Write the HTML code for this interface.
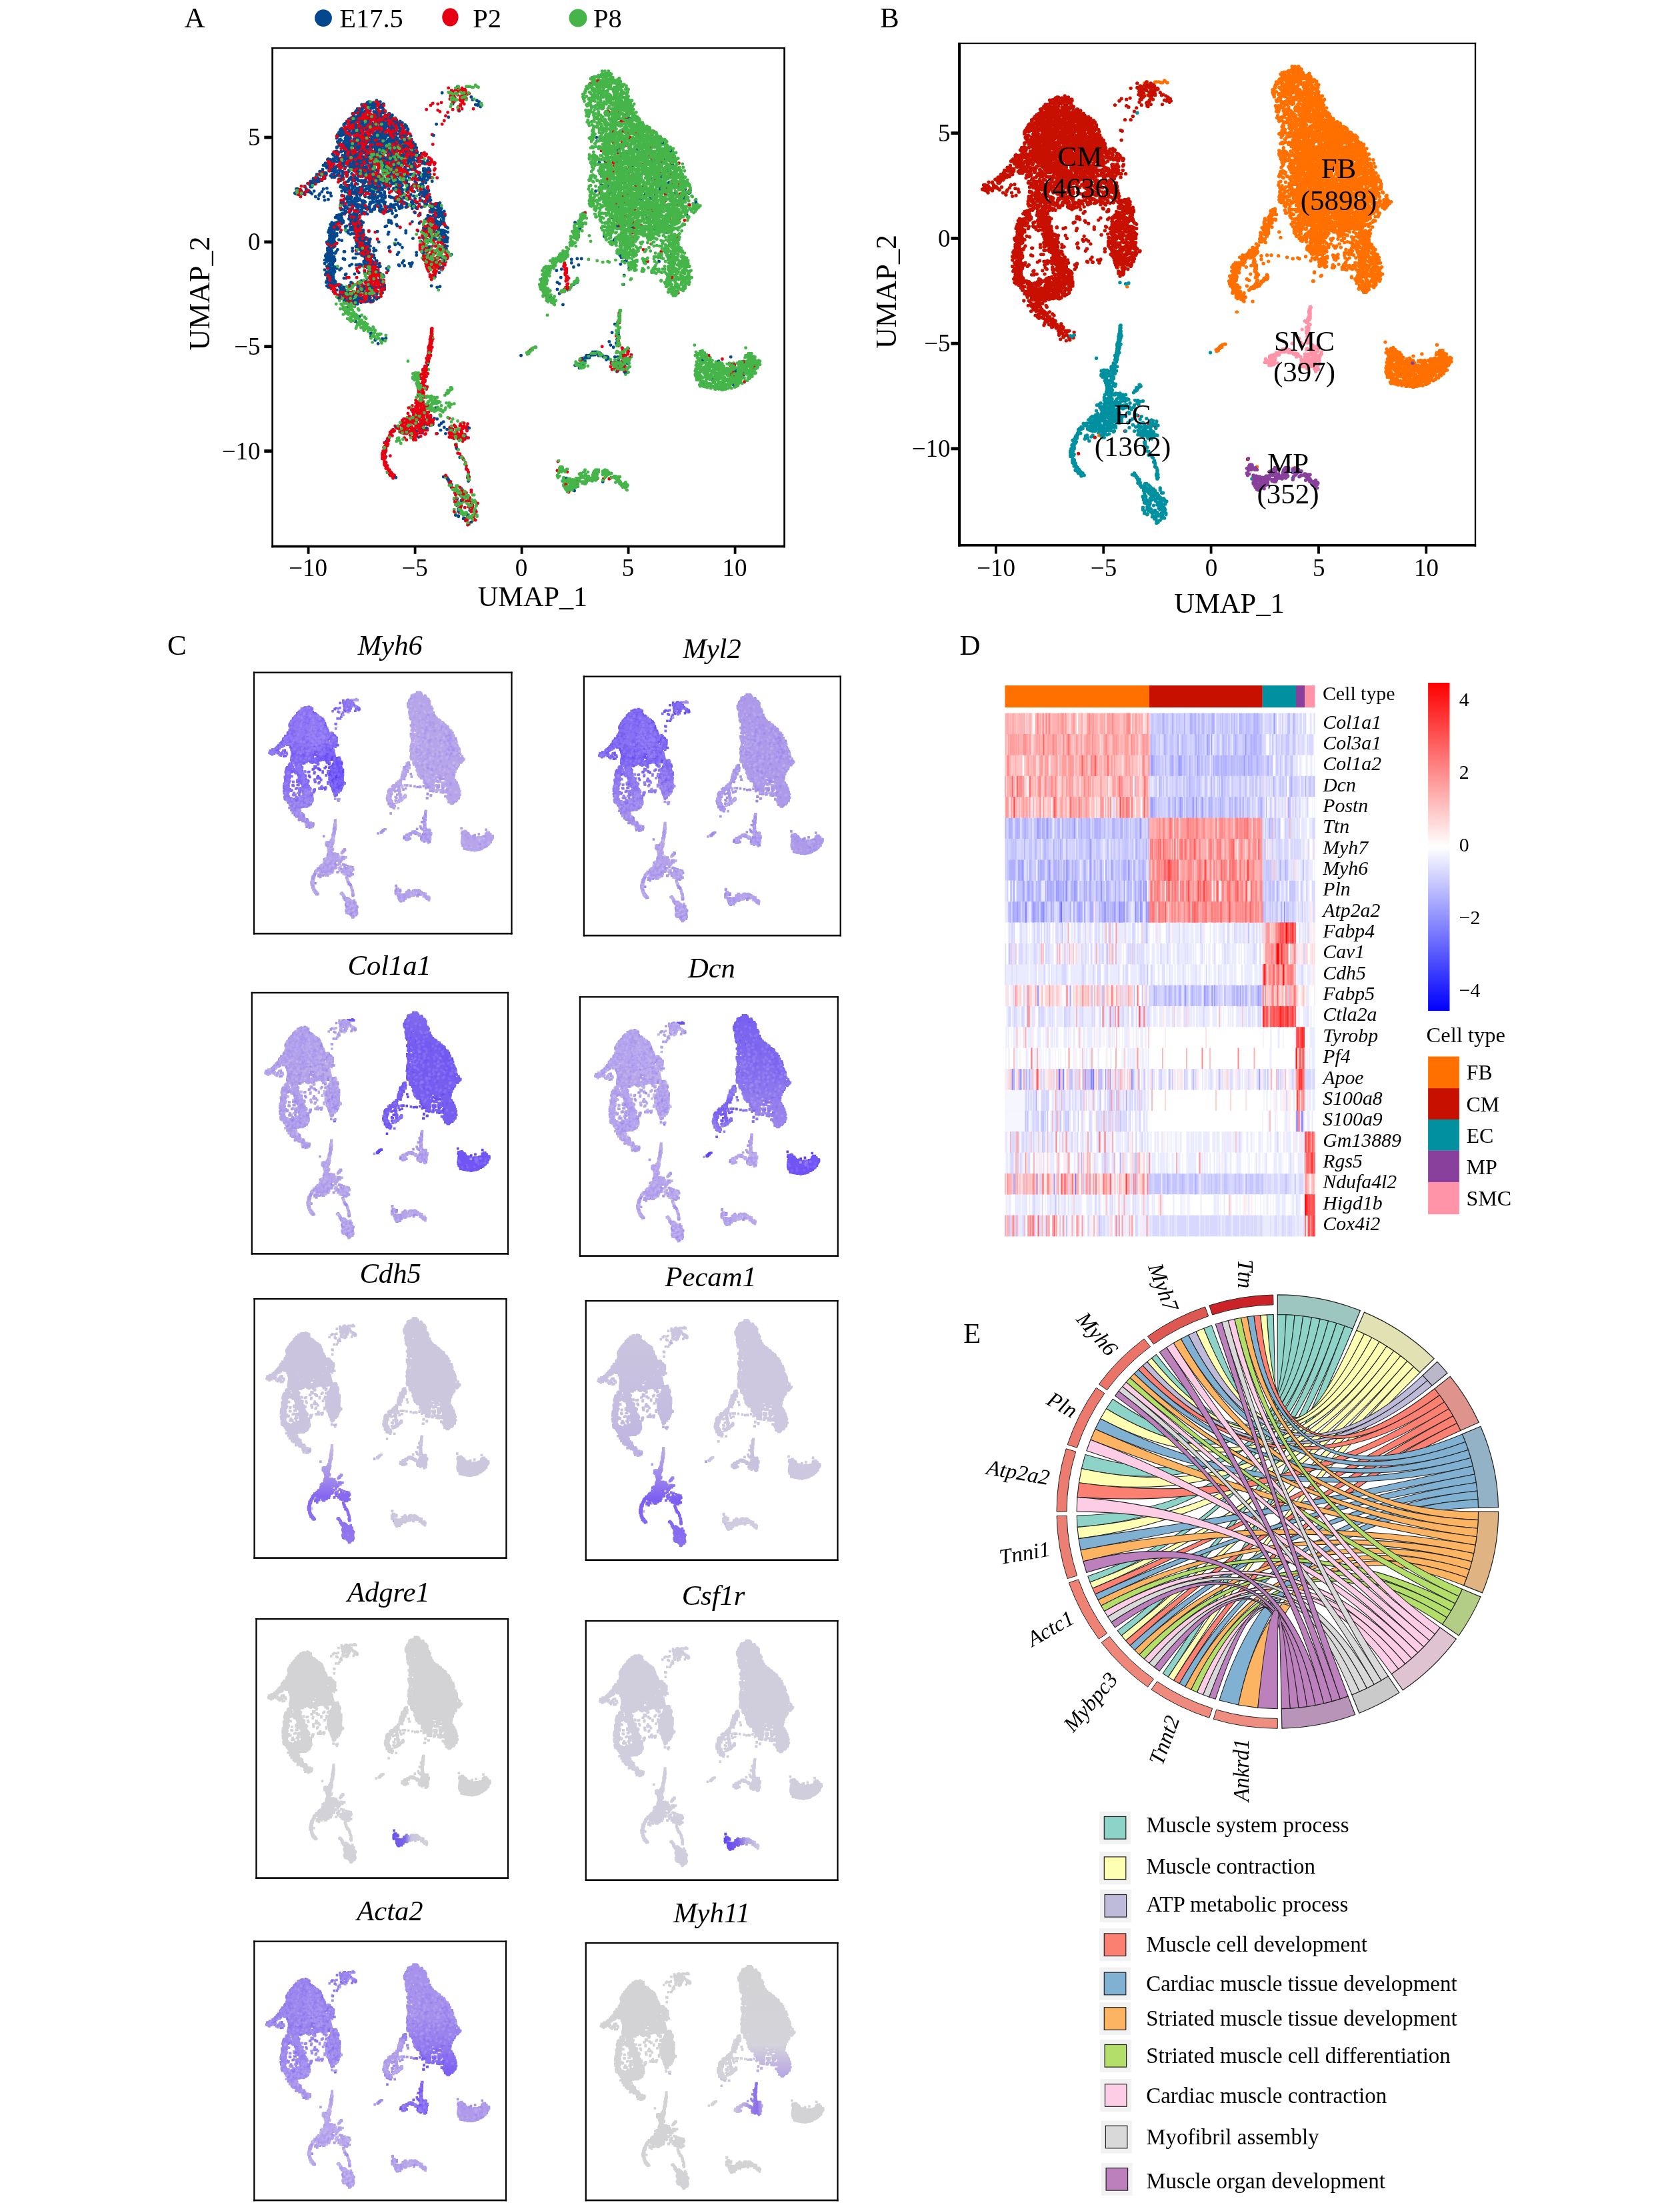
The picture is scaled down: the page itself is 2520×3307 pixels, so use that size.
<!DOCTYPE html><html><head><meta charset="utf-8"><title>fig</title><style>html,body{margin:0;padding:0;background:#fff}svg{display:block;will-change:transform}text{font-family:"Liberation Serif",serif;fill:#000}</style></head><body>
<svg width="2520" height="3307" viewBox="0 0 2520 3307">
<rect width="2520" height="3307" fill="#fff"/>
<defs>
<path id="pCME0" d="M-316 -69h0m-1 0h0m1-3h0m0-4h0m15-8h0m-4 4h0m3 8h0m-7 1h0m-2 0h0m1 1h0m0 1h0m20 4h0m-7-6h0m5-2h0m-6-9h0m9-12h0m12-16h0m-6 14h0m4 2h0m1 0h0m-9 2h0m10 1h0m-6 1h0m-4 1h0m6 1h0m-5 1h0m1 0h0m-3 1h0m9 10h0m-2 4h0m-4 5h0m7 2h0m-8 3h0m18 128h0m-4-1h0m7-4h0m-6 0h0m4-1h0m2-1h0m-10-1h0m10 0h0m-5-1h0m-4-1h0m6 0h0m-5 0h0m3 0h0m0-1h0m1 0h0m2 0h0m-2-1h0m3-1h0m-4 0h0m5-1h0m-8 0h0m5-1h0m0-1h0m3-4h0m-8 0h0m2-1h0m3-1h0m-3-1h0m4 0h0m-4-1h0m6-1h0m0-1h0m-3-1h0m1 0h0m1-1h0m-4 0h0m-3-2h0m2-2h0m5-1h0m0-2h0m-8-3h0m8-1h0m-4 0h0m0-1h0m-5-1h0m10 0h0m-7-2h0m2 0h0m2-1h0m-2-1h0m1 0h0m1-1h0m-5 0h0m6-2h0m-8 0h0m8-2h0m-3 0h0m-2-2h0m2-1h0m-3-1h0m3-1h0m2-2h0m3-2h0m-5-1h0m-1-1h0m2 0h0m2-1h0m-1 0h0m-3-1h0m4 0h0m-7-2h0m6 0h0m-6-1h0m6 0h0m3 0h0m0-1h0m-4 0h0m-2-1h0m3 0h0m2-1h0m-1-1h0m0-1h0m-1-1h0m-2-3h0m5 0h0m-4-1h0m1 0h0m3-1h0m-1-1h0m-2 0h0m2-1h0m-2-1h0m3 0h0m-2 0h0m-4-3h0m4-1h0m2-4h0m0-1h0m0-3h0m-3-40h0m-1-4h0m0-25h0m2-2h0m-8-1h0m8-4h0m-6-4h0m-1 0h0m3-2h0m-3-2h0m1-1h0m2-1h0m2 0h0m3-1h0m-6-2h0m4-2h0m-4-2h0m19-44h0m-1 1h0m-2 4h0m-1 1h0m4 1h0m-3 3h0m-1 0h0m-3 4h0m5 2h0m1 1h0m-2 0h0m-3 2h0m3 2h0m0 3h0m0 1h0m-1 0h0m-3 2h0m6 6h0m-7 0h0m1 0h0m-4 1h0m5 5h0m0 3h0m0 1h0m-3 0h0m4 2h0m-2 3h0m4 0h0m3 2h0m0 1h0m-2 1h0m-3 2h0m-2 0h0m6 3h0m-1 0h0m0 4h0m-2 4h0m-7 0h0m5 2h0m1 0h0m5 4h0m0 25h0m0 1h0m-1 9h0m-1 8h0m2 2h0m0 8h0m-4 0h0m1 1h0m-4 0h0m-2 3h0m6 1h0m3 0h0m-3 4h0m3 1h0m-6 1h0m0 1h0m-2 2h0m-1 0h0m-2 1h0m3 1h0m-3 0h0m3 1h0m-2 0h0m1 0h0m3 2h0m1 0h0m1 0h0m-6 0h0m4 1h0m-2 0h0m2 1h0m-4 5h0m2 1h0m1 0h0m-4 1h0m2 2h0m-1 2h0m-1 1h0m7 3h0m4 1h0m-10 2h0m0 6h0m-1 1h0m5 4h0m-2 3h0m-2 22h0m3 2h0m-4 3h0m1 1h0m0 1h0m1 14h0m-2 1h0m5 3h0m1 1h0m5 1h0m0 4h0m-11 2h0m1 0h0m8 1h0m1 1h0m-2 5h0m1 4h0m11 5h0m-6 0h0m2-1h0m3-5h0m3-2h0m-5 0h0m-3-4h0m-2-1h0m4-3h0m-3-1h0m0-2h0m1-1h0m8-3h0m-8-10h0m3-6h0m-2-32h0m8-25h0m-3-2h0m-3-3h0m1 0h0m5-3h0m0-2h0m-5-2h0m-5-7h0m-1-1h0m9-2h0m1-5h0m-10-3h0m1 0h0m9-1h0m-5-1h0m0-1h0m6-2h0m-5-3h0m-4-3h0m7-1h0m-7-3h0m5-5h0m4-5h0m-2-7h0m-5-1h0m3-2h0m-2 0h0m3-1h0m-1-1h0m-7 0h0m9-1h0m-6 0h0m5-1h0m-2-1h0m3 0h0m-1-6h0m1-2h0m-9-5h0m7-2h0m-6-2h0m-1-1h0m5-1h0m1 0h0m-2 0h0m5-3h0m-5-4h0m5-2h0m-8 0h0m7-1h0m-1-1h0m-3-4h0m7-1h0m-11-2h0m7-1h0m-3 0h0m0-1h0m4 0h0m-2 0h0m-3 0h0m1-3h0m7-1h0m-7-1h0m2-3h0m1-1h0m-2 0h0m-1-1h0m7 0h0m-4-2h0m4-1h0m-8 0h0m8-2h0m-7 0h0m-1-1h0m2 0h0m-4 0h0m3 0h0m6-3h0m-1-1h0m-9 0h0m8-4h0m-6 0h0m4-2h0m-2-2h0m7-1h0m-5-2h0m-1-1h0m4 0h0m-4-2h0m3-1h0m-5 0h0m0-1h0m-1 0h0m7-2h0m-5 0h0m0-3h0m3-2h0m2-2h0m-7-2h0m6-3h0m1-3h0m0-3h0m12-15h0m2 1h0m-2 1h0m-1 2h0m-2 1h0m-4 2h0m2 1h0m5 3h0m-6 1h0m7 1h0m-4 0h0m-6 0h0m1 1h0m4 0h0m-1 1h0m-1 0h0m8 1h0m-9 2h0m4 2h0m-5 0h0m-1 1h0m4 0h0m3 1h0m-2 0h0m1 0h0m3 2h0m0 1h0m-9 0h0m1 1h0m2 2h0m-2 0h0m4 2h0m-1 1h0m1 2h0m1 1h0m-5 1h0m2 1h0m2 2h0m4 5h0m-5 0h0m1 2h0m6 2h0m-6 1h0m1 0h0m-3 1h0m1 0h0m-2 0h0m8 1h0m1 1h0m-10 1h0m8 2h0m-3 2h0m4 1h0m-2 2h0m-2 3h0m5 1h0m-1 2h0m-2 2h0m-4 1h0m2 1h0m-2 1h0m4 0h0m-4 1h0m2 0h0m5 2h0m0 1h0m-6 1h0m3 1h0m-2 0h0m2 2h0m-2 0h0m-6 2h0m2 1h0m-2 0h0m5 2h0m4 1h0m-3 1h0m4 0h0m-3 1h0m3 1h0m-2 0h0m-5 0h0m5 1h0m-5 0h0m4 1h0m-2 0h0m-4 4h0m7 0h0m2 3h0m-1 3h0m-4 1h0m2 7h0m-6 2h0m4 2h0m-3 2h0m0 1h0m6 0h0m2 0h0m-7 0h0m-2 2h0m8 2h0m0 1h0m-8 2h0m10 1h0m-4 9h0m-7 0h0m9 1h0m-8 0h0m3 0h0m0 3h0m2 0h0m-6 3h0m1 0h0m5 1h0m4 0h0m-3 1h0m3 1h0m-8 1h0m8 2h0m-3 1h0m4 3h0m-5 2h0m-2 0h0m1 2h0m-5 3h0m6 1h0m4 1h0m-4 0h0m-5 1h0m4 2h0m4 1h0m-4 1h0m-5 0h0m1 1h0m7 2h0m-7 0h0m4 1h0m-1 0h0m6 1h0m-6 1h0m5 0h0m-2 1h0m-4 0h0m8 1h0m-7 1h0m4 1h0m-8 2h0m3 0h0m8 3h0m-3 2h0m-1 1h0m0 9h0m4 0h0m-3 3h0m1 2h0m0 2h0m-2 2h0m-5 2h0m5 8h0m2 0h0m-2 16h0m2 0h0m-1 5h0m-3 8h0m5 14h0m-5 13h0m6 6h0m-1 1h0m1 1h0m-5 2h0m4 3h0m-1 0h0m-3 2h0m1 1h0m-6 15h0m11 3h0m11-22h0m-9 0h0m5-1h0m-5 0h0m3-2h0m3 0h0m-4-2h0m0-16h0m-4-1h0m2-7h0m1 0h0m8-19h0m-3-2h0m-5-2h0m6-7h0m-1-1h0m2-1h0m-1-1h0m2 0h0m-2-2h0m-2 0h0m3-2h0m-1 0h0m-2-3h0m3 0h0m1 0h0m0-1h0m-3-1h0m3-2h0m-9 0h0m2-1h0m3 0h0m1 0h0m-6-3h0m9-1h0m-8 0h0m3 0h0m1-1h0m2-1h0m-7-1h0m-1-2h0m3-1h0m0-4h0m2-1h0m-3-1h0m5-1h0m-7-1h0m0-1h0m3 0h0m0-1h0m0-6h0m-4-1h0m1-1h0m-1-1h0m1-3h0m0-1h0m4-6h0m-2-12h0m1-3h0m-1-3h0m6-2h0m-4-1h0m6-1h0m-5-1h0m-4 0h0m2-2h0m2-1h0m-2-2h0m6-14h0m1 0h0m-8-1h0m0-1h0m2-3h0m4-1h0m-9-2h0m1 0h0m4-3h0m0-3h0m-3-4h0m7 0h0m-5 0h0m4-1h0m-3-6h0m1 0h0m3-1h0m-9 0h0m2 0h0m6-1h0m-3-2h0m-4 0h0m-1-1h0m8-1h0m3 0h0m-1-1h0m-5 0h0m-1-2h0m5 0h0m1-1h0m-7 0h0m1 0h0m4-1h0m-2-1h0m-6-1h0m2-3h0m3-1h0m3 0h0m-5 0h0m8-2h0m-3 0h0m-2-2h0m-1-2h0m6-1h0m-9 0h0m6 0h0m-3-1h0m6-3h0m-9-1h0m7 0h0m2-1h0m-4-3h0m-1-1h0m1-1h0m-4-1h0m7 0h0m1-1h0m-11-1h0m4 0h0m2-1h0m4-1h0m-9-1h0m0-1h0m10 0h0m-5-4h0m-5 0h0m-1-2h0m7-4h0m-2 0h0m5-1h0m-1-1h0m-7-1h0m1-1h0m2-2h0m-1-3h0m4 0h0m-6-1h0m1-2h0m5-2h0m3-1h0m-3 0h0m-5 0h0m1 0h0m1-1h0m-5 0h0m6-1h0m3 0h0m-8 0h0m9 0h0m-1-1h0m0-2h0m-8-1h0m4 0h0m-2-3h0m1-1h0m6-1h0m1 0h0m-6 0h0m-2 0h0m7-1h0m-2-1h0m-1 0h0m-6-1h0m0-4h0m1 0h0m4 0h0m1-1h0m-5 0h0m1-1h0m7-2h0m-7 0h0m3 0h0m-6 0h0m9-2h0m-7 0h0m2 0h0m-2-2h0m9-1h0m-10-1h0m3-1h0m2-2h0m-2-1h0m2-1h0m2-2h0m-5 0h0m8 0h0m-2-1h0m2-2h0m2-1h0m7 1h0m-4 0h0m7 1h0m-7 2h0m3 1h0m-1 1h0m4 2h0m-3 1h0m-6 9h0m10 1h0m-10 1h0m10 4h0m-9 0h0m5 1h0m-5 0h0m-1 0h0m9 2h0m-4 4h0m-5 0h0m0 2h0m6 1h0m-1 2h0m5 2h0m-2 1h0m-3 0h0m-4 2h0m5 0h0m-5 1h0m-1 1h0m2 1h0m5 1h0m0 2h0m1 2h0m0 1h0m-2 1h0m3 0h0m-1 1h0m-9 1h0m11 0h0m-9 1h0m9 1h0m-6 0h0m-2 1h0m-2 1h0m4 3h0m-1 2h0m3 0h0m0 1h0m1 0h0m-5 2h0m1 3h0m-4 2h0m11 3h0m-5 0h0m-1 3h0m5 0h0m1 1h0m-6 2h0m3 0h0m-7 5h0m8 4h0m-8 2h0m1 1h0m-1 1h0m2 4h0m3 1h0m-6 3h0m2 1h0m4 1h0m3 1h0m-3 2h0m1 1h0m-2 0h0m0 2h0m-5 1h0m9 0h0m1 1h0m-7 1h0m4 8h0m-1 0h0m-1 1h0m-1 2h0m-2 2h0m-1 1h0m8 2h0m-2 0h0m0 6h0m3 0h0m-3 2h0m0 1h0m4 1h0m-3 2h0m3 3h0m-3 2h0m-6 3h0m9 1h0m-2 3h0m-7 0h0m-1 1h0m8 0h0m-2 2h0m-2 3h0m-4 29h0m-1 17h0m0 4h0m8 3h0m0 4h0m-8 3h0m8 3h0m-1 1h0m-7 0h0m2 2h0m0 2h0m1 0h0m-3 2h0m4 0h0m-1 0h0m-1 1h0m2 1h0m-2 0h0m4 1h0m-5 0h0m6 0h0m-4 1h0m-2 0h0m6 3h0m-6 0h0m3 0h0m2 1h0m-5 0h0m8 1h0m-6 1h0m1 2h0m4 0h0m-6 2h0m4 1h0m3 0h0m-6 1h0m1 3h0m3 1h0m1 0h0m-5 1h0m5 1h0m-1 1h0m4 0h0m-2 2h0m-6 0h0m0 1h0m1 1h0m0 5h0m0 7h0m7 1h0m-4 2h0m-1 0h0m-5 1h0m4 2h0m3 7h0m-7 2h0m2 45h0m1 11h0m11-56h0m5-7h0m3-5h0m-1-3h0m-6 0h0m2 0h0m-6 0h0m8-1h0m-6-4h0m7-1h0m-2-11h0m-5-2h0m3-1h0m-5-2h0m2-1h0m3-7h0m-5-8h0m7-70h0m3-2h0m-1-1h0m-3-5h0m5-3h0m-2-3h0m-4-1h0m4-2h0m-2-7h0m-1-2h0m5-1h0m-5 0h0m-5-2h0m10 0h0m-6-3h0m-3-1h0m-2-1h0m3 0h0m-3-2h0m4-1h0m1-2h0m-4 0h0m9 0h0m-10-1h0m10-2h0m-2-2h0m-6 0h0m8-4h0m-5-4h0m4-6h0m-7-2h0m9-2h0m-5-1h0m4-1h0m-6-2h0m-2-1h0m7-2h0m-7 0h0m3 0h0m-3-2h0m-1-1h0m5-5h0m2-1h0m-5 0h0m2-2h0m-3-1h0m4 0h0m3-1h0m-1-1h0m-6-8h0m3-1h0m1 0h0m-4-2h0m-2 0h0m0-1h0m1-1h0m4 0h0m6-2h0m-11-1h0m3-1h0m2-1h0m-3-1h0m1 0h0m3-1h0m-5-2h0m6-1h0m1-4h0m3-1h0m-1-1h0m-4 0h0m-5-1h0m1 0h0m8-1h0m-3-1h0m1 0h0m-8 0h0m9 0h0m-5-2h0m3 0h0m0-1h0m-1-1h0m-2 0h0m-4-1h0m9 0h0m-1-1h0m-2-1h0m3-2h0m-9 0h0m0-2h0m5-2h0m5 0h0m-4-1h0m-1 0h0m-1-1h0m6-1h0m1 0h0m-11-1h0m8-3h0m-6 0h0m1-2h0m2-1h0m-2 0h0m-2-2h0m2-1h0m-3-3h0m9-2h0m0-2h0m-5-2h0m4 0h0m-3-3h0m-4-1h0m-1-1h0m9 0h0m-7 0h0m3-3h0m13 18h0m-6 1h0m7 1h0m2 2h0m-6 1h0m-1 1h0m3 0h0m1 1h0m4 1h0m-4 1h0m3 2h0m-7 2h0m-1 0h0m5 5h0m5 1h0m-2 0h0m-1 0h0m-8 2h0m6 1h0m4 1h0m1 0h0m-9 1h0m3 4h0m-4 1h0m8 0h0m0 1h0m2 1h0m-4 1h0m2 5h0m-6 1h0m2 3h0m-1 0h0m-4 1h0m7 1h0m1 0h0m-8 0h0m7 1h0m3 4h0m-2 6h0m-4 6h0m0 4h0m4 7h0m1 1h0m-5 1h0m7 5h0m-9 3h0m-2 1h0m10 0h0m-1 1h0m-6 1h0m0 1h0m6 0h0m-5 1h0m2 1h0m5 1h0m-8 1h0m2 1h0m5 1h0m-1 0h0m2 1h0m-2 8h0m-9 0h0m7 2h0m-3 1h0m6 28h0m-8 1h0m5 1h0m3 0h0m-5 0h0m-5 0h0m9 5h0m-5 1h0m6 3h0m-5 10h0m0 3h0m4 1h0m-4 13h0m1 21h0m-1 1h0m1 5h0m-4 25h0m18-4h0m-3-16h0m1-16h0m-4-38h0m2-2h0m4-10h0m3-1h0m-3-1h0m-8 0h0m0-3h0m11 0h0m-8-1h0m2 0h0m5-3h0m1-1h0m-1-1h0m0-1h0m-5-3h0m-2-1h0m5-1h0m1-1h0m1-5h0m-4 0h0m-1-1h0m6-3h0m-4-1h0m-7-1h0m10-1h0m-8-8h0m7 0h0m-4-2h0m1 0h0m-2-1h0m0-1h0m-1-2h0m8 0h0m-3-1h0m-4-2h0m6-2h0m-2 0h0m-8 0h0m3-4h0m1-1h0m-3-3h0m5 0h0m-1-5h0m1 0h0m0-1h0m-6-1h0m11-4h0m-5 0h0m-5-3h0m2-3h0m0-1h0m2-3h0m-3-2h0m2-1h0m5-3h0m-2-1h0m4-3h0m-8-5h0m-3-2h0m1-1h0m4-1h0m1-1h0m-6-1h0m3-3h0m6-1h0m-6-1h0m-2 0h0m9-1h0m1 0h0m-9-1h0m1-1h0m-3-3h0m2 0h0m1 0h0m1-2h0m6 0h0m0-4h0m-8 0h0m-2-1h0m3 0h0m5-2h0m3-1h0m-1 0h0m-9-1h0m-1-1h0m3 0h0m1-1h0m2-1h0m3-1h0m-8-2h0m1-3h0m11 12h0m1 1h0m6 3h0m-6 0h0m6 6h0m-2 2h0m-1 6h0m3 0h0m-4 3h0m3 1h0m-2 1h0m-5 0h0m0 1h0m11 2h0m0 1h0m-9 0h0m4 2h0m5 0h0m-4 1h0m4 0h0m-7 1h0m1 0h0m-3 0h0m-2 3h0m11 1h0m-1 0h0m-1 1h0m-5 0h0m-4 2h0m9 0h0m-2 1h0m-5 2h0m2 5h0m3 2h0m-7 2h0m3 1h0m6 0h0m1 0h0m-1 2h0m-8 1h0m3 5h0m0 4h0m-3 1h0m1 3h0m-1 0h0m4 1h0m-2 2h0m4 1h0m-2 2h0m5 1h0m-1 12h0m0 3h0m2 2h0m-11 1h0m6 1h0m5 7h0m-9 2h0m0 1h0m-2 5h0m2 1h0m2 1h0m2 1h0m1 1h0m1 1h0m-3 3h0m-5 0h0m6 0h0m-1 34h0m0 3h0m-5 21h0m2 19h0m-2 3h0m3 4h0m11-4h0m6-11h0m0-4h0m-5-20h0m7-11h0m-1-32h0m-8-4h0m1-4h0m6 0h0m-3-2h0m1-4h0m-6-6h0m5-4h0m5-2h0m-8-3h0m0-3h0m9-11h0m-6 0h0m-1-1h0m-2-5h0m-2 0h0m11 0h0m0-3h0m-5-3h0m-1-5h0m-2-1h0m2-2h0m-5 0h0m0-3h0m10-1h0m-1-1h0m1-7h0m-3-2h0m2-3h0m-9-1h0m9 0h0m-5-1h0m-3-3h0m3-1h0m4-1h0m-6 0h0m4-3h0m0-2h0m-6-3h0m2 0h0m13 16h0m-3 7h0m8 8h0m0 7h0m-2 0h0m0 3h0m3 0h0m2 2h0m-2 0h0m-8 1h0m6 0h0m0 3h0m4 0h0m-8 1h0m-2 2h0m10 4h0m-4 0h0m-2 2h0m0 2h0m-2 2h0m8 5h0m-6 0h0m2 3h0m3 4h0m-10 3h0m8 1h0m-2 0h0m2 2h0m-7 2h0m9 2h0m-6 2h0m-4 5h0m3 4h0m-2 11h0m8 8h0m-1 0h0m-2 11h0m2 3h0m-1 8h0m-5 8h0m3 8h0m-1 6h0m4 4h0m0 2h0m14 26h0m-7-15h0m-3-3h0m3 0h0m6-1h0m-3-8h0m3-4h0m-7-16h0m1 0h0m1-5h0m-4-13h0m7-2h0m2-1h0m-1-7h0m3-1h0m-1-1h0m-10 0h0m6-1h0m3 0h0m-5-3h0m-1-1h0m-2 0h0m7-1h0m-2-5h0m0-2h0m-3 0h0m6-1h0m-2-2h0m0-2h0m-3-1h0m4-1h0m3-1h0m-7 0h0m7-1h0m-8-5h0m1-1h0m-4-1h0m3-3h0m-2-9h0m0-1h0m5-13h0m-5-5h0m2-1h0m0-4h0m0-5h0m-1-2h0m-1-2h0m2-5h0m0-3h0m-3-3h0m17 61h0m-2 1h0m0 2h0m1 1h0m1 1h0m-5 0h0m7 3h0m-1 1h0m-5 1h0m2 1h0m8 1h0m-4 1h0m-3 0h0m3 2h0m-7 1h0m2 1h0m6 0h0m0 5h0m2 1h0m-3 1h0m-7 2h0m1 2h0m9 0h0m1 1h0m-4 1h0m-1 0h0m-4 0h0m7 0h0m-4 2h0m-3 2h0m-2 1h0m2 2h0m5 2h0m-2 0h0m4 2h0m-2 0h0m1 1h0m3 1h0m-4 2h0m1 5h0m-2 0h0m3 0h0m-5 2h0m4 1h0m-5 0h0m6 0h0m1 0h0m1 3h0m-2 4h0m0 5h0m-2 30h0m1 1h0m-4 4h0m16-25h0m1-1h0m-7-8h0m-1-3h0m0-7h0m2-3h0m-2 0h0m3-3h0m-4 0h0m1-3h0m-1 0h0m1-13h0m10-176h0m11-10h0m-2 20h0m19-16h0m6 1h0m1 7h0m2-5h0"/>
<path id="pCME1" d="M-313 -68h0m-1-2h0m-5 0h0m6-1h0m0-1h0m-2-4h0m-2 0h0m14 0h0m-7 3h0m-1 2h0m4 1h0m12 1h0m-4-3h0m0-1h0m-1-1h0m3-5h0m2 0h0m-3-4h0m5 0h0m-2-2h0m-2-1h0m7-1h0m-5 0h0m5-3h0m-3-1h0m14-19h0m-1 6h0m-4 3h0m-4 4h0m8 0h0m3 1h0m0 4h0m-10 0h0m3 23h0m7 9h0m0 86h0m0 5h0m0 9h0m11 24h0m-4 0h0m4-1h0m-8 0h0m9-2h0m-3-1h0m-2 0h0m4-2h0m-6 0h0m6-1h0m-5 0h0m2-1h0m1-2h0m-1 0h0m-3-1h0m4 0h0m1 0h0m-2-1h0m1-2h0m3 0h0m-7 0h0m3-1h0m-6-2h0m3 0h0m-4 0h0m11-1h0m-1 0h0m-7-1h0m-2 0h0m3 0h0m3 0h0m4 0h0m-7-1h0m-2-1h0m1 0h0m8-1h0m-3-2h0m2-1h0m-2-2h0m3 0h0m-5-1h0m-4-1h0m4-1h0m-1-2h0m3-1h0m-1 0h0m3-1h0m1-1h0m-6-2h0m3 0h0m-1-3h0m-5 0h0m6 0h0m-7-2h0m6 0h0m3 0h0m-5 0h0m-3-1h0m9 0h0m-10-1h0m1 0h0m-2 0h0m5 0h0m3 0h0m-5 0h0m6-3h0m-6 0h0m0-1h0m4-1h0m-1-2h0m3 0h0m-4-2h0m3-1h0m-3-1h0m4 0h0m-6 0h0m1 0h0m6-1h0m-2 0h0m-1 0h0m1-5h0m3 0h0m-2 0h0m-4-1h0m0-1h0m2-2h0m-1-2h0m1 0h0m0-1h0m-1-1h0m4-1h0m-4 0h0m4-1h0m0-1h0m-4-1h0m0-4h0m4-1h0m-6 0h0m4-1h0m1-3h0m2-1h0m-5-1h0m2-2h0m-1-3h0m4-1h0m-2-2h0m-5-33h0m-1-10h0m-1-6h0m7-16h0m-8-6h0m-1 0h0m11-3h0m-5 0h0m4-4h0m-3 0h0m3-1h0m1-1h0m-8-1h0m-3 0h0m9 0h0m2-2h0m-11-2h0m9 0h0m-6-5h0m4 0h0m4-1h0m0-6h0m-1-1h0m11-35h0m2 2h0m-2 4h0m-4 1h0m4 1h0m1 1h0m-4 0h0m-2 3h0m4 3h0m-2 3h0m-2 8h0m6 6h0m-4 1h0m-6 4h0m3 2h0m2 3h0m1 1h0m-6 2h0m1 0h0m7 7h0m-2 0h0m-3 2h0m-2 3h0m7 0h0m-4 2h0m-2 1h0m1 1h0m-2 0h0m5 1h0m5 4h0m-8 0h0m-3 2h0m11 2h0m-4 1h0m2 2h0m1 7h0m-1 2h0m2 6h0m-2 20h0m1 7h0m0 6h0m0 4h0m-4 1h0m4 0h0m-5 1h0m3 1h0m3 0h0m-4 0h0m1 1h0m-1 0h0m3 1h0m-1 1h0m-2 0h0m4 2h0m-5 0h0m-2 0h0m-3 1h0m9 0h0m-7 0h0m2 0h0m-4 1h0m0 1h0m1 0h0m3 4h0m1 2h0m-5 0h0m3 0h0m-3 1h0m-1 4h0m9 0h0m-8 2h0m2 1h0m-3 2h0m4 0h0m-4 5h0m0 2h0m0 3h0m1 0h0m0 3h0m0 2h0m1 10h0m-1 0h0m-1 5h0m0 2h0m0 1h0m1 1h0m0 2h0m-1 11h0m10 0h0m-2 2h0m-8 15h0m1 1h0m-1 1h0m2 4h0m7 1h0m-1 3h0m2 3h0m1 1h0m-7 0h0m7 2h0m-2 0h0m-8 1h0m10 0h0m-1 1h0m1 2h0m-4 6h0m12 13h0m4-6h0m-6-2h0m3 0h0m2 0h0m0-2h0m1 0h0m-2-1h0m-5-1h0m-2 0h0m5-2h0m-1 0h0m4-1h0m-9-3h0m5-4h0m-3-1h0m4 0h0m-7-5h0m5-14h0m-1-5h0m6-13h0m-7-9h0m-2-1h0m1-10h0m6-30h0m-4-2h0m0-4h0m7-4h0m-10-2h0m9-8h0m1-2h0m-10-3h0m3-1h0m1-1h0m6-1h0m0-1h0m-9-1h0m9-1h0m-4-1h0m-3-1h0m1-2h0m2-6h0m1 0h0m3 0h0m-2 0h0m-9-1h0m2-2h0m2-2h0m5 0h0m0-1h0m-2-2h0m4 0h0m-9-1h0m6-4h0m2-1h0m-6-1h0m0-1h0m-2-2h0m3-1h0m4 0h0m-6-1h0m-1-7h0m3-2h0m5-4h0m0-1h0m-9-1h0m-1-4h0m8-4h0m-8-1h0m11-2h0m0-5h0m0-4h0m-8 0h0m0-3h0m7-1h0m-8-4h0m-2-4h0m6-1h0m4-1h0m-6-1h0m3 0h0m3-2h0m-3-1h0m3-1h0m-8 0h0m8-2h0m-5-1h0m1 0h0m2-1h0m-7 0h0m4-1h0m-3 0h0m6-1h0m-5 0h0m7 0h0m-10-1h0m7 0h0m1 0h0m-8-1h0m3 0h0m3-1h0m-5-1h0m9 0h0m-6-3h0m4-1h0m0-2h0m-2 0h0m-2-2h0m6 0h0m-3-1h0m0-2h0m-1-1h0m-1-1h0m-4 0h0m0-3h0m7-1h0m2-2h0m-7 0h0m0-1h0m-2 0h0m9-2h0m-3 0h0m2-6h0m-7 0h0m2-1h0m5-1h0m2-1h0m-4 0h0m2-4h0m10-12h0m-1 2h0m4 3h0m-6 1h0m-1 2h0m4 1h0m-6 2h0m7 0h0m-4 1h0m1 0h0m-3 1h0m5 1h0m1 0h0m-5 2h0m4 5h0m-1 0h0m-4 0h0m4 4h0m-2 0h0m0 1h0m7 2h0m-8 0h0m4 0h0m4 1h0m-2 0h0m-6 0h0m6 2h0m-8 1h0m3 0h0m7 0h0m-2 0h0m-2 1h0m1 6h0m3 1h0m-7 1h0m-4 4h0m0 1h0m6 0h0m1 1h0m-2 1h0m-3 1h0m1 1h0m5 2h0m2 0h0m-10 3h0m4 2h0m2 0h0m1 6h0m3 1h0m-5 0h0m-5 0h0m6 1h0m0 1h0m-3 0h0m1 0h0m0 1h0m5 0h0m-6 1h0m1 2h0m6 0h0m-1 1h0m1 1h0m-7 1h0m1 1h0m7 1h0m-11 1h0m4 0h0m2 3h0m-6 1h0m10 0h0m-1 0h0m-2 0h0m-1 1h0m-6 0h0m4 0h0m4 0h0m1 1h0m-4 3h0m3 0h0m3 3h0m0 4h0m-6 2h0m-5 1h0m6 1h0m2 2h0m-6 2h0m8 0h0m-5 0h0m6 0h0m-10 4h0m8 1h0m-8 2h0m10 5h0m-5 2h0m5 0h0m-11 1h0m6 1h0m-2 0h0m-1 1h0m5 1h0m-4 0h0m-4 1h0m8 2h0m-7 3h0m5 1h0m4 0h0m-5 2h0m6 1h0m-8 3h0m1 0h0m5 3h0m-6 1h0m8 1h0m-2 0h0m-1 1h0m1 5h0m0 4h0m-7 3h0m6 1h0m0 4h0m-1 2h0m-1 0h0m-6 1h0m6 0h0m-1 3h0m2 2h0m3 1h0m0 3h0m-8 2h0m8 0h0m-4 0h0m-2 1h0m-2 1h0m8 0h0m1 4h0m-1 1h0m-9 1h0m3 0h0m2 0h0m2 6h0m3 0h0m-6 0h0m2 12h0m3 1h0m1 3h0m-3 2h0m-6 1h0m1 10h0m3 0h0m-5 9h0m10 12h0m-11 14h0m9 4h0m-9 3h0m11 1h0m0 4h0m-1 5h0m-7 3h0m1 0h0m7 1h0m-1 1h0m-2 0h0m-8 1h0m10 3h0m-5 1h0m-4 0h0m3 0h0m-2 0h0m1 2h0m2 1h0m4 1h0m-3 25h0m8-27h0m6-1h0m-4-1h0m7-1h0m-5 0h0m-4 0h0m1-3h0m-3-1h0m10-9h0m-5-1h0m2-4h0m-2-3h0m4-6h0m1-5h0m-3-10h0m2-7h0m-7-1h0m6-1h0m-8-1h0m10 0h0m-3-1h0m-1-2h0m5-1h0m-5 0h0m2-1h0m2 0h0m-1-1h0m0-1h0m2-1h0m-6-4h0m2 0h0m0-1h0m3 0h0m1 0h0m-3 0h0m-5 0h0m6 0h0m-8-2h0m8-2h0m-6-1h0m1-2h0m1-1h0m5-3h0m-8-1h0m-1-1h0m7-1h0m0-1h0m-3-1h0m-1 0h0m2 0h0m5-1h0m-2 0h0m-8 0h0m3 0h0m-2-1h0m4-2h0m-4-1h0m3-1h0m-3-1h0m3-1h0m-4 0h0m8-1h0m-9 0h0m1-6h0m4-1h0m-1-2h0m-3-1h0m4-1h0m-4 0h0m2-7h0m-1-3h0m-1-1h0m1-2h0m9-10h0m-7-1h0m5-1h0m-6-1h0m3 0h0m-4-3h0m5-3h0m-2 0h0m-4-2h0m7-6h0m-1-1h0m-2-1h0m-2 0h0m-3-3h0m8-3h0m-7-2h0m3-3h0m6-1h0m1 0h0m-4-2h0m-1-1h0m-3-2h0m6-4h0m-4 0h0m2-5h0m2-2h0m-7 0h0m2-7h0m6-1h0m1-1h0m-4-2h0m-1-1h0m4-3h0m-3-1h0m-1-2h0m4-3h0m-5 0h0m-4 0h0m2-4h0m1-1h0m4-2h0m-3-1h0m-3-1h0m-1 0h0m10-1h0m-5-1h0m4-1h0m-10 0h0m0-1h0m2-1h0m2 0h0m5 0h0m1-2h0m-5-4h0m-5 0h0m4-2h0m4-4h0m2-2h0m-2-2h0m-6-1h0m6-1h0m-1-2h0m-4-1h0m4 0h0m-6-1h0m9 0h0m-10-1h0m3-1h0m0-1h0m5-5h0m0-3h0m-5 0h0m-2-3h0m2 0h0m1-2h0m-1-1h0m-3 0h0m4 0h0m2-2h0m2-2h0m-3-2h0m2 0h0m-7-1h0m3 0h0m-1-1h0m-2 0h0m10-1h0m-5-1h0m4-1h0m-6 0h0m-1-1h0m9-2h0m-9 0h0m1 0h0m6-3h0m-8 0h0m2 0h0m6-2h0m-2-1h0m-2 0h0m3 0h0m-7-2h0m-1-2h0m4-1h0m3-1h0m-4-3h0m0-1h0m8-1h0m-5-5h0m5-2h0m8 0h0m-3 0h0m3 1h0m2 1h0m-6 0h0m6 1h0m-8 1h0m0 2h0m5 0h0m-2 1h0m1 0h0m3 5h0m-7 0h0m0 1h0m8 0h0m-1 5h0m-3 2h0m1 0h0m-6 0h0m9 1h0m2 1h0m-6 0h0m-1 0h0m6 1h0m-4 0h0m-2 1h0m-1 0h0m-2 1h0m2 2h0m-1 5h0m1 0h0m4 1h0m4 0h0m-10 0h0m10 3h0m-11 1h0m7 2h0m-5 1h0m3 0h0m6 3h0m-3 0h0m3 1h0m0 1h0m-9 1h0m-1 0h0m-1 2h0m7 1h0m-2 0h0m3 1h0m-3 2h0m1 2h0m3 0h0m-7 2h0m1 0h0m1 0h0m5 1h0m-6 3h0m8 0h0m-8 3h0m3 0h0m-5 0h0m2 1h0m7 0h0m0 2h0m1 4h0m-6 0h0m-4 2h0m0 1h0m0 1h0m6 0h0m1 2h0m-1 1h0m-5 3h0m1 0h0m5 2h0m3 2h0m-4 0h0m0 1h0m1 3h0m-4 0h0m4 1h0m-4 1h0m-2 1h0m2 3h0m5 0h0m-6 0h0m-1 1h0m4 1h0m1 2h0m-4 1h0m-3 0h0m3 5h0m8 1h0m-5 1h0m4 0h0m-8 2h0m2 0h0m7 0h0m-9 1h0m5 2h0m-3 1h0m3 1h0m-3 0h0m-3 1h0m0 3h0m6 2h0m-5 1h0m8 1h0m-2 0h0m-7 0h0m9 1h0m-8 3h0m3 1h0m-1 0h0m4 1h0m-2 2h0m0 2h0m-3 0h0m3 2h0m-5 2h0m8 0h0m-3 1h0m-4 0h0m4 1h0m0 4h0m-3 1h0m2 1h0m-2 1h0m0 1h0m6 3h0m-8 1h0m1 2h0m7 1h0m-4 2h0m0 1h0m-2 0h0m0 40h0m-2 2h0m0 4h0m0 1h0m-1 1h0m3 2h0m-3 2h0m2 3h0m-1 0h0m10 1h0m-11 3h0m1 1h0m2 2h0m1 0h0m1 1h0m2 0h0m-2 2h0m-1 0h0m5 2h0m-6 2h0m1 1h0m7 1h0m-11 0h0m6 1h0m-6 0h0m4 0h0m-1 2h0m6 0h0m-4 2h0m6 0h0m-4 1h0m-1 1h0m-3 0h0m3 1h0m-1 1h0m-1 2h0m3 0h0m3 2h0m-7 4h0m3 0h0m2 3h0m-2 0h0m1 1h0m-2 0h0m3 1h0m-2 0h0m1 3h0m-3 9h0m-3 2h0m4 2h0m-1 4h0m-4 4h0m0 2h0m2 3h0m7 2h0m-7 2h0m5 2h0m-3 1h0m0 46h0m6 10h0m4 5h0m-2-64h0m0-7h0m9-8h0m-3-2h0m5-3h0m-3-4h0m-6 0h0m4 0h0m-1-4h0m0-3h0m5-1h0m-1-2h0m-3 0h0m-5-3h0m2-9h0m0-4h0m-3-4h0m0-1h0m3-27h0m-2-15h0m4-29h0m-1-1h0m4-2h0m-4-2h0m1-4h0m6-1h0m-9-1h0m1-1h0m-1-2h0m-2 0h0m4-1h0m4-1h0m-1-1h0m-6-2h0m10 0h0m-4-2h0m-5 0h0m1-1h0m8-1h0m-6-3h0m-2-2h0m5-3h0m-3-2h0m-5 0h0m9-1h0m-3 0h0m-3-5h0m4-3h0m-4 0h0m6-1h0m2-1h0m-10-3h0m4-3h0m1 0h0m-6-1h0m5-1h0m-3-2h0m-1-2h0m-1-3h0m9-4h0m-2-1h0m-4-2h0m4-2h0m4 0h0m-5 0h0m0-1h0m3 0h0m1-3h0m-5-1h0m-4-2h0m6 0h0m3-1h0m-8 0h0m9-1h0m-11 0h0m2-3h0m4 0h0m-2-3h0m0-4h0m-3-1h0m2 0h0m7-1h0m-4 0h0m-5-3h0m3-1h0m6 0h0m-5 0h0m1 0h0m-5 0h0m7-2h0m-3-1h0m5-2h0m-2 0h0m-4-2h0m4 0h0m2-2h0m1-1h0m-1-2h0m-1 0h0m-9-1h0m4 0h0m3-1h0m4-1h0m-6-2h0m2-1h0m-6 0h0m0-2h0m9-1h0m0-1h0m-1 0h0m-8-1h0m2-1h0m6-1h0m1-2h0m1-1h0m-7 0h0m6-2h0m-4 0h0m4-1h0m-4 0h0m4-1h0m-2-1h0m1-2h0m-8-1h0m7 0h0m-2-1h0m-5-1h0m-1 0h0m2-3h0m3 0h0m1-2h0m-6-2h0m6-2h0m-6-1h0m9-1h0m1 0h0m-2 0h0m-8-4h0m5-3h0m3-3h0m2-2h0m-6 0h0m-3-3h0m-1-2h0m12 16h0m5 3h0m1 0h0m0 1h0m4 1h0m-6 0h0m-4 2h0m1 3h0m8 0h0m-2 1h0m3 1h0m-2 0h0m1 2h0m-2 1h0m-2 1h0m-2 0h0m5 1h0m-1 1h0m-7 0h0m9 1h0m-8 1h0m1 1h0m1 0h0m-3 2h0m9 1h0m-1 0h0m-2 1h0m0 2h0m3 2h0m2 0h0m-10 0h0m7 1h0m-2 0h0m-6 1h0m11 0h0m-6 2h0m-2 1h0m4 0h0m1 1h0m-1 1h0m-7 1h0m1 0h0m6 2h0m4 1h0m-6 0h0m3 1h0m1 1h0m-4 2h0m-5 0h0m11 0h0m-7 0h0m2 1h0m-1 1h0m1 0h0m-6 1h0m7 3h0m-7 3h0m5 1h0m-2 2h0m-3 1h0m5 1h0m1 0h0m5 0h0m-7 0h0m3 2h0m-3 0h0m2 0h0m5 1h0m-3 2h0m-8 4h0m11 1h0m-8 1h0m6 1h0m-4 0h0m-3 2h0m7 1h0m-9 0h0m10 3h0m-10 1h0m7 0h0m4 1h0m-4 1h0m0 2h0m-4 2h0m1 4h0m-2 11h0m0 1h0m6 0h0m0 1h0m-5 1h0m7 0h0m-7 3h0m-3 3h0m5 4h0m-5 10h0m6 0h0m0 1h0m2 1h0m-8 0h0m9 0h0m-9 7h0m8 3h0m-1 3h0m-1 0h0m-4 2h0m4 4h0m-5 2h0m7 13h0m-6 7h0m-2 1h0m4 11h0m1 47h0m-1 5h0m15-8h0m0-18h0m2-11h0m-7 0h0m1-7h0m6-18h0m-4-2h0m-1-2h0m-1-20h0m7-4h0m-9 0h0m6-2h0m-1-7h0m-4-1h0m8-2h0m-7-1h0m2-1h0m-5 0h0m6-1h0m4-5h0m-3-2h0m-4-2h0m-3-3h0m4-2h0m4 0h0m1-2h0m-2-2h0m-7-2h0m10-1h0m-2 0h0m-4-2h0m-1-2h0m-1-1h0m0-1h0m0-1h0m1 0h0m6-3h0m0-1h0m1-1h0m-6-3h0m-4 0h0m2-2h0m2-1h0m4 0h0m2-1h0m-10-1h0m7-4h0m-6 0h0m0-1h0m10 0h0m-4-1h0m3 0h0m-9-1h0m6 0h0m-4-4h0m5 0h0m-2-2h0m4-2h0m-5-1h0m3 0h0m-7-2h0m10-1h0m-6 0h0m-3-8h0m8 0h0m-6-1h0m0-3h0m4-2h0m2-4h0m-5 0h0m1-1h0m-3-1h0m6-1h0m-6-1h0m1-2h0m1 0h0m0-1h0m-3 0h0m8-2h0m0-1h0m1-1h0m-6-2h0m6 0h0m-2 0h0m-1-4h0m3-1h0m-9 0h0m0-1h0m2-1h0m-1 0h0m5-1h0m-5 0h0m5-1h0m-7-1h0m6-3h0m1-2h0m-8-1h0m4-2h0m-4 0h0m1 0h0m1-1h0m1-1h0m9 4h0m4 3h0m2 2h0m-3 0h0m1 2h0m4 3h0m-2 2h0m-6 3h0m1 0h0m3 2h0m-3 2h0m2 1h0m-3 2h0m6 3h0m-6 1h0m2 1h0m5 1h0m1 1h0m-3 2h0m-4 2h0m2 1h0m-3 0h0m9 0h0m-8 1h0m1 3h0m1 0h0m8 4h0m-6 0h0m0 3h0m-4 3h0m9 1h0m1 3h0m-2 1h0m-8 1h0m6 0h0m3 1h0m-2 3h0m-8 0h0m4 7h0m-1 2h0m5 1h0m3 6h0m-7 3h0m2 6h0m2 5h0m-8 2h0m8 3h0m-1 3h0m-7 0h0m0 4h0m9 9h0m-9 8h0m7 2h0m3 83h0m-7 3h0m9 1h0m1-3h0m1-61h0m4-13h0m-4-6h0m5-1h0m-2-3h0m-2-4h0m-2-1h0m1-2h0m2-7h0m1-14h0m3-4h0m-2-3h0m5-2h0m-5-3h0m-1-1h0m2-2h0m-7-10h0m6-1h0m0-1h0m-2-2h0m0-3h0m1-5h0m-3-1h0m8-1h0m-6-2h0m3-2h0m-1-4h0m-2-1h0m-2 0h0m4-2h0m-3-9h0m-2-1h0m0-1h0m2-2h0m-2-4h0m-1-5h0m12 28h0m6 8h0m-4 0h0m6 3h0m-4 0h0m4 1h0m-2 7h0m4 2h0m-3 0h0m3 5h0m-4 1h0m4 0h0m-4 1h0m2 0h0m1 1h0m-3 3h0m1 0h0m-7 0h0m0 1h0m2 1h0m0 1h0m2 1h0m5 3h0m-7 3h0m1 0h0m-3 1h0m5 0h0m-4 1h0m4 1h0m-4 1h0m9 5h0m-3 0h0m3 1h0m1 0h0m-8 0h0m-1 1h0m8 2h0m-3 0h0m-2 2h0m1 0h0m0 1h0m1 9h0m1 2h0m2 1h0m-10 15h0m10 6h0m-1 2h0m-9 4h0m10 7h0m-5 14h0m4 15h0m-3 6h0m-1 1h0m17 34h0m-1-20h0m2-1h0m-10-3h0m2-5h0m5-3h0m2-5h0m-8-6h0m6-3h0m3-8h0m-2-1h0m-5-7h0m4-3h0m-2-5h0m-5-3h0m2-1h0m0-3h0m8 0h0m-1-2h0m-2-1h0m0-1h0m-1 0h0m-7-4h0m11 0h0m-1-2h0m-10-1h0m11 0h0m-1 0h0m-3-5h0m-2 0h0m5-1h0m-2-1h0m0-1h0m-3-1h0m2-1h0m0-6h0m-7-4h0m2-34h0m-2-1h0m2-18h0m-2-5h0m8-37h0m12-61h0m-8 45h0m1 114h0m1 1h0m1 1h0m-2 1h0m2 0h0m-1 0h0m0 2h0m1 3h0m1 2h0m-1 2h0m-2 2h0m4 1h0m4 0h0m-2 3h0m-6 0h0m2 1h0m7 1h0m0 2h0m-8 4h0m8 0h0m-4 0h0m-5 2h0m0 1h0m7 0h0m-5 1h0m1 1h0m-1 4h0m3 3h0m3 0h0m-5 0h0m-1 0h0m4 1h0m4 0h0m-10 2h0m7 0h0m-2 2h0m1 0h0m4 1h0m-1 1h0m-2 1h0m-1 6h0m-3 2h0m6 0h0m-5 1h0m6 6h0m-9 6h0m5 10h0m3 4h0m0 2h0m-5 1h0m4 7h0m-4 1h0m9-24h0m-2-2h0m3-5h0m-3-6h0m3 0h0m-2-1h0m0-5h0m1-1h0m-2-2h0m4-5h0m-3-1h0m3-5h0m-1-1h0m-3-17h0m18-185h0m19 15h0m10 10h0m-4 1h0m7 3h0"/>
<path id="pCMP0" d="M-315 -69h0m-2-2h0m4-1h0m-1-3h0m-2 0h0m6-5h0m5 1h0m2 4h0m-8 0h0m7 3h0m-6 3h0m-2 0h0m7 1h0m-6 3h0m12-7h0m9-11h0m-7-1h0m5-3h0m-5 0h0m20-24h0m0 1h0m-3 9h0m1 1h0m-3 11h0m17 160h0m-3-4h0m3-3h0m-4-3h0m-3-10h0m1-4h0m-3-28h0m5-2h0m4-27h0m-10-86h0m6-7h0m4-2h0m0-3h0m-5-2h0m-3-3h0m5-2h0m12-40h0m-2 13h0m4 2h0m-5 11h0m-1 8h0m5 1h0m1 3h0m-2 4h0m2 4h0m-2 14h0m-8 0h0m1 2h0m10 4h0m-1 35h0m1 28h0m-11 32h0m2 57h0m-2 0h0m0 4h0m1 2h0m1 5h0m3 2h0m1 2h0m11 8h0m1-6h0m-5-2h0m8-5h0m-1-2h0m-8-5h0m9-15h0m1-76h0m-7-15h0m7-7h0m-4-34h0m-3-3h0m-2-15h0m2-6h0m8-2h0m-3-4h0m-1-1h0m1 0h0m2-1h0m-3-11h0m0-15h0m4-2h0m-9 0h0m8-4h0m1-8h0m-3 0h0m3-3h0m-11-6h0m7-3h0m3-7h0m-4-1h0m3 0h0m7-8h0m1 3h0m2 6h0m-7 5h0m8 3h0m-5 5h0m2 1h0m1 1h0m2 1h0m-4 3h0m7 0h0m-4 1h0m4 0h0m-6 4h0m6 0h0m-2 1h0m-5 4h0m7 0h0m-3 2h0m2 0h0m-10 2h0m7 0h0m0 1h0m1 0h0m-2 1h0m-6 2h0m2 3h0m4 1h0m-4 3h0m-1 0h0m6 1h0m1 2h0m-7 5h0m10 1h0m-10 0h0m3 2h0m0 6h0m-3 1h0m9 1h0m-10 2h0m7 1h0m-4 1h0m4 1h0m-1 2h0m4 7h0m-8 4h0m0 2h0m6 17h0m-3 1h0m-1 2h0m-3 13h0m-1 9h0m4 12h0m3 0h0m0 2h0m3 2h0m-4 2h0m-4 1h0m0 1h0m4 0h0m3 2h0m-3 0h0m0 4h0m2 1h0m-1 3h0m3 6h0m1 1h0m-2 70h0m0 7h0m2 0h0m0 5h0m-7 4h0m11 9h0m4-6h0m2-1h0m-3-3h0m1-1h0m-5-2h0m9-1h0m-1 0h0m-7-2h0m8-2h0m-3 0h0m-1-1h0m1-3h0m3-6h0m-3-39h0m2-1h0m0-5h0m-1-2h0m-5-4h0m2-5h0m0-1h0m0-1h0m3-3h0m2-1h0m-7-5h0m1-4h0m-2 0h0m-3-2h0m2-7h0m-2-15h0m11-9h0m-11-6h0m0-17h0m7-3h0m-3-1h0m0-5h0m2-5h0m3-8h0m-8-2h0m2-1h0m-1-4h0m9-1h0m-4 0h0m-5-5h0m-2-8h0m4-5h0m-2-1h0m0-1h0m1-1h0m3-1h0m4-1h0m-10-4h0m6-1h0m-6-2h0m11 0h0m-9-2h0m6-2h0m0-3h0m-1-2h0m3-3h0m-8-2h0m-2-1h0m10-1h0m-9-1h0m5-3h0m5-3h0m-6-8h0m1-4h0m-5-3h0m3-1h0m6-3h0m-9 0h0m6-4h0m-5-1h0m7-5h0m-9-4h0m9-2h0m1 0h0m-1-2h0m-9-1h0m11-4h0m-7 0h0m16-5h0m-1 1h0m-4 11h0m-2 4h0m3 1h0m4 1h0m-8 1h0m6 0h0m-2 1h0m6 0h0m0 1h0m-2 12h0m-7 4h0m6 1h0m1 1h0m-4 9h0m7 4h0m-9 2h0m7 0h0m1 5h0m-4 2h0m5 5h0m-1 4h0m-5 7h0m4 1h0m1 1h0m-7 5h0m5 2h0m2 3h0m-6 3h0m3 1h0m-7 4h0m8 8h0m-5 3h0m4 3h0m-3 2h0m4 20h0m-3 2h0m-2 9h0m-2 40h0m9 2h0m-9 12h0m1 2h0m-2 2h0m2 11h0m6 23h0m-3 2h0m-2 0h0m2 1h0m1 2h0m-5 1h0m6 0h0m-3 1h0m2 1h0m5 1h0m-9 1h0m3 1h0m2 1h0m4 1h0m0 1h0m-7 0h0m7 1h0m-7 1h0m-2 0h0m1 0h0m4 1h0m-7 6h0m5 2h0m6 0h0m-5 1h0m2 2h0m-8 1h0m4 2h0m7 1h0m-4 3h0m4 0h0m-7 4h0m3 0h0m-4 5h0m1 4h0m3 1h0m-2 1h0m-2 0h0m15-14h0m4-4h0m1-3h0m-4-1h0m0-4h0m1 0h0m-2-3h0m-3-1h0m6 0h0m-7-1h0m3 0h0m-5-1h0m8-7h0m-5-1h0m-1-6h0m2-9h0m6-72h0m-9-10h0m1-24h0m1-5h0m6-5h0m2-1h0m-10-3h0m8-1h0m-3-1h0m5-9h0m-9-1h0m7-4h0m-6-2h0m0-4h0m-2 0h0m3 0h0m-1-1h0m8-1h0m-3 0h0m-7-2h0m1-1h0m9-2h0m-10-4h0m1-3h0m6-4h0m-8 0h0m0-5h0m6-4h0m-2-4h0m4-2h0m0-2h0m-8-1h0m11-2h0m-7-5h0m2-4h0m2-2h0m-1-1h0m2-3h0m-1-6h0m-5-2h0m-1-1h0m7-1h0m2-1h0m0-2h0m-1 0h0m-7-2h0m6 0h0m-5-3h0m0-1h0m3-3h0m0-1h0m-5-2h0m1-10h0m12 22h0m3 0h0m-3 3h0m6 4h0m-5 3h0m-3 1h0m6 0h0m1 1h0m-4 4h0m-1 1h0m5 1h0m-3 2h0m3 1h0m3 1h0m-11 2h0m9 2h0m-1 1h0m-3 5h0m2 1h0m-3 8h0m7 0h0m-6 1h0m-3 2h0m9 1h0m-1 1h0m-10 0h0m3 2h0m-1 1h0m3 2h0m-2 5h0m0 6h0m0 1h0m6 0h0m-1 3h0m2 8h0m-10 0h0m2 2h0m3 6h0m-2 1h0m8 1h0m-10 9h0m4 2h0m2 2h0m-7 2h0m1 28h0m6 3h0m11-13h0m5 0h0m-2-3h0m-1-4h0m2-1h0m-5-4h0m3-4h0m-3-1h0m6-7h0m-7 0h0m-2-6h0m5-7h0m-1-1h0m-5-3h0m-1 0h0m5-1h0m3-1h0m-8 0h0m4 0h0m4-5h0m-4 0h0m3-3h0m-4-2h0m7 0h0m-8 0h0m4-4h0m1-5h0m-2-1h0m3-3h0m-7-1h0m8-1h0m2-2h0m-9 0h0m0-4h0m3-3h0m-5 0h0m1-1h0m9-2h0m-2-3h0m-8 0h0m11 0h0m-6-3h0m5-4h0m-7-4h0m5-1h0m-8-4h0m5-8h0m2-3h0m1-1h0m-3-1h0m-1-3h0m16 17h0m-7 1h0m7 1h0m-3 3h0m-1 2h0m-2 1h0m3 2h0m-4 0h0m0 8h0m-1 3h0m5 2h0m3 0h0m-5 1h0m-3 1h0m2 2h0m6 0h0m-7 1h0m10 6h0m-7 1h0m1 0h0m-2 2h0m-1 4h0m-2 0h0m6 0h0m3 1h0m-4 1h0m-3 2h0m3 1h0m-5 2h0m6 1h0m4 0h0m-6 4h0m3 5h0m-6 8h0m1 1h0m4 5h0m-4 0h0m3 2h0m4 1h0m2 7h0m-9 7h0m3 2h0m4 1h0m-1 15h0m3 25h0m10 9h0m-4-26h0m4-5h0m-1-1h0m-1-1h0m-5-23h0m-2-5h0m8-3h0m2-8h0m1-10h0m-3-2h0m-5-3h0m-2 0h0m1-1h0m3-8h0m6-2h0m-9-2h0m8-3h0m-8 0h0m6-2h0m-5-1h0m-3-1h0m4-1h0m-3-1h0m1-3h0m-2-9h0m22-52h0m-3 62h0m-3 2h0m4 2h0m-4 3h0m5 18h0m-3 7h0m-1 9h0m0 17h0m3 0h0m-4 4h0m7 1h0m-1 0h0m-10 13h0m1 11h0m1 12h0m4 5h0m3 2h0m-1 8h0m-2 0h0m5 11h0m-4 5h0m-4 2h0m0 1h0m-2 4h0m0 2h0m7 10h0m0 6h0m2 6h0m0 2h0m8 17h0m3-1h0m-6-1h0m7-3h0m-7 0h0m6 0h0m2-3h0m-10-3h0m1-1h0m8-2h0m-6-2h0m-3-2h0m9-1h0m1 0h0m-2-2h0m-9 0h0m7-1h0m2-1h0m-5 0h0m4-6h0m-6-2h0m-2-2h0m4-1h0m5-4h0m2 0h0m-10-5h0m4-2h0m5-1h0m-10-9h0m1-6h0m4-1h0m6 0h0m-8-1h0m8-1h0m-10-4h0m2-1h0m7-1h0m-1 0h0m-1-1h0m3-2h0m-1-3h0m-10 0h0m7-4h0m-5-1h0m3-5h0m-2-9h0m0-8h0m1-4h0m-2-13h0m-2-8h0m0-3h0m5-13h0m4-5h0m1-8h0m-1-7h0m-9 0h0m0-1h0m9-1h0m-5 0h0m3-26h0m-1-14h0m13-46h0m-5 2h0m3 11h0m6 13h0m-9 123h0m0 42h0m0 19h0m7 2h0m-2 4h0m-1 4h0m-5 2h0m-1 1h0m0 2h0m9 6h0m-5 0h0m-1 3h0m0 4h0m4 1h0m6-10h0m2-5h0m1-2h0m-2-1h0m-1-8h0m-1-4h0m0-4h0m0-29h0m4-162h0m7-15h0m-4-4h0m1-4h0m2-2h0m1-3h0m0-1h0m-2-2h0m10-3h0m-1 1h0m-1 1h0m3 0h0m1 1h0m-2 1h0m-1 5h0m4 3h0m-8 1h0m8 4h0m-10 1h0m1 0h0m0 1h0m6 7h0m0 3h0m0 2h0m5-2h0m3-7h0m-3-2h0m1 0h0m0-5h0m3 0h0m2-1h0m-4-4h0m-1 0h0m5-1h0m1-1h0m-2-1h0m5 0h0m-6-3h0m1-1h0m-1-2h0m-4-2h0"/>
<path id="pCMP1" d="M-314 -68h0m1-1h0m0-1h0m-2-2h0m2 0h0m1-3h0m11 1h0m-8 3h0m-1 1h0m10-14h0m10-8h0m5-5h0m7 3h0m-1 3h0m1 0h0m13 155h0m-2-1h0m-3-1h0m0-7h0m0-4h0m-3-3h0m0-10h0m5-32h0m-5-3h0m2-105h0m1-5h0m3-1h0m0-3h0m-3-2h0m-2-3h0m12-36h0m0 1h0m5 12h0m1 5h0m-10 5h0m3 2h0m3 1h0m5 6h0m-1 1h0m-10 7h0m6 2h0m4 3h0m-2 1h0m-1 17h0m-1 3h0m4 26h0m-1 11h0m-2 22h0m-3 2h0m4 3h0m-8 1h0m10 4h0m-6 19h0m-3 2h0m6 57h0m-4 2h0m-2 5h0m8 4h0m-8 0h0m10 1h0m-10 1h0m10 7h0m8 5h0m-1-6h0m5-1h0m-9-1h0m0-6h0m7-8h0m-3-13h0m3-94h0m1-3h0m-6-9h0m-2-6h0m-2-5h0m10-2h0m0-2h0m0-3h0m-7-12h0m-2-5h0m5-4h0m-1-2h0m1-4h0m-1-12h0m1-2h0m2-2h0m3-1h0m0-5h0m-4-4h0m1-3h0m-3-4h0m-1 0h0m-2-3h0m-2-3h0m9-16h0m-3-1h0m-1-2h0m-2-4h0m6-1h0m0-2h0m-5 0h0m4-5h0m0-1h0m1-3h0m12-11h0m-6 1h0m-2 6h0m10 1h0m-3 5h0m3 0h0m-8 4h0m-3 1h0m11 0h0m-8 3h0m-2 1h0m8 8h0m-1 2h0m-3 0h0m3 7h0m-8 1h0m6 0h0m-1 13h0m-4 0h0m5 3h0m-3 2h0m7 6h0m-9 1h0m-1 1h0m6 1h0m2 6h0m0 7h0m-4 2h0m1 1h0m3 4h0m-5 2h0m1 8h0m2 5h0m-4 32h0m2 6h0m5 1h0m-2 0h0m-7 8h0m7 10h0m-2 0h0m-2 0h0m3 1h0m0 4h0m0 2h0m1 0h0m2 2h0m1 0h0m-4 2h0m3 0h0m-2 1h0m1 4h0m2 1h0m-3 3h0m0 3h0m1 1h0m-1 14h0m1 26h0m1 4h0m-1 9h0m2 7h0m0 2h0m-7 1h0m0 1h0m6 7h0m0 1h0m-6 1h0m-3 1h0m7 2h0m-7 1h0m0 9h0m5 4h0m12-2h0m-4-1h0m8-2h0m-1-1h0m-2-2h0m4-1h0m-10-2h0m10-1h0m-8 0h0m6-1h0m2-4h0m-7-4h0m7 0h0m-7-2h0m7-2h0m-7-3h0m7-1h0m-8 0h0m6-1h0m-1-17h0m-7-5h0m8-1h0m2-11h0m0-1h0m-4-5h0m5-1h0m-9-1h0m3-1h0m2-4h0m1-1h0m3-3h0m-5 0h0m-6-1h0m3 0h0m1-4h0m-4-1h0m4-6h0m2-5h0m-5-6h0m0-3h0m1-2h0m-2-6h0m0-8h0m7-5h0m-1-1h0m2-11h0m-1-15h0m2-3h0m-6-2h0m-1-4h0m7-18h0m2 0h0m-8-1h0m5-7h0m-1-1h0m-4-7h0m4-3h0m-1-2h0m-4-5h0m-2-2h0m9 0h0m-8-4h0m2-1h0m8 0h0m-4-5h0m-3-4h0m2 0h0m0-3h0m2-1h0m-5-1h0m2 0h0m-2-1h0m7-3h0m-1 0h0m-5-2h0m3-3h0m-5 0h0m1-1h0m-2 0h0m3-4h0m6-2h0m-5 0h0m-2-2h0m-1-2h0m5-2h0m4-3h0m-10 0h0m7-9h0m-1 0h0m4-2h0m-8 0h0m8-1h0m-5 0h0m3-2h0m-5 0h0m2-1h0m2-1h0m-3-1h0m4-2h0m1-6h0m-1-2h0m-2-4h0m5 10h0m2 3h0m7 2h0m-1 0h0m-5 3h0m7 0h0m-2 3h0m-4 1h0m0 2h0m6 0h0m0 3h0m-7 2h0m-2 0h0m7 4h0m-4 2h0m-2 0h0m6 1h0m-8 2h0m6 2h0m-4 2h0m-2 2h0m0 2h0m10 5h0m-7 7h0m0 5h0m3 4h0m1 1h0m1 0h0m-3 1h0m-2 0h0m1 8h0m2 1h0m2 1h0m-2 0h0m-4 1h0m6 5h0m-7 3h0m2 5h0m6 5h0m1 1h0m-2 1h0m3 0h0m-8 0h0m0 3h0m0 2h0m5 2h0m-6 1h0m8 4h0m0 1h0m-8 0h0m-1 15h0m-1 83h0m5 6h0m-2 2h0m-1 1h0m0 3h0m-2 0h0m4 0h0m6 4h0m-6 0h0m-3 3h0m7 2h0m-3 1h0m6 0h0m-4 1h0m-1 3h0m3 0h0m-2 4h0m-6 1h0m9 0h0m-2 2h0m-4 1h0m2 0h0m-2 1h0m1 1h0m5 0h0m-8 1h0m6 0h0m0 2h0m1 2h0m-5 1h0m3 0h0m-2 0h0m5 1h0m-9 1h0m9 2h0m-5 1h0m3 0h0m-7 6h0m-1 1h0m1 0h0m8 1h0m-7 0h0m2 4h0m1 1h0m1 2h0m6 3h0m6-1h0m0-3h0m-5-4h0m7-2h0m-2 0h0m3-1h0m-2-1h0m-5-2h0m1-3h0m6-2h0m-8 0h0m9-2h0m-7 0h0m-1-1h0m8-2h0m-4-3h0m-2-3h0m-1-1h0m2 0h0m-3 0h0m4-1h0m-5 0h0m4 0h0m-5-1h0m1-50h0m10-39h0m-2 0h0m-4-47h0m0-3h0m0-2h0m-5 0h0m1-4h0m1-6h0m2-1h0m2-2h0m-3-2h0m-1-2h0m-1 0h0m8-5h0m-8-5h0m7-1h0m-7-3h0m6-13h0m-5-1h0m3 0h0m-4 0h0m0-22h0m6 0h0m-7-2h0m4 0h0m-3-5h0m-1-5h0m3-1h0m4 0h0m-3-2h0m0-10h0m-2-3h0m-1-5h0m1-1h0m8 0h0m-7-2h0m-3-3h0m12 13h0m5 5h0m-5 1h0m0 2h0m1 0h0m10 3h0m-5 3h0m2 1h0m3 3h0m-6 0h0m1 1h0m-1 8h0m6 1h0m-5 2h0m5 0h0m-10 0h0m-1 1h0m9 0h0m-2 2h0m1 2h0m3 3h0m0 10h0m-1 9h0m-8 0h0m3 5h0m-1 12h0m6 0h0m-6 1h0m-2 0h0m2 2h0m4 2h0m-1 2h0m0 4h0m-3 15h0m-2 6h0m7 9h0m-3 2h0m-6 20h0m1 5h0m6 60h0m-5 30h0m5 263h0m14-328h0m0-37h0m0-1h0m-6-3h0m2-3h0m4-4h0m-1-3h0m-4-1h0m4-8h0m-7-11h0m1 0h0m7-2h0m-9-2h0m6-2h0m-2-2h0m2-2h0m3 0h0m-7-1h0m8-1h0m-5-2h0m5-1h0m-10-8h0m6-1h0m-3-4h0m5-5h0m-8-2h0m9-2h0m-4-2h0m2-2h0m3-4h0m-4-1h0m-2-5h0m6-12h0m-6-5h0m0-3h0m-2-3h0m9-2h0m-8-8h0m10 12h0m0 4h0m-1 2h0m4 0h0m-1 2h0m8 1h0m-11 5h0m9 1h0m1 0h0m0 1h0m-7 2h0m8 2h0m-6 2h0m3 1h0m1 1h0m-4 7h0m-4 1h0m0 3h0m6 2h0m-1 3h0m1 0h0m0 2h0m-2 5h0m-4 0h0m2 4h0m8 5h0m-9 4h0m-2 1h0m5 2h0m-3 1h0m-1 1h0m7 1h0m-8 2h0m2 0h0m6 25h0m3 9h0m-9 7h0m4 339h0m17-322h0m0-13h0m-2-6h0m-3-2h0m-3-14h0m5-5h0m-6 0h0m6-4h0m-4 0h0m5-7h0m-7-1h0m5 0h0m-2-4h0m4-6h0m0-8h0m-3-3h0m5-9h0m-6-6h0m-5-2h0m8-3h0m-7-4h0m-1-2h0m3-1h0m-2 0h0m-1-4h0m0-5h0m22 21h0m-1 2h0m-6 2h0m-1 7h0m9 3h0m-11 2h0m1 34h0m2 0h0m8 14h0m-10 2h0m7 2h0m-1 7h0m4 21h0m-3 8h0m-3 6h0m6 0h0m0 6h0m-7 1h0m-4 3h0m7 2h0m3 0h0m-4 4h0m0 4h0m-5 0h0m0 2h0m9 1h0m-3 4h0m4 3h0m-5 6h0m2 3h0m-2 2h0m3 6h0m1 1h0m0 1h0m1 5h0m6 16h0m3-5h0m-4 0h0m3-1h0m1-5h0m-7-1h0m8-1h0m-9-1h0m2-2h0m4-1h0m5-1h0m-1-3h0m-2 0h0m0-3h0m-8 0h0m0-3h0m0-1h0m1-4h0m4-5h0m5-1h0m-3-1h0m-1-2h0m2 0h0m3-7h0m-2-4h0m-3-4h0m2 0h0m2-7h0m-10-4h0m7-1h0m-5-2h0m3 0h0m0-3h0m-3-1h0m6-2h0m-7 0h0m6-7h0m-5 0h0m5-3h0m-5-1h0m9-5h0m-1-4h0m0-12h0m1-1h0m-5-37h0m-5-8h0m8-3h0m-6-8h0m6 0h0m0-1h0m1-1h0m-7-1h0m3-1h0m-1-3h0m-2-2h0m-2-1h0m3-75h0m3-3h0m7 10h0m6 20h0m-7 77h0m9 66h0m-9 5h0m0 11h0m9 3h0m-6 4h0m0 2h0m3 2h0m-5 0h0m7 3h0m-4 6h0m6 2h0m-2 0h0m-2 0h0m4 9h0m-8 2h0m-2 0h0m9 0h0m-9 1h0m4 4h0m-4 1h0m8 2h0m-7 2h0m2 1h0m-1 1h0m6 3h0m-9 4h0m0 233h0m18-22h0m-6-220h0m3-14h0m-2-4h0m-1-2h0m0-53h0m1-141h0m10-9h0m-2-16h0m2-3h0m-3-1h0m3-6h0m-1-1h0m-5-4h0m12 0h0m6 3h0m-8 0h0m1 5h0m-2 1h0m-1 1h0m9 3h0m0 2h0m-1 2h0m1 7h0m0 2h0m-1 459h0m8 3h0m-4-469h0m0-2h0m-1-7h0m2-1h0m6-1h0m-5-1h0m-2-4h0m1 0h0m14 27h0m119 506h0m4 8h0"/>
<path id="pCMG0" d="M-316 -70h0m6-3h0m-2 5h0m24-28h0m14 140h0m11-57h0m9 75h0m-6 17h0m-1 10h0m7 0h0m12 23h0m1-4h0m-10-4h0m5-2h0m-2 0h0m4-1h0m-1-1h0m0-1h0m-4-1h0m7 0h0m-8-1h0m8-1h0m-1-1h0m-8-2h0m7 0h0m-3-8h0m5-9h0m-6-5h0m-4-160h0m18-86h0m-2 52h0m7 181h0m-9 1h0m2 2h0m2 0h0m3 0h0m1 1h0m-1 7h0m-3 3h0m-3 7h0m-3 0h0m2 4h0m-1 5h0m0 4h0m4 1h0m-4 3h0m9 0h0m1 2h0m-7 3h0m0 2h0m3 1h0m-3 1h0m-2 0h0m7 1h0m-7 1h0m6 1h0m-2 0h0m2 1h0m-2 0h0m-6 2h0m7 3h0m2 4h0m-1 3h0m11 5h0m-1-1h0m-1-1h0m-1-1h0m1-1h0m6-4h0m-10 0h0m1-1h0m-2-3h0m3-2h0m0-7h0m-3-26h0m3-5h0m-1-9h0m1-3h0m8-6h0m-5-1h0m2-6h0m2-4h0m-3 0h0m-1-9h0m0-1h0m-5-102h0m9-34h0m-9-1h0m-1-46h0m2-8h0m1-16h0m8-11h0m8 62h0m1 10h0m-2 36h0m4 0h0m-8 111h0m7 7h0m-5 4h0m-2 19h0m5 7h0m-6 50h0m9 4h0m-10 1h0m7 4h0m-4 0h0m3 0h0m1 1h0m1 2h0m-2 0h0m1 0h0m2 1h0m-5 2h0m6 2h0m9 5h0m-1-4h0m3 0h0m-5-8h0m-3 0h0m5-1h0m-2 0h0m-3 0h0m2-59h0m-3-28h0m2-101h0m7-37h0m-5-1h0m1 0h0m-4-1h0m10-8h0m-2-2h0m-1-3h0m-7-4h0m5-7h0m2-1h0m1-2h0m-8-2h0m9-1h0m-4-1h0m1-5h0m-2-3h0m3-6h0m3-5h0m-6-32h0m7 11h0m2 10h0m0 15h0m0 2h0m5 3h0m0 3h0m-6 1h0m5 2h0m-2 1h0m4 8h0m-7 2h0m1 2h0m0 1h0m4 0h0m2 5h0m0 4h0m3 0h0m-6 0h0m-1 1h0m1 2h0m1 3h0m4 8h0m0 3h0m0 3h0m-6 3h0m-3 222h0m12-136h0m9-68h0m-7-13h0m4-1h0m-3-2h0m4-15h0m1-1h0m-5-5h0m5 0h0m1-1h0m-4-9h0m5-6h0m-11-3h0m10-4h0m0-41h0m-9-10h0m11 23h0m4 9h0m-4 6h0m5 20h0m-4 0h0m8 1h0m1 2h0m-10 1h0m5 0h0m4 3h0m0 9h0m-6 5h0m7 9h0m-6 0h0m-4 5h0m7 5h0m-3 4h0m5 3h0m-6 4h0m5 7h0m12 50h0m1-69h0m-1-4h0m-1-3h0m-2-11h0m-4-34h0m22 17h0m-8 19h0m-3 22h0m1 15h0m5 32h0m0 3h0m2 15h0m1 1h0m-2 5h0m-6 2h0m6 4h0m-6 2h0m3 9h0m3 3h0m-3 6h0m5 2h0m-1 1h0m11 23h0m3-13h0m-6-12h0m-4 0h0m6-7h0m-1-5h0m-3 0h0m2 0h0m-4-11h0m6-8h0m4-2h0m1-2h0m-2-4h0m-4-1h0m-1-5h0m-2-8h0m2-1h0m-2-22h0m17 0h0m2 19h0m-6 24h0m4 3h0m-4 3h0m-1 8h0m-1 0h0m3 1h0m-1 2h0m-1 2h0m-1 1h0m3 1h0m-4 1h0m6 3h0m1 4h0m-1 1h0m4 7h0m-1 0h0m-1 11h0m4-12h0m8-8h0m-3-4h0m-5-1h0m5-229h0m14-5h0m-2 7h0m-4 7h0m17 2h0m2-8h0m-7-4h0m16 11h0"/>
<path id="pCMG1" d="M-316 -71h0m0-3h0m6 4h0m16-11h0m13-16h0m28-21h0m-6 153h0m3 49h0m3 6h0m-2 6h0m10 14h0m1-6h0m3-1h0m-3-1h0m0-4h0m-1 0h0m1-1h0m-7-1h0m1 0h0m3-2h0m5-1h0m-1-2h0m1 0h0m-4-3h0m-3 0h0m-1-1h0m-2-6h0m11 0h0m-5-6h0m5-1h0m-6 0h0m2-5h0m1-1h0m-2-4h0m-2-81h0m11-160h0m5 17h0m1 14h0m-7 5h0m-1 6h0m-1 14h0m9 132h0m2 48h0m-5 2h0m-3 2h0m-1 2h0m-2 2h0m10 4h0m-6 0h0m-3 3h0m6 3h0m-1 2h0m0 8h0m-6 1h0m2 10h0m-1 5h0m6 1h0m0 6h0m4 0h0m-7 3h0m-4 1h0m10 2h0m-3 8h0m11 3h0m5-3h0m-1 0h0m-4 0h0m-4-1h0m3 0h0m2 0h0m0-1h0m3-1h0m-10-2h0m6-1h0m-1 0h0m0-1h0m-3 0h0m7 0h0m-6-1h0m4-1h0m2-5h0m-2-2h0m2-34h0m-6-6h0m-1-1h0m0-9h0m-2-1h0m10-6h0m-6-42h0m5-105h0m-8-2h0m9-51h0m-2-24h0m7-28h0m-3 8h0m5 13h0m6 11h0m-8 4h0m5 39h0m-3 0h0m2 1h0m-3 3h0m0 2h0m7 2h0m-2 3h0m0 7h0m0 2h0m-2 1h0m0 8h0m4 9h0m-10 109h0m-1 15h0m2 0h0m0 4h0m9 3h0m-9 2h0m6 8h0m-8 8h0m2 6h0m3 3h0m-3 4h0m4 0h0m1 48h0m1 3h0m-5 1h0m1 0h0m-2 0h0m3 1h0m-5 0h0m9 3h0m-2 3h0m-1 11h0m12-2h0m-6-3h0m3-1h0m-2-4h0m8-77h0m-2-6h0m2-1h0m-2-3h0m2-135h0m-3-2h0m-3-4h0m6-3h0m0-5h0m-2-4h0m1-4h0m-1 0h0m0-3h0m-1-2h0m-5-1h0m4-7h0m-4-2h0m8-6h0m-5-1h0m5-13h0m-8-8h0m6-16h0m11 29h0m-4 2h0m4 3h0m-6 6h0m7 9h0m-5 12h0m3 2h0m3 2h0m-6 2h0m2 3h0m-3 2h0m1 7h0m2 0h0m-2 3h0m3 124h0m-4 97h0m-1 7h0m0 1h0m19-203h0m-1 0h0m-3-14h0m-3-13h0m2-1h0m9 0h0m-2-3h0m-4-5h0m-5-3h0m4-3h0m7-7h0m-11-1h0m7-2h0m-4-5h0m8-2h0m-4-2h0m-6 0h0m4-4h0m-1 0h0m4-8h0m-7-1h0m5-1h0m16-13h0m-7 2h0m0 50h0m-1 6h0m4 10h0m0 19h0m4 9h0m6 2h0m4-15h0m-3-14h0m6 0h0m-8-15h0m-2-13h0m7-16h0m11 5h0m-3 40h0m4 28h0m-1 21h0m2 1h0m-6 15h0m3 2h0m4 2h0m-1 1h0m0 6h0m0 2h0m-1 0h0m2 6h0m-5 2h0m5 5h0m-7 2h0m8 8h0m-1 7h0m11 23h0m-7-15h0m3-5h0m1-6h0m1-1h0m-4-1h0m3 0h0m1 0h0m-2-3h0m-5-2h0m8-1h0m2-5h0m-5-3h0m3-7h0m-3-3h0m-1-3h0m-3 0h0m10-6h0m-5 0h0m-1-3h0m-3-3h0m3-1h0m-3-3h0m3-5h0m-2-2h0m3-25h0m1-41h0m8 78h0m-3 3h0m4 8h0m4 10h0m2 4h0m-9 1h0m8 2h0m-5 1h0m-2 3h0m3 1h0m4 2h0m1 1h0m-9 1h0m7 4h0m-8 2h0m5 3h0m8-9h0m2-10h0m5-207h0m1-4h0m0-6h0m1-2h0m-1-1h0m2 0h0m0-5h0m-1-1h0m-4-1h0m2 0h0m14-1h0m-7 2h0m2 1h0m-5 8h0m3 1h0m3 10h0m6-14h0m3-1h0m2-1h0m-5-4h0m3-1h0m6 0h0m19 18h0m-1-3h0"/>
<path id="pECE0" d="M-183 273h0m-9 29h0m1 6h0m0 12h0m23-63h0m23 23h0m-1-37h0m-1-1h0m5-46h0m9 50h0m-9 13h0m17 3h0m-6-6h0m10-18h0m-11-62h0m13 78h0m9 4h0m-3 2h0m-3 3h0m2 7h0m4 67h0m11 15h0m-3-9h0m-1-2h0m4-61h0m-2-13h0m13 12h0m-1 0h0m-3 16h0m1 2h0m6 57h0m-6 14h0m0 1h0m2 14h0m3 2h0m-3 9h0m15 2h0m1-11h0m-10-13h0m9-1h0m-1-30h0m-1-3h0m0-1h0m1-2h0m-3-10h0m1-56h0m-2-3h0m8 116h0m0 3h0"/>
<path id="pECE1" d="M-194 140h0m-2-1h0m5-1h0m4 144h0m-3 4h0m-2 8h0m1 22h0m14 22h0m0-72h0m16 6h0m-2 1h0m15-1h0m11-10h0m3 5h0m-8 2h0m2 4h0m14-15h0m3-5h0m-5-2h0m6-12h0m-8-90h0m1-2h0m2-84h0m12 1h0m-4 1h0m10 201h0m-10 9h0m20 73h0m-4-6h0m-1-2h0m-3-65h0m2-6h0m2-448h0m14 461h0m-4 9h0m6 18h0m-8 60h0m10 2h0m-5 5h0m1 10h0m-4 6h0m4 1h0m7 4h0m1-1h0m4-4h0m-6-26h0m8-23h0m-8-33h0m3-31h0m6-12h0m5 117h0m4 1h0m-6 17h0m70-239h0"/>
<path id="pECP0" d="M-193 320h0m0-3h0m0-2h0m-3-4h0m2 0h0m-2-2h0m2-1h0m-2-2h0m3-2h0m-3-1h0m3-2h0m-2-1h0m2-3h0m-1-2h0m1-1h0m0-6h0m12-19h0m-2 2h0m-2 6h0m-1 1h0m4 0h0m-6 3h0m-1 5h0m-1 0h0m-1 1h0m2 1h0m1 2h0m-3 0h0m-1 6h0m0 2h0m1 0h0m0 1h0m-1 9h0m1 9h0m-1 4h0m3 0h0m-2 4h0m5 3h0m-1 1h0m0 1h0m-2 0h0m2 1h0m3 0h0m1 1h0m-3 1h0m3 0h0m2 1h0m-4 1h0m5 2h0m1-1h0m0-1h0m9-62h0m-9-2h0m9-1h0m-1-1h0m1 0h0m-3-1h0m-5-4h0m18-18h0m3 8h0m-5 0h0m3 1h0m-9 1h0m8 1h0m-7 2h0m9 0h0m-10 2h0m0 1h0m7 0h0m-2 0h0m-4 2h0m5 0h0m4 1h0m-3 1h0m3 0h0m1 1h0m-8 0h0m-1 2h0m4 0h0m-2 4h0m-4 1h0m3 1h0m3 0h0m5 2h0m-8 4h0m13 2h0m-2-2h0m4 0h0m1-3h0m-2-4h0m2-1h0m-7-1h0m5-1h0m0-1h0m6 0h0m-5-1h0m-5 0h0m3-1h0m3-2h0m-6-2h0m8-3h0m-3-1h0m-2 0h0m3 0h0m-2 0h0m3-1h0m-6 0h0m4-1h0m-4-1h0m-1 0h0m0-1h0m7-1h0m-5 0h0m6 0h0m-4 0h0m-3-1h0m-1 0h0m7-1h0m-1-1h0m-2 0h0m2-2h0m-3-1h0m1-1h0m4 0h0m-4-2h0m0-1h0m4-3h0m0-1h0m-2 0h0m-4-1h0m6 0h0m1-1h0m0-1h0m-2-1h0m1-1h0m-2 0h0m-5-1h0m7-1h0m1-1h0m0-2h0m0-1h0m1-1h0m0-12h0m0-5h0m12-42h0m-1 3h0m0 5h0m-2 0h0m1 1h0m1 0h0m-2 3h0m-1 0h0m-2 1h0m5 1h0m-1 2h0m-2 4h0m1 1h0m-7 3h0m4 2h0m1 0h0m-1 1h0m1 2h0m-1 1h0m3 0h0m-4 2h0m1 1h0m-3 1h0m4 0h0m-1 1h0m-3 1h0m6 1h0m-8 0h0m3 0h0m8 1h0m-8 2h0m7 1h0m-8 3h0m4 2h0m-2 1h0m-1 1h0m2 0h0m-4 3h0m-1 0h0m2 2h0m-1 0h0m4 1h0m-2 5h0m-2 0h0m-1 1h0m3 2h0m-3 0h0m4 2h0m3 0h0m-6 1h0m4 0h0m-1 3h0m3 1h0m-7 2h0m3 0h0m2 2h0m1 2h0m-5 0h0m6 3h0m-5 0h0m3 1h0m-2 0h0m1 2h0m2 2h0m-1 1h0m1 1h0m3 0h0m-7 1h0m1 0h0m-2 0h0m3 0h0m4 1h0m-3 1h0m-1 1h0m1 1h0m-2 0h0m1 1h0m7 1h0m-7 0h0m-3 2h0m5 2h0m-2 1h0m7 1h0m-7 0h0m-3 1h0m1 1h0m9 0h0m-4 0h0m2 0h0m-8 4h0m3 0h0m4 2h0m-6 3h0m13-16h0m2-3h0m2-1h0m-4-1h0m3 0h0m-5-1h0m0-1h0m-1 0h0m0-5h0m0-2h0m1-5h0m-1-8h0m0-47h0m1-22h0m1-1h0m0-2h0m-2 0h0m4-1h0m-2 0h0m-1-3h0m2-2h0m1-1h0m-2 0h0m2-2h0m-3-2h0m2-1h0m2 0h0m-1-2h0m-1-1h0m1-4h0m1-1h0m-2 0h0m2-2h0m2-3h0m-1-1h0m-2 0h0m0-1h0m2-1h0m-1-1h0m0-1h0m1-2h0m-1-1h0m0-1h0m1-2h0m0-3h0m-1 0h0m1-1h0m24 221h0m2-1h0m-2 0h0m-2-3h0m-1-2h0m0-1h0m-1-1h0m4-57h0m3 0h0m-2-4h0m-1-2h0m1-5h0m4 0h0m-2-2h0m-2-1h0m15-5h0m-4 8h0m-2 0h0m2 1h0m5 4h0m-9 1h0m4 0h0m-4 1h0m7 0h0m-4 2h0m6 1h0m-6 1h0m-4 2h0m10 1h0m-7 10h0m-1 60h0m1 3h0m3 2h0m-4 0h0m-1 2h0m8 3h0m-6 5h0m4 7h0m-3 3h0m6 0h0m-3 10h0m12 18h0m-1-7h0m4-18h0m-1-3h0m1-1h0m-11-5h0m6 0h0m3-1h0m-4-6h0m-3-1h0m3-3h0m1-1h0m2-22h0m2-1h0m-4-16h0m-1-4h0m1-36h0m0-1h0m-2-2h0m-3-1h0m3-1h0m-4-1h0m0-2h0m7-2h0m-6-4h0m7-1h0m-1-1h0m6 91h0m6 17h0m-6 1h0m2 9h0m1 10h0m0 2h0m1 3h0m-1 1h0"/>
<path id="pECP1" d="M-193 318h0m0-1h0m0-1h0m0-5h0m-1 0h0m0-2h0m-1-1h0m-1-3h0m2-1h0m1 0h0m0-2h0m0-8h0m12-22h0m-2 1h0m-2 0h0m0 3h0m-1 4h0m-3 3h0m2 2h0m-2 3h0m-2 1h0m2 3h0m-3 1h0m1 2h0m0 5h0m-1 1h0m0 9h0m1 6h0m2 9h0m1 0h0m0 1h0m2 1h0m0 2h0m2 1h0m0 1h0m0 2h0m1 0h0m1 0h0m0 1h0m-2 0h0m1 1h0m1 1h0m1 2h0m0 1h0m11-66h0m-6-6h0m3-3h0m4-1h0m10-25h0m1 12h0m-8 4h0m1 0h0m3 1h0m0 3h0m-4 1h0m3 1h0m4 2h0m-2 1h0m-6 1h0m6 0h0m-5 1h0m-2 3h0m4 1h0m3 0h0m-7 0h0m3 0h0m8 3h0m-11 1h0m4 1h0m3 0h0m-4 0h0m13 10h0m3 0h0m-4-4h0m5-2h0m-3-1h0m3 0h0m-3-1h0m4-1h0m-5 0h0m4 0h0m-3-1h0m1-1h0m-5 0h0m1-1h0m-1 0h0m1-2h0m0-3h0m8-1h0m-10 0h0m8-1h0m-1-1h0m-4-5h0m2-1h0m-2-2h0m2-3h0m5-1h0m-5 0h0m6 0h0m-8-1h0m1-4h0m7 0h0m-2-2h0m-6-1h0m4-1h0m-1-1h0m3 0h0m-7 0h0m-1-1h0m3 0h0m6 0h0m0-1h0m-3-2h0m4-7h0m-2 0h0m-2 0h0m0-4h0m4-6h0m0-7h0m-2-16h0m13-31h0m-1 12h0m-1 1h0m2 3h0m-5 1h0m4 2h0m-1 1h0m-3 2h0m-3 1h0m3 0h0m2 1h0m2 2h0m1 0h0m-4 0h0m-4 2h0m5 2h0m1 1h0m-2 2h0m-1 2h0m1 0h0m-4 10h0m3 0h0m0 2h0m1 3h0m-5 0h0m5 3h0m-2 0h0m0 2h0m5 1h0m-7 4h0m-1 2h0m4 1h0m-1 1h0m-4 0h0m1 2h0m1 0h0m-2 1h0m9 0h0m2 1h0m-9 0h0m5 1h0m3 0h0m-2 1h0m-5 1h0m6 0h0m0 1h0m-5 1h0m-1 1h0m-1 2h0m6 0h0m-3 1h0m6 1h0m0 1h0m0 1h0m-6 0h0m-2 1h0m3 1h0m-4 1h0m3 1h0m6 0h0m-5 0h0m-6 3h0m7 1h0m-4 1h0m2 1h0m2 1h0m2 2h0m2 1h0m-9 0h0m-2 1h0m5 1h0m-2 1h0m-3 2h0m1 4h0m-1 1h0m4 1h0m5 3h0m6-12h0m3-1h0m0-2h0m-2 0h0m3 0h0m-4-1h0m3 0h0m-3-3h0m2-1h0m3 0h0m-6-2h0m-1-1h0m-1-1h0m2 0h0m2-2h0m-3-78h0m0-1h0m-1-2h0m2-1h0m-1-1h0m1-2h0m0-1h0m-2 0h0m3-1h0m-2-3h0m1 0h0m1 0h0m-1-1h0m-1-1h0m2 0h0m1-2h0m-2-1h0m0-3h0m4 0h0m-5 0h0m1-2h0m1-2h0m2-1h0m-2 0h0m1 0h0m2-4h0m-1-1h0m-2-1h0m1-1h0m0-3h0m1-2h0m0-2h0m0-4h0m30 226h0m-1-1h0m1 0h0m-4-6h0m-6-12h0m10-54h0m0-5h0m-2-3h0m0-5h0m4-5h0m10 1h0m-9 0h0m1 1h0m0 1h0m1 5h0m7 0h0m-8 3h0m-3 2h0m9 1h0m-4 0h0m4 2h0m-3 3h0m-3 9h0m3 12h0m3 1h0m2 4h0m-2 44h0m-4 9h0m4 1h0m-6 1h0m-2 5h0m1 0h0m0 5h0m4 0h0m4 8h0m-9 6h0m20 18h0m0-2h0m-4-3h0m1-2h0m1-2h0m1-1h0m-4-14h0m5-1h0m-8-10h0m10-3h0m-9-5h0m-2-4h0m0-1h0m10-16h0m-1-1h0m-1-2h0m1-8h0m-1-3h0m-2-1h0m-4-14h0m-1-2h0m0-24h0m1-3h0m2 0h0m5-2h0m-8-1h0m1-2h0m-1-1h0m-1-9h0m1 0h0m1-2h0m3 0h0m-2-2h0m5-3h0m-5-1h0m10 99h0m-1 12h0m10 4h0m-7 3h0m-1 1h0m1 2h0m-2 4h0m7 2h0m-2 0h0m-5 0h0m5 2h0m1 10h0"/>
<path id="pECG0" d="M-193 296h0m4 35h0m17-59h0m-3-7h0m14-13h0m0 18h0m-1 2h0m6-9h0m6-15h0m1 0h0m1-1h0m-8-10h0m10-18h0m0-10h0m-1-3h0m2 0h0m-1-1h0m-2-2h0m3-1h0m-1-2h0m-2-3h0m-1-1h0m2 0h0m-6 0h0m5 0h0m0-1h0m-1 0h0m4-2h0m-5-2h0m5 0h0m-8-2h0m3-1h0m11-2h0m-5 9h0m1 14h0m1 0h0m-1 6h0m10 6h0m-6 1h0m-1 3h0m-2 2h0m-1 1h0m-1 0h0m6 1h0m-5 0h0m0 2h0m1 4h0m7 2h0m1 18h0m-9 11h0m22-24h0m-1 0h0m-3-1h0m3-2h0m-7-1h0m1 0h0m-4 0h0m2-1h0m0-2h0m2-1h0m-4-1h0m8-1h0m2-1h0m-10-1h0m8-1h0m-2-2h0m-3-3h0m6-1h0m-7-1h0m3-1h0m-4-38h0m0-10h0m5-35h0m0-5h0m6 95h0m3 1h0m2 1h0m-3 1h0m5 4h0m-5 2h0m-2 4h0m2 0h0m5 0h0m-1 1h0m3 1h0m-4 5h0m16 101h0m-1-1h0m-7-10h0m7-68h0m-8-29h0m7-4h0m2-4h0m-9-13h0m2-3h0m2 0h0m0-4h0m9 19h0m5 36h0m2 1h0m-6 4h0m-1 5h0m7 2h0m-1 1h0m-3 9h0m3 8h0m4 11h0m-5 41h0m-2 4h0m7 2h0m-5 0h0m-4 1h0m7 6h0m-5 4h0m7 8h0m-4 3h0m-6 6h0m9 2h0m-7 3h0m8 1h0m11 15h0m-1-14h0m-3-3h0m-4-15h0m-2-3h0m11-1h0m-10 0h0m1-1h0m2 0h0m-3-2h0m5-3h0m-2-4h0m-1 0h0m1-1h0m-3-2h0m8-24h0m-4-14h0m-3-38h0m1-16h0m-2-5h0m16 104h0m-4 9h0m2 2h0m5 5h0m-5 0h0m-2 5h0m6 3h0m2 5h0m-8 3h0m-1 0h0m3 3h0"/>
<path id="pECG1" d="M-193 295h0m7-15h0m16 9h0m-6-3h0m4-1h0m-3-3h0m2-1h0m4-13h0m-5-4h0m3-5h0m11-88h0m3 83h0m-2 9h0m-1 1h0m-2 9h0m-6 1h0m1 9h0m12-8h0m6-15h0m1-5h0m-5-3h0m5-29h0m1-22h0m0-2h0m-4-1h0m6-1h0m-6 0h0m6-1h0m-5 0h0m-2-1h0m4 0h0m-1 0h0m-4 0h0m4-1h0m2 0h0m-6 0h0m1 0h0m1-1h0m4-2h0m-1-1h0m0-1h0m0-1h0m3 0h0m3 18h0m6 4h0m-7 0h0m-1 1h0m1 8h0m-1 0h0m5 2h0m-3 1h0m-1 0h0m9 1h0m-8 1h0m0 4h0m8 5h0m1 6h0m-4 6h0m-7 5h0m6 16h0m11-3h0m4-20h0m-4-1h0m4-1h0m-6-1h0m5-1h0m-4-2h0m0-1h0m1-1h0m1-3h0m5-3h0m-10 0h0m5 0h0m-3-2h0m7 0h0m-5-2h0m5-1h0m-8-2h0m0-63h0m11 64h0m-1 9h0m1 8h0m4 0h0m-1 0h0m-4 1h0m9 3h0m-3 5h0m0 1h0m17 105h0m-5-6h0m2 0h0m1-79h0m0-6h0m0-6h0m2-4h0m-7-2h0m-3-14h0m4-3h0m1-4h0m-4 0h0m0-13h0m3-2h0m1-2h0m2-2h0m2-1h0m-1-2h0m-1 0h0m10 48h0m-2 12h0m-2 4h0m1 6h0m0 1h0m0 1h0m7 3h0m-2 1h0m3 24h0m-7 41h0m-4 5h0m6 4h0m0 1h0m2 0h0m2 0h0m1 5h0m-10 3h0m6 6h0m0 1h0m2 1h0m-4 0h0m-2 1h0m6 7h0m-1 0h0m3 4h0m9 15h0m1-8h0m-1 0h0m-6-3h0m3-1h0m-4-1h0m0-1h0m2 0h0m-3-3h0m10-7h0m-1-3h0m-2-1h0m1-8h0m-5-1h0m6-2h0m-5-6h0m5-17h0m1 0h0m-1-1h0m-1-4h0m-4-17h0m-1-6h0m-3-4h0m3-31h0m12 85h0m-1 7h0m4 1h0m1 3h0m-6 4h0m7 0h0m-2 5h0m-1 2h0m0 4h0m-2 3h0m6 2h0m-9 0h0m1 2h0m128-53h0m21 2h0m36-3h0m2-10h0"/>
<path id="pFBE0" d="M29 53h0m2 8h0m8-17h0m20-26h0m-1 53h0m-5 3h0m5 16h0m6-21h0m6-39h0m0-5h0m-9-6h0m14-34h0m3 39h0m0 34h0m-5 3h0m12-86h0m2-10h0m8-54h0m0-117h0m11 61h0m-2 72h0m12 65h0m0-78h0m-6-12h0m3-9h0m6-6h0m-10-1h0m10-8h0m3-47h0m3 11h0m3 22h0m2 3h0m-5 32h0m3 21h0m-4 22h0m15 62h0m-2-10h0m5 0h0m-1-37h0m-6-1h0m0-12h0m2-14h0m-3-62h0m8-29h0m-8-30h0m20 136h0m-1 24h0m-2 2h0m2 14h0m-6 26h0m-2 2h0m6 25h0m5-36h0m4-56h0m0-13h0m10-81h0m3 32h0m1 5h0m2 14h0m-4 18h0m-1 4h0m3 7h0m-5 6h0m20 44h0m-9-14h0m8-36h0m-4-22h0m0-10h0m16-24h0m-7 12h0m0 140h0m11-42h0m2-6h0m-2-51h0m11-27h0m8-5h0m4 25h0m-7 36h0m8 86h0m4-83h0m5-35h0m9 257h0m3 5h0m7 14h0m13-6h0m2 6h0m26-24h0m2 0h0m-2 7h0m-1 1h0m7 8h0m7-17h0m2 0h0m0 14h0"/>
<path id="pFBE1" d="M41 80h0m15-41h0m-7 2h0m6 10h0m-5 7h0m3 2h0m-3 8h0m33-100h0m-8 4h0m7 8h0m-2 53h0m-7 3h0m11-12h0m2-60h0m19-114h0m12 89h0m-5-20h0m6-34h0m12-51h0m-10 86h0m6 11h0m-4 8h0m6 26h0m2 32h0m13 64h0m-4-29h0m1-10h0m-2-3h0m-4-41h0m4-28h0m-5-66h0m3-16h0m7-9h0m2-40h0m6 4h0m1 2h0m0 43h0m3 22h0m-8 6h0m2 4h0m-3 22h0m0 52h0m9 4h0m-1 25h0m-7 24h0m-2 1h0m-1 20h0m18-108h0m4-3h0m-3-70h0m-1-45h0m16 118h0m-2 26h0m-1 62h0m12-48h0m-7-26h0m1-16h0m0-43h0m4-12h0m2-25h0m11 0h0m-5 16h0m6 7h0m-6 19h0m4 6h0m1 15h0m-3 3h0m4 12h0m1 33h0m11 48h0m-4-40h0m0-29h0m3-9h0m4-8h0m-8-12h0m1-4h0m7-2h0m-3-12h0m-6-4h0m5-4h0m2-4h0m-5-11h0m2-9h0m17 51h0m-10 1h0m4 1h0m9 15h0m6-7h0m-5-6h0m15 19h0m17 233h0m-7-7h0m13 29h0m9-27h0m17-6h0m5 29h0m-1 11h0m3-20h0m9-13h0m4 6h0m-1 11h0"/>
<path id="pFBP0" d="M36 71h0m22-1h0m0 1h0m-3 1h0m13-6h0m-6-1h0m8-3h0m-6-1h0m-2-5h0m1-1h0m1-2h0m2-1h0m-3-1h0m1 0h0m-1-1h0m0-1h0m0-5h0m0-1h0m-1 0h0m-1-3h0m1 0h0m1-2h0m-1 0h0m-2-4h0m0-3h0m18 23h0m21-275h0m8 24h0m-7 135h0m19 5h0m-4-8h0m4-21h0m0-10h0m-3 0h0m2-15h0m-6-20h0m8-82h0m10 52h0m-1 13h0m1 4h0m0 13h0m1 13h0m-1 8h0m-7 27h0m8 16h0m-10 27h0m16 17h0m-3-7h0m0-10h0m5-4h0m-1-3h0m4-42h0m0-4h0m-7-7h0m3-5h0m5-17h0m-2-30h0m-4-34h0m-4-23h0m21 20h0m-6 3h0m4 10h0m-8 2h0m0 33h0m5 2h0m2 4h0m0 5h0m-7 5h0m2 4h0m-1 3h0m0 6h0m5 57h0m0 1h0m3 7h0m2 6h0m-6 48h0m7-20h0m8-12h0m-4-4h0m1-34h0m-1-18h0m-4-15h0m0-17h0m23-28h0m-1 1h0m1 17h0m-3 76h0m5 25h0m4-33h0m0-10h0m-4-14h0m4-12h0m2 0h0m-1-13h0m4-10h0m-7-5h0m6-21h0m-7-14h0m3-5h0m12 28h0m-4 34h0m7 0h0m-5 18h0m6 3h0m1 17h0m-2 3h0m-7 35h0m3 35h0m15 23h0m-3-70h0m2-51h0m11-29h0m4 22h0m1 22h0m-3 0h0m-1 2h0m-4 13h0m5 12h0m-3 4h0m-2 10h0m3 39h0m8-42h0m7-43h0m59 249h0m4 1h0m-5 2h0m1 6h0m3 4h0m-6 13h0m11-13h0m-3-2h0m0-3h0m8-7h0m13 14h0m2 0h0m2-10h0"/>
<path id="pFBP1" d="M12 155h0m20-79h0m27-41h0m0 35h0m1 1h0m0-3h0m4-1h0m1-1h0m-1-1h0m0-4h0m1-1h0m-1-5h0m-1-2h0m1-3h0m-3-3h0m0-2h0m1 0h0m0-4h0m1-1h0m-2-1h0m0-1h0m0-5h0m-1 0h0m0-1h0m0-2h0m29-72h0m18-189h0m-11 4h0m15 156h0m8-42h0m7-92h0m-4 18h0m5 28h0m2 16h0m0 29h0m1 13h0m-9 11h0m1 35h0m9 9h0m11 5h0m-8-14h0m8-12h0m-5-44h0m2-14h0m-3-2h0m2-9h0m3-8h0m0-14h0m-1-15h0m7-5h0m-3 2h0m6 18h0m2 8h0m-7 12h0m6 32h0m-1 36h0m-6 13h0m9 13h0m-8 8h0m-1 9h0m14 21h0m0-13h0m-1-8h0m2-15h0m1-3h0m5-20h0m1-69h0m-6-11h0m2-9h0m-3-3h0m10 46h0m1 33h0m8 7h0m-10 48h0m3 34h0m6 17h0m5-25h0m-1-7h0m6-26h0m-4-15h0m-3-54h0m5-6h0m-4-32h0m2-4h0m3-7h0m17 27h0m-6 5h0m-3 17h0m9 21h0m-1 1h0m0 8h0m9 120h0m0-29h0m1-88h0m-6-12h0m6-9h0m-1-9h0m-7-11h0m6-7h0m1-6h0m9 16h0m0 20h0m-1 6h0m0 19h0m-1 4h0m3 22h0m-2 26h0m1 80h0m16-126h0m27 216h0m19 5h0m17 8h0m-2 11h0m-2 3h0m2 2h0m0 1h0m13-3h0m-2 0h0m4-18h0m1 29h0m14-21h0"/>
<path id="pFBG0" d="M34 35h0m-2 2h0m2 0h0m1 2h0m-1 3h0m0 2h0m-2 1h0m-1 1h0m-2 1h0m1 0h0m2 1h0m-1 1h0m2 2h0m2 1h0m-1 0h0m-2 2h0m-6 0h0m2 3h0m0 1h0m7 0h0m0 2h0m-6 0h0m-1 1h0m3 0h0m2 0h0m-3 2h0m-2 1h0m1 0h0m-3 0h0m7 1h0m-2 1h0m-3 1h0m5 0h0m-6 1h0m7 0h0m-1 2h0m-3 1h0m3 0h0m2 3h0m-1 1h0m-1 1h0m2 2h0m0 1h0m11 7h0m-4-1h0m4 0h0m-3 0h0m1-1h0m1-2h0m-2 0h0m-7 0h0m8-1h0m-2 0h0m-4 0h0m7-1h0m-4 0h0m-2 0h0m-3-4h0m1-2h0m3-4h0m-3-3h0m-1 0h0m0-12h0m2-8h0m-2 0h0m3-3h0m-2-1h0m-1 0h0m4-2h0m-4-1h0m1 0h0m1 0h0m0-1h0m7-1h0m-6-1h0m3-1h0m-1-1h0m3 0h0m-2 0h0m5-1h0m-2-4h0m1-1h0m-3-1h0m-3-1h0m6-2h0m12-12h0m-2 4h0m2 0h0m-5 2h0m6 0h0m-4 1h0m0 2h0m3 0h0m-7 0h0m3 1h0m-2 1h0m1 0h0m6 1h0m-11 1h0m1 0h0m1 0h0m-1 1h0m6 0h0m0 1h0m-1 0h0m-5 0h0m-1 2h0m11 39h0m-3 1h0m3 1h0m-4 1h0m7-3h0m5-1h0m-6-1h0m6 0h0m-2-2h0m5-2h0m0-1h0m-6-42h0m-3-1h0m3-1h0m-4-1h0m3-1h0m-1-1h0m2-2h0m-1-5h0m5-3h0m0-4h0m2-1h0m1-1h0m-2-7h0m2-7h0m12-24h0m0 4h0m-1 3h0m-2 2h0m3 2h0m-1 2h0m-1 0h0m-5 0h0m5 3h0m-4 3h0m1 1h0m4 1h0m-2 1h0m1 0h0m-2 0h0m-1 1h0m2 2h0m-5 0h0m3 0h0m-5 2h0m2 0h0m3 0h0m-1 1h0m0 1h0m0 1h0m-3 1h0m-2 1h0m3 0h0m1 1h0m-2 0h0m2 1h0m1 0h0m-4 7h0m5 50h0m1 3h0m-1 0h0m-1 1h0m-4 4h0m11-83h0m0-4h0m6 0h0m-2 0h0m-3-6h0m1-2h0m0-1h0m-2 0h0m2-2h0m2-2h0m1-1h0m-3 0h0m9-14h0m-1-21h0m1-43h0m0-2h0m-3-51h0m1-3h0m-2-6h0m3-1h0m-2-2h0m2-1h0m1 0h0m-1-3h0m-4-1h0m4 0h0m-2-6h0m1-1h0m-2-1h0m3-2h0m0-6h0m-7-1h0m-1-2h0m3-8h0m1-1h0m3-3h0m2-3h0m7-14h0m-2 1h0m-1 0h0m3 1h0m-2 1h0m4 2h0m3 2h0m-6 0h0m-2 0h0m4 1h0m3 1h0m-10 1h0m7 1h0m-7 0h0m3 0h0m0 1h0m6 1h0m-9 2h0m3 1h0m-3 6h0m8 0h0m-7 2h0m10 1h0m-5 3h0m3 1h0m1 1h0m1 2h0m-5 0h0m-2 1h0m-4 3h0m11 1h0m-10 0h0m-1 1h0m11 3h0m-10 0h0m6 3h0m-1 4h0m-5 2h0m3 1h0m4 2h0m-3 2h0m6 1h0m-5 1h0m0 1h0m1 0h0m2 1h0m-6 5h0m0 5h0m3 2h0m3 1h0m-5 4h0m1 6h0m2 0h0m-1 4h0m-5 1h0m0 2h0m1 0h0m9 3h0m-9 1h0m1 7h0m5 0h0m-3 8h0m0 4h0m-1 1h0m3 0h0m-2 2h0m5 1h0m-5 0h0m-1 1h0m0 2h0m4 1h0m-6 2h0m-1 1h0m3 1h0m3 1h0m4 1h0m-4 1h0m-3 6h0m-2 3h0m2 5h0m-3 1h0m7 1h0m-8 2h0m10 3h0m0 1h0m-6 1h0m4 7h0m-5 5h0m-3 3h0m1 1h0m9 4h0m-9 1h0m2 3h0m-3 1h0m0 2h0m9 0h0m-6 1h0m3 0h0m4 2h0m-8 0h0m9 3h0m-10 0h0m0 2h0m-1 0h0m2 1h0m7 0h0m-3 0h0m3 3h0m-3 1h0m2 1h0m0 1h0m-1 5h0m2 4h0m14 33h0m-1-6h0m1-1h0m-3-1h0m0-3h0m-2-3h0m4 0h0m-6-3h0m5-2h0m0-5h0m-4-1h0m5 0h0m1 0h0m-9-8h0m9-2h0m-9-2h0m4-1h0m-2 0h0m6 0h0m-1 0h0m-7-5h0m9-1h0m-7-3h0m5-3h0m-2-4h0m1 0h0m2-1h0m0-2h0m-2 0h0m-8 0h0m2 0h0m5-1h0m-6-2h0m10-2h0m-2 0h0m2-3h0m-6 0h0m6-1h0m-10 0h0m9-8h0m-4 0h0m-4-1h0m1-1h0m6-1h0m-4-1h0m3 0h0m3 0h0m-2 0h0m2-2h0m-8-1h0m7 0h0m-7-1h0m1-1h0m-2-1h0m9 0h0m-4 0h0m-3-1h0m3-1h0m1 0h0m0-1h0m3-1h0m-2 0h0m1-1h0m-3-2h0m-1-1h0m-2-1h0m3-2h0m1 0h0m3 0h0m-8 0h0m6-1h0m-4 0h0m1 0h0m2 0h0m2-1h0m-6 0h0m-2-1h0m-2-1h0m4 0h0m3-1h0m-5-3h0m4-1h0m2 0h0m3 0h0m-6-1h0m4 0h0m0-1h0m-5-1h0m2-1h0m-3 0h0m8-1h0m-1-1h0m1-1h0m-3-3h0m1-1h0m-9 0h0m11-4h0m-8-2h0m6-8h0m-1-2h0m-8 0h0m4-1h0m3-1h0m-7 0h0m3 0h0m6-2h0m2-1h0m-2-1h0m-3 0h0m3-2h0m2-1h0m-5-2h0m-4-1h0m5-1h0m4-1h0m-8-1h0m3 0h0m-5-1h0m8-1h0m-5-1h0m0-2h0m6 0h0m-5-2h0m1-1h0m-5 0h0m1-6h0m5 0h0m-3-4h0m-2-2h0m7-2h0m-1-2h0m-3-1h0m5-1h0m-1-1h0m-6 0h0m0-6h0m-2 0h0m9-1h0m-5-8h0m1-1h0m-4 0h0m0-2h0m1-1h0m3 0h0m-5 0h0m6 0h0m-2 0h0m-3-1h0m4-1h0m1 0h0m4-1h0m-1-1h0m-4 0h0m-3-3h0m-1-3h0m9 0h0m-9-1h0m1-1h0m1 0h0m6-1h0m-3 0h0m3-1h0m-1 0h0m-1-1h0m-1-2h0m-7-1h0m3-1h0m6-2h0m-5 0h0m-3-1h0m-1 0h0m7 0h0m0-1h0m-5-1h0m0-2h0m3-1h0m5-1h0m-10 0h0m7-1h0m-5-1h0m9-1h0m-11 0h0m2 0h0m4-1h0m2 0h0m-4-2h0m-2 0h0m7-1h0m-7-2h0m-2 0h0m10-1h0m-10-3h0m6-1h0m4-2h0m-6-1h0m4-1h0m-3 0h0m5-1h0m-1-3h0m4 3h0m5 1h0m-6 0h0m3 1h0m-2 2h0m7 2h0m-4 0h0m2 2h0m-3 1h0m-1 0h0m6 0h0m1 0h0m-4 1h0m-2 1h0m7 0h0m1 0h0m-2 0h0m-4 3h0m-3 3h0m3 1h0m3 4h0m0 1h0m3 0h0m-10 1h0m9 0h0m-1 2h0m-9 0h0m10 2h0m-10 0h0m3 2h0m-2 2h0m10 0h0m-9 1h0m-1 1h0m7 1h0m3 2h0m-11 1h0m1 0h0m3 0h0m1 1h0m-5 1h0m3 2h0m3 2h0m-4 6h0m8 1h0m-2 0h0m-7 0h0m9 2h0m-1 0h0m0 1h0m-9 1h0m6 1h0m1 1h0m3 0h0m-8 0h0m9 1h0m-8 0h0m3 0h0m1 1h0m-5 2h0m8 1h0m1 1h0m-8 2h0m8 0h0m-2 0h0m-6 1h0m5 0h0m2 1h0m-5 1h0m6 0h0m-1 0h0m-2 3h0m1 1h0m-4 0h0m0 1h0m3 0h0m3 0h0m-5 0h0m-2 0h0m0 1h0m3 3h0m4 0h0m-2 1h0m-3 0h0m-1 2h0m1 3h0m4 1h0m-5 1h0m2 1h0m-4 1h0m4 0h0m-2 0h0m6 1h0m-11 0h0m4 0h0m3 0h0m-1 1h0m-2 0h0m-2 0h0m5 1h0m4 0h0m-1 0h0m-8 0h0m8 1h0m0 1h0m-3 1h0m1 0h0m-4 1h0m2 1h0m-6 1h0m1 0h0m5 1h0m-5 0h0m4 1h0m-1 0h0m7 1h0m-2 2h0m-9 0h0m10 4h0m-1 0h0m-4 0h0m5 1h0m-1 0h0m-9 0h0m4 2h0m-4 0h0m6 2h0m1 0h0m1 0h0m3 1h0m-9 0h0m-1 1h0m7 1h0m-1 1h0m-6 1h0m10 2h0m-10 1h0m5 2h0m4 0h0m-6 1h0m-2 0h0m5 0h0m-2 0h0m2 1h0m-5 1h0m0 1h0m6 1h0m-8 0h0m10 1h0m-7 0h0m-2 1h0m3 1h0m-4 1h0m8 0h0m-7 1h0m4 2h0m-3 1h0m-1 1h0m1 2h0m8 1h0m-9 0h0m10 1h0m-10 2h0m9 0h0m-8 0h0m6 0h0m1 0h0m-5 1h0m-1 1h0m-2 0h0m1 0h0m6 0h0m1 0h0m-3 2h0m-3 1h0m-2 1h0m1 1h0m5 1h0m1 0h0m-7 0h0m1 0h0m1 1h0m3 1h0m1 1h0m4 0h0m-8 0h0m6 1h0m-6 3h0m8 1h0m-5 2h0m4 1h0m-9 0h0m3 0h0m-4 1h0m9 2h0m-3 1h0m-1 0h0m2 1h0m-6 2h0m4 3h0m-4 0h0m2 1h0m-2 1h0m1 0h0m0 1h0m-1 0h0m0 1h0m4 0h0m2 1h0m-1 0h0m2 2h0m-6 0h0m8 0h0m-10 1h0m8 0h0m3 1h0m-11 0h0m10 0h0m1 1h0m-7 0h0m3 1h0m-4 0h0m3 0h0m-5 0h0m5 1h0m4 1h0m-8 0h0m5 1h0m-4 0h0m-1 1h0m9 0h0m-7 1h0m1 0h0m1 1h0m-5 0h0m6 0h0m2 1h0m0 2h0m2 1h0m-8 0h0m-2 0h0m10 1h0m-11 0h0m1 0h0m5 2h0m0 1h0m-2 0h0m3 1h0m-2 0h0m1 1h0m4 1h0m-8 1h0m5 2h0m0 5h0m-3 0h0m2 1h0m5 0h0m-6 2h0m-3 3h0m0 2h0m-2 1h0m2 0h0m-1 1h0m9 1h0m-2 1h0m-6 1h0m4 2h0m0 1h0m-3 0h0m8 1h0m-7 0h0m1 1h0m1 0h0m0 4h0m-5 0h0m1 2h0m5 0h0m-1 0h0m-2 1h0m0 2h0m1 1h0m0 3h0m-2 1h0m3 4h0m2 1h0m-5 0h0m1 0h0m3 4h0m15 19h0m0-5h0m-8-2h0m8-1h0m1-2h0m-3-2h0m0-4h0m-2-1h0m2-2h0m3 0h0m-3-3h0m3 0h0m-10 0h0m0-1h0m5-1h0m5 0h0m-7-3h0m3-1h0m4 0h0m0-1h0m-11 0h0m3 0h0m8-1h0m-3 0h0m3-1h0m-2 0h0m-2-1h0m3 0h0m-1 0h0m-4 0h0m-1 0h0m6-1h0m-5 0h0m3 0h0m3-1h0m-3-2h0m-7-1h0m10-1h0m-3-3h0m0-1h0m-5 0h0m5-2h0m3-2h0m-10-2h0m6 0h0m-3-2h0m3 0h0m1-1h0m-4 0h0m0-1h0m3-1h0m-2 0h0m1 0h0m-4-1h0m7-1h0m-9 0h0m3 0h0m-2-2h0m9-3h0m-2 0h0m-8-1h0m2-1h0m4 0h0m2-1h0m-5 0h0m1 0h0m3-1h0m2-2h0m-6 0h0m5-1h0m1 0h0m-8 0h0m6-1h0m-4-1h0m2-1h0m3 0h0m0-2h0m-6 0h0m-1-1h0m1 0h0m7 0h0m-6-1h0m-2-1h0m4 0h0m-3-1h0m2 0h0m-1-1h0m4-1h0m-5-1h0m6-1h0m1-1h0m-6 0h0m4 0h0m-5 0h0m-1-1h0m7-1h0m-1-1h0m4 0h0m-6-1h0m0-1h0m5-1h0m-6 0h0m6-2h0m1 0h0m-5-1h0m3-1h0m-1-1h0m-4 0h0m5-1h0m-4-2h0m-5-3h0m4 0h0m1-2h0m6-1h0m-4 0h0m4-1h0m-4-1h0m0-1h0m-5-1h0m5-1h0m4-1h0m0-3h0m-7 0h0m-2-1h0m5-1h0m3 0h0m-5-1h0m4 0h0m-7-1h0m-2-1h0m8-1h0m-3-1h0m6-1h0m-8-1h0m8-1h0m-2 0h0m-6 0h0m-1-1h0m2-1h0m7-1h0m-2 0h0m1 0h0m1-1h0m-5 0h0m-6-2h0m1 0h0m4 0h0m4 0h0m-5-2h0m5-1h0m-6-1h0m-1-1h0m7 0h0m-9 0h0m0-1h0m11-2h0m-11-1h0m3 0h0m1 0h0m-1-1h0m-2 0h0m5 0h0m3-1h0m-9 0h0m10-1h0m1 0h0m-10-1h0m5 0h0m0-2h0m-5 0h0m-1 0h0m7-2h0m2 0h0m-8 0h0m7-1h0m-7-2h0m9-2h0m-4 0h0m4-2h0m-10-1h0m4 0h0m-2 0h0m4 0h0m-2-2h0m-4 0h0m11-1h0m-5 0h0m0-1h0m-6-1h0m10-1h0m-1-3h0m-7 0h0m6-1h0m2-1h0m-4 0h0m-4-2h0m9-1h0m-9-1h0m7-4h0m-5 0h0m-2 0h0m6-1h0m3-1h0m-8 0h0m7-2h0m-3 0h0m2 0h0m-9 0h0m11-1h0m-5 0h0m2-2h0m-4-1h0m1-1h0m-5-1h0m3 0h0m4-2h0m-1 0h0m4-2h0m-1-6h0m-1-1h0m1 0h0m-9-1h0m3 0h0m5 0h0m-8-1h0m2 0h0m4-1h0m-1-1h0m-4-3h0m10-2h0m-5 0h0m4 0h0m-10-2h0m11-1h0m-7-1h0m2-1h0m3-2h0m-3-2h0m-5 0h0m-1-2h0m11-1h0m-7-2h0m1 0h0m4-1h0m-9 0h0m10-2h0m-2-1h0m1 0h0m-7-1h0m8-1h0m-3 0h0m-2 0h0m1 0h0m-5 0h0m9-2h0m1 0h0m-4 0h0m1-1h0m-8 0h0m5-1h0m-1 0h0m5-1h0m-2 0h0m-3-1h0m4 0h0m-5-1h0m3 0h0m2-1h0m-5-1h0m3-3h0m-4-4h0m9 0h0m-4 0h0m4-2h0m-3-2h0m-6-1h0m3-1h0m-2-1h0m-1-1h0m4-2h0m4 0h0m-5-2h0m2-5h0m-1 0h0m-3-1h0m0-2h0m12 9h0m0 3h0m-1 2h0m4 0h0m-1 4h0m-1 2h0m2 4h0m-4 3h0m3 0h0m-3 2h0m4 0h0m-1 1h0m6 0h0m-3 1h0m1 1h0m-2 1h0m-6 1h0m7 0h0m-1 0h0m2 1h0m-1 0h0m-2 0h0m-2 0h0m-3 1h0m7 0h0m-2 1h0m-6 0h0m11 2h0m-3 0h0m-3 1h0m6 1h0m-2 0h0m1 0h0m-10 1h0m3 1h0m7 1h0m-1 0h0m1 1h0m-8 0h0m5 4h0m-7 1h0m4 0h0m0 1h0m2 1h0m-5 2h0m9 1h0m-2 1h0m-6 1h0m7 1h0m1 0h0m0 3h0m1 0h0m-6 0h0m1 1h0m-2 0h0m-4 1h0m10 1h0m-3 1h0m1 1h0m3 1h0m-4 0h0m-4 2h0m-1 3h0m3 0h0m-1 0h0m2 0h0m1 2h0m-2 1h0m3 0h0m-7 0h0m9 0h0m-9 1h0m3 0h0m3 1h0m3 0h0m1 1h0m-8 0h0m1 0h0m1 1h0m-3 2h0m1 1h0m-2 0h0m3 0h0m3 0h0m-2 0h0m3 1h0m-5 1h0m5 1h0m1 0h0m1 0h0m0 1h0m-4 0h0m1 1h0m-5 0h0m-1 0h0m8 0h0m-1 1h0m-6 2h0m-1 0h0m4 1h0m-3 1h0m7 1h0m-6 1h0m-1 0h0m5 3h0m2 0h0m0 2h0m2 1h0m-1 2h0m-10 2h0m8 1h0m0 1h0m3 0h0m-11 1h0m6 1h0m5 0h0m0 1h0m-9 1h0m4 1h0m-5 0h0m2 1h0m6 0h0m-7 0h0m-2 1h0m3 0h0m1 1h0m4 0h0m-8 1h0m7 0h0m-3 2h0m3 0h0m2 0h0m-2 1h0m-2 0h0m-5 1h0m2 2h0m8 2h0m-2 1h0m3 2h0m-3 2h0m-2 0h0m-2 0h0m4 1h0m0 1h0m-4 0h0m5 1h0m-9 0h0m11 1h0m-4 0h0m4 1h0m-4 0h0m0 1h0m-1 0h0m-3 0h0m4 3h0m-4 1h0m-2 3h0m6 2h0m-2 0h0m2 1h0m2 1h0m0 2h0m-7 0h0m-2 3h0m8 1h0m-4 0h0m6 0h0m1 4h0m-6 0h0m-1 0h0m2 0h0m1 1h0m2 1h0m1 1h0m-3 0h0m1 0h0m-3 1h0m-5 1h0m2 0h0m-2 1h0m10 0h0m-6 1h0m-2 1h0m4 0h0m-5 0h0m3 0h0m7 1h0m-2 1h0m-3 1h0m4 4h0m-8 0h0m-1 1h0m2 1h0m2 0h0m-2 1h0m6 0h0m-5 1h0m-4 0h0m11 1h0m-4 0h0m-6 0h0m9 0h0m0 1h0m-8 0h0m6 0h0m0 1h0m-2 0h0m-6 0h0m4 0h0m-3 1h0m1 0h0m7 1h0m-9 0h0m5 1h0m6 1h0m-10 3h0m1 1h0m3 0h0m-5 0h0m5 2h0m-4 0h0m-1 1h0m0 1h0m1 0h0m3 0h0m-1 1h0m5 0h0m-6 1h0m9 2h0m-4 0h0m-4 2h0m7 0h0m-4 1h0m-5 0h0m-1 1h0m7 1h0m-3 0h0m-4 1h0m8 1h0m2 1h0m1 0h0m0 1h0m-4 0h0m1 0h0m-7 2h0m3 1h0m2 1h0m0 2h0m-6 0h0m9 0h0m0 1h0m2 0h0m-9 0h0m-2 0h0m0 1h0m1 0h0m5 1h0m-6 0h0m10 1h0m-4 2h0m4 0h0m1 0h0m-8 1h0m-3 1h0m9 0h0m-4 1h0m-5 3h0m9 3h0m-9 1h0m2 0h0m9 1h0m-6 0h0m-5 1h0m6 1h0m-6 0h0m4 0h0m-4 2h0m8 1h0m-2 0h0m-5 1h0m0 1h0m9 0h0m-4 2h0m4 1h0m1 1h0m-6 0h0m-4 2h0m6 0h0m2 0h0m-2 1h0m-3 0h0m5 0h0m-4 1h0m3 0h0m0 1h0m-4 0h0m2 1h0m-2 1h0m6 3h0m-10 2h0m7 0h0m-5 3h0m6 0h0m-7 4h0m3 1h0m3 0h0m4 8h0m-2 0h0m-2 2h0m0 1h0m4 3h0m3 0h0m1 0h0m-2 0h0m2-2h0m0-3h0m-1-4h0m3-1h0m-3-6h0m3-2h0m-3-1h0m2-3h0m0-1h0m2-1h0m-5 0h0m6 0h0m-5-1h0m6-2h0m3-2h0m-6-1h0m-5-1h0m2-2h0m9-3h0m-7-2h0m-2 0h0m-1-1h0m2-1h0m-3 0h0m4-1h0m2 0h0m-1-4h0m3-4h0m2 0h0m-1-2h0m-3 0h0m-1-1h0m3 0h0m3-1h0m-7 0h0m-4 0h0m5-2h0m-3-2h0m8 0h0m-10-1h0m8 0h0m-3-1h0m3 0h0m-6-1h0m3 0h0m-2-1h0m5-1h0m-5-2h0m-3 0h0m3-1h0m3 0h0m-6-1h0m10-1h0m1 0h0m-11-1h0m9 0h0m-2 0h0m1 0h0m-6-3h0m1 0h0m4-3h0m-3-2h0m7-1h0m-8-1h0m6 0h0m0-1h0m-5 0h0m-2 0h0m0-1h0m3-1h0m-3-1h0m-1-5h0m4-3h0m-2 0h0m-3-1h0m4 0h0m-4-1h0m0-1h0m0-1h0m1 0h0m0-1h0m1 0h0m3-1h0m-4 0h0m3-2h0m-4-1h0m0-2h0m7-1h0m-5 0h0m6-1h0m-8-1h0m9 0h0m-8-2h0m10 0h0m-1-1h0m-9 0h0m5-3h0m-4-2h0m0-1h0m7-1h0m-1 0h0m2-1h0m-8 0h0m8-1h0m-2-1h0m-6-4h0m6 0h0m-2 0h0m3 0h0m1 0h0m-2-1h0m1 0h0m2 0h0m-7-1h0m3-1h0m-4-1h0m4-1h0m-6-1h0m9-1h0m-7 0h0m3-1h0m-6 0h0m9-1h0m-9-1h0m9-2h0m-6-1h0m8-1h0m-11-1h0m8-1h0m-4-2h0m7-1h0m-10-1h0m8 0h0m-7-2h0m6-1h0m-7-2h0m5 0h0m-6 0h0m9-1h0m-4 0h0m-3-1h0m3 0h0m1 0h0m1-2h0m0-1h0m-7 0h0m1-2h0m9-1h0m-5 0h0m3 0h0m-6-1h0m1 0h0m4 0h0m-3-1h0m5 0h0m-4-2h0m3 0h0m2-2h0m-9 0h0m1-3h0m8-2h0m-8 0h0m6-2h0m-8-2h0m3-2h0m6-1h0m0-2h0m-3-2h0m-5-1h0m2-1h0m6 0h0m-9-1h0m1-2h0m10 0h0m-6-1h0m-4-1h0m3-1h0m0-2h0m-3 0h0m8-1h0m-4-1h0m2-1h0m0-1h0m-4-1h0m7 0h0m-1-1h0m1 0h0m-9-1h0m7-1h0m-2-1h0m4-2h0m-9-1h0m1-1h0m6 0h0m-3-1h0m0-2h0m3 0h0m-2-1h0m-5-1h0m2 0h0m8-1h0m-9 0h0m8-1h0m-8 0h0m6 0h0m0-3h0m-3-2h0m5 0h0m-3-2h0m2-1h0m-1 0h0m-6-1h0m5-1h0m-5-1h0m2-1h0m-2 0h0m-1-9h0m1-8h0m12 27h0m1 3h0m-2 1h0m7 1h0m-6 0h0m4 1h0m-6 0h0m10 1h0m-8 0h0m3 1h0m-1 1h0m-1 0h0m-2 0h0m4 3h0m-5 1h0m10 0h0m-7 1h0m-3 3h0m3 1h0m3 0h0m3 0h0m-5 1h0m2 0h0m-5 4h0m1 0h0m-2 1h0m4 0h0m3 1h0m3 0h0m-5 0h0m0 1h0m1 0h0m3 3h0m-2 2h0m-1 0h0m-3 1h0m-2 1h0m2 1h0m8 1h0m-3 0h0m-3 0h0m-4 1h0m0 1h0m1 1h0m5 1h0m3 0h0m-1 2h0m0 1h0m-9 1h0m6 1h0m0 1h0m-4 0h0m1 0h0m2 1h0m2 1h0m-6 1h0m-1 1h0m9 1h0m-1 0h0m-6 0h0m-2 1h0m7 0h0m-1 1h0m-6 0h0m1 2h0m7 0h0m-5 0h0m-1 1h0m9 3h0m-3 0h0m-5 2h0m4 0h0m3 0h0m-4 3h0m-5 1h0m4 0h0m3 1h0m3 1h0m-7 0h0m4 1h0m-8 1h0m8 0h0m-5 0h0m-1 1h0m1 0h0m8 0h0m-1 0h0m0 1h0m-6 1h0m-2 0h0m7 1h0m1 0h0m-6 1h0m1 0h0m-5 2h0m8 1h0m0 4h0m-8 1h0m10 1h0m1 2h0m-2 0h0m-6 1h0m6 2h0m-1 0h0m-4 0h0m7 0h0m-8 2h0m4 4h0m-4 0h0m4 1h0m3 1h0m-5 0h0m-4 2h0m7 0h0m2 2h0m-7 0h0m4 2h0m1 3h0m-7 1h0m8 0h0m2 0h0m-4 0h0m3 0h0m-7 1h0m-3 0h0m8 4h0m-3 5h0m5 0h0m-10 2h0m9 1h0m-7 0h0m6 1h0m-2 0h0m-4 0h0m5 1h0m-7 1h0m9 1h0m-3 2h0m-4 2h0m4 1h0m-5 0h0m8 2h0m-7 1h0m1 0h0m6 5h0m-2 0h0m0 2h0m-3 1h0m0 1h0m5 0h0m0 1h0m-1 3h0m-4 0h0m7 0h0m0 1h0m0 2h0m-11 1h0m11 1h0m-9 1h0m3 0h0m-2 0h0m6 0h0m2 1h0m-11 1h0m5 1h0m2 0h0m1 1h0m-4 2h0m1 0h0m-2 1h0m8 1h0m-8 0h0m1 1h0m-4 1h0m0 1h0m3 2h0m6 3h0m1 3h0m-3 14h0m-2 3h0m4 9h0m-5 2h0m3 3h0m-3 2h0m6 7h0m-6 3h0m-2 0h0m1 2h0m12 2h0m0-1h0m2-1h0m-2 0h0m0-1h0m6-2h0m-2-1h0m0-2h0m-1-12h0m0-3h0m2-5h0m-7-3h0m4-13h0m1 0h0m4-4h0m-6-2h0m-2-2h0m3-2h0m5-1h0m-10 0h0m3 0h0m3-1h0m-3-2h0m-2 0h0m10-1h0m-7-2h0m2 0h0m-3-1h0m3 0h0m5 0h0m-10 0h0m9 0h0m-10 0h0m0-2h0m11-1h0m-11-1h0m9-1h0m-9-2h0m6 0h0m4-2h0m1-1h0m-7 0h0m-2-1h0m-2 0h0m9 0h0m1 0h0m-4-2h0m-1-1h0m1-1h0m-5-2h0m8-1h0m-6 0h0m5-1h0m-2-2h0m-5 0h0m7-1h0m-6 0h0m4 0h0m-1-1h0m2-1h0m3-1h0m-5 0h0m-3-1h0m-1-1h0m8 0h0m-5-1h0m1 0h0m6-1h0m-6-1h0m-4 0h0m8 0h0m-2-1h0m3 0h0m-9-2h0m10-1h0m-4 0h0m-6-1h0m4 0h0m1-1h0m2-1h0m2-1h0m-7 0h0m-2-1h0m6-4h0m-2-1h0m-5 0h0m8 0h0m-2-3h0m5-1h0m-8-1h0m-3-1h0m10-1h0m-10-1h0m6-1h0m3 0h0m-7-1h0m-1 0h0m3 0h0m6 0h0m1-1h0m-4 0h0m3 0h0m-6-1h0m0-3h0m-1-1h0m6 0h0m-8-1h0m0-3h0m-1-1h0m6 0h0m3-1h0m-4-1h0m4-1h0m1 0h0m1-1h0m-2-1h0m-9-3h0m0-1h0m9-1h0m-8-1h0m-1-3h0m8 0h0m-1-2h0m-4 0h0m8 0h0m-4-1h0m-7 0h0m10-1h0m-2-1h0m-5 0h0m8 0h0m-6-1h0m2 0h0m3 0h0m1-1h0m-3 0h0m-2-1h0m4 0h0m-2 0h0m1-1h0m-6-1h0m2 0h0m5-1h0m-9-1h0m6-1h0m-4 0h0m4-1h0m-5 0h0m1-1h0m5-1h0m-7-1h0m4-1h0m1-1h0m-5 0h0m7 0h0m-6 0h0m7-2h0m-3 0h0m3-2h0m-1 0h0m-8-1h0m7-1h0m3 0h0m-10 0h0m9-4h0m-9-1h0m4-1h0m3-1h0m1-1h0m-5 0h0m-2-3h0m10 0h0m-9-1h0m-2-2h0m7 0h0m1-1h0m-5-1h0m8-1h0m-11 0h0m9-1h0m-7-1h0m4 0h0m-1-1h0m-4 0h0m2-1h0m-3-3h0m9 0h0m-9-2h0m11-2h0m-7 0h0m-3-1h0m8 0h0m-1 0h0m2-2h0m-8 0h0m1 0h0m0-1h0m1-1h0m-1 0h0m-1-1h0m7 0h0m0-1h0m-5 0h0m3-1h0m-6-2h0m-1-2h0m0-2h0m14 13h0m1 1h0m-1 1h0m3 1h0m4 1h0m1 1h0m-10 0h0m0 1h0m6 1h0m-6 0h0m3 1h0m4 1h0m-3 0h0m4 2h0m-8 2h0m1 0h0m9 3h0m-8 0h0m-1 0h0m5 1h0m4 1h0m-2 0h0m-6 0h0m1 2h0m5 0h0m3 4h0m-10 0h0m5 0h0m-1 1h0m4 1h0m-8 1h0m5 0h0m-1 0h0m6 2h0m-6 0h0m-1 2h0m6 0h0m-8 1h0m9 0h0m-7 0h0m-3 1h0m9 0h0m-5 1h0m-2 0h0m6 2h0m2 1h0m-5 0h0m-5 1h0m7 0h0m-5 0h0m8 1h0m-6 1h0m-3 1h0m3 2h0m-4 0h0m3 1h0m7 0h0m-11 1h0m1 0h0m6 1h0m3 2h0m-10 0h0m8 1h0m-1 1h0m-7 1h0m7 0h0m-4 1h0m6 1h0m-8 0h0m6 0h0m1 0h0m-3 3h0m2 1h0m-5 1h0m1 0h0m1 1h0m-3 1h0m9 1h0m-10 2h0m4 0h0m4 0h0m1 1h0m-8 0h0m7 1h0m-6 1h0m2 0h0m1 1h0m-4 0h0m9 2h0m1 0h0m-7 1h0m-1 0h0m2 1h0m-5 1h0m8 1h0m-5 2h0m-1 1h0m0 1h0m4 0h0m-6 1h0m4 0h0m3 0h0m-7 2h0m3 1h0m8 1h0m0 1h0m-1 0h0m-7 4h0m3 3h0m5 1h0m-3 1h0m-1 2h0m-1 0h0m-2 0h0m0 1h0m-1 3h0m0 1h0m3 1h0m-6 1h0m1 0h0m5 1h0m1 0h0m-5 0h0m-2 1h0m4 1h0m7 1h0m-3 2h0m-8 1h0m6 0h0m-4 1h0m0 2h0m-1 0h0m4 2h0m4 2h0m-5 0h0m-3 0h0m5 1h0m3 2h0m-2 2h0m-5 0h0m6 2h0m3 0h0m-5 0h0m2 1h0m-2 1h0m4 0h0m-7 0h0m6 0h0m0 1h0m-5 0h0m-1 0h0m3 1h0m-1 0h0m5 1h0m-9 1h0m6 1h0m-6 1h0m7 0h0m0 1h0m-5 1h0m-2 0h0m9 2h0m-4 1h0m-6 0h0m4 1h0m-1 1h0m-2 0h0m10 11h0m-4 2h0m-1 3h0m4 2h0m1 1h0m-6 1h0m6 0h0m-1 2h0m1 1h0m-2 0h0m-4 1h0m6 4h0m-10 3h0m0 3h0m3 3h0m6 5h0m-9 11h0m2 4h0m1 13h0m7 2h0m-2 0h0m1 2h0m1 4h0m10 13h0m-2-3h0m1 0h0m3-1h0m-9-1h0m4-1h0m2-2h0m-4-1h0m6 0h0m-2-3h0m-8-1h0m2-2h0m-1-1h0m2 0h0m2-1h0m-3 0h0m3-1h0m-1-1h0m-3-1h0m4-1h0m1-1h0m-1-1h0m-5 0h0m9-1h0m-6-2h0m-1-1h0m6-1h0m-7-1h0m9 0h0m-8-2h0m2-3h0m6-1h0m-6 0h0m6-2h0m-8 0h0m1 0h0m6-3h0m-2-2h0m0-1h0m2 0h0m2-3h0m-6 0h0m1-1h0m0-1h0m1 0h0m4-1h0m-6 0h0m1-1h0m1-1h0m4 0h0m-4-1h0m2 0h0m-5-1h0m4-1h0m-6 0h0m8 0h0m-8-1h0m3 0h0m-4-1h0m2-2h0m-3-2h0m9-3h0m-8 0h0m3-1h0m7-1h0m0-1h0m-2 0h0m-7-1h0m-2-2h0m1 0h0m6-1h0m4-1h0m-2 0h0m-2 0h0m-2 0h0m-1-1h0m6 0h0m-7 0h0m3-2h0m0-1h0m5-3h0m-1-1h0m-5-1h0m3 0h0m-4-1h0m7-1h0m-5-2h0m5-2h0m-5-1h0m0-4h0m-4 0h0m5-1h0m-2 0h0m-3-1h0m4-1h0m-5 0h0m1 0h0m-1-1h0m7 0h0m0-2h0m-8 0h0m11 0h0m-9-1h0m9-4h0m-3 0h0m1-1h0m-2 0h0m4-1h0m-5 0h0m0-1h0m2-2h0m3 0h0m-11-1h0m0-2h0m9-1h0m-9-2h0m9-1h0m-8-1h0m6-1h0m-2 0h0m-2 0h0m5-1h0m2-1h0m-8 0h0m4-2h0m-2 0h0m7 0h0m-4 0h0m-7-2h0m10-1h0m-2 0h0m-7-2h0m6 0h0m-5 0h0m8-1h0m-9-2h0m7 0h0m-7-2h0m7 0h0m-8 0h0m10-1h0m-2 0h0m2-5h0m-5 0h0m5-1h0m-5 0h0m2-2h0m-5 0h0m1 0h0m2 0h0m0-2h0m3-1h0m1-1h0m-7-1h0m7 0h0m2-1h0m-11-1h0m11 0h0m-2 0h0m-1 0h0m-1-1h0m-1-2h0m-5-1h0m4 0h0m-1-1h0m7-3h0m-7 0h0m2-1h0m0-2h0m-4-1h0m7 0h0m-5-2h0m-4-1h0m11 0h0m-5-2h0m-2 0h0m1 0h0m6-3h0m-2 0h0m-7-2h0m2-1h0m-1 0h0m0-1h0m-2 0h0m10-1h0m-8-3h0m8 0h0m-3-2h0m-7 0h0m-1-1h0m11-1h0m-6 0h0m0-1h0m-3-1h0m2-1h0m-3 0h0m-1 0h0m9-1h0m-5-1h0m-4 0h0m7-2h0m-5 0h0m6-1h0m3 0h0m-4 0h0m-3-1h0m-4 0h0m1-2h0m5-1h0m0-1h0m1 0h0m-1-1h0m0-2h0m4 0h0m-6-1h0m7 0h0m-8-1h0m8 0h0m-2 0h0m-1-1h0m-4-1h0m6 0h0m-7-1h0m-3-1h0m11 0h0m-10-1h0m4 0h0m3 0h0m-4-1h0m6 0h0m-6-1h0m1-1h0m-5 0h0m10-1h0m-2-1h0m-4-1h0m2 0h0m2-1h0m-7-1h0m4-1h0m2 0h0m-1 0h0m-5 0h0m8-1h0m-4-1h0m0-1h0m-4-2h0m-1-1h0m15 19h0m-2 3h0m-1 1h0m1 2h0m1 2h0m4 5h0m-3 1h0m-3 1h0m5 0h0m-3 2h0m-1 1h0m1 0h0m6 1h0m0 1h0m-8 2h0m7 1h0m-7 1h0m11 2h0m-6 1h0m5 1h0m-1 1h0m-1 1h0m2 0h0m1 1h0m-4 1h0m3 0h0m1 2h0m-7 0h0m-1 0h0m5 1h0m-4 0h0m3 0h0m1 1h0m2 0h0m1 2h0m-8 1h0m5 0h0m-3 1h0m-5 0h0m11 1h0m0 1h0m-3 1h0m-1 1h0m2 1h0m-4 0h0m6 2h0m-11 0h0m11 3h0m-10 0h0m2 2h0m6 1h0m-6 1h0m5 0h0m-6 1h0m8 1h0m-3 0h0m-7 2h0m0 1h0m11 2h0m-7 0h0m3 0h0m-6 1h0m7 1h0m-2 0h0m-2 0h0m-2 1h0m7 0h0m-1 4h0m2 0h0m-6 0h0m4 1h0m3 1h0m-2 1h0m-7 1h0m9 0h0m-11 1h0m5 1h0m6 0h0m-1 2h0m-1 2h0m-4 0h0m3 1h0m-3 0h0m-2 1h0m-1 2h0m1 0h0m5 0h0m-3 1h0m3 0h0m-2 0h0m5 1h0m-7 1h0m3 0h0m-6 1h0m3 0h0m1 0h0m-5 0h0m6 1h0m-4 2h0m-2 2h0m0 1h0m4 0h0m1 0h0m-2 1h0m-1 1h0m-1 0h0m8 3h0m-3 2h0m-4 2h0m7 3h0m-3 4h0m-3 5h0m-3 1h0m0 1h0m2 0h0m2 2h0m-2 1h0m-1 3h0m3 1h0m0 2h0m0 1h0m1 3h0m-4 0h0m2 1h0m4 0h0m3 4h0m-3 0h0m-7 3h0m1 1h0m2 1h0m7 2h0m-2 1h0m3 2h0m-9 2h0m2 1h0m-3 0h0m1 0h0m7 2h0m1 0h0m-3 1h0m2 1h0m-4 2h0m-2 1h0m3 2h0m2 1h0m-6 3h0m-2 0h0m3 1h0m1 0h0m6 1h0m-6 1h0m-4 1h0m10 0h0m-2 1h0m0 1h0m-7 3h0m6 0h0m3 1h0m-9 2h0m3 2h0m1 1h0m-5 2h0m9 1h0m0 1h0m-6 3h0m6 0h0m-4 2h0m0 2h0m-5 0h0m11 0h0m-3 3h0m2 0h0m-10 3h0m3 2h0m-3 4h0m13-10h0m1-1h0m-1-3h0m-1 0h0m2-2h0m1-2h0m-1-1h0m6 0h0m-3-7h0m6 0h0m-5-4h0m0-2h0m2-3h0m-3 0h0m5-1h0m-9 0h0m3 0h0m-4-2h0m2-2h0m2-1h0m4-1h0m-8 0h0m1-1h0m4-1h0m-5 0h0m0-1h0m3 0h0m3-1h0m-2-4h0m2 0h0m-2-4h0m-4-1h0m6-56h0m-1-11h0m4-2h0m-9 0h0m1-4h0m3 0h0m3-3h0m-5-3h0m0-4h0m3-1h0m-5-1h0m0-1h0m6 0h0m-4 0h0m3 0h0m-5-1h0m4 0h0m-4-2h0m0-3h0m3 0h0m3-1h0m3 0h0m-7-1h0m-2-3h0m9-2h0m-8-1h0m1-2h0m6 0h0m-8-1h0m0-1h0m0-1h0m3-1h0m3 0h0m-6-1h0m1-2h0m3 0h0m-4-1h0m5-1h0m-4-13h0m11 37h0m5 4h0m-1 1h0m-3 5h0m3 2h0m-2 0h0m9 1h0m-5 0h0m3 2h0m-1 1h0m-7 0h0m3 0h0m-2 1h0m4 1h0m-2 2h0m0 1h0m7 201h0m-6 1h0m6 1h0m-2 2h0m0 1h0m0 5h0m2 1h0m-2 2h0m2 2h0m-3 3h0m2 0h0m-4 1h0m-1 1h0m6 1h0m-2 4h0m2 0h0m-6 0h0m6 2h0m-5 2h0m3 1h0m0 1h0m-2 0h0m-3 2h0m4 1h0m-4 0h0m1 2h0m4 1h0m-3 1h0m0 3h0m3 0h0m1 7h0m1 1h0m0 1h0m10 1h0m-5-1h0m2-1h0m3 0h0m-7 0h0m2-1h0m3-2h0m1-1h0m-2-1h0m-6 0h0m7-2h0m-7 0h0m0-4h0m7-1h0m-6 0h0m1 0h0m7-2h0m1 0h0m-3-1h0m-3-3h0m-4-2h0m11-1h0m-3-3h0m0-1h0m3-1h0m-1-1h0m-3-1h0m3 0h0m-10 0h0m8-2h0m-6-2h0m1-1h0m3-1h0m1-2h0m-6 0h0m10-1h0m-2 0h0m-5-1h0m0-2h0m-1 0h0m3 0h0m-2-1h0m-1-1h0m2-1h0m1 0h0m-5-1h0m7 0h0m-2 0h0m-5-1h0m1-4h0m11 9h0m0 2h0m-1 3h0m9 1h0m-6 2h0m-1 0h0m9 1h0m-3 1h0m-1 2h0m-4 1h0m1 0h0m-3 0h0m7 1h0m1 0h0m-8 0h0m8 1h0m1 2h0m-8 2h0m5 1h0m3 2h0m-1 1h0m-2 0h0m-6 2h0m-1 0h0m2 2h0m1 0h0m4 2h0m0 2h0m3 1h0m-4 0h0m0 3h0m1 1h0m-7 1h0m2 1h0m1 3h0m-2 0h0m6 1h0m-5 0h0m3 0h0m6 1h0m-4 0h0m-5 1h0m6 1h0m11 1h0m-6-1h0m8 0h0m-1-1h0m-3-1h0m-2-1h0m7-1h0m-5 0h0m3-1h0m-3-2h0m4 0h0m1 0h0m-8-1h0m-2 0h0m9 0h0m-6-2h0m-3-1h0m7 0h0m4-1h0m-11-1h0m9-2h0m-7 0h0m3-1h0m-4 0h0m0-1h0m8-5h0m-1-1h0m3 0h0m-5 0h0m-3-1h0m6-3h0m-8 0h0m10-1h0m-9 0h0m3-2h0m-4-1h0m-1-1h0m7 0h0m-3-2h0m-2-1h0m-2 0h0m0-2h0m5 0h0m-5-2h0m22 2h0m-9 1h0m6 5h0m3 0h0m-3 1h0m1 0h0m-7 0h0m-1 1h0m2 0h0m9 1h0m-7 0h0m3 1h0m-4 0h0m0 1h0m8 1h0m-10 0h0m2 3h0m8 0h0m-6 0h0m1 2h0m-5 0h0m4 1h0m3 1h0m-3 0h0m-4 4h0m9 0h0m-10 0h0m1 2h0m5 4h0m-4 0h0m6 1h0m-3 0h0m-2 1h0m-3 1h0m11 2h0m-6 0h0m2 2h0m5-2h0m2-1h0m3-4h0m-3-1h0m5 0h0m1-3h0m-8 0h0m5-1h0m2-1h0m-2 0h0m-4-1h0m8 0h0m-9 0h0m1-1h0m9 0h0m-1-1h0m-8 0h0m1-1h0m7 0h0m-4-2h0m1 0h0m-3-1h0m-2-1h0m3-1h0m4-2h0m-7 0h0m7-1h0m-3-2h0m-5 0h0m8-1h0m-7-1h0m9-1h0m-10 0h0m9-2h0m-4-2h0m5 0h0m-1-2h0m-1 0h0m2-2h0m9-11h0m1 1h0m-2 1h0m-3 0h0m6 1h0m2 2h0m-9 0h0m5 1h0m0 3h0m-7 1h0m5 0h0m-2 1h0m5 0h0m3 1h0m-2 0h0m-2 0h0m-7 2h0m10 2h0m-6 0h0m3 1h0m-5 0h0m2 2h0m5 0h0m-6 0h0m0 1h0m-2 0h0m10 2h0m-8 0h0m-2 0h0m9 1h0m-3 0h0m0 1h0m-7 0h0m10 0h0m-9 2h0m4 1h0m2 1h0m-2 1h0m1 5h0m2 1h0m-6 3h0m10-6h0m2-4h0m-2-1h0m5 0h0m-2-3h0m2-3h0m-5-1h0m3-2h0m1-1h0m1 0h0m1 0h0m-5-1h0m10-1h0m-5-1h0m-3 0h0m-2-1h0m6-1h0m-1 0h0m-6 0h0m1-3h0m8 0h0m-5-1h0m-1 0h0m-2 0h0m2-1h0m0-3h0m1 0h0m-3-1h0m-1 0h0"/>
<path id="pFBG1" d="M-255 -52h0m15-52h0m84 385h0m28-241h0m11 29h0m28-292h0m-4 2h0m2 17h0m9 482h0m4-501h0m2 0h0m3 0h0m8-2h0m2 2h0m-7 1h0m9 0h0m-7 0h0m78 379h0m-3 2h0m3 1h0m-2 1h0m4-4h0m3-2h0m-1-2h0m2-1h0m3-1h0m1 0h0m12-114h0m-1 1h0m-1 3h0m-1 0h0m5 3h0m-3 1h0m2 1h0m0 4h0m-1 0h0m1 2h0m-1 0h0m-2 1h0m0 2h0m5 1h0m-6 1h0m5 0h0m-3 2h0m-6 2h0m5 1h0m1 0h0m-4 0h0m-1 1h0m1 0h0m2 1h0m-3 0h0m6 1h0m-6 0h0m7 1h0m-5 1h0m5 0h0m-2 1h0m4 2h0m0 4h0m-2 0h0m-2 0h0m0 2h0m-1 1h0m0 1h0m5 1h0m0 1h0m0 1h0m0 3h0m1 21h0m10-15h0m-1-1h0m0-1h0m-1-1h0m-2 0h0m-5-1h0m6 0h0m2-1h0m0-1h0m-5 0h0m-4-1h0m6-1h0m1 0h0m-2 0h0m-4 0h0m5-1h0m-5-2h0m9-1h0m-10-1h0m2 0h0m1 0h0m2-1h0m-2-5h0m-1 0h0m-2-4h0m3-18h0m-3-1h0m0-1h0m0-4h0m0-1h0m1-1h0m1-1h0m0-1h0m-2-1h0m5 0h0m-3-1h0m3 0h0m1-1h0m1 0h0m-5-1h0m3 0h0m3 0h0m-2 0h0m3-1h0m-1-1h0m-1-3h0m4-1h0m0-1h0m-2 0h0m-2-1h0m1-3h0m10-7h0m3 1h0m2 2h0m-6 2h0m2 1h0m-7 1h0m7 1h0m-5 0h0m-2 1h0m2 1h0m9 0h0m-1 43h0m1 1h0m-11 13h0m16 242h0m-4-255h0m0-2h0m9-4h0m2-4h0m-10-37h0m1-1h0m-2-2h0m1 0h0m3 0h0m-4-1h0m3-1h0m1 0h0m1 0h0m-4-1h0m2-1h0m-3-1h0m3 0h0m-3-1h0m1-1h0m3 0h0m2-4h0m3-5h0m2 0h0m-3-4h0m3 0h0m0-1h0m-2 0h0m0-4h0m13-28h0m1 0h0m-1 3h0m-3 3h0m-4 1h0m7 1h0m-8 1h0m7 1h0m-7 1h0m3 3h0m-3 1h0m2 1h0m2 0h0m-1 3h0m-1 1h0m-1 0h0m3 1h0m-4 0h0m5 0h0m1 1h0m0 3h0m-4 0h0m-2 0h0m0 1h0m4 3h0m-3 4h0m-2 1h0m3 4h0m3 49h0m-3 1h0m3 0h0m-1 1h0m-4 0h0m2 2h0m18-34h0m1-34h0m-10-7h0m0-6h0m5-4h0m-6-1h0m0-4h0m0-1h0m0-1h0m3-1h0m4 0h0m-7 0h0m1-2h0m4-2h0m-1-2h0m7-19h0m0-21h0m0-8h0m0-1h0m0-36h0m0-24h0m0-18h0m-1-3h0m0-10h0m0-1h0m1-3h0m-4-2h0m3-2h0m-1-9h0m-5-5h0m-1-3h0m8-1h0m-7 0h0m3-3h0m-4-2h0m-1-1h0m3-2h0m6-1h0m-5-4h0m1-4h0m3 0h0m1-2h0m0-1h0m10-11h0m-8 3h0m5 4h0m-1 1h0m2 2h0m2 0h0m2 1h0m-8 1h0m-2 1h0m9 2h0m-5 2h0m2 1h0m-4 1h0m7 1h0m-6 0h0m1 1h0m5 1h0m-4 3h0m-3 1h0m8 1h0m-2 0h0m-2 0h0m3 1h0m-3 1h0m-4 0h0m3 0h0m-2 1h0m0 1h0m-1 1h0m1 2h0m3 1h0m-7 0h0m9 6h0m-7 1h0m5 0h0m-1 1h0m-4 2h0m8 1h0m-9 3h0m10 10h0m-2 1h0m-3 1h0m0 3h0m-5 1h0m9 1h0m1 0h0m-1 4h0m1 2h0m-6 1h0m0 3h0m-2 2h0m2 1h0m-2 4h0m0 1h0m3 2h0m-3 3h0m1 1h0m4 5h0m-1 1h0m-2 5h0m-1 1h0m-3 0h0m7 12h0m1 0h0m-7 0h0m4 1h0m1 2h0m0 5h0m4 3h0m-9 0h0m1 4h0m2 2h0m1 11h0m-4 2h0m5 1h0m-6 2h0m4 4h0m-4 5h0m2 9h0m0 2h0m-1 0h0m4 1h0m1 2h0m-7 0h0m0 1h0m6 2h0m-5 5h0m2 2h0m2 2h0m-1 2h0m3 13h0m1 4h0m-7 35h0m9 28h0m11 300h0m-3-298h0m4-35h0m-4-16h0m0-1h0m4-4h0m-7-3h0m-1-2h0m1-1h0m4-1h0m-2-1h0m-4-3h0m1-1h0m-1-1h0m10 0h0m-6-1h0m-4-1h0m0-7h0m5-2h0m3-1h0m-4 0h0m5-1h0m-1 0h0m-7-1h0m8-3h0m-2-4h0m3 0h0m-2-1h0m-5 0h0m3-1h0m-3-2h0m3-1h0m-1 0h0m2 0h0m1 0h0m-4-1h0m2-1h0m2-1h0m-5-1h0m1-1h0m-1-2h0m-4-1h0m4 0h0m0-2h0m4-1h0m1-1h0m-8 0h0m10-2h0m-4 0h0m-3 0h0m6-1h0m-8-4h0m9 0h0m-6-1h0m5-1h0m-3 0h0m0-3h0m2-4h0m-5 0h0m4 0h0m3-1h0m-4-1h0m3 0h0m-5-1h0m4 0h0m-7-2h0m8 0h0m-2 0h0m-5-1h0m-2-2h0m4-1h0m-1-1h0m3-2h0m-4-1h0m2 0h0m2-2h0m3-1h0m-4 0h0m3-2h0m2-5h0m-7-1h0m3 0h0m-6-1h0m6-1h0m2 0h0m-4-3h0m6 0h0m-1-2h0m-3-2h0m4-1h0m-4-2h0m2-2h0m-2 0h0m1-1h0m-2 0h0m4-1h0m-7 0h0m6-3h0m-8 0h0m9-3h0m-1-1h0m-8-4h0m9-1h0m1 0h0m-2 0h0m2-1h0m-9-2h0m8-1h0m-8-1h0m9-3h0m0-1h0m-3-4h0m3 0h0m-6-1h0m6-1h0m-10 0h0m1-1h0m5 0h0m-1-2h0m5 0h0m0-3h0m-2-1h0m-5-1h0m-2-3h0m6 0h0m0-1h0m-5-2h0m-2 0h0m-1-1h0m3 0h0m1-2h0m2-1h0m-1-1h0m5-2h0m-10-3h0m9 0h0m1-2h0m-10 0h0m7-5h0m-6 0h0m3-1h0m1 0h0m0-1h0m-4-1h0m6-1h0m-2 0h0m-4-3h0m7-2h0m-5-2h0m-1-1h0m-1-4h0m3-1h0m1-1h0m6-1h0m-7-1h0m1-1h0m6-1h0m-6-1h0m6 0h0m-7-1h0m-1-1h0m3 0h0m-4 0h0m0-3h0m5 0h0m-5-1h0m-2 0h0m8-1h0m2-1h0m-1 0h0m-8 0h0m9-1h0m-2 0h0m0-1h0m-2-1h0m-2 0h0m3 0h0m1-1h0m-2-1h0m-5-1h0m5-1h0m4 0h0m1-1h0m-8 0h0m3-1h0m5-3h0m-2-1h0m-3 0h0m-4-1h0m-2-2h0m10-2h0m-5-4h0m9 0h0m2 3h0m-3 3h0m4 1h0m-1 0h0m3 2h0m-5 4h0m9 0h0m-3 1h0m-2 1h0m-5 1h0m7 1h0m3 0h0m-5 0h0m-5 5h0m1 0h0m0 1h0m8 0h0m-5 1h0m0 1h0m6 1h0m-2 0h0m-8 2h0m-1 3h0m10 2h0m-8 2h0m3 0h0m5 1h0m-8 0h0m-1 1h0m2 1h0m8 1h0m-4 0h0m0 1h0m2 0h0m-5 0h0m1 4h0m4 1h0m-1 1h0m-2 1h0m4 0h0m1 0h0m-2 0h0m-1 1h0m0 1h0m-5 1h0m8 3h0m-5 1h0m2 1h0m-7 4h0m9 0h0m-3 0h0m-1 3h0m-4 1h0m8 2h0m-3 0h0m1 0h0m2 2h0m-4 1h0m1 2h0m4 2h0m-3 2h0m-8 0h0m7 1h0m3 0h0m0 1h0m-5 0h0m4 0h0m-5 0h0m-4 2h0m5 1h0m5 1h0m-5 0h0m0 1h0m3 0h0m-1 2h0m4 0h0m-9 0h0m4 1h0m-1 2h0m6 2h0m-8 2h0m4 0h0m-4 1h0m4 0h0m-1 1h0m-2 1h0m7 1h0m-11 1h0m0 1h0m2 1h0m-1 1h0m9 0h0m-10 0h0m6 0h0m4 1h0m-6 1h0m6 0h0m-2 0h0m3 0h0m-8 3h0m-3 1h0m1 0h0m9 1h0m-7 1h0m2 1h0m3 1h0m2 0h0m-7 1h0m-2 1h0m7 0h0m-7 2h0m10 0h0m-11 1h0m9 0h0m-4 1h0m0 1h0m1 0h0m-4 2h0m1 1h0m4 1h0m-7 1h0m11 1h0m0 1h0m-10 3h0m1 0h0m6 0h0m2 1h0m-3 1h0m4 2h0m-9 1h0m2 0h0m0 2h0m-4 2h0m0 3h0m6 0h0m0 1h0m4 2h0m1 0h0m-7 1h0m6 0h0m-4 0h0m-4 1h0m3 0h0m-4 2h0m1 0h0m8 3h0m-10 1h0m1 1h0m6 1h0m-2 0h0m4 0h0m1 2h0m-7 0h0m6 1h0m-5 1h0m6 0h0m-5 1h0m-1 1h0m-1 1h0m0 1h0m1 0h0m-4 1h0m7 1h0m1 1h0m1 0h0m-9 0h0m10 0h0m-8 0h0m7 1h0m-4 1h0m4 0h0m1 3h0m-3 0h0m2 1h0m-3 0h0m4 1h0m-1 0h0m0 1h0m-7 0h0m6 1h0m-2 0h0m1 0h0m-2 1h0m6 0h0m0 1h0m-4 0h0m-3 0h0m5 1h0m-6 0h0m-2 0h0m7 3h0m3 1h0m-5 0h0m4 4h0m-5 1h0m6 0h0m0 1h0m-7 0h0m1 1h0m1 0h0m-5 0h0m7 1h0m-8 0h0m10 1h0m1 0h0m-9 1h0m6 0h0m1 0h0m1 3h0m-8 0h0m5 0h0m-2 1h0m-4 1h0m1 0h0m5 2h0m-1 0h0m2 1h0m3 0h0m-10 0h0m0 3h0m7 0h0m3 0h0m0 1h0m-2 0h0m2 1h0m-3 1h0m-1 3h0m-6 0h0m1 0h0m4 1h0m-4 0h0m9 2h0m-6 2h0m3 0h0m2 1h0m-8 3h0m7 1h0m-5 1h0m6 1h0m-4 2h0m4 5h0m-5 0h0m6 0h0m-11 1h0m5 1h0m3 0h0m3 0h0m-7 0h0m-2 0h0m0 3h0m6 0h0m-1 1h0m1 1h0m-7 1h0m0 2h0m-1 1h0m1 1h0m4 3h0m1 7h0m4 2h0m-5 1h0m-4 25h0m2 1h0m15 145h0m-1-69h0m5-44h0m-1-33h0m-9-2h0m10-5h0m1-3h0m-7-1h0m4-1h0m-2-1h0m5-1h0m-9-1h0m3 0h0m2-1h0m-4-1h0m5-1h0m-1-2h0m-6-3h0m6 0h0m3-2h0m-1-1h0m-9-2h0m11-3h0m-11 0h0m9-1h0m-6-1h0m7 0h0m-2 0h0m1 0h0m-4-1h0m1 0h0m-4-1h0m3-1h0m6 0h0m-2-2h0m1-1h0m-10-2h0m10-4h0m-8-2h0m3 0h0m5-6h0m-6-4h0m1-1h0m0-1h0m6 0h0m-8 0h0m0-1h0m7 0h0m-2-1h0m2 0h0m-8-1h0m2 0h0m5-1h0m-7 0h0m9-1h0m-5 0h0m-6-1h0m10-3h0m1 0h0m-6-1h0m-5 0h0m7-1h0m4 0h0m-10 0h0m5-1h0m-6 0h0m2-1h0m3 0h0m-2 0h0m0-1h0m3-1h0m-2 0h0m0-1h0m-3-2h0m-1-1h0m1 0h0m6 0h0m3-1h0m-2-1h0m0-1h0m-5 0h0m1 0h0m6-1h0m-1 0h0m-3-1h0m-2-1h0m4-1h0m-4-1h0m6 0h0m-8 0h0m2-1h0m-3 0h0m10 0h0m-7-1h0m2 0h0m5-1h0m-6-1h0m-2 0h0m-1-1h0m5-2h0m-6 0h0m-1-1h0m7-1h0m-3-1h0m1-1h0m5 0h0m-10-3h0m6-1h0m1-1h0m-1 0h0m-6 0h0m7-1h0m4-1h0m-7 0h0m7-2h0m-9 0h0m0-1h0m-1-1h0m3 0h0m1-2h0m-3-1h0m5-1h0m-7 0h0m7-1h0m4 0h0m-6 0h0m1 0h0m5-1h0m-2 0h0m-6 0h0m5-1h0m2 0h0m1-2h0m0-2h0m-4-1h0m3-1h0m0-1h0m-7 0h0m7-1h0m1-1h0m-5-1h0m5-2h0m-7 0h0m4-2h0m-1-1h0m-1 0h0m-6 0h0m11-1h0m-10-1h0m4-1h0m6-1h0m-5 0h0m-4 0h0m0-2h0m3-1h0m-5 0h0m4 0h0m1-3h0m4 0h0m-6 0h0m7 0h0m-3-3h0m-7-1h0m5 0h0m-4-1h0m6-1h0m-7 0h0m2-1h0m-1 0h0m5-1h0m-3 0h0m8-1h0m-10 0h0m10-1h0m-8 0h0m1-1h0m0-1h0m4-1h0m1-1h0m-2-1h0m-7-1h0m6-1h0m-6 0h0m5-1h0m0-1h0m-3-4h0m6 0h0m2-1h0m1 0h0m-7-1h0m1-1h0m1-1h0m-1-1h0m3 0h0m3-1h0m-11-1h0m3-1h0m-3-2h0m4 0h0m6-1h0m-5 0h0m1-1h0m-1 0h0m3-2h0m3-2h0m-3-1h0m-4-1h0m4-1h0m-7-1h0m2-1h0m4 0h0m1 0h0m-3-1h0m-4 0h0m5-2h0m1-1h0m-6-2h0m6-4h0m-2-1h0m-1 0h0m-3-1h0m8 0h0m-7-1h0m5-1h0m-1 0h0m-5-1h0m-1-2h0m11-3h0m-5-1h0m-3 0h0m-1-1h0m3 0h0m-3-3h0m-2-2h0m3 0h0m7-1h0m-8 0h0m5-3h0m-5-2h0m9 0h0m-9-2h0m3 0h0m4 0h0m-6-1h0m2 0h0m6-1h0m-5-1h0m-1-1h0m4 0h0m-9 0h0m9-1h0m-6 0h0m1 0h0m-2-1h0m3 0h0m6 0h0m-8 0h0m5-1h0m-8 0h0m2-1h0m7 0h0m-8 0h0m10-1h0m-11 0h0m10 0h0m-9-2h0m6-3h0m3-2h0m1 0h0m-9-2h0m7-2h0m-9 0h0m3-1h0m6-1h0m2-2h0m-8-1h0m-2 0h0m1-1h0m7-1h0m-8-2h0m6-1h0m-7 0h0m4-2h0m-2-1h0m4 0h0m-3-1h0m2 0h0m1-1h0m3 0h0m-9-2h0m3 0h0m-3-1h0m3-1h0m3-1h0m-1-4h0m7 9h0m3 6h0m1 5h0m-2 2h0m2 3h0m0 1h0m1 1h0m-4 1h0m5 3h0m-1 1h0m3 0h0m-5 1h0m-1 1h0m3 1h0m-4 1h0m1 1h0m-2 1h0m7 0h0m-5 0h0m-1 1h0m10 1h0m-9 0h0m3 0h0m-3 1h0m8 0h0m-4 0h0m-1 1h0m1 0h0m-6 0h0m10 0h0m1 1h0m-9 0h0m-1 0h0m9 0h0m-5 1h0m-5 0h0m3 0h0m6 1h0m-9 0h0m3 0h0m-2 0h0m6 1h0m-5 0h0m1 1h0m1 0h0m6 1h0m1 0h0m-2 1h0m-4 0h0m3 0h0m-1 1h0m2 1h0m-4 0h0m1 2h0m-4 1h0m-2 0h0m3 1h0m-3 0h0m8 4h0m-8 1h0m2 0h0m2 1h0m5 0h0m1 2h0m-2 1h0m1 0h0m1 0h0m-6 1h0m5 0h0m-6 2h0m-1 2h0m7 1h0m-6 0h0m-3 1h0m10 1h0m-10 1h0m1 0h0m4 1h0m-2 1h0m1 0h0m6 0h0m1 0h0m-5 1h0m-4 1h0m8 0h0m-2 1h0m3 1h0m-2 1h0m-4 4h0m-5 2h0m1 1h0m9 1h0m-6 0h0m5 2h0m-9 0h0m2 1h0m-2 1h0m11 1h0m-8 0h0m-3 1h0m2 0h0m-1 1h0m3 0h0m1 1h0m-5 2h0m9 0h0m0 1h0m-2 2h0m2 1h0m-1 1h0m-4 2h0m-1 0h0m4 1h0m-5 0h0m3 0h0m-4 1h0m1 1h0m5 1h0m-2 0h0m-3 1h0m-1 0h0m10 2h0m-11 0h0m6 1h0m-5 0h0m0 1h0m1 1h0m3 0h0m-1 1h0m2 0h0m3 1h0m-4 0h0m-1 2h0m-4 1h0m9 1h0m-2 3h0m-2 0h0m4 1h0m-3 0h0m3 3h0m-7 0h0m-2 1h0m6 1h0m-5 0h0m10 0h0m-1 1h0m-9 0h0m8 0h0m-4 1h0m5 0h0m-8 1h0m4 0h0m-1 2h0m-1 1h0m6 5h0m-4 1h0m3 0h0m-1 1h0m-3 1h0m-4 0h0m9 1h0m-2 1h0m-8 0h0m3 1h0m-1 1h0m4 0h0m-6 0h0m9 1h0m-2 1h0m-7 4h0m1 2h0m6 1h0m3 0h0m-6 0h0m0 2h0m5 2h0m-4 2h0m1 0h0m-1 1h0m-5 0h0m9 0h0m-2 1h0m4 0h0m-2 2h0m-8 1h0m10 1h0m-4 0h0m-4 0h0m7 1h0m-8 0h0m4 0h0m0 4h0m-5 0h0m4 1h0m1 0h0m3 0h0m2 0h0m-5 2h0m-3 0h0m7 1h0m-6 2h0m5 0h0m-2 0h0m-5 0h0m4 0h0m3 1h0m-7 0h0m-1 0h0m2 1h0m6 2h0m-1 0h0m3 1h0m-5 2h0m-5 1h0m3 0h0m5 1h0m2 0h0m-4 1h0m-1 2h0m3 1h0m-1 0h0m0 1h0m1 2h0m-2 0h0m0 1h0m-3 1h0m5 3h0m-8 0h0m10 1h0m-5 0h0m3 2h0m1 0h0m-7 1h0m8 0h0m-3 0h0m-1 1h0m-7 1h0m2 0h0m2 0h0m6 0h0m-2 0h0m-5 1h0m-1 1h0m3 1h0m-2 0h0m2 1h0m5 1h0m-10 2h0m9 3h0m-8 1h0m1 1h0m5 0h0m0 1h0m-6 0h0m9 0h0m-2 3h0m-5 0h0m-2 0h0m5 6h0m-6 0h0m9 0h0m-7 0h0m2 1h0m5 1h0m-9 1h0m4 1h0m3 1h0m3 1h0m-7 0h0m2 0h0m1 1h0m-3 1h0m6 0h0m-1 0h0m1 1h0m-2 0h0m-5 0h0m3 0h0m4 1h0m-4 0h0m6 1h0m-2 0h0m-2 2h0m-2 0h0m0 1h0m3 0h0m-4 0h0m2 1h0m-5 0h0m0 3h0m9 0h0m-7 0h0m-3 1h0m8 0h0m-7 1h0m3 1h0m3 0h0m-5 0h0m5 2h0m4 1h0m0 1h0m-8 0h0m3 1h0m-2 2h0m0 2h0m7 0h0m-1 5h0m-4 1h0m-5 0h0m6 1h0m4 1h0m-4 2h0m1 1h0m1 4h0m-2 1h0m-7 9h0m10 4h0m-1 1h0m6-13h0m-1-1h0m3 0h0m0-6h0m-5-1h0m1 0h0m2-4h0m-3 0h0m6-1h0m-5 0h0m3-1h0m2-1h0m-5-7h0m4-1h0m-3-2h0m-2 0h0m8-3h0m-7-2h0m6-2h0m-7-6h0m4-5h0m0-1h0m-4 0h0m3-3h0m5-1h0m-5 0h0m0-2h0m2-2h0m1-1h0m4 0h0m1-1h0m-8 0h0m2-1h0m-5-1h0m6-1h0m-5 0h0m2-1h0m3 0h0m-6 0h0m6-1h0m0-2h0m0-2h0m4 0h0m1 0h0m-6 0h0m3 0h0m-5-2h0m3 0h0m-4-1h0m4 0h0m0-1h0m2-1h0m-4-1h0m6 0h0m1-1h0m-5 0h0m1-4h0m-6-1h0m4 0h0m3-2h0m-5 0h0m5-1h0m-1-1h0m-4 0h0m-3-1h0m8-1h0m2 0h0m-8-1h0m3-1h0m3 0h0m3 0h0m-7-1h0m-1 0h0m-3-1h0m8 0h0m-2 0h0m2-2h0m2-2h0m-2 0h0m-5-1h0m-2 0h0m3-1h0m0-1h0m0-1h0m2-1h0m-5 0h0m9 0h0m-9-1h0m9 0h0m-10-2h0m8 0h0m1-2h0m-5 0h0m-2 0h0m8-1h0m-4 0h0m-1-1h0m-5 0h0m5-3h0m1 0h0m3-1h0m0-1h0m1 0h0m-6 0h0m7-1h0m-2-1h0m1 0h0m-1-1h0m-2 0h0m-3 0h0m3-1h0m-5 0h0m1 0h0m2-1h0m-5 0h0m10-1h0m0-1h0m-2-1h0m-3-1h0m5-1h0m1 0h0m-1-2h0m-5 0h0m-3-1h0m6-1h0m3-1h0m-2-1h0m-7-2h0m3 0h0m-4 0h0m6-1h0m-6-2h0m7-1h0m-2-1h0m-5 0h0m8-1h0m-2 0h0m3 0h0m0-2h0m-6 0h0m-2 0h0m-2 0h0m3-1h0m7-2h0m-8 0h0m1 0h0m8-1h0m-10 0h0m5-1h0m1 0h0m4 0h0m-2-2h0m-5 0h0m-4-1h0m7-1h0m-1-2h0m-1-2h0m3-3h0m1-1h0m-3-1h0m2 0h0m-8-2h0m8-1h0m3-1h0m-6 0h0m-3-1h0m-2 0h0m6-1h0m-2-2h0m-2 0h0m1-1h0m1-1h0m-1 0h0m-3 0h0m3-1h0m-3 0h0m5-1h0m-2 0h0m1-1h0m-2-1h0m-1 0h0m6-1h0m-5 0h0m8-1h0m-3-1h0m2-2h0m-3-1h0m-6 0h0m9 0h0m-6-1h0m-3-1h0m2-1h0m1-1h0m6 0h0m1-1h0m-8 0h0m5-2h0m-4 0h0m6-1h0m1-1h0m-5-1h0m3 0h0m1 0h0m-8-2h0m9-1h0m-3-2h0m-3 0h0m6-2h0m-8 0h0m-1-1h0m6 0h0m-4-1h0m-2-1h0m10-1h0m-11 0h0m5-1h0m1 0h0m-1-1h0m-2-2h0m3 0h0m5-1h0m-10-1h0m8-2h0m-9 0h0m9-1h0m-6 0h0m2-1h0m4 0h0m-1-3h0m1 0h0m-7 0h0m3-1h0m1 0h0m0-1h0m1-1h0m3 0h0m0-3h0m-4 0h0m-5 0h0m8-4h0m-4-1h0m-5-1h0m1 0h0m7 0h0m0-1h0m-5 0h0m4-1h0m-5 0h0m5-1h0m-4-1h0m-3-1h0m2-1h0m-2-2h0m0-1h0m2-1h0m3-1h0m-5-9h0m12 24h0m1 0h0m1 3h0m6 2h0m1 2h0m1 2h0m-6 1h0m3 0h0m-6 1h0m7 0h0m-8 2h0m10 0h0m-10 1h0m8 1h0m-6 0h0m7 1h0m-1 1h0m-6 0h0m0 1h0m3 1h0m6 1h0m-10 1h0m6 0h0m-5 0h0m9 0h0m-10 2h0m6 0h0m2 1h0m-2 0h0m3 0h0m-4 0h0m1 1h0m-5 0h0m3 3h0m-2 1h0m-1 2h0m1 0h0m-3 2h0m7 0h0m3 0h0m1 1h0m-3 0h0m1 1h0m-7 0h0m3 0h0m0 1h0m1 0h0m4 1h0m-1 2h0m-1 2h0m-5 0h0m3 0h0m-5 0h0m7 3h0m-2 0h0m-6 0h0m0 1h0m8 0h0m-4 0h0m3 1h0m1 0h0m-6 0h0m3 1h0m-5 0h0m6 1h0m2 0h0m-4 0h0m4 2h0m-4 0h0m-3 0h0m6 2h0m2 1h0m-3 0h0m0 1h0m4 3h0m-5 1h0m0 1h0m6 0h0m-4 1h0m-7 1h0m1 0h0m2 2h0m3 0h0m1 1h0m-2 0h0m4 1h0m-2 0h0m-2 0h0m-3 1h0m2 3h0m2 0h0m5 1h0m-9 1h0m6 1h0m-2 1h0m1 3h0m-7 2h0m9 0h0m-9 1h0m6 0h0m4 1h0m-2 0h0m3 2h0m-2 0h0m-6 1h0m-2 1h0m9 1h0m1 1h0m-4 0h0m3 0h0m-4 1h0m5 0h0m0 1h0m-4 3h0m-3 2h0m7 1h0m-10 0h0m3 1h0m3 1h0m1 1h0m-6 0h0m-2 0h0m11 0h0m-3 1h0m-5 1h0m7 1h0m-2 0h0m-8 1h0m8 1h0m1 1h0m-7 1h0m4 2h0m-4 1h0m0 1h0m-1 0h0m6 1h0m-4 0h0m6 1h0m2 0h0m-3 1h0m3 1h0m-9 1h0m-1 1h0m6 0h0m-1 0h0m0 2h0m-5 1h0m10 2h0m-8 0h0m0 1h0m6 1h0m1 0h0m-2 0h0m-4 0h0m7 1h0m-3 1h0m-7 1h0m5 0h0m0 2h0m-4 0h0m9 1h0m-8 1h0m4 2h0m1 0h0m-2 0h0m5 1h0m-7 0h0m-2 0h0m-2 1h0m6 1h0m-4 0h0m0 2h0m9 0h0m-10 0h0m3 3h0m3 0h0m1 0h0m-7 1h0m1 1h0m9 0h0m-1 1h0m-10 0h0m7 2h0m-2 5h0m2 0h0m-5 1h0m1 0h0m-1 1h0m0 1h0m3 0h0m1 0h0m-6 0h0m0 1h0m9 1h0m-1 0h0m-8 0h0m10 1h0m-8 0h0m3 1h0m-3 2h0m3 2h0m6 1h0m-2 0h0m0 1h0m-1 0h0m-3 1h0m4 2h0m1 3h0m-8 4h0m7 1h0m-9 2h0m11 5h0m-5 5h0m-4 11h0m6 1h0m-3 1h0m1 0h0m-3 1h0m3 4h0m-4 7h0m-1 4h0m20 3h0m-2-1h0m-4-1h0m2-5h0m3-4h0m2-4h0m-3-2h0m2-7h0m-1 0h0m-2-15h0m4-1h0m-7-2h0m-2-6h0m7-2h0m-7 0h0m3 0h0m-3-1h0m-1-1h0m5-1h0m-4-1h0m1-2h0m-2 0h0m6 0h0m-1-1h0m1 0h0m-5 0h0m1-1h0m-2 0h0m8-2h0m-6 0h0m7 0h0m-1-5h0m-3-1h0m6 0h0m-10-1h0m9 0h0m-5 0h0m-5-3h0m1 0h0m9-1h0m-9-2h0m3-1h0m3 0h0m1 0h0m-7-1h0m7 0h0m-3 0h0m4-3h0m-2 0h0m-1 0h0m5 0h0m-3-2h0m-4-1h0m-3 0h0m4-1h0m6 0h0m-5-1h0m-6 0h0m2-1h0m8-1h0m-7-1h0m6 0h0m-8-2h0m7-1h0m-7 0h0m4-2h0m-5-2h0m3-2h0m-3-1h0m4 0h0m-3-1h0m8 0h0m-2 0h0m3 0h0m-7-1h0m8-1h0m-3-2h0m-6 0h0m9 0h0m-4-1h0m-1 0h0m2 0h0m-7 0h0m9 0h0m-6-1h0m6-2h0m-6-1h0m3-2h0m3-1h0m-2-1h0m-2 0h0m-3-1h0m6-2h0m0-1h0m-6 0h0m-1-1h0m2 0h0m-1-2h0m3 0h0m4-2h0m-9-1h0m8 0h0m-2 0h0m-4 0h0m6-4h0m-5-1h0m-2-2h0m9 0h0m-3 0h0m-7-1h0m3 0h0m2-1h0m-2-1h0m2-1h0m2-1h0m-4-1h0m0-1h0m-4 0h0m5-3h0m1 0h0m4 0h0m-10-3h0m7 0h0m-1 0h0m5-1h0m-10 0h0m6-1h0m1 0h0m-4 0h0m-3-1h0m6 0h0m1-1h0m-8 0h0m1-2h0m-1-1h0m4-1h0m3 0h0m-4-1h0m7 0h0m-10-1h0m9 0h0m0-1h0m-6 0h0m2-1h0m-1-1h0m-3-2h0m1 0h0m3 0h0m2-1h0m1-2h0m0-1h0m1 0h0m-9-1h0m11-1h0m-6-1h0m6-1h0m-7-3h0m6-2h0m-8 0h0m3 0h0m-1-1h0m0-1h0m-1-2h0m1 0h0m4 0h0m-8-1h0m3-1h0m4-1h0m-7 0h0m3 0h0m-3-2h0m11 0h0m-11-1h0m4-3h0m6 0h0m-6-1h0m4 0h0m-1-2h0m-2 0h0m-5 0h0m6-1h0m2 0h0m-6 0h0m2-2h0m6-1h0m-8 0h0m9 0h0m-6-1h0m1 0h0m-4-2h0m3 0h0m0-2h0m-2 0h0m-2 0h0m7 0h0m-4-2h0m3 0h0m1-1h0m-3 0h0m5-3h0m-7-1h0m2-1h0m4 0h0m-8-1h0m4-1h0m-1-1h0m-4-3h0m15 11h0m-3 2h0m4 1h0m-2 1h0m8 2h0m-8 0h0m-1 1h0m4 0h0m-5 1h0m1 2h0m9 0h0m0 1h0m-8 1h0m1 0h0m6 0h0m-8 0h0m3 0h0m-2 1h0m1 0h0m6 5h0m-9 3h0m11 0h0m-7 0h0m6 1h0m-8 1h0m8 0h0m-9 1h0m4 2h0m6 0h0m-10 0h0m2 1h0m6 1h0m-1 1h0m3 1h0m-4 0h0m-1 0h0m-5 1h0m1 0h0m4 1h0m-2 2h0m4 1h0m1 1h0m-9 1h0m9 1h0m-2 0h0m1 0h0m-8 0h0m1 4h0m-1 2h0m10 0h0m1 1h0m-2 0h0m-9 1h0m9 0h0m-9 1h0m9 0h0m-6 1h0m8 1h0m-10 1h0m8 1h0m1 0h0m-10 1h0m3 2h0m-1 1h0m-2 1h0m11 0h0m-2 0h0m-2 1h0m-7 1h0m7 1h0m2 0h0m-8 2h0m1 2h0m8 0h0m-7 1h0m6 1h0m-2 0h0m1 2h0m-7 1h0m0 2h0m6 1h0m-7 0h0m6 1h0m3 1h0m-4 1h0m2 1h0m-2 2h0m6 0h0m-2 1h0m1 1h0m-5 0h0m-4 0h0m2 1h0m3 1h0m-1 0h0m-2 2h0m1 2h0m6 1h0m-1 1h0m-4 1h0m2 0h0m0 1h0m-4 1h0m8 0h0m-10 1h0m4 2h0m2 3h0m1 0h0m-3 3h0m5 0h0m-4 1h0m-6 1h0m11 2h0m-6 1h0m1 1h0m-1 0h0m-2 0h0m-2 1h0m9 0h0m-5 0h0m1 1h0m1 0h0m-3 5h0m7 0h0m-7 2h0m3 0h0m1 0h0m-7 1h0m0 1h0m-1 0h0m8 3h0m-3 2h0m6 0h0m-2 0h0m-5 0h0m-2 1h0m-1 0h0m10 0h0m-6 1h0m4 0h0m-5 1h0m-2 0h0m9 0h0m-4 1h0m-5 0h0m2 0h0m-2 3h0m-2 0h0m3 1h0m1 0h0m4 0h0m2 1h0m-8 0h0m3 0h0m4 1h0m-5 0h0m3 1h0m3 0h0m-1 1h0m-5 0h0m3 1h0m-5 0h0m9 1h0m-2 1h0m-3 0h0m1 1h0m2 0h0m0 1h0m-9 1h0m1 3h0m6 0h0m3 2h0m-6 5h0m2 4h0m-4 4h0m9 4h0m-1 1h0m-1 1h0m-1 1h0m2 2h0m-6 2h0m1 1h0m-2 0h0m-2 1h0m3 1h0m0 1h0m-4 2h0m7 1h0m2 11h0m-3 4h0m3 0h0m-9 3h0m9 1h0m-4 1h0m6 1h0m-7 10h0m7 4h0m3 13h0m9-1h0m-2 0h0m-3-1h0m-1 0h0m-2-2h0m7 0h0m-6-1h0m3-1h0m1 0h0m-3-4h0m2-1h0m-7-2h0m0-4h0m10 0h0m-6-1h0m7-1h0m-10-1h0m3-1h0m-2-1h0m4-3h0m-2 0h0m3-2h0m-2-1h0m3 0h0m-2 0h0m0-3h0m2 0h0m-1-1h0m1-1h0m-6-1h0m6-1h0m-5 0h0m-1-1h0m0-1h0m8-1h0m-2 0h0m-1-1h0m-2 0h0m4-2h0m-6-1h0m2 0h0m3-1h0m0-2h0m-2-1h0m4 0h0m-5 0h0m-3 0h0m4-1h0m2-3h0m-1 0h0m3-2h0m-3-1h0m-7 0h0m9-2h0m-1-1h0m-8 0h0m6-2h0m-6-2h0m10 0h0m0-2h0m-3-2h0m4-2h0m-3-1h0m-2-1h0m-2-1h0m5 0h0m-5-1h0m0-1h0m5-1h0m2-1h0m-9 0h0m1-3h0m7-1h0m-5 0h0m-2-1h0m5-2h0m-5 0h0m4-2h0m2 0h0m2-1h0m-9-2h0m4-3h0m-2 0h0m1 0h0m2-1h0m-3 0h0m6-1h0m-10 0h0m4-2h0m5 0h0m-1-1h0m-8 0h0m6 0h0m-5-1h0m6 0h0m-5-1h0m5-3h0m-6 0h0m0-1h0m7 0h0m1-1h0m-3-1h0m0-1h0m-2 0h0m-1 0h0m-1-1h0m-2 0h0m9-2h0m-6-1h0m-1-1h0m3-1h0m5-1h0m-5-1h0m-4 0h0m8-1h0m-3 0h0m0-2h0m-4 0h0m9 0h0m-7-1h0m-3-2h0m8-1h0m-2 0h0m-4-1h0m1 0h0m4 0h0m-2-1h0m4 0h0m-5 0h0m-3 0h0m2-1h0m-2-1h0m7-1h0m0-1h0m-7 0h0m1 0h0m7-1h0m-2-1h0m-3-1h0m-3 0h0m7 0h0m-3 0h0m-2 0h0m7-1h0m-2-1h0m1 0h0m1-1h0m-2 0h0m-2-1h0m-1-2h0m-2-1h0m-4 0h0m11-1h0m-5 0h0m-2 0h0m1-1h0m3 0h0m-1-1h0m3-3h0m-4 0h0m3-2h0m-4-1h0m-5-1h0m6-1h0m-3 0h0m-3-2h0m6-1h0m-3 0h0m-1-3h0m9 0h0m-3 0h0m-6-1h0m3 0h0m-3-2h0m-2 0h0m7 0h0m-2-1h0m0-1h0m6 0h0m-1-2h0m-4-1h0m3-1h0m-9-3h0m9 0h0m2-2h0m-6 0h0m-3 0h0m1 0h0m7-1h0m-1-1h0m-4 0h0m3 0h0m-6-1h0m6-2h0m3-1h0m-6-2h0m4 0h0m-6-3h0m6-3h0m2-1h0m-3 0h0m-7 0h0m3 0h0m0-1h0m-2 0h0m3-1h0m3 0h0m-1-5h0m2 0h0m-4-1h0m2-1h0m-5-1h0m-1-1h0m6 0h0m-4 0h0m-3-1h0m11-1h0m-5 0h0m-4-1h0m4 0h0m-6-1h0m0-1h0m3 0h0m-2 0h0m1-1h0m7-3h0m-7-1h0m0-4h0m-2 0h0m1 0h0m3 0h0m-3-4h0m0-2h0m-1-1h0m0-5h0m13 16h0m3 8h0m6 8h0m-7 0h0m-1 1h0m-1 3h0m10 1h0m-10 1h0m3 0h0m1 0h0m-4 1h0m-1 1h0m4 0h0m3 1h0m1 0h0m-2 0h0m1 2h0m-5 3h0m8 1h0m-4 0h0m-6 0h0m3 1h0m3 0h0m-2 1h0m1 0h0m-5 1h0m9 1h0m-3 0h0m-3 1h0m7 0h0m1 1h0m-1 0h0m-2 1h0m-8 1h0m1 1h0m1 1h0m7 1h0m-8 0h0m3 0h0m4 2h0m-6 2h0m8 1h0m-3 2h0m-7 0h0m8 0h0m-5 1h0m8 0h0m-2 3h0m-2 0h0m-2 0h0m-3 4h0m7 1h0m0 1h0m-1 2h0m0 1h0m1 0h0m-1 1h0m2 0h0m-5 0h0m3 2h0m-2 1h0m1 0h0m2 1h0m-8 1h0m5 1h0m-2 0h0m-4 2h0m3 0h0m-3 1h0m3 0h0m6 1h0m1 0h0m-4 1h0m-6 0h0m8 1h0m-8 0h0m0 1h0m5 6h0m-3 1h0m3 2h0m-4 0h0m-1 0h0m11 0h0m-5 2h0m-3 2h0m1 1h0m-2 1h0m7 0h0m-7 1h0m1 0h0m2 0h0m-4 1h0m7 0h0m-2 1h0m-3 1h0m-3 1h0m4 2h0m2 1h0m-3 0h0m8 3h0m-10 0h0m9 2h0m-7 4h0m1 3h0m0 7h0m-3 1h0m5 2h0m-6 0h0m5 2h0m-4 2h0m4 0h0m-3 1h0m-2 0h0m3 1h0m-3 1h0m1 1h0m0 1h0m2 5h0m3 1h0m-4 1h0m6 0h0m-1 1h0m-6 1h0m7 0h0m-5 1h0m2 2h0m-5 1h0m9 0h0m-5 3h0m5 2h0m-9 2h0m3 0h0m7 1h0m-9 2h0m1 0h0m7 2h0m-3 1h0m-1 2h0m6 2h0m-3 1h0m-2 2h0m-6 3h0m6 0h0m-5 2h0m-1 3h0m1 1h0m2 1h0m0 6h0m7 0h0m-1 1h0m-3 0h0m-2 0h0m3 1h0m4 0h0m-10 1h0m9 3h0m1 0h0m-11 1h0m2 2h0m6 0h0m-8 2h0m2 3h0m2 4h0m7 1h0m-10 0h0m2 2h0m-1 2h0m-1 2h0m-1 0h0m14-13h0m5-2h0m-4-2h0m1 0h0m-4-1h0m3 0h0m1 0h0m-2-2h0m5-1h0m-5-1h0m6-1h0m-4 0h0m0-2h0m-2 0h0m6-1h0m-2 0h0m-1-1h0m2-2h0m-1-1h0m-5 0h0m0-1h0m5-1h0m2-1h0m-2 0h0m-5-5h0m1-3h0m5 0h0m-1-1h0m-1 0h0m-2-4h0m-3-1h0m4-1h0m-3-3h0m0-3h0m-1-1h0m1-5h0m0-41h0m4-6h0m2-5h0m-2 0h0m-3-3h0m0-2h0m2-1h0m-1-1h0m8-1h0m0-1h0m-11-2h0m3 0h0m-1-2h0m6 0h0m-8-1h0m3 0h0m-3-8h0m7-1h0m-4-3h0m1 0h0m-1-1h0m1-2h0m7-1h0m-11-2h0m3 0h0m-3-1h0m1-2h0m6 0h0m-7 0h0m5-1h0m4-2h0m-9-1h0m9-3h0m-8 0h0m1 0h0m-1-2h0m-1 0h0m6-1h0m-6-1h0m8 0h0m-7-2h0m4-1h0m-3-8h0m17 39h0m-5 2h0m-1 1h0m6 2h0m-5 1h0m0 6h0m1 190h0m5 12h0m-2 2h0m-2 1h0m2 0h0m2 3h0m-1 0h0m1 2h0m1 0h0m-3 4h0m5 1h0m-1 4h0m-3 1h0m2 1h0m1 1h0m-4 2h0m-1 0h0m-1 3h0m1 3h0m0 1h0m0 1h0m2 1h0m4 0h0m-1 1h0m1 2h0m-3 4h0m13 11h0m-3-1h0m5-1h0m-8 0h0m-3-1h0m7 0h0m-5-1h0m3 0h0m5-1h0m-10-1h0m3-3h0m5-3h0m-6-2h0m1 0h0m6 0h0m-9-2h0m7 0h0m1-1h0m2-1h0m-4 0h0m3-2h0m-1 0h0m2 0h0m-1-1h0m1-2h0m-4-1h0m-4-1h0m-2-1h0m7 0h0m-1-1h0m-3-1h0m1-1h0m3-2h0m4-2h0m-1-1h0m-3 0h0m-5-1h0m8 0h0m1 0h0m-8-1h0m3-2h0m1-2h0m1-1h0m1 0h0m-5-1h0m1-2h0m-4 0h0m7 0h0m-7-1h0m5-1h0m2-1h0m-1 0h0m-2-3h0m-3-3h0m10 14h0m4 0h0m-4 1h0m0 2h0m3 1h0m7 0h0m-4 2h0m-2 0h0m4 1h0m-5 0h0m3 1h0m-2 0h0m-4 4h0m6 0h0m-1 2h0m2 1h0m-4 2h0m6 1h0m-6 2h0m6 2h0m-2 1h0m-6 1h0m8 0h0m-8 1h0m1 0h0m-2 0h0m2 2h0m-2 0h0m6 2h0m-1 3h0m4 2h0m1 1h0m1 0h0m-2 1h0m-4 1h0m5 2h0m-1 1h0m-1 1h0m1 0h0m8 1h0m6-1h0m-1-1h0m-7 0h0m7-1h0m-1 0h0m-2-1h0m-7 0h0m4-2h0m5-1h0m-8-2h0m5 0h0m-5-2h0m7-1h0m3-1h0m-4 0h0m3-2h0m-10 0h0m6-1h0m-4 0h0m-2 0h0m8 0h0m1-2h0m-9-2h0m3-1h0m1 0h0m2 0h0m-6-2h0m1-1h0m7-2h0m-2-1h0m1-1h0m-5-2h0m7-1h0m-5 0h0m-2 0h0m6-3h0m-6-1h0m4-2h0m-4-2h0m14 1h0m0 2h0m3 1h0m3 1h0m1 4h0m-5 0h0m-4 4h0m2 0h0m2 0h0m-5 2h0m10 1h0m-8 1h0m5 1h0m-6 1h0m6 2h0m3 1h0m-5 1h0m-3 1h0m1 0h0m4 1h0m-3 1h0m-2 1h0m4 0h0m4 1h0m-4 1h0m0 1h0m-5 1h0m3 1h0m-1 4h0m-2 1h0m10-2h0m4-2h0m-2-1h0m8-2h0m-10 0h0m3 0h0m1 0h0m0-4h0m1-1h0m-3 0h0m4-1h0m-5-2h0m6 0h0m1 0h0m2-1h0m-2 0h0m-7 0h0m3 0h0m-2-2h0m7 0h0m-2-2h0m2-2h0m-5 0h0m5-2h0m-5-1h0m2-2h0m-1-3h0m6 0h0m0-4h0m-2-2h0m-6 0h0m4-2h0m3 0h0m-4 0h0m9-20h0m4 8h0m4 0h0m-2 0h0m-2 1h0m-1 1h0m4 0h0m-7 3h0m7 0h0m-3 3h0m4 1h0m-1 2h0m-6 1h0m5 1h0m-3 1h0m5 0h0m0 1h0m-11 1h0m4 0h0m3 1h0m1 1h0m-6 0h0m7 2h0m-9 1h0m4 0h0m5 1h0m-9 2h0m4 0h0m7 2h0m-4 2h0m-2 0h0m6 1h0m-5 0h0m-4 0h0m1 0h0m8 2h0m-2 1h0m-1 1h0m1 1h0m-2 1h0m2 0h0m-8 0h0m4 4h0m11-11h0m-3-1h0m0-2h0m3-3h0m1-1h0m2 0h0m-7-2h0m8 0h0m-8-1h0m7-3h0m0-1h0m-2-2h0m5 0h0m-2-1h0m3 0h0m-8 0h0m-3-1h0m1-5h0"/>
<path id="pMPE0" d="M103 333h0"/>
<path id="pMPE1" d="M63 339h0m11 18h0m40-13h0"/>
<path id="pMPP0" d="M64 355h0m6-1h0m36-14h0m-10 0h0m30-2h0"/>
<path id="pMPP1" d="M50 328h0m16 31h0m-4-7h0m0-4h0m2-18h0m13 13h0m-1 4h0m-1 3h0m40-10h0m8 0h0"/>
<path id="pMPG0" d="M57 324h0m1 3h0m-2 3h0m-5 7h0m8 1h0m-8 0h0m8 10h0m0 2h0m5 8h0m3-1h0m0-1h0m2-1h0m-4-1h0m1-2h0m3-1h0m-1-1h0m2 0h0m-8-1h0m1-1h0m-2-1h0m6-1h0m3 0h0m-8-2h0m9-1h0m-10 0h0m7 0h0m-5-2h0m18-8h0m2 3h0m-3 3h0m0 3h0m-4 1h0m1 1h0m1 1h0m-5 1h0m-1 1h0m7 1h0m-4 1h0m2 2h0m-4 0h0m2 1h0m-1 1h0m16-6h0m-5-1h0m1-1h0m5-1h0m4-2h0m-5-1h0m5-1h0m-2-1h0m2 0h0m-3-1h0m-8 0h0m7-2h0m-7-3h0m9-3h0m-5 0h0m16-3h0m1 0h0m-1 2h0m2 0h0m-2 1h0m0 1h0m1 0h0m1 3h0m-4 0h0m-2 3h0m3 1h0m-7 1h0m5 1h0m-4 0h0m6 1h0m-3 1h0m-3 0h0m2 0h0m0 1h0m19-9h0m-4 0h0m0-1h0m1-2h0m-1-1h0m-6 0h0m11-1h0m0-1h0m1 0h0m0 1h0m6 3h0m-2 1h0m-3 1h0m9 2h0m0 2h0m-6 1h0m18 11h0m1-1h0m-5-2h0m5 0h0m-11-2h0m3-2h0m0-1h0m1-2h0m0-3h0m2 0h0m8 8h0m2 3h0m1 1h0m-1 7h0"/>
<path id="pMPG1" d="M52 314h0m2 9h0m1 0h0m2 0h0m-4 2h0m4 0h0m0 2h0m-3 1h0m-1 0h0m5 0h0m-5 1h0m-1 2h0m-2 4h0m3 1h0m-2 1h0m8 3h0m6 18h0m6-2h0m-9-1h0m8 0h0m-4-1h0m-5-1h0m4 0h0m5 0h0m-8 0h0m7-1h0m-4-1h0m-2 0h0m3 0h0m5-3h0m-6-4h0m-5 0h0m11-1h0m-8 0h0m-2-1h0m6 0h0m1-2h0m-2 0h0m-1 0h0m-4-10h0m1-3h0m21 5h0m0 3h0m-6 4h0m-1 1h0m2 0h0m3 1h0m-9 0h0m3 1h0m7 1h0m-3 2h0m-4 1h0m-2 4h0m4 0h0m2 1h0m-3 1h0m12-5h0m3-2h0m-5-1h0m4-1h0m3-1h0m-2-1h0m-4-3h0m5-1h0m-7 0h0m9-1h0m-6 0h0m1-1h0m1 0h0m-6-1h0m6-1h0m-3-3h0m2-3h0m13 2h0m3 0h0m-3 1h0m2 0h0m-3 1h0m0 1h0m4 0h0m-3 0h0m4 1h0m-2 0h0m-1 0h0m-3 1h0m1 0h0m1 3h0m4 1h0m1 1h0m-3 3h0m13-4h0m1-1h0m1-1h0m-1-3h0m-1-2h0m1-2h0m-4 0h0m2 0h0m0-1h0m-8-1h0m12 2h0m2 1h0m3 2h0m-3 1h0m4 5h0m16 14h0m-2-3h0m2-1h0m-4-1h0m1-2h0m-3-1h0m-2-1h0m4 0h0m-5-3h0m0-1h0m-1 0h0m0-3h0m14 13h0m2 2h0m-2 1h0m0 1h0m135-175h0"/>
<path id="pSMCE0" d="M82 170h0m0 5h0m-1 6h0m6-6h0m2-4h0m-1-1h0m-1-2h0m8-2h0m-3 0h0m1-1h0m-2-2h0m12-5h0m-3 0h0m6 1h0m1 1h0m-5 0h0m-2 1h0m-2 1h0m-1 0h0m2 0h0m2 0h0m2 0h0m16 7h0m-4-4h0m4 0h0m-3-1h0m-1 0h0m-6-3h0m2 0h0m-1-1h0m-1 0h0m11 7h0m11 12h0m4 3h0m6-2h0m-8-5h0m10-14h0m-7-28h0m11 34h0m3 5h0m-6 0h0m0 2h0m7 5h0"/>
<path id="pSMCE1" d="M75 177h0m11 1h0m0-10h0m-1-1h0m5-1h0m4 0h0m0-3h0m11-5h0m-3 1h0m-1 1h0m2 0h0m4 0h0m12 4h0m-6-1h0m-5 0h0m3 0h0m-3-3h0m1-1h0m22-41h0m-4 12h0m-4 13h0m2 5h0m4 3h0m2 14h0m-10 0h0m0 1h0m0 1h0m5 6h0m5 4h0m3 9h0m4-7h0m-2-7h0m0-4h0m-1-3h0m6-2h0m-7-18h0m-1 0h0m1-5h0m1-11h0m2-23h0m9 61h0m3 7h0m-4 5h0m0 8h0m4 0h0"/>
<path id="pSMCP0" d="M82 169h0m0 1h0m4 9h0m32-15h0m12 9h0m0 4h0m-3 6h0m8 0h0m-1-5h0m-1-5h0m2 0h0m8-10h0m0-1h0m0-1h0m0-2h0m-8-1h0m7-3h0m-6-6h0m-2-3h0m1-3h0m1-1h0m-1-5h0m-2-2h0m2-19h0m0-1h0m2-13h0m13 51h0m-1 5h0m5 4h0m-10 2h0m0 3h0m0 4h0m0 15h0"/>
<path id="pSMCP1" d="M83 168h0m0 1h0m-6 6h0m6 4h0m30-29h0m13 24h0m-1 5h0m5 2h0m5 4h0m3-6h0m-6-2h0m3-1h0m5-3h0m1-2h0m1-8h0m0-10h0m-1-1h0m-4-36h0m1-4h0m0-6h0m12 51h0m-1 4h0m-3 2h0m6 3h0m-8 2h0m1 11h0m1 5h0"/>
<path id="pSMCG0" d="M83 171h0m0 5h0m-2 1h0m3 4h0m3-1h0m1-2h0m-2-3h0m-1-3h0m-1-1h0m2-2h0m-2-2h0m3 0h0m4 0h0m-3-1h0m14-8h0m-4 2h0m18 5h0m-3-3h0m-2-1h0m0-1h0m10 6h0m2 2h0m2 1h0m4 8h0m2 1h0m-1 5h0m9 0h0m-3-1h0m-1 0h0m0-1h0m-3-1h0m7 0h0m-5-2h0m6-1h0m-8-1h0m3-1h0m5 0h0m-1-1h0m-4-1h0m2-1h0m-1-2h0m-1-1h0m5-3h0m-1-2h0m3-4h0m-9-1h0m9 0h0m-4 0h0m-4-10h0m0-2h0m-1-1h0m4-1h0m-1-15h0m0-2h0m-1-11h0m1-4h0m1-7h0m0-2h0m1-5h0m0-1h0m1 0h0m9 56h0m1 1h0m-4 0h0m-1 0h0m10 10h0m-5 3h0m-1 2h0m3 0h0m-4 2h0m-1 3h0m6 4h0m-2 1h0m-6 1h0m0 1h0m1 0h0m2 1h0m-1 7h0"/>
<path id="pSMCG1" d="M82 168h0m-6 4h0m2 2h0m-2 2h0m2 1h0m5 0h0m-1 3h0m1 1h0m4-1h0m-1-1h0m2 0h0m5-1h0m-4-4h0m5-10h0m13-6h0m-7 2h0m3 0h0m15 6h0m-8-3h0m2-1h0m-3-2h0m22 9h0m-3 5h0m3 0h0m-1 4h0m0 1h0m13 4h0m-8-1h0m3-3h0m-5-1h0m8 0h0m-4-3h0m5 0h0m-7-1h0m-1 0h0m5-1h0m-4 0h0m8-3h0m-7-3h0m3-1h0m0-3h0m-1-4h0m3-1h0m-7-1h0m0-9h0m4 0h0m-3-4h0m0-3h0m0-1h0m2-2h0m0-2h0m-2 0h0m-2-4h0m1-3h0m-1-2h0m3 0h0m0-2h0m0-2h0m2 0h0m-3-3h0m-2 0h0m2-4h0m2-1h0m1-1h0m-2-1h0m2-3h0m-1-1h0m1-1h0m-1-3h0m1-2h0m0-2h0m1-2h0m10 53h0m-4 3h0m-1 3h0m1 9h0m3 0h0m4 1h0m-7 2h0m0 2h0m3 0h0m3 2h0m-3 7h0m0 1h0m0 1h0m2 4h0"/>
<g id="tE0"><use href="#pFBE0"/><use href="#pCME0"/><use href="#pECE0"/><use href="#pSMCE0"/><use href="#pMPE0"/></g>
<g id="tE1"><use href="#pFBE1"/><use href="#pCME1"/><use href="#pECE1"/><use href="#pSMCE1"/><use href="#pMPE1"/></g>
<g id="tP0"><use href="#pFBP0"/><use href="#pCMP0"/><use href="#pECP0"/><use href="#pSMCP0"/><use href="#pMPP0"/></g>
<g id="tP1"><use href="#pFBP1"/><use href="#pCMP1"/><use href="#pECP1"/><use href="#pSMCP1"/><use href="#pMPP1"/></g>
<g id="tG0"><use href="#pFBG0"/><use href="#pCMG0"/><use href="#pECG0"/><use href="#pSMCG0"/><use href="#pMPG0"/></g>
<g id="tG1"><use href="#pFBG1"/><use href="#pCMG1"/><use href="#pECG1"/><use href="#pSMCG1"/><use href="#pMPG1"/></g>
<g id="cFB0"><use href="#pFBE0"/><use href="#pFBP0"/><use href="#pFBG0"/></g>
<g id="cFB1"><use href="#pFBE1"/><use href="#pFBP1"/><use href="#pFBG1"/></g>
<g id="cFB"><use href="#cFB0"/><use href="#cFB1"/></g>
<g id="cCM0"><use href="#pCME0"/><use href="#pCMP0"/><use href="#pCMG0"/></g>
<g id="cCM1"><use href="#pCME1"/><use href="#pCMP1"/><use href="#pCMG1"/></g>
<g id="cCM"><use href="#cCM0"/><use href="#cCM1"/></g>
<g id="cEC0"><use href="#pECE0"/><use href="#pECP0"/><use href="#pECG0"/></g>
<g id="cEC1"><use href="#pECE1"/><use href="#pECP1"/><use href="#pECG1"/></g>
<g id="cEC"><use href="#cEC0"/><use href="#cEC1"/></g>
<g id="cSMC0"><use href="#pSMCE0"/><use href="#pSMCP0"/><use href="#pSMCG0"/></g>
<g id="cSMC1"><use href="#pSMCE1"/><use href="#pSMCP1"/><use href="#pSMCG1"/></g>
<g id="cSMC"><use href="#cSMC0"/><use href="#cSMC1"/></g>
<g id="cMP0"><use href="#pMPE0"/><use href="#pMPP0"/><use href="#pMPG0"/></g>
<g id="cMP1"><use href="#pMPE1"/><use href="#pMPP1"/><use href="#pMPG1"/></g>
<g id="cMP"><use href="#cMP0"/><use href="#cMP1"/></g>
</defs>
<g transform="translate(782.6 362.9) scale(1.0667 1.0453)" fill="none" stroke-linecap="round" stroke-width="4.69"><use href="#tE0" stroke="#03488f"/><use href="#tP0" stroke="#e60012"/><use href="#tG0" stroke="#45b549"/><use href="#tE1" stroke="#03488f"/><use href="#tP1" stroke="#e60012"/><use href="#tG1" stroke="#45b549"/></g>
<text x="276.5" y="40.8" style="font-size:43px;">A</text>
<circle cx="485" cy="27.1" r="12.9" fill="#03488f"/>
<ellipse cx="675.4" cy="25.8" rx="12.2" ry="13.6" fill="#e60012"/>
<circle cx="867" cy="27" r="13.5" fill="#45b549"/>
<text x="509.2" y="40.8" style="font-size:40.5px;">E17.5</text>
<text x="709.2" y="40.8" style="font-size:40.5px;">P2</text>
<text x="890" y="40.8" style="font-size:40.5px;">P8</text>
<rect x="407.25" y="71.00" width="2.70" height="750.30"/><rect x="1175.25" y="71.00" width="2.70" height="750.30"/><rect x="407.25" y="71.00" width="770.70" height="2.20"/><rect x="407.25" y="817.70" width="770.70" height="3.60"/>
<rect x="460.70" y="819.5" width="3.8" height="11.3"/>
<text x="462.1" y="863.7" style="font-size:37px;" text-anchor="middle">−10</text>
<rect x="620.70" y="819.5" width="3.8" height="11.3"/>
<text x="622.1" y="863.7" style="font-size:37px;" text-anchor="middle">−5</text>
<rect x="780.70" y="819.5" width="3.8" height="11.3"/>
<text x="782.1" y="863.7" style="font-size:37px;" text-anchor="middle">0</text>
<rect x="940.70" y="819.5" width="3.8" height="11.3"/>
<text x="942.1" y="863.7" style="font-size:37px;" text-anchor="middle">5</text>
<rect x="1100.70" y="819.5" width="3.8" height="11.3"/>
<text x="1102.1" y="863.7" style="font-size:37px;" text-anchor="middle">10</text>
<rect x="396.3" y="674.10" width="12.3" height="4.8"/>
<text x="390.5" y="688.8" style="font-size:37px;" text-anchor="end">−10</text>
<rect x="396.3" y="517.30" width="12.3" height="4.8"/>
<text x="390.5" y="532.0" style="font-size:37px;" text-anchor="end">−5</text>
<rect x="396.3" y="360.50" width="12.3" height="4.8"/>
<text x="390.5" y="375.2" style="font-size:37px;" text-anchor="end">0</text>
<rect x="396.3" y="203.70" width="12.3" height="4.8"/>
<text x="390.5" y="218.4" style="font-size:37px;" text-anchor="end">5</text>
<text x="799" y="909.2" style="font-size:42.3px;" text-anchor="middle">UMAP_1</text>
<text x="314.3" y="440" style="font-size:44px;" text-anchor="middle" transform="rotate(-90 314.3 440)">UMAP_2</text>
<g transform="translate(1816.6 357.4) scale(1.0757 1.0517)" fill="none" stroke-linecap="round" stroke-width="5.02"><use href="#cFB0" stroke="#ff7001"/><use href="#cCM0" stroke="#c81000"/><use href="#cEC0" stroke="#0090a0"/><use href="#cSMC0" stroke="#ff94a8"/><use href="#cMP0" stroke="#88409c"/><use href="#cFB1" stroke="#ff7001"/><use href="#cCM1" stroke="#c81000"/><use href="#cEC1" stroke="#0090a0"/><use href="#cSMC1" stroke="#ff94a8"/><use href="#cMP1" stroke="#88409c"/></g><text x="1620" y="248.5" style="font-size:43px;" text-anchor="middle">CM</text><text x="1621" y="296" style="font-size:43px;" text-anchor="middle">(4636)</text><text x="2008" y="267" style="font-size:43px;" text-anchor="middle">FB</text><text x="2008" y="314.5" style="font-size:43px;" text-anchor="middle">(5898)</text><text x="1956.5" y="525.5" style="font-size:43px;" text-anchor="middle">SMC</text><text x="1956.5" y="571.5" style="font-size:43px;" text-anchor="middle">(397)</text><text x="1699" y="636" style="font-size:43px;" text-anchor="middle">EC</text><text x="1699" y="683.5" style="font-size:43px;" text-anchor="middle">(1362)</text><text x="1932" y="708.5" style="font-size:43px;" text-anchor="middle">MP</text><text x="1932" y="754.5" style="font-size:43px;" text-anchor="middle">(352)</text>
<text x="1320" y="40.8" style="font-size:43px;">B</text>
<rect x="1437.10" y="63.88" width="4.00" height="755.72"/><rect x="2211.85" y="63.88" width="2.30" height="755.72"/><rect x="1437.10" y="63.88" width="777.05" height="2.25"/><rect x="1437.10" y="816.00" width="777.05" height="3.60"/>
<rect x="1492.00" y="817.8" width="3.8" height="12.7"/>
<text x="1494.2" y="863.8" style="font-size:37px;" text-anchor="middle">−10</text>
<rect x="1653.35" y="817.8" width="3.8" height="12.7"/>
<text x="1655.5" y="863.8" style="font-size:37px;" text-anchor="middle">−5</text>
<rect x="1814.70" y="817.8" width="3.8" height="12.7"/>
<text x="1816.9" y="863.8" style="font-size:37px;" text-anchor="middle">0</text>
<rect x="1976.05" y="817.8" width="3.8" height="12.7"/>
<text x="1978.2" y="863.8" style="font-size:37px;" text-anchor="middle">5</text>
<rect x="2137.40" y="817.8" width="3.8" height="12.7"/>
<text x="2139.6" y="863.8" style="font-size:37px;" text-anchor="middle">10</text>
<rect x="1426.5" y="670.50" width="12.6" height="4.8"/>
<text x="1425.5" y="685.2" style="font-size:37px;" text-anchor="end">−10</text>
<rect x="1426.5" y="512.75" width="12.6" height="4.8"/>
<text x="1425.5" y="527.4" style="font-size:37px;" text-anchor="end">−5</text>
<rect x="1426.5" y="355.00" width="12.6" height="4.8"/>
<text x="1425.5" y="369.7" style="font-size:37px;" text-anchor="end">0</text>
<rect x="1426.5" y="197.25" width="12.6" height="4.8"/>
<text x="1425.5" y="211.9" style="font-size:37px;" text-anchor="end">5</text>
<text x="1844" y="919.4" style="font-size:42.6px;" text-anchor="middle">UMAP_1</text>
<text x="1343.5" y="437.5" style="font-size:44px;" text-anchor="middle" transform="rotate(-90 1343.5 437.5)">UMAP_2</text>
<defs><linearGradient id="g1" gradientUnits="userSpaceOnUse" x1="0" y1="138" x2="0" y2="-210"><stop offset="0.000" stop-color="#ac95e8"/><stop offset="0.207" stop-color="#8f76ec"/><stop offset="0.440" stop-color="#7b5ef1"/><stop offset="1.000" stop-color="#8468f0"/></linearGradient><radialGradient id="g2" gradientUnits="userSpaceOnUse" cx="-129" cy="-18" r="90"><stop offset="0" stop-color="#5a3cf6" stop-opacity="0.6"/><stop offset="0.45" stop-color="#5a3cf6" stop-opacity="0.4"/><stop offset="1" stop-color="#5a3cf6" stop-opacity="0.0"/></radialGradient><linearGradient id="g3" gradientUnits="userSpaceOnUse" x1="0" y1="138" x2="0" y2="-210"><stop offset="0.000" stop-color="#a892e7"/><stop offset="0.310" stop-color="#9179ea"/><stop offset="0.569" stop-color="#7458ef"/><stop offset="1.000" stop-color="#7256ef"/></linearGradient><linearGradient id="g4" gradientUnits="userSpaceOnUse" x1="0" y1="195" x2="0" y2="-249"><stop offset="0.000" stop-color="#6646f2"/><stop offset="0.270" stop-color="#6e52ee"/><stop offset="0.777" stop-color="#6a4fee"/><stop offset="1.000" stop-color="#7a62ec"/></linearGradient><linearGradient id="g5" gradientUnits="userSpaceOnUse" x1="0" y1="195" x2="0" y2="-249"><stop offset="0.000" stop-color="#6444f3"/><stop offset="0.169" stop-color="#6a4cf2"/><stop offset="0.264" stop-color="#9a84ea"/><stop offset="0.372" stop-color="#937cea"/><stop offset="0.642" stop-color="#7c64ec"/><stop offset="1.000" stop-color="#6e54ee"/></linearGradient><radialGradient id="g6" gradientUnits="userSpaceOnUse" cx="66" cy="36" r="54"><stop offset="0" stop-color="#7054ee" stop-opacity="0.9"/><stop offset="0.6" stop-color="#7054ee" stop-opacity="0.8"/><stop offset="1" stop-color="#7054ee" stop-opacity="0.0"/></radialGradient><linearGradient id="g7" gradientUnits="userSpaceOnUse" x1="0" y1="405" x2="0" y2="135"><stop offset="0.000" stop-color="#9277ee"/><stop offset="0.500" stop-color="#8668f0"/><stop offset="0.722" stop-color="#a792ea"/><stop offset="1.000" stop-color="#c4b8e2"/></linearGradient><linearGradient id="g8" gradientUnits="userSpaceOnUse" x1="0" y1="138" x2="0" y2="-210"><stop offset="0.000" stop-color="#bdb2e2"/><stop offset="0.397" stop-color="#c6bee0"/><stop offset="1.000" stop-color="#cbc5df"/></linearGradient><linearGradient id="g9" gradientUnits="userSpaceOnUse" x1="0" y1="405" x2="0" y2="135"><stop offset="0.000" stop-color="#8b70ee"/><stop offset="0.500" stop-color="#7d5ff1"/><stop offset="0.722" stop-color="#9c84ec"/><stop offset="1.000" stop-color="#b9aae6"/></linearGradient><linearGradient id="g10" gradientUnits="userSpaceOnUse" x1="48" y1="0" x2="150" y2="0"><stop offset="0.000" stop-color="#6a50ea"/><stop offset="0.353" stop-color="#7e66e8"/><stop offset="0.529" stop-color="#c9c5dc"/><stop offset="1.000" stop-color="#d3d2d9"/></linearGradient><linearGradient id="g11" gradientUnits="userSpaceOnUse" x1="48" y1="0" x2="150" y2="0"><stop offset="0.000" stop-color="#6448ee"/><stop offset="0.412" stop-color="#7a60ea"/><stop offset="0.647" stop-color="#b4a6e2"/><stop offset="1.000" stop-color="#cfcbdf"/></linearGradient><linearGradient id="g12" gradientUnits="userSpaceOnUse" x1="0" y1="138" x2="0" y2="-210"><stop offset="0.000" stop-color="#aa95e8"/><stop offset="0.310" stop-color="#9e88ea"/><stop offset="0.569" stop-color="#967fea"/><stop offset="1.000" stop-color="#937cea"/></linearGradient><linearGradient id="g13" gradientUnits="userSpaceOnUse" x1="0" y1="210" x2="0" y2="-249"><stop offset="0.000" stop-color="#b09be6"/><stop offset="0.183" stop-color="#b29ee6"/><stop offset="0.288" stop-color="#7152f1"/><stop offset="0.458" stop-color="#8c72ec"/><stop offset="0.654" stop-color="#a38de8"/><stop offset="1.000" stop-color="#a893e8"/></linearGradient><radialGradient id="g14" gradientUnits="userSpaceOnUse" cx="54" cy="30" r="69"><stop offset="0" stop-color="#b3a0e6" stop-opacity="1.0"/><stop offset="0.75" stop-color="#b3a0e6" stop-opacity="1.0"/><stop offset="1" stop-color="#b3a0e6" stop-opacity="0.0"/></radialGradient><linearGradient id="g15" gradientUnits="userSpaceOnUse" x1="0" y1="210" x2="0" y2="-249"><stop offset="0.000" stop-color="#d3d3d5"/><stop offset="0.196" stop-color="#d3d3d5"/><stop offset="0.288" stop-color="#b7a7e4"/><stop offset="0.379" stop-color="#c4b9e0"/><stop offset="0.490" stop-color="#d4d3d9"/><stop offset="1.000" stop-color="#d3d3d5"/></linearGradient><radialGradient id="g16" gradientUnits="userSpaceOnUse" cx="54" cy="30" r="69"><stop offset="0" stop-color="#d3d2d9" stop-opacity="1.0"/><stop offset="0.75" stop-color="#d3d2d9" stop-opacity="1.0"/><stop offset="1" stop-color="#d3d2d9" stop-opacity="0.0"/></radialGradient><linearGradient id="g17" gradientUnits="userSpaceOnUse" x1="75" y1="0" x2="156" y2="0"><stop offset="0.000" stop-color="#cbc3e0"/><stop offset="0.407" stop-color="#b5a4e4"/><stop offset="0.667" stop-color="#9378e8"/><stop offset="0.815" stop-color="#8a6ee8"/><stop offset="1.000" stop-color="#b9aae2"/></linearGradient></defs><defs><filter id="cblur" x="-5%" y="-5%" width="110%" height="110%"><feGaussianBlur stdDeviation="0.75"/></filter></defs><g transform="translate(567.7 1165.4) scale(0.5123 0.5191)" fill="none" stroke-linecap="square" stroke-width="7.03" filter="url(#cblur)"><use href="#cFB" stroke="#baa8e6"/><use href="#cFB1" stroke="#4020ff" stroke-opacity="0.09"/><use href="#cFB0" stroke="#ffffff" stroke-opacity="0.10"/><use href="#cCM" stroke="url(#g1)"/><use href="#cCM" stroke="url(#g2)"/><use href="#cCM1" stroke="#4020ff" stroke-opacity="0.09"/><use href="#cCM0" stroke="#ffffff" stroke-opacity="0.10"/><use href="#cEC" stroke="#b7a4e5"/><use href="#cEC1" stroke="#4020ff" stroke-opacity="0.09"/><use href="#cEC0" stroke="#ffffff" stroke-opacity="0.10"/><use href="#cSMC" stroke="#b3a0e5"/><use href="#cSMC1" stroke="#4020ff" stroke-opacity="0.09"/><use href="#cSMC0" stroke="#ffffff" stroke-opacity="0.10"/><use href="#cMP" stroke="#b8a5e6"/><use href="#cMP1" stroke="#4020ff" stroke-opacity="0.09"/><use href="#cMP0" stroke="#ffffff" stroke-opacity="0.10"/></g><g transform="translate(1062.4 1169.6) scale(0.5123 0.5226)" fill="none" stroke-linecap="square" stroke-width="7.03" filter="url(#cblur)"><use href="#cFB" stroke="#ae9ce6"/><use href="#cFB1" stroke="#4020ff" stroke-opacity="0.09"/><use href="#cFB0" stroke="#ffffff" stroke-opacity="0.10"/><use href="#cCM" stroke="url(#g3)"/><use href="#cCM1" stroke="#4020ff" stroke-opacity="0.09"/><use href="#cCM0" stroke="#ffffff" stroke-opacity="0.10"/><use href="#cEC" stroke="#b6a3e5"/><use href="#cEC1" stroke="#4020ff" stroke-opacity="0.09"/><use href="#cEC0" stroke="#ffffff" stroke-opacity="0.10"/><use href="#cSMC" stroke="#b09de5"/><use href="#cSMC1" stroke="#4020ff" stroke-opacity="0.09"/><use href="#cSMC0" stroke="#ffffff" stroke-opacity="0.10"/><use href="#cMP" stroke="#b5a2e6"/><use href="#cMP1" stroke="#4020ff" stroke-opacity="0.09"/><use href="#cMP0" stroke="#ffffff" stroke-opacity="0.10"/></g><g transform="translate(562.0 1645.7) scale(0.5134 0.5194)" fill="none" stroke-linecap="square" stroke-width="7.01" filter="url(#cblur)"><use href="#cFB" stroke="url(#g4)"/><use href="#cFB1" stroke="#4020ff" stroke-opacity="0.09"/><use href="#cFB0" stroke="#ffffff" stroke-opacity="0.10"/><use href="#cCM" stroke="#b5a3e4"/><use href="#cCM1" stroke="#4020ff" stroke-opacity="0.09"/><use href="#cCM0" stroke="#ffffff" stroke-opacity="0.10"/><use href="#cEC" stroke="#b8a6e5"/><use href="#cEC1" stroke="#4020ff" stroke-opacity="0.09"/><use href="#cEC0" stroke="#ffffff" stroke-opacity="0.10"/><use href="#cSMC" stroke="#b5a2e5"/><use href="#cSMC1" stroke="#4020ff" stroke-opacity="0.09"/><use href="#cSMC0" stroke="#ffffff" stroke-opacity="0.10"/><use href="#cMP" stroke="#b8a6e5"/><use href="#cMP1" stroke="#4020ff" stroke-opacity="0.09"/><use href="#cMP0" stroke="#ffffff" stroke-opacity="0.10"/></g><g transform="translate(1056.6 1650.4) scale(0.5131 0.5206)" fill="none" stroke-linecap="square" stroke-width="7.02" filter="url(#cblur)"><use href="#cFB" stroke="url(#g5)"/><use href="#cFB" stroke="url(#g6)"/><use href="#cFB1" stroke="#4020ff" stroke-opacity="0.09"/><use href="#cFB0" stroke="#ffffff" stroke-opacity="0.10"/><use href="#cCM" stroke="#b9a8e6"/><use href="#cCM1" stroke="#4020ff" stroke-opacity="0.09"/><use href="#cCM0" stroke="#ffffff" stroke-opacity="0.10"/><use href="#cEC" stroke="#baa9e6"/><use href="#cEC1" stroke="#4020ff" stroke-opacity="0.09"/><use href="#cEC0" stroke="#ffffff" stroke-opacity="0.10"/><use href="#cSMC" stroke="#bcabe6"/><use href="#cSMC1" stroke="#4020ff" stroke-opacity="0.09"/><use href="#cSMC0" stroke="#ffffff" stroke-opacity="0.10"/><use href="#cMP" stroke="#bbaae6"/><use href="#cMP1" stroke="#4020ff" stroke-opacity="0.09"/><use href="#cMP0" stroke="#ffffff" stroke-opacity="0.10"/></g><g transform="translate(562.2 2103.7) scale(0.5084 0.5168)" fill="none" stroke-linecap="square" stroke-width="7.08" filter="url(#cblur)"><use href="#cFB" stroke="#cdc7de"/><use href="#cCM" stroke="#cbc4de"/><use href="#cEC" stroke="url(#g7)"/><use href="#cSMC" stroke="#cbc4de"/><use href="#cMP" stroke="#cdc7de"/></g><g transform="translate(1059.5 2107.4) scale(0.5084 0.5196)" fill="none" stroke-linecap="square" stroke-width="7.08" filter="url(#cblur)"><use href="#cFB" stroke="#cdc8df"/><use href="#cCM" stroke="url(#g8)"/><use href="#cEC" stroke="url(#g9)"/><use href="#cSMC" stroke="#c9c2df"/><use href="#cMP" stroke="#d0cbde"/></g><g transform="translate(564.8 2582.5) scale(0.5084 0.5188)" fill="none" stroke-linecap="square" stroke-width="7.08" filter="url(#cblur)"><use href="#cFB" stroke="#d3d3d5"/><use href="#cCM" stroke="#d3d3d5"/><use href="#cEC" stroke="#d3d2d9"/><use href="#cSMC" stroke="#d3d3d5"/><use href="#cMP" stroke="url(#g10)"/></g><g transform="translate(1061.9 2587.7) scale(0.5084 0.5187)" fill="none" stroke-linecap="square" stroke-width="7.08" filter="url(#cblur)"><use href="#cFB" stroke="#d0cedd"/><use href="#cCM" stroke="#d0cedd"/><use href="#cEC" stroke="#d0cedd"/><use href="#cSMC" stroke="#d0cedd"/><use href="#cMP" stroke="url(#g11)"/></g><g transform="translate(562.6 3072.3) scale(0.5102 0.5139)" fill="none" stroke-linecap="square" stroke-width="7.06" filter="url(#cblur)"><use href="#cFB" stroke="url(#g13)"/><use href="#cFB" stroke="url(#g14)"/><use href="#cFB1" stroke="#4020ff" stroke-opacity="0.09"/><use href="#cFB0" stroke="#ffffff" stroke-opacity="0.10"/><use href="#cCM" stroke="url(#g12)"/><use href="#cCM1" stroke="#4020ff" stroke-opacity="0.09"/><use href="#cCM0" stroke="#ffffff" stroke-opacity="0.10"/><use href="#cEC" stroke="#bcabe6"/><use href="#cEC1" stroke="#4020ff" stroke-opacity="0.09"/><use href="#cEC0" stroke="#ffffff" stroke-opacity="0.10"/><use href="#cSMC" stroke="#7a5cf0"/><use href="#cSMC1" stroke="#4020ff" stroke-opacity="0.09"/><use href="#cSMC0" stroke="#ffffff" stroke-opacity="0.10"/><use href="#cMP" stroke="#b9a7e6"/><use href="#cMP1" stroke="#4020ff" stroke-opacity="0.09"/><use href="#cMP0" stroke="#ffffff" stroke-opacity="0.10"/></g><g transform="translate(1064.0 3074.4) scale(0.5099 0.5125)" fill="none" stroke-linecap="square" stroke-width="7.06" filter="url(#cblur)"><use href="#cFB" stroke="url(#g15)"/><use href="#cFB" stroke="url(#g16)"/><use href="#cCM" stroke="#d3d3d5"/><use href="#cEC" stroke="#d3d3d5"/><use href="#cSMC" stroke="url(#g17)"/><use href="#cMP" stroke="#d3d3d5"/></g>
<text x="251" y="981.5" style="font-size:43px;">C</text>
<rect x="379.90" y="1007.50" width="2.20" height="394.00"/><rect x="766.40" y="1007.50" width="2.20" height="394.00"/><rect x="379.90" y="1007.50" width="388.70" height="2.20"/><rect x="379.90" y="1398.90" width="388.70" height="2.60"/>
<text x="585.3" y="981.9" style="font-size:42.6px;font-style:italic;" text-anchor="middle">Myh6</text>
<rect x="874.80" y="1013.50" width="2.20" height="390.90"/><rect x="1259.60" y="1013.50" width="2.20" height="390.90"/><rect x="874.80" y="1013.50" width="387.00" height="2.20"/><rect x="874.80" y="1401.80" width="387.00" height="2.60"/>
<text x="1068.0" y="986.6" style="font-size:42.6px;font-style:italic;" text-anchor="middle">Myl2</text>
<rect x="376.70" y="1487.80" width="2.20" height="393.90"/><rect x="760.90" y="1487.80" width="2.20" height="393.90"/><rect x="376.70" y="1487.80" width="386.40" height="2.20"/><rect x="376.70" y="1879.10" width="386.40" height="2.60"/>
<text x="584.2" y="1461.6" style="font-size:42.6px;font-style:italic;" text-anchor="middle">Col1a1</text>
<rect x="868.80" y="1494.10" width="2.20" height="390.80"/><rect x="1255.70" y="1494.10" width="2.20" height="390.80"/><rect x="868.80" y="1494.10" width="389.10" height="2.20"/><rect x="868.80" y="1882.30" width="389.10" height="2.60"/>
<text x="1067.4" y="1466.0" style="font-size:42.6px;font-style:italic;" text-anchor="middle">Dcn</text>
<rect x="380.40" y="1947.00" width="2.20" height="390.90"/><rect x="758.30" y="1947.00" width="2.20" height="390.90"/><rect x="380.40" y="1947.00" width="380.10" height="2.20"/><rect x="380.40" y="2335.30" width="380.10" height="2.60"/>
<text x="585.6" y="1924.0" style="font-size:42.6px;font-style:italic;" text-anchor="middle">Cdh5</text>
<rect x="877.70" y="1949.90" width="2.20" height="391.10"/><rect x="1255.40" y="1949.90" width="2.20" height="391.10"/><rect x="877.70" y="1949.90" width="379.90" height="2.20"/><rect x="877.70" y="2338.40" width="379.90" height="2.60"/>
<text x="1066.1" y="1928.8" style="font-size:42.6px;font-style:italic;" text-anchor="middle">Pecam1</text>
<rect x="383.30" y="2427.00" width="2.20" height="390.90"/><rect x="760.90" y="2427.00" width="2.20" height="390.90"/><rect x="383.30" y="2427.00" width="379.80" height="2.20"/><rect x="383.30" y="2815.30" width="379.80" height="2.60"/>
<text x="582.8" y="2401.6" style="font-size:42.6px;font-style:italic;" text-anchor="middle">Adgre1</text>
<rect x="877.70" y="2429.90" width="2.20" height="391.10"/><rect x="1255.40" y="2429.90" width="2.20" height="391.10"/><rect x="877.70" y="2429.90" width="379.90" height="2.20"/><rect x="877.70" y="2818.40" width="379.90" height="2.60"/>
<text x="1070.0" y="2406.7" style="font-size:42.6px;font-style:italic;" text-anchor="middle">Csf1r</text>
<rect x="380.20" y="2910.50" width="2.20" height="390.80"/><rect x="757.90" y="2910.50" width="2.20" height="390.80"/><rect x="380.20" y="2910.50" width="379.90" height="2.20"/><rect x="380.20" y="3298.70" width="379.90" height="2.60"/>
<text x="585.0" y="2879.7" style="font-size:42.6px;font-style:italic;" text-anchor="middle">Acta2</text>
<rect x="877.70" y="2912.90" width="2.20" height="388.40"/><rect x="1255.40" y="2912.90" width="2.20" height="388.40"/><rect x="877.70" y="2912.90" width="379.90" height="2.20"/><rect x="877.70" y="3298.70" width="379.90" height="2.60"/>
<text x="1067.7" y="2882.5" style="font-size:42.6px;font-style:italic;" text-anchor="middle">Myh11</text>
<text x="1439.5" y="981.8" style="font-size:43px;">D</text>
<rect x="1507.5" y="1028" width="216.5" height="33" fill="#ff7001"/>
<rect x="1724.0" y="1028" width="169.8" height="33" fill="#c81000"/>
<rect x="1893.8" y="1028" width="50.2" height="33" fill="#0090a0"/>
<rect x="1944.0" y="1028" width="13.0" height="33" fill="#88409c"/>
<rect x="1957.0" y="1028" width="15.5" height="33" fill="#ff94a8"/>
<text x="1984" y="1050.3" style="font-size:29.8px;">Cell type</text>
<rect x="1507.5" y="1069.6" width="216.5" height="31.7" fill="#ffb0b0"/>
<rect x="1724.0" y="1069.6" width="169.8" height="31.7" fill="#c4c4ff"/>
<rect x="1893.8" y="1069.6" width="50.2" height="31.7" fill="#d7d7ff"/>
<rect x="1944.0" y="1069.6" width="13.0" height="31.7" fill="#ebebff"/>
<rect x="1957.0" y="1069.6" width="15.5" height="31.7" fill="#ebebff"/>
<rect x="1507.5" y="1101.0" width="216.5" height="31.7" fill="#ffb0b0"/>
<rect x="1724.0" y="1101.0" width="169.8" height="31.7" fill="#c4c4ff"/>
<rect x="1893.8" y="1101.0" width="50.2" height="31.7" fill="#d7d7ff"/>
<rect x="1944.0" y="1101.0" width="13.0" height="31.7" fill="#ebebff"/>
<rect x="1957.0" y="1101.0" width="15.5" height="31.7" fill="#ebebff"/>
<rect x="1507.5" y="1132.4" width="216.5" height="31.7" fill="#ffb0b0"/>
<rect x="1724.0" y="1132.4" width="169.8" height="31.7" fill="#c4c4ff"/>
<rect x="1893.8" y="1132.4" width="50.2" height="31.7" fill="#d7d7ff"/>
<rect x="1944.0" y="1132.4" width="13.0" height="31.7" fill="#ebebff"/>
<rect x="1957.0" y="1132.4" width="15.5" height="31.7" fill="#ebebff"/>
<rect x="1507.5" y="1163.7" width="216.5" height="31.7" fill="#ffb0b0"/>
<rect x="1724.0" y="1163.7" width="169.8" height="31.7" fill="#d7d7ff"/>
<rect x="1893.8" y="1163.7" width="50.2" height="31.7" fill="#d7d7ff"/>
<rect x="1944.0" y="1163.7" width="13.0" height="31.7" fill="#d7d7ff"/>
<rect x="1957.0" y="1163.7" width="15.5" height="31.7" fill="#c4c4ff"/>
<rect x="1507.5" y="1195.1" width="216.5" height="31.7" fill="#ffb0b0"/>
<rect x="1724.0" y="1195.1" width="169.8" height="31.7" fill="#c4c4ff"/>
<rect x="1893.8" y="1195.1" width="50.2" height="31.7" fill="#d7d7ff"/>
<rect x="1944.0" y="1195.1" width="13.0" height="31.7" fill="#ebebff"/>
<rect x="1957.0" y="1195.1" width="15.5" height="31.7" fill="#ffffff"/>
<rect x="1507.5" y="1226.5" width="216.5" height="31.7" fill="#c4c4ff"/>
<rect x="1724.0" y="1226.5" width="169.8" height="31.7" fill="#ff9c9c"/>
<rect x="1893.8" y="1226.5" width="50.2" height="31.7" fill="#d7d7ff"/>
<rect x="1944.0" y="1226.5" width="13.0" height="31.7" fill="#d7d7ff"/>
<rect x="1957.0" y="1226.5" width="15.5" height="31.7" fill="#ebebff"/>
<rect x="1507.5" y="1257.9" width="216.5" height="31.7" fill="#c4c4ff"/>
<rect x="1724.0" y="1257.9" width="169.8" height="31.7" fill="#ff9c9c"/>
<rect x="1893.8" y="1257.9" width="50.2" height="31.7" fill="#d7d7ff"/>
<rect x="1944.0" y="1257.9" width="13.0" height="31.7" fill="#ebebff"/>
<rect x="1957.0" y="1257.9" width="15.5" height="31.7" fill="#ebebff"/>
<rect x="1507.5" y="1289.2" width="216.5" height="31.7" fill="#c4c4ff"/>
<rect x="1724.0" y="1289.2" width="169.8" height="31.7" fill="#ff9c9c"/>
<rect x="1893.8" y="1289.2" width="50.2" height="31.7" fill="#d7d7ff"/>
<rect x="1944.0" y="1289.2" width="13.0" height="31.7" fill="#d7d7ff"/>
<rect x="1957.0" y="1289.2" width="15.5" height="31.7" fill="#ebebff"/>
<rect x="1507.5" y="1320.6" width="216.5" height="31.7" fill="#c4c4ff"/>
<rect x="1724.0" y="1320.6" width="169.8" height="31.7" fill="#ff9c9c"/>
<rect x="1893.8" y="1320.6" width="50.2" height="31.7" fill="#d7d7ff"/>
<rect x="1944.0" y="1320.6" width="13.0" height="31.7" fill="#d7d7ff"/>
<rect x="1957.0" y="1320.6" width="15.5" height="31.7" fill="#ebebff"/>
<rect x="1507.5" y="1352.0" width="216.5" height="31.7" fill="#c4c4ff"/>
<rect x="1724.0" y="1352.0" width="169.8" height="31.7" fill="#ff9c9c"/>
<rect x="1893.8" y="1352.0" width="50.2" height="31.7" fill="#c4c4ff"/>
<rect x="1944.0" y="1352.0" width="13.0" height="31.7" fill="#d7d7ff"/>
<rect x="1957.0" y="1352.0" width="15.5" height="31.7" fill="#ebebff"/>
<rect x="1507.5" y="1383.4" width="216.5" height="31.7" fill="#ebebff"/>
<rect x="1724.0" y="1383.4" width="169.8" height="31.7" fill="#ebebff"/>
<rect x="1893.8" y="1383.4" width="50.2" height="31.7" fill="#ff9c9c"/>
<rect x="1944.0" y="1383.4" width="13.0" height="31.7" fill="#ebebff"/>
<rect x="1957.0" y="1383.4" width="15.5" height="31.7" fill="#ebebff"/>
<rect x="1507.5" y="1414.7" width="216.5" height="31.7" fill="#ebebff"/>
<rect x="1724.0" y="1414.7" width="169.8" height="31.7" fill="#ebebff"/>
<rect x="1893.8" y="1414.7" width="50.2" height="31.7" fill="#ff8888"/>
<rect x="1944.0" y="1414.7" width="13.0" height="31.7" fill="#ebebff"/>
<rect x="1957.0" y="1414.7" width="15.5" height="31.7" fill="#ffebeb"/>
<rect x="1507.5" y="1446.1" width="216.5" height="31.7" fill="#ebebff"/>
<rect x="1724.0" y="1446.1" width="169.8" height="31.7" fill="#ebebff"/>
<rect x="1893.8" y="1446.1" width="50.2" height="31.7" fill="#ff8888"/>
<rect x="1944.0" y="1446.1" width="13.0" height="31.7" fill="#ebebff"/>
<rect x="1957.0" y="1446.1" width="15.5" height="31.7" fill="#ebebff"/>
<rect x="1507.5" y="1477.5" width="216.5" height="31.7" fill="#ffebeb"/>
<rect x="1724.0" y="1477.5" width="169.8" height="31.7" fill="#c4c4ff"/>
<rect x="1893.8" y="1477.5" width="50.2" height="31.7" fill="#ffb0b0"/>
<rect x="1944.0" y="1477.5" width="13.0" height="31.7" fill="#ffebeb"/>
<rect x="1957.0" y="1477.5" width="15.5" height="31.7" fill="#ffffff"/>
<rect x="1507.5" y="1508.9" width="216.5" height="31.7" fill="#ebebff"/>
<rect x="1724.0" y="1508.9" width="169.8" height="31.7" fill="#ebebff"/>
<rect x="1893.8" y="1508.9" width="50.2" height="31.7" fill="#ff6060"/>
<rect x="1944.0" y="1508.9" width="13.0" height="31.7" fill="#ebebff"/>
<rect x="1957.0" y="1508.9" width="15.5" height="31.7" fill="#ebebff"/>
<rect x="1507.5" y="1540.2" width="216.5" height="31.7" fill="#ebebff"/>
<rect x="1724.0" y="1540.2" width="169.8" height="31.7" fill="#ffffff"/>
<rect x="1893.8" y="1540.2" width="50.2" height="31.7" fill="#ffffff"/>
<rect x="1944.0" y="1540.2" width="13.0" height="31.7" fill="#ff3939"/>
<rect x="1957.0" y="1540.2" width="15.5" height="31.7" fill="#ebebff"/>
<rect x="1507.5" y="1571.6" width="216.5" height="31.7" fill="#ffffff"/>
<rect x="1724.0" y="1571.6" width="169.8" height="31.7" fill="#ffffff"/>
<rect x="1893.8" y="1571.6" width="50.2" height="31.7" fill="#ffffff"/>
<rect x="1944.0" y="1571.6" width="13.0" height="31.7" fill="#ff7474"/>
<rect x="1957.0" y="1571.6" width="15.5" height="31.7" fill="#ebebff"/>
<rect x="1507.5" y="1603.0" width="216.5" height="31.7" fill="#ebebff"/>
<rect x="1724.0" y="1603.0" width="169.8" height="31.7" fill="#ebebff"/>
<rect x="1893.8" y="1603.0" width="50.2" height="31.7" fill="#ebebff"/>
<rect x="1944.0" y="1603.0" width="13.0" height="31.7" fill="#ff7474"/>
<rect x="1957.0" y="1603.0" width="15.5" height="31.7" fill="#d7d7ff"/>
<rect x="1507.5" y="1634.4" width="216.5" height="31.7" fill="#ebebff"/>
<rect x="1724.0" y="1634.4" width="169.8" height="31.7" fill="#ffffff"/>
<rect x="1893.8" y="1634.4" width="50.2" height="31.7" fill="#ffffff"/>
<rect x="1944.0" y="1634.4" width="13.0" height="31.7" fill="#ffc4c4"/>
<rect x="1957.0" y="1634.4" width="15.5" height="31.7" fill="#ebebff"/>
<rect x="1507.5" y="1634.4" width="30" height="31.7" fill="#f6f6ff"/>
<rect x="1507.5" y="1665.7" width="216.5" height="31.7" fill="#ebebff"/>
<rect x="1724.0" y="1665.7" width="169.8" height="31.7" fill="#ffffff"/>
<rect x="1893.8" y="1665.7" width="50.2" height="31.7" fill="#ffffff"/>
<rect x="1944.0" y="1665.7" width="13.0" height="31.7" fill="#ffc4c4"/>
<rect x="1957.0" y="1665.7" width="15.5" height="31.7" fill="#ebebff"/>
<rect x="1507.5" y="1665.7" width="30" height="31.7" fill="#f6f6ff"/>
<rect x="1507.5" y="1697.1" width="216.5" height="31.7" fill="#ebebff"/>
<rect x="1724.0" y="1697.1" width="169.8" height="31.7" fill="#ebebff"/>
<rect x="1893.8" y="1697.1" width="50.2" height="31.7" fill="#ebebff"/>
<rect x="1944.0" y="1697.1" width="13.0" height="31.7" fill="#ebebff"/>
<rect x="1957.0" y="1697.1" width="15.5" height="31.7" fill="#ff7474"/>
<rect x="1507.5" y="1728.5" width="216.5" height="31.7" fill="#ebebff"/>
<rect x="1724.0" y="1728.5" width="169.8" height="31.7" fill="#ebebff"/>
<rect x="1893.8" y="1728.5" width="50.2" height="31.7" fill="#ebebff"/>
<rect x="1944.0" y="1728.5" width="13.0" height="31.7" fill="#ebebff"/>
<rect x="1957.0" y="1728.5" width="15.5" height="31.7" fill="#ff4d4d"/>
<rect x="1507.5" y="1759.9" width="216.5" height="31.7" fill="#ffd7d7"/>
<rect x="1724.0" y="1759.9" width="169.8" height="31.7" fill="#c4c4ff"/>
<rect x="1893.8" y="1759.9" width="50.2" height="31.7" fill="#d7d7ff"/>
<rect x="1944.0" y="1759.9" width="13.0" height="31.7" fill="#ebebff"/>
<rect x="1957.0" y="1759.9" width="15.5" height="31.7" fill="#ffc4c4"/>
<rect x="1507.5" y="1791.2" width="216.5" height="31.7" fill="#ebebff"/>
<rect x="1724.0" y="1791.2" width="169.8" height="31.7" fill="#ffffff"/>
<rect x="1893.8" y="1791.2" width="50.2" height="31.7" fill="#ebebff"/>
<rect x="1944.0" y="1791.2" width="13.0" height="31.7" fill="#ebebff"/>
<rect x="1957.0" y="1791.2" width="15.5" height="31.7" fill="#ff4d4d"/>
<rect x="1507.5" y="1822.6" width="216.5" height="31.7" fill="#ebebff"/>
<rect x="1724.0" y="1822.6" width="169.8" height="31.7" fill="#d7d7ff"/>
<rect x="1893.8" y="1822.6" width="50.2" height="31.7" fill="#ebebff"/>
<rect x="1944.0" y="1822.6" width="13.0" height="31.7" fill="#ebebff"/>
<rect x="1957.0" y="1822.6" width="15.5" height="31.7" fill="#ff7474"/>
<path d="M1698 1603v31.7" stroke="#3939ff" stroke-width="1" fill="none"/>
<path d="M1945.5 1665.7v31.7" stroke="#4d4dff" stroke-width="2" fill="none"/>
<path d="M1652 1320.6v31.7M1710 1352v31.7M1628 1603v31.7" stroke="#6060ff" stroke-width="1" fill="none"/>
<path d="M1614 1320.6v31.7M1708 1320.6v31.7M1659 1352v31.7M1709 1603v31.7M1703 1759.9v31.7" stroke="#7474ff" stroke-width="1" fill="none"/>
<path d="M1640.5 1603v31.7M1613.5 1759.9v31.7" stroke="#7474ff" stroke-width="2" fill="none"/>
<path d="M1592 1352v31.7M1589 1603v31.7" stroke="#7474ff" stroke-width="3" fill="none"/>
<path d="M1941 1069.6v31.7M1557 1289.2v31.7M1602 1289.2v31.7M1668 1289.2v31.7M1535 1320.6v31.7M1595 1320.6v31.7M1626 1320.6v31.7M1636 1320.6v31.7M1687 1320.6v31.7M1697 1320.6v31.7M1521 1352v31.7M1552 1352v31.7M1558 1352v31.7M1616 1352v31.7M1618 1352v31.7M1620 1352v31.7M1683 1352v31.7M1685 1352v31.7M1686 1352v31.7M1687 1352v31.7M1541 1477.5v31.7M1605 1477.5v31.7M1608 1603v31.7M1631 1603v31.7M1633 1603v31.7M1639 1603v31.7M1661 1603v31.7M1678 1603v31.7" stroke="#8888ff" stroke-width="1" fill="none"/>
<path d="M1599.5 1320.6v31.7M1711.5 1320.6v31.7M1565.5 1352v31.7M1679.5 1352v31.7M1703.5 1352v31.7M1926.5 1352v31.7M1518.5 1603v31.7" stroke="#8888ff" stroke-width="2" fill="none"/>
<path d="M1539 1352v31.7M1595 1603v31.7M1637 1603v31.7M1953 1665.7v31.7" stroke="#8888ff" stroke-width="3" fill="none"/>
<path d="M1740 1069.6v31.7M1777 1069.6v31.7M1853 1101v31.7M1820 1132.4v31.7M1872 1132.4v31.7M1799 1163.7v31.7M1817 1163.7v31.7M1809 1195.1v31.7M1831 1195.1v31.7M1900 1195.1v31.7M1512 1226.5v31.7M1514 1226.5v31.7M1515 1226.5v31.7M1561 1226.5v31.7M1601 1226.5v31.7M1613 1226.5v31.7M1622 1226.5v31.7M1639 1226.5v31.7M1650 1226.5v31.7M1671 1226.5v31.7M1683 1226.5v31.7M1591 1257.9v31.7M1723 1257.9v31.7M1516 1289.2v31.7M1519 1289.2v31.7M1532 1289.2v31.7M1584 1289.2v31.7M1591 1289.2v31.7M1596 1289.2v31.7M1601 1289.2v31.7M1608 1289.2v31.7M1641 1289.2v31.7M1646 1289.2v31.7M1650 1289.2v31.7M1655 1289.2v31.7M1660 1289.2v31.7M1667 1289.2v31.7M1679 1289.2v31.7M1685 1289.2v31.7M1688 1289.2v31.7M1536 1320.6v31.7M1542 1320.6v31.7M1543 1320.6v31.7M1544 1320.6v31.7M1580 1320.6v31.7M1589 1320.6v31.7M1613 1320.6v31.7M1630 1320.6v31.7M1659 1320.6v31.7M1661 1320.6v31.7M1703 1320.6v31.7M1905 1320.6v31.7M1910 1320.6v31.7M1916 1320.6v31.7M1519 1352v31.7M1535 1352v31.7M1553 1352v31.7M1561 1352v31.7M1570 1352v31.7M1576 1352v31.7M1577 1352v31.7M1589 1352v31.7M1590 1352v31.7M1606 1352v31.7M1619 1352v31.7M1650 1352v31.7M1673 1352v31.7M1691 1352v31.7M1606 1477.5v31.7M1653 1477.5v31.7M1731 1477.5v31.7M1865 1477.5v31.7M1529 1603v31.7M1561 1603v31.7M1629 1603v31.7M1717 1603v31.7M1585 1759.9v31.7M1625 1759.9v31.7M1633 1759.9v31.7M1676 1759.9v31.7M1704 1759.9v31.7" stroke="#9c9cff" stroke-width="1" fill="none"/>
<path d="M1911.5 1069.6v31.7M1811.5 1101v31.7M1817.5 1101v31.7M1868.5 1101v31.7M1759.5 1132.4v31.7M1771.5 1132.4v31.7M1796.5 1132.4v31.7M1866.5 1132.4v31.7M1780.5 1195.1v31.7M1794.5 1195.1v31.7M1803.5 1195.1v31.7M1611.5 1226.5v31.7M1528.5 1289.2v31.7M1561.5 1289.2v31.7M1588.5 1289.2v31.7M1599.5 1289.2v31.7M1516.5 1320.6v31.7M1549.5 1320.6v31.7M1571.5 1320.6v31.7M1576.5 1320.6v31.7M1587.5 1320.6v31.7M1611.5 1320.6v31.7M1715.5 1320.6v31.7M1526.5 1352v31.7M1636.5 1352v31.7M1671.5 1352v31.7M1681.5 1352v31.7M1722.5 1352v31.7M1818.5 1477.5v31.7M1821.5 1477.5v31.7M1837.5 1477.5v31.7M1860.5 1477.5v31.7M1887.5 1477.5v31.7M1624.5 1603v31.7M1648.5 1603v31.7M1651.5 1603v31.7M1658.5 1603v31.7M1665.5 1603v31.7M1889.5 1603v31.7M1581.5 1759.9v31.7" stroke="#9c9cff" stroke-width="2" fill="none"/>
<path d="M1728 1132.4v31.7M1769 1132.4v31.7M1728 1195.1v31.7M1771 1195.1v31.7M1790 1195.1v31.7M1557 1226.5v31.7M1571 1226.5v31.7M1711 1226.5v31.7M1636 1257.9v31.7M1534 1289.2v31.7M1574 1289.2v31.7M1636 1289.2v31.7M1693 1289.2v31.7M1585 1320.6v31.7M1719 1320.6v31.7M1550 1352v31.7M1563 1352v31.7M1657 1352v31.7M1712 1352v31.7M1720 1352v31.7M1557 1477.5v31.7M1778 1477.5v31.7M1807 1477.5v31.7M1531 1603v31.7" stroke="#9c9cff" stroke-width="3" fill="none"/>
<path d="M1744 1069.6v31.7M1792 1069.6v31.7M1798 1069.6v31.7M1809 1069.6v31.7M1834 1069.6v31.7M1841 1069.6v31.7M1848 1069.6v31.7M1851 1069.6v31.7M1852 1069.6v31.7M1862 1069.6v31.7M1870 1069.6v31.7M1873 1069.6v31.7M1733 1101v31.7M1774 1101v31.7M1795 1101v31.7M1814 1101v31.7M1844 1101v31.7M1854 1101v31.7M1865 1101v31.7M1880 1101v31.7M1884 1101v31.7M1885 1101v31.7M1889 1101v31.7M1891 1101v31.7M1892 1101v31.7M1931 1101v31.7M1734 1132.4v31.7M1748 1132.4v31.7M1777 1132.4v31.7M1788 1132.4v31.7M1802 1132.4v31.7M1804 1132.4v31.7M1809 1132.4v31.7M1817 1132.4v31.7M1823 1132.4v31.7M1835 1132.4v31.7M1836 1132.4v31.7M1837 1132.4v31.7M1843 1132.4v31.7M1847 1132.4v31.7M1848 1132.4v31.7M1851 1132.4v31.7M1856 1132.4v31.7M1860 1132.4v31.7M1863 1132.4v31.7M1870 1132.4v31.7M1876 1132.4v31.7M1901 1132.4v31.7M1928 1132.4v31.7M1938 1132.4v31.7M1704 1163.7v31.7M1775 1163.7v31.7M1786 1163.7v31.7M1893 1163.7v31.7M1929 1163.7v31.7M1725 1195.1v31.7M1726 1195.1v31.7M1730 1195.1v31.7M1738 1195.1v31.7M1755 1195.1v31.7M1783 1195.1v31.7M1798 1195.1v31.7M1805 1195.1v31.7M1834 1195.1v31.7M1849 1195.1v31.7M1856 1195.1v31.7M1871 1195.1v31.7M1891 1195.1v31.7M1943 1195.1v31.7M1508 1226.5v31.7M1524 1226.5v31.7M1536 1226.5v31.7M1537 1226.5v31.7M1542 1226.5v31.7M1569 1226.5v31.7M1576 1226.5v31.7M1587 1226.5v31.7M1609 1226.5v31.7M1630 1226.5v31.7M1631 1226.5v31.7M1633 1226.5v31.7M1649 1226.5v31.7M1654 1226.5v31.7M1656 1226.5v31.7M1690 1226.5v31.7M1704 1226.5v31.7M1938 1226.5v31.7M1511 1257.9v31.7M1517 1257.9v31.7M1519 1257.9v31.7M1524 1257.9v31.7M1554 1257.9v31.7M1561 1257.9v31.7M1587 1257.9v31.7M1590 1257.9v31.7M1600 1257.9v31.7M1661 1257.9v31.7M1667 1257.9v31.7M1687 1257.9v31.7M1514 1289.2v31.7M1515 1289.2v31.7M1527 1289.2v31.7M1546 1289.2v31.7M1560 1289.2v31.7M1563 1289.2v31.7M1571 1289.2v31.7M1580 1289.2v31.7M1581 1289.2v31.7M1597 1289.2v31.7M1603 1289.2v31.7M1612 1289.2v31.7M1643 1289.2v31.7M1690 1289.2v31.7M1906 1289.2v31.7M1511 1320.6v31.7M1534 1320.6v31.7M1547 1320.6v31.7M1555 1320.6v31.7M1561 1320.6v31.7M1575 1320.6v31.7M1578 1320.6v31.7M1579 1320.6v31.7M1593 1320.6v31.7M1601 1320.6v31.7M1633 1320.6v31.7M1660 1320.6v31.7M1679 1320.6v31.7M1680 1320.6v31.7M1917 1320.6v31.7M1537 1352v31.7M1580 1352v31.7M1617 1352v31.7M1666 1352v31.7M1668 1352v31.7M1674 1352v31.7M1678 1352v31.7M1684 1352v31.7M1690 1352v31.7M1705 1352v31.7M1714 1352v31.7M1895 1352v31.7M1649 1477.5v31.7M1735 1477.5v31.7M1739 1477.5v31.7M1755 1477.5v31.7M1798 1477.5v31.7M1812 1477.5v31.7M1817 1477.5v31.7M1848 1477.5v31.7M1863 1477.5v31.7M1868 1477.5v31.7M1876 1477.5v31.7M1880 1477.5v31.7M1889 1477.5v31.7M1550 1603v31.7M1604 1603v31.7M1634 1603v31.7M1759 1603v31.7M1777 1603v31.7M1790 1603v31.7M1791 1603v31.7M1573 1634.4v31.7M1557 1665.7v31.7M1599 1665.7v31.7M1617 1665.7v31.7M1690 1665.7v31.7M1642 1728.5v31.7M1657 1728.5v31.7M1774 1759.9v31.7M1870 1759.9v31.7M1893 1759.9v31.7M1524 1822.6v31.7" stroke="#b0b0ff" stroke-width="1" fill="none"/>
<path d="M1745.5 1069.6v31.7M1758.5 1069.6v31.7M1785.5 1069.6v31.7M1787.5 1069.6v31.7M1793.5 1069.6v31.7M1804.5 1069.6v31.7M1818.5 1069.6v31.7M1820.5 1069.6v31.7M1859.5 1069.6v31.7M1933.5 1069.6v31.7M1726.5 1101v31.7M1793.5 1101v31.7M1797.5 1101v31.7M1834.5 1101v31.7M1784.5 1132.4v31.7M1798.5 1132.4v31.7M1824.5 1132.4v31.7M1832.5 1132.4v31.7M1873.5 1132.4v31.7M1877.5 1132.4v31.7M1902.5 1132.4v31.7M1739.5 1163.7v31.7M1784.5 1163.7v31.7M1910.5 1163.7v31.7M1958.5 1163.7v31.7M1731.5 1195.1v31.7M1753.5 1195.1v31.7M1768.5 1195.1v31.7M1773.5 1195.1v31.7M1801.5 1195.1v31.7M1817.5 1195.1v31.7M1844.5 1195.1v31.7M1860.5 1195.1v31.7M1864.5 1195.1v31.7M1892.5 1195.1v31.7M1517.5 1226.5v31.7M1528.5 1226.5v31.7M1538.5 1226.5v31.7M1559.5 1226.5v31.7M1563.5 1226.5v31.7M1588.5 1226.5v31.7M1593.5 1226.5v31.7M1603.5 1226.5v31.7M1634.5 1226.5v31.7M1669.5 1226.5v31.7M1681.5 1226.5v31.7M1722.5 1226.5v31.7M1904.5 1226.5v31.7M1536.5 1257.9v31.7M1567.5 1257.9v31.7M1580.5 1257.9v31.7M1678.5 1257.9v31.7M1719.5 1257.9v31.7M1517.5 1289.2v31.7M1520.5 1289.2v31.7M1522.5 1289.2v31.7M1530.5 1289.2v31.7M1544.5 1289.2v31.7M1582.5 1289.2v31.7M1609.5 1289.2v31.7M1613.5 1289.2v31.7M1658.5 1289.2v31.7M1669.5 1289.2v31.7M1686.5 1289.2v31.7M1708.5 1289.2v31.7M1920.5 1289.2v31.7M1928.5 1289.2v31.7M1540.5 1320.6v31.7M1568.5 1320.6v31.7M1573.5 1320.6v31.7M1615.5 1320.6v31.7M1627.5 1320.6v31.7M1634.5 1320.6v31.7M1662.5 1320.6v31.7M1673.5 1320.6v31.7M1692.5 1320.6v31.7M1515.5 1352v31.7M1522.5 1352v31.7M1524.5 1352v31.7M1669.5 1352v31.7M1922.5 1352v31.7M1747.5 1477.5v31.7M1753.5 1477.5v31.7M1762.5 1477.5v31.7M1788.5 1477.5v31.7M1810.5 1477.5v31.7M1851.5 1477.5v31.7M1869.5 1477.5v31.7M1539.5 1603v31.7M1544.5 1603v31.7M1699.5 1603v31.7M1554.5 1634.4v31.7M1689.5 1634.4v31.7M1622.5 1728.5v31.7M1680.5 1728.5v31.7M1554.5 1759.9v31.7M1751.5 1759.9v31.7M1793.5 1759.9v31.7" stroke="#b0b0ff" stroke-width="2" fill="none"/>
<path d="M1882 1069.6v31.7M1886 1069.6v31.7M1747 1101v31.7M1767 1101v31.7M1877 1101v31.7M1882 1101v31.7M1731 1132.4v31.7M1757 1132.4v31.7M1827 1132.4v31.7M1839 1132.4v31.7M1886 1132.4v31.7M1833 1163.7v31.7M1937 1163.7v31.7M1763 1195.1v31.7M1814 1195.1v31.7M1853 1195.1v31.7M1933 1195.1v31.7M1526 1226.5v31.7M1566 1226.5v31.7M1643 1226.5v31.7M1646 1226.5v31.7M1705 1257.9v31.7M1565 1289.2v31.7M1627 1289.2v31.7M1652 1289.2v31.7M1701 1289.2v31.7M1715 1289.2v31.7M1521 1320.6v31.7M1559 1320.6v31.7M1591 1320.6v31.7M1608 1320.6v31.7M1645 1320.6v31.7M1529 1352v31.7M1556 1352v31.7M1611 1352v31.7M1622 1352v31.7M1627 1352v31.7M1639 1352v31.7M1654 1352v31.7M1662 1352v31.7M1707 1352v31.7M1770 1477.5v31.7M1856 1477.5v31.7M1891 1477.5v31.7M1521 1603v31.7M1522 1759.9v31.7" stroke="#b0b0ff" stroke-width="3" fill="none"/>
<path d="M1905 1069.6v31.7M1913 1069.6v31.7M1924 1069.6v31.7M1931 1069.6v31.7M1932 1069.6v31.7M1935 1069.6v31.7M1942 1069.6v31.7M1946 1069.6v31.7M1955 1069.6v31.7M1934 1101v31.7M1939 1101v31.7M1966 1101v31.7M1899 1132.4v31.7M1906 1132.4v31.7M1907 1132.4v31.7M1915 1132.4v31.7M1916 1132.4v31.7M1920 1132.4v31.7M1924 1132.4v31.7M1935 1132.4v31.7M1937 1132.4v31.7M1939 1132.4v31.7M1573 1163.7v31.7M1734 1163.7v31.7M1735 1163.7v31.7M1759 1163.7v31.7M1770 1163.7v31.7M1779 1163.7v31.7M1792 1163.7v31.7M1798 1163.7v31.7M1800 1163.7v31.7M1826 1163.7v31.7M1835 1163.7v31.7M1841 1163.7v31.7M1848 1163.7v31.7M1849 1163.7v31.7M1862 1163.7v31.7M1875 1163.7v31.7M1878 1163.7v31.7M1879 1163.7v31.7M1880 1163.7v31.7M1908 1163.7v31.7M1912 1163.7v31.7M1942 1163.7v31.7M1944 1163.7v31.7M1952 1163.7v31.7M1955 1163.7v31.7M1894 1195.1v31.7M1905 1195.1v31.7M1924 1195.1v31.7M1928 1195.1v31.7M1940 1195.1v31.7M1894 1226.5v31.7M1896 1226.5v31.7M1898 1226.5v31.7M1928 1226.5v31.7M1941 1226.5v31.7M1946 1226.5v31.7M1949 1226.5v31.7M1972 1226.5v31.7M1894 1257.9v31.7M1897 1257.9v31.7M1902 1257.9v31.7M1908 1257.9v31.7M1919 1257.9v31.7M1927 1257.9v31.7M1936 1257.9v31.7M1950 1257.9v31.7M1896 1289.2v31.7M1904 1289.2v31.7M1894 1320.6v31.7M1895 1320.6v31.7M1930 1320.6v31.7M1931 1320.6v31.7M1952 1320.6v31.7M1948 1352v31.7M1953 1352v31.7M1629 1383.4v31.7M1625 1414.7v31.7M1696 1414.7v31.7M1699 1414.7v31.7M1574 1446.1v31.7M1810 1446.1v31.7M1644 1477.5v31.7M1678 1477.5v31.7M1549 1508.9v31.7M1624 1508.9v31.7M1656 1508.9v31.7M1670 1508.9v31.7M1685 1508.9v31.7M1716 1508.9v31.7M1533 1603v31.7M1547 1603v31.7M1566 1603v31.7M1584 1603v31.7M1616 1603v31.7M1635 1603v31.7M1653 1603v31.7M1669 1603v31.7M1676 1603v31.7M1701 1603v31.7M1789 1603v31.7M1804 1603v31.7M1809 1603v31.7M1887 1603v31.7M1921 1603v31.7M1543 1634.4v31.7M1550 1634.4v31.7M1567 1634.4v31.7M1596 1634.4v31.7M1633 1634.4v31.7M1695 1634.4v31.7M1699 1634.4v31.7M1703 1634.4v31.7M1550 1665.7v31.7M1598 1665.7v31.7M1601 1665.7v31.7M1647 1665.7v31.7M1659 1665.7v31.7M1669 1665.7v31.7M1678 1665.7v31.7M1720 1665.7v31.7M1947 1665.7v31.7M1563 1697.1v31.7M1583 1697.1v31.7M1593 1697.1v31.7M1520 1728.5v31.7M1531 1728.5v31.7M1565 1728.5v31.7M1687 1728.5v31.7M1720 1728.5v31.7M1538 1759.9v31.7M1696 1759.9v31.7M1698 1759.9v31.7M1936 1759.9v31.7M1943 1759.9v31.7M1516 1822.6v31.7" stroke="#c4c4ff" stroke-width="1" fill="none"/>
<path d="M1909.5 1101v31.7M1914.5 1101v31.7M1922.5 1101v31.7M1929.5 1101v31.7M1932.5 1101v31.7M1894.5 1132.4v31.7M1908.5 1132.4v31.7M1921.5 1132.4v31.7M1929.5 1132.4v31.7M1745.5 1163.7v31.7M1776.5 1163.7v31.7M1790.5 1163.7v31.7M1807.5 1163.7v31.7M1809.5 1163.7v31.7M1821.5 1163.7v31.7M1829.5 1163.7v31.7M1843.5 1163.7v31.7M1883.5 1163.7v31.7M1885.5 1163.7v31.7M1890.5 1163.7v31.7M1920.5 1163.7v31.7M1924.5 1163.7v31.7M1934.5 1163.7v31.7M1912.5 1195.1v31.7M1935.5 1195.1v31.7M1913.5 1226.5v31.7M1899.5 1289.2v31.7M1898.5 1320.6v31.7M1903.5 1320.6v31.7M1908.5 1320.6v31.7M1911.5 1320.6v31.7M1934.5 1320.6v31.7M1936.5 1320.6v31.7M1941.5 1320.6v31.7M1570.5 1383.4v31.7M1593.5 1383.4v31.7M1721.5 1446.1v31.7M1637.5 1477.5v31.7M1654.5 1477.5v31.7M1701.5 1477.5v31.7M1713.5 1477.5v31.7M1932.5 1477.5v31.7M1558.5 1508.9v31.7M1597.5 1508.9v31.7M1664.5 1508.9v31.7M1728.5 1603v31.7M1741.5 1603v31.7M1901.5 1603v31.7M1917.5 1603v31.7M1570.5 1634.4v31.7M1621.5 1634.4v31.7M1639.5 1634.4v31.7M1650.5 1634.4v31.7M1538.5 1665.7v31.7M1541.5 1665.7v31.7M1565.5 1665.7v31.7M1571.5 1665.7v31.7M1584.5 1665.7v31.7M1590.5 1665.7v31.7M1602.5 1665.7v31.7M1663.5 1665.7v31.7M1680.5 1665.7v31.7M1564.5 1697.1v31.7M1894.5 1759.9v31.7M1583.5 1791.2v31.7M1514.5 1822.6v31.7" stroke="#c4c4ff" stroke-width="2" fill="none"/>
<path d="M1941 1101v31.7M1742 1163.7v31.7M1750 1163.7v31.7M1765 1163.7v31.7M1781 1163.7v31.7M1788 1163.7v31.7M1796 1163.7v31.7M1837 1163.7v31.7M1860 1163.7v31.7M1869 1163.7v31.7M1907 1226.5v31.7M1919 1226.5v31.7M1902 1289.2v31.7M1931 1289.2v31.7M1955 1289.2v31.7M1939 1320.6v31.7M1720 1383.4v31.7M1873 1383.4v31.7M1514 1414.7v31.7M1661 1414.7v31.7M1606 1603v31.7M1754 1603v31.7M1829 1603v31.7M1665 1634.4v31.7M1675 1634.4v31.7M1563 1665.7v31.7M1704 1728.5v31.7M1724 1759.9v31.7M1929 1759.9v31.7M1600 1822.6v31.7M1649 1822.6v31.7" stroke="#c4c4ff" stroke-width="3" fill="none"/>
<path d="M1726 1069.6v31.7M1731 1069.6v31.7M1735 1069.6v31.7M1739 1069.6v31.7M1748 1069.6v31.7M1756 1069.6v31.7M1757 1069.6v31.7M1762 1069.6v31.7M1767 1069.6v31.7M1771 1069.6v31.7M1772 1069.6v31.7M1816 1069.6v31.7M1826 1069.6v31.7M1828 1069.6v31.7M1829 1069.6v31.7M1832 1069.6v31.7M1835 1069.6v31.7M1837 1069.6v31.7M1842 1069.6v31.7M1843 1069.6v31.7M1845 1069.6v31.7M1853 1069.6v31.7M1854 1069.6v31.7M1867 1069.6v31.7M1878 1069.6v31.7M1891 1069.6v31.7M1945 1069.6v31.7M1967 1069.6v31.7M1972 1069.6v31.7M1736 1101v31.7M1737 1101v31.7M1738 1101v31.7M1754 1101v31.7M1761 1101v31.7M1765 1101v31.7M1771 1101v31.7M1783 1101v31.7M1787 1101v31.7M1788 1101v31.7M1791 1101v31.7M1796 1101v31.7M1804 1101v31.7M1807 1101v31.7M1822 1101v31.7M1823 1101v31.7M1860 1101v31.7M1861 1101v31.7M1866 1101v31.7M1951 1101v31.7M1953 1101v31.7M1956 1101v31.7M1733 1132.4v31.7M1745 1132.4v31.7M1750 1132.4v31.7M1787 1132.4v31.7M1789 1132.4v31.7M1795 1132.4v31.7M1801 1132.4v31.7M1805 1132.4v31.7M1807 1132.4v31.7M1810 1132.4v31.7M1871 1132.4v31.7M1740 1195.1v31.7M1741 1195.1v31.7M1742 1195.1v31.7M1746 1195.1v31.7M1748 1195.1v31.7M1756 1195.1v31.7M1767 1195.1v31.7M1782 1195.1v31.7M1797 1195.1v31.7M1799 1195.1v31.7M1806 1195.1v31.7M1808 1195.1v31.7M1820 1195.1v31.7M1821 1195.1v31.7M1822 1195.1v31.7M1826 1195.1v31.7M1878 1195.1v31.7M1944 1195.1v31.7M1945 1195.1v31.7M1951 1195.1v31.7M1513 1226.5v31.7M1520 1226.5v31.7M1543 1226.5v31.7M1544 1226.5v31.7M1545 1226.5v31.7M1562 1226.5v31.7M1568 1226.5v31.7M1585 1226.5v31.7M1597 1226.5v31.7M1602 1226.5v31.7M1614 1226.5v31.7M1615 1226.5v31.7M1636 1226.5v31.7M1640 1226.5v31.7M1653 1226.5v31.7M1655 1226.5v31.7M1665 1226.5v31.7M1679 1226.5v31.7M1701 1226.5v31.7M1708 1226.5v31.7M1512 1257.9v31.7M1515 1257.9v31.7M1518 1257.9v31.7M1525 1257.9v31.7M1534 1257.9v31.7M1538 1257.9v31.7M1550 1257.9v31.7M1551 1257.9v31.7M1560 1257.9v31.7M1564 1257.9v31.7M1576 1257.9v31.7M1583 1257.9v31.7M1589 1257.9v31.7M1605 1257.9v31.7M1606 1257.9v31.7M1609 1257.9v31.7M1610 1257.9v31.7M1611 1257.9v31.7M1616 1257.9v31.7M1625 1257.9v31.7M1638 1257.9v31.7M1641 1257.9v31.7M1666 1257.9v31.7M1683 1257.9v31.7M1686 1257.9v31.7M1697 1257.9v31.7M1707 1257.9v31.7M1711 1257.9v31.7M1717 1257.9v31.7M1718 1257.9v31.7M1955 1257.9v31.7M1970 1257.9v31.7M1524 1289.2v31.7M1549 1289.2v31.7M1550 1289.2v31.7M1551 1289.2v31.7M1554 1289.2v31.7M1598 1289.2v31.7M1611 1289.2v31.7M1691 1289.2v31.7M1703 1289.2v31.7M1959 1289.2v31.7M1960 1289.2v31.7M1961 1289.2v31.7M1962 1289.2v31.7M1538 1320.6v31.7M1562 1320.6v31.7M1570 1320.6v31.7M1583 1320.6v31.7M1603 1320.6v31.7M1617 1320.6v31.7M1622 1320.6v31.7M1638 1320.6v31.7M1641 1320.6v31.7M1671 1320.6v31.7M1700 1320.6v31.7M1707 1320.6v31.7M1536 1352v31.7M1559 1352v31.7M1560 1352v31.7M1571 1352v31.7M1572 1352v31.7M1574 1352v31.7M1583 1352v31.7M1586 1352v31.7M1598 1352v31.7M1602 1352v31.7M1607 1352v31.7M1615 1352v31.7M1651 1352v31.7M1660 1352v31.7M1675 1352v31.7M1694 1352v31.7M1718 1352v31.7M1904 1352v31.7M1913 1352v31.7M1917 1352v31.7M1957 1352v31.7M1958 1352v31.7M1961 1352v31.7M1972 1352v31.7M1540 1383.4v31.7M1544 1383.4v31.7M1553 1383.4v31.7M1555 1383.4v31.7M1559 1383.4v31.7M1560 1383.4v31.7M1584 1383.4v31.7M1585 1383.4v31.7M1591 1383.4v31.7M1592 1383.4v31.7M1611 1383.4v31.7M1620 1383.4v31.7M1635 1383.4v31.7M1642 1383.4v31.7M1643 1383.4v31.7M1653 1383.4v31.7M1657 1383.4v31.7M1687 1383.4v31.7M1688 1383.4v31.7M1712 1383.4v31.7M1735 1383.4v31.7M1750 1383.4v31.7M1776 1383.4v31.7M1825 1383.4v31.7M1836 1383.4v31.7M1854 1383.4v31.7M1855 1383.4v31.7M1860 1383.4v31.7M1866 1383.4v31.7M1884 1383.4v31.7M1885 1383.4v31.7M1889 1383.4v31.7M1949 1383.4v31.7M1959 1383.4v31.7M1962 1383.4v31.7M1508 1414.7v31.7M1516 1414.7v31.7M1518 1414.7v31.7M1520 1414.7v31.7M1530 1414.7v31.7M1534 1414.7v31.7M1546 1414.7v31.7M1555 1414.7v31.7M1560 1414.7v31.7M1598 1414.7v31.7M1602 1414.7v31.7M1629 1414.7v31.7M1633 1414.7v31.7M1642 1414.7v31.7M1643 1414.7v31.7M1644 1414.7v31.7M1656 1414.7v31.7M1659 1414.7v31.7M1670 1414.7v31.7M1673 1414.7v31.7M1691 1414.7v31.7M1695 1414.7v31.7M1709 1414.7v31.7M1767 1414.7v31.7M1768 1414.7v31.7M1778 1414.7v31.7M1781 1414.7v31.7M1810 1414.7v31.7M1822 1414.7v31.7M1823 1414.7v31.7M1842 1414.7v31.7M1862 1414.7v31.7M1880 1414.7v31.7M1884 1414.7v31.7M1944 1414.7v31.7M1508 1446.1v31.7M1518 1446.1v31.7M1525 1446.1v31.7M1553 1446.1v31.7M1555 1446.1v31.7M1558 1446.1v31.7M1577 1446.1v31.7M1585 1446.1v31.7M1593 1446.1v31.7M1629 1446.1v31.7M1651 1446.1v31.7M1658 1446.1v31.7M1678 1446.1v31.7M1685 1446.1v31.7M1691 1446.1v31.7M1692 1446.1v31.7M1710 1446.1v31.7M1715 1446.1v31.7M1743 1446.1v31.7M1754 1446.1v31.7M1775 1446.1v31.7M1794 1446.1v31.7M1809 1446.1v31.7M1828 1446.1v31.7M1944 1446.1v31.7M1952 1446.1v31.7M1663 1477.5v31.7M1723 1477.5v31.7M1727 1477.5v31.7M1729 1477.5v31.7M1730 1477.5v31.7M1738 1477.5v31.7M1746 1477.5v31.7M1759 1477.5v31.7M1776 1477.5v31.7M1780 1477.5v31.7M1793 1477.5v31.7M1797 1477.5v31.7M1830 1477.5v31.7M1844 1477.5v31.7M1853 1477.5v31.7M1859 1477.5v31.7M1871 1477.5v31.7M1893 1477.5v31.7M1963 1477.5v31.7M1524 1508.9v31.7M1525 1508.9v31.7M1532 1508.9v31.7M1536 1508.9v31.7M1541 1508.9v31.7M1552 1508.9v31.7M1574 1508.9v31.7M1576 1508.9v31.7M1579 1508.9v31.7M1596 1508.9v31.7M1602 1508.9v31.7M1603 1508.9v31.7M1620 1508.9v31.7M1622 1508.9v31.7M1663 1508.9v31.7M1668 1508.9v31.7M1672 1508.9v31.7M1704 1508.9v31.7M1705 1508.9v31.7M1708 1508.9v31.7M1722 1508.9v31.7M1758 1508.9v31.7M1761 1508.9v31.7M1777 1508.9v31.7M1778 1508.9v31.7M1855 1508.9v31.7M1870 1508.9v31.7M1876 1508.9v31.7M1878 1508.9v31.7M1961 1508.9v31.7M1963 1508.9v31.7M1606 1540.2v31.7M1524 1603v31.7M1541 1603v31.7M1543 1603v31.7M1546 1603v31.7M1576 1603v31.7M1581 1603v31.7M1582 1603v31.7M1609 1603v31.7M1611 1603v31.7M1613 1603v31.7M1647 1603v31.7M1662 1603v31.7M1671 1603v31.7M1675 1603v31.7M1684 1603v31.7M1692 1603v31.7M1732 1603v31.7M1763 1603v31.7M1766 1603v31.7M1778 1603v31.7M1782 1603v31.7M1787 1603v31.7M1807 1603v31.7M1834 1603v31.7M1848 1603v31.7M1856 1603v31.7M1872 1603v31.7M1876 1603v31.7M1896 1603v31.7M1923 1603v31.7M1546 1634.4v31.7M1547 1634.4v31.7M1558 1634.4v31.7M1569 1634.4v31.7M1572 1634.4v31.7M1589 1634.4v31.7M1606 1634.4v31.7M1609 1634.4v31.7M1623 1634.4v31.7M1625 1634.4v31.7M1634 1634.4v31.7M1649 1634.4v31.7M1658 1634.4v31.7M1663 1634.4v31.7M1669 1634.4v31.7M1685 1634.4v31.7M1686 1634.4v31.7M1702 1634.4v31.7M1710 1634.4v31.7M1717 1634.4v31.7M1915 1634.4v31.7M1941 1634.4v31.7M1549 1665.7v31.7M1561 1665.7v31.7M1578 1665.7v31.7M1580 1665.7v31.7M1592 1665.7v31.7M1595 1665.7v31.7M1596 1665.7v31.7M1597 1665.7v31.7M1610 1665.7v31.7M1611 1665.7v31.7M1622 1665.7v31.7M1638 1665.7v31.7M1644 1665.7v31.7M1660 1665.7v31.7M1662 1665.7v31.7M1667 1665.7v31.7M1676 1665.7v31.7M1682 1665.7v31.7M1683 1665.7v31.7M1689 1665.7v31.7M1693 1665.7v31.7M1699 1665.7v31.7M1703 1665.7v31.7M1706 1665.7v31.7M1716 1665.7v31.7M1944 1665.7v31.7M1510 1697.1v31.7M1515 1697.1v31.7M1518 1697.1v31.7M1522 1697.1v31.7M1526 1697.1v31.7M1533 1697.1v31.7M1543 1697.1v31.7M1544 1697.1v31.7M1546 1697.1v31.7M1573 1697.1v31.7M1577 1697.1v31.7M1578 1697.1v31.7M1589 1697.1v31.7M1601 1697.1v31.7M1612 1697.1v31.7M1621 1697.1v31.7M1712 1697.1v31.7M1721 1697.1v31.7M1757 1697.1v31.7M1532 1728.5v31.7M1545 1728.5v31.7M1589 1728.5v31.7M1619 1728.5v31.7M1662 1728.5v31.7M1721 1728.5v31.7M1726 1728.5v31.7M1837 1728.5v31.7M1838 1728.5v31.7M1884 1728.5v31.7M1900 1728.5v31.7M1553 1759.9v31.7M1591 1759.9v31.7M1595 1759.9v31.7M1681 1759.9v31.7M1697 1759.9v31.7M1727 1759.9v31.7M1731 1759.9v31.7M1749 1759.9v31.7M1750 1759.9v31.7M1797 1759.9v31.7M1802 1759.9v31.7M1812 1759.9v31.7M1815 1759.9v31.7M1816 1759.9v31.7M1821 1759.9v31.7M1827 1759.9v31.7M1828 1759.9v31.7M1833 1759.9v31.7M1842 1759.9v31.7M1843 1759.9v31.7M1855 1759.9v31.7M1856 1759.9v31.7M1857 1759.9v31.7M1861 1759.9v31.7M1863 1759.9v31.7M1874 1759.9v31.7M1880 1759.9v31.7M1890 1759.9v31.7M1540 1791.2v31.7M1576 1791.2v31.7M1597 1791.2v31.7M1602 1791.2v31.7M1666 1791.2v31.7M1703 1791.2v31.7M1722 1791.2v31.7M1945 1791.2v31.7M1527 1822.6v31.7M1534 1822.6v31.7M1642 1822.6v31.7M1662 1822.6v31.7M1691 1822.6v31.7M1722 1822.6v31.7M1906 1822.6v31.7M1912 1822.6v31.7M1913 1822.6v31.7M1918 1822.6v31.7M1928 1822.6v31.7M1932 1822.6v31.7M1933 1822.6v31.7M1936 1822.6v31.7M1937 1822.6v31.7M1938 1822.6v31.7M1941 1822.6v31.7M1947 1822.6v31.7M1955 1822.6v31.7" stroke="#d7d7ff" stroke-width="1" fill="none"/>
<path d="M1732.5 1069.6v31.7M1741.5 1069.6v31.7M1774.5 1069.6v31.7M1778.5 1069.6v31.7M1780.5 1069.6v31.7M1795.5 1069.6v31.7M1810.5 1069.6v31.7M1849.5 1069.6v31.7M1734.5 1101v31.7M1752.5 1101v31.7M1762.5 1101v31.7M1781.5 1101v31.7M1784.5 1101v31.7M1789.5 1101v31.7M1808.5 1101v31.7M1832.5 1101v31.7M1858.5 1101v31.7M1862.5 1101v31.7M1893.5 1101v31.7M1954.5 1101v31.7M1961.5 1101v31.7M1964.5 1101v31.7M1967.5 1101v31.7M1969.5 1101v31.7M1741.5 1132.4v31.7M1746.5 1132.4v31.7M1761.5 1132.4v31.7M1782.5 1132.4v31.7M1790.5 1132.4v31.7M1818.5 1132.4v31.7M1945.5 1132.4v31.7M1962.5 1163.7v31.7M1736.5 1195.1v31.7M1744.5 1195.1v31.7M1778.5 1195.1v31.7M1792.5 1195.1v31.7M1811.5 1195.1v31.7M1850.5 1195.1v31.7M1857.5 1195.1v31.7M1862.5 1195.1v31.7M1869.5 1195.1v31.7M1880.5 1195.1v31.7M1882.5 1195.1v31.7M1949.5 1195.1v31.7M1637.5 1226.5v31.7M1666.5 1226.5v31.7M1713.5 1226.5v31.7M1509.5 1257.9v31.7M1513.5 1257.9v31.7M1529.5 1257.9v31.7M1531.5 1257.9v31.7M1539.5 1257.9v31.7M1556.5 1257.9v31.7M1558.5 1257.9v31.7M1574.5 1257.9v31.7M1577.5 1257.9v31.7M1607.5 1257.9v31.7M1617.5 1257.9v31.7M1639.5 1257.9v31.7M1712.5 1257.9v31.7M1721.5 1257.9v31.7M1944.5 1257.9v31.7M1962.5 1257.9v31.7M1509.5 1289.2v31.7M1525.5 1289.2v31.7M1539.5 1289.2v31.7M1606.5 1289.2v31.7M1623.5 1289.2v31.7M1644.5 1289.2v31.7M1671.5 1289.2v31.7M1680.5 1289.2v31.7M1706.5 1289.2v31.7M1552.5 1320.6v31.7M1604.5 1320.6v31.7M1624.5 1320.6v31.7M1642.5 1320.6v31.7M1675.5 1320.6v31.7M1681.5 1320.6v31.7M1713.5 1320.6v31.7M1971.5 1320.6v31.7M1517.5 1352v31.7M1587.5 1352v31.7M1600.5 1352v31.7M1647.5 1352v31.7M1695.5 1352v31.7M1920.5 1352v31.7M1934.5 1352v31.7M1970.5 1352v31.7M1513.5 1383.4v31.7M1521.5 1383.4v31.7M1531.5 1383.4v31.7M1551.5 1383.4v31.7M1562.5 1383.4v31.7M1574.5 1383.4v31.7M1586.5 1383.4v31.7M1644.5 1383.4v31.7M1648.5 1383.4v31.7M1663.5 1383.4v31.7M1669.5 1383.4v31.7M1702.5 1383.4v31.7M1714.5 1383.4v31.7M1717.5 1383.4v31.7M1769.5 1383.4v31.7M1851.5 1383.4v31.7M1880.5 1383.4v31.7M1897.5 1383.4v31.7M1963.5 1383.4v31.7M1522.5 1414.7v31.7M1528.5 1414.7v31.7M1539.5 1414.7v31.7M1551.5 1414.7v31.7M1553.5 1414.7v31.7M1622.5 1414.7v31.7M1627.5 1414.7v31.7M1649.5 1414.7v31.7M1706.5 1414.7v31.7M1711.5 1414.7v31.7M1714.5 1414.7v31.7M1741.5 1414.7v31.7M1803.5 1414.7v31.7M1837.5 1414.7v31.7M1881.5 1414.7v31.7M1890.5 1414.7v31.7M1623.5 1446.1v31.7M1625.5 1446.1v31.7M1640.5 1446.1v31.7M1646.5 1446.1v31.7M1689.5 1446.1v31.7M1716.5 1446.1v31.7M1746.5 1446.1v31.7M1520.5 1477.5v31.7M1535.5 1477.5v31.7M1689.5 1477.5v31.7M1725.5 1477.5v31.7M1736.5 1477.5v31.7M1742.5 1477.5v31.7M1744.5 1477.5v31.7M1751.5 1477.5v31.7M1760.5 1477.5v31.7M1782.5 1477.5v31.7M1827.5 1477.5v31.7M1840.5 1477.5v31.7M1842.5 1477.5v31.7M1866.5 1477.5v31.7M1872.5 1477.5v31.7M1513.5 1508.9v31.7M1515.5 1508.9v31.7M1561.5 1508.9v31.7M1563.5 1508.9v31.7M1565.5 1508.9v31.7M1599.5 1508.9v31.7M1604.5 1508.9v31.7M1638.5 1508.9v31.7M1641.5 1508.9v31.7M1650.5 1508.9v31.7M1679.5 1508.9v31.7M1683.5 1508.9v31.7M1692.5 1508.9v31.7M1711.5 1508.9v31.7M1720.5 1508.9v31.7M1723.5 1508.9v31.7M1795.5 1508.9v31.7M1805.5 1508.9v31.7M1873.5 1508.9v31.7M1890.5 1508.9v31.7M1617.5 1603v31.7M1654.5 1603v31.7M1715.5 1603v31.7M1779.5 1603v31.7M1793.5 1603v31.7M1816.5 1603v31.7M1846.5 1603v31.7M1858.5 1603v31.7M1873.5 1603v31.7M1938.5 1603v31.7M1940.5 1603v31.7M1552.5 1634.4v31.7M1565.5 1634.4v31.7M1585.5 1634.4v31.7M1597.5 1634.4v31.7M1604.5 1634.4v31.7M1613.5 1634.4v31.7M1661.5 1634.4v31.7M1679.5 1634.4v31.7M1696.5 1634.4v31.7M1706.5 1634.4v31.7M1552.5 1665.7v31.7M1582.5 1665.7v31.7M1623.5 1665.7v31.7M1648.5 1665.7v31.7M1685.5 1665.7v31.7M1687.5 1665.7v31.7M1695.5 1665.7v31.7M1955.5 1665.7v31.7M1550.5 1697.1v31.7M1616.5 1697.1v31.7M1624.5 1697.1v31.7M1647.5 1697.1v31.7M1692.5 1697.1v31.7M1704.5 1697.1v31.7M1713.5 1697.1v31.7M1859.5 1697.1v31.7M1916.5 1697.1v31.7M1516.5 1728.5v31.7M1518.5 1728.5v31.7M1525.5 1728.5v31.7M1616.5 1728.5v31.7M1654.5 1728.5v31.7M1701.5 1728.5v31.7M1936.5 1728.5v31.7M1956.5 1728.5v31.7M1518.5 1759.9v31.7M1603.5 1759.9v31.7M1626.5 1759.9v31.7M1667.5 1759.9v31.7M1729.5 1759.9v31.7M1778.5 1759.9v31.7M1782.5 1759.9v31.7M1790.5 1759.9v31.7M1803.5 1759.9v31.7M1805.5 1759.9v31.7M1819.5 1759.9v31.7M1834.5 1759.9v31.7M1850.5 1759.9v31.7M1864.5 1759.9v31.7M1871.5 1759.9v31.7M1891.5 1759.9v31.7M1563.5 1791.2v31.7M1588.5 1791.2v31.7M1643.5 1791.2v31.7M1648.5 1791.2v31.7M1668.5 1791.2v31.7M1699.5 1791.2v31.7M1522.5 1822.6v31.7M1535.5 1822.6v31.7M1552.5 1822.6v31.7M1568.5 1822.6v31.7M1593.5 1822.6v31.7M1672.5 1822.6v31.7M1677.5 1822.6v31.7M1703.5 1822.6v31.7M1705.5 1822.6v31.7M1914.5 1822.6v31.7M1923.5 1822.6v31.7M1925.5 1822.6v31.7M1934.5 1822.6v31.7" stroke="#d7d7ff" stroke-width="2" fill="none"/>
<path d="M1754 1069.6v31.7M1783 1069.6v31.7M1951 1069.6v31.7M1958 1069.6v31.7M1744 1101v31.7M1846 1101v31.7M1948 1101v31.7M1752 1132.4v31.7M1968 1163.7v31.7M1671 1195.1v31.7M1750 1195.1v31.7M1839 1195.1v31.7M1842 1195.1v31.7M1961 1195.1v31.7M1660 1226.5v31.7M1720 1226.5v31.7M1970 1226.5v31.7M1527 1257.9v31.7M1542 1257.9v31.7M1603 1257.9v31.7M1627 1257.9v31.7M1652 1257.9v31.7M1659 1257.9v31.7M1669 1257.9v31.7M1674 1257.9v31.7M1681 1257.9v31.7M1694 1257.9v31.7M1947 1257.9v31.7M1569 1289.2v31.7M1578 1289.2v31.7M1631 1289.2v31.7M1639 1289.2v31.7M1648 1289.2v31.7M1665 1289.2v31.7M1668 1320.6v31.7M1960 1320.6v31.7M1969 1320.6v31.7M1542 1352v31.7M1632 1352v31.7M1645 1352v31.7M1902 1352v31.7M1937 1352v31.7M1942 1352v31.7M1518 1383.4v31.7M1557 1383.4v31.7M1567 1383.4v31.7M1618 1383.4v31.7M1700 1383.4v31.7M1754 1383.4v31.7M1801 1383.4v31.7M1842 1383.4v31.7M1532 1414.7v31.7M1569 1414.7v31.7M1573 1414.7v31.7M1637 1414.7v31.7M1654 1414.7v31.7M1693 1414.7v31.7M1701 1414.7v31.7M1751 1414.7v31.7M1957 1414.7v31.7M1567 1446.1v31.7M1595 1446.1v31.7M1598 1446.1v31.7M1649 1446.1v31.7M1661 1446.1v31.7M1712 1446.1v31.7M1727 1446.1v31.7M1954 1446.1v31.7M1684 1477.5v31.7M1720 1477.5v31.7M1766 1477.5v31.7M1832 1477.5v31.7M1846 1477.5v31.7M1882 1477.5v31.7M1522 1508.9v31.7M1534 1508.9v31.7M1698 1508.9v31.7M1888 1508.9v31.7M1739 1603v31.7M1898 1603v31.7M1539 1634.4v31.7M1563 1634.4v31.7M1594 1634.4v31.7M1671 1634.4v31.7M1712 1634.4v31.7M1930 1634.4v31.7M1555 1665.7v31.7M1568 1665.7v31.7M1635 1665.7v31.7M1652 1665.7v31.7M1674 1665.7v31.7M1710 1665.7v31.7M1520 1697.1v31.7M1535 1697.1v31.7M1540 1697.1v31.7M1567 1697.1v31.7M1608 1697.1v31.7M1637 1697.1v31.7M1543 1728.5v31.7M1660 1728.5v31.7M1670 1728.5v31.7M1560 1759.9v31.7M1757 1759.9v31.7M1767 1759.9v31.7M1810 1759.9v31.7M1845 1759.9v31.7M1848 1759.9v31.7M1882 1759.9v31.7M1950 1759.9v31.7M1953 1759.9v31.7M1551 1791.2v31.7M1560 1822.6v31.7M1633 1822.6v31.7M1652 1822.6v31.7M1656 1822.6v31.7" stroke="#d7d7ff" stroke-width="3" fill="none"/>
<path d="M1725 1069.6v31.7M1763 1069.6v31.7M1801 1069.6v31.7M1808 1069.6v31.7M1846 1069.6v31.7M1909 1069.6v31.7M1919 1069.6v31.7M1929 1069.6v31.7M1930 1069.6v31.7M1824 1101v31.7M1841 1101v31.7M1899 1101v31.7M1921 1101v31.7M1935 1101v31.7M1938 1101v31.7M1913 1132.4v31.7M1919 1132.4v31.7M1923 1132.4v31.7M1925 1132.4v31.7M1934 1132.4v31.7M1942 1132.4v31.7M1697 1163.7v31.7M1723 1163.7v31.7M1726 1163.7v31.7M1730 1163.7v31.7M1744 1163.7v31.7M1753 1163.7v31.7M1774 1163.7v31.7M1778 1163.7v31.7M1806 1163.7v31.7M1831 1163.7v31.7M1863 1163.7v31.7M1871 1163.7v31.7M1882 1163.7v31.7M1887 1163.7v31.7M1888 1163.7v31.7M1892 1163.7v31.7M1894 1163.7v31.7M1898 1163.7v31.7M1902 1163.7v31.7M1909 1163.7v31.7M1915 1163.7v31.7M1928 1163.7v31.7M1527 1195.1v31.7M1579 1195.1v31.7M1757 1195.1v31.7M1765 1195.1v31.7M1775 1195.1v31.7M1800 1195.1v31.7M1810 1195.1v31.7M1867 1195.1v31.7M1903 1195.1v31.7M1922 1195.1v31.7M1923 1195.1v31.7M1957 1195.1v31.7M1969 1195.1v31.7M1972 1195.1v31.7M1511 1226.5v31.7M1521 1226.5v31.7M1685 1226.5v31.7M1694 1226.5v31.7M1698 1226.5v31.7M1716 1226.5v31.7M1895 1226.5v31.7M1900 1226.5v31.7M1915 1226.5v31.7M1921 1226.5v31.7M1942 1226.5v31.7M1954 1226.5v31.7M1955 1226.5v31.7M1535 1257.9v31.7M1549 1257.9v31.7M1579 1257.9v31.7M1586 1257.9v31.7M1595 1257.9v31.7M1596 1257.9v31.7M1643 1257.9v31.7M1654 1257.9v31.7M1677 1257.9v31.7M1821 1257.9v31.7M1904 1257.9v31.7M1906 1257.9v31.7M1907 1257.9v31.7M1911 1257.9v31.7M1933 1257.9v31.7M1940 1257.9v31.7M1590 1289.2v31.7M1594 1289.2v31.7M1622 1289.2v31.7M1654 1289.2v31.7M1661 1289.2v31.7M1705 1289.2v31.7M1722 1289.2v31.7M1916 1289.2v31.7M1933 1289.2v31.7M1936 1289.2v31.7M1938 1289.2v31.7M1939 1289.2v31.7M1943 1289.2v31.7M1946 1289.2v31.7M1952 1289.2v31.7M1953 1289.2v31.7M1508 1320.6v31.7M1512 1320.6v31.7M1539 1320.6v31.7M1551 1320.6v31.7M1564 1320.6v31.7M1632 1320.6v31.7M1684 1320.6v31.7M1689 1320.6v31.7M1928 1320.6v31.7M1945 1320.6v31.7M1948 1320.6v31.7M1532 1352v31.7M1575 1352v31.7M1582 1352v31.7M1584 1352v31.7M1585 1352v31.7M1594 1352v31.7M1609 1352v31.7M1613 1352v31.7M1688 1352v31.7M1702 1352v31.7M1717 1352v31.7M1900 1352v31.7M1907 1352v31.7M1910 1352v31.7M1912 1352v31.7M1924 1352v31.7M1928 1352v31.7M1944 1352v31.7M1952 1352v31.7M1513 1477.5v31.7M1516 1477.5v31.7M1519 1477.5v31.7M1528 1477.5v31.7M1559 1477.5v31.7M1590 1477.5v31.7M1598 1477.5v31.7M1599 1477.5v31.7M1602 1477.5v31.7M1645 1477.5v31.7M1652 1477.5v31.7M1657 1477.5v31.7M1700 1477.5v31.7M1728 1477.5v31.7M1740 1477.5v31.7M1773 1477.5v31.7M1815 1477.5v31.7M1816 1477.5v31.7M1820 1477.5v31.7M1839 1477.5v31.7M1862 1477.5v31.7M1895 1540.2v31.7M1925 1540.2v31.7M1942 1540.2v31.7M1509 1571.6v31.7M1523 1571.6v31.7M1524 1571.6v31.7M1530 1571.6v31.7M1542 1571.6v31.7M1546 1571.6v31.7M1549 1571.6v31.7M1551 1571.6v31.7M1554 1571.6v31.7M1561 1571.6v31.7M1562 1571.6v31.7M1565 1571.6v31.7M1569 1571.6v31.7M1576 1571.6v31.7M1583 1571.6v31.7M1588 1571.6v31.7M1591 1571.6v31.7M1598 1571.6v31.7M1611 1571.6v31.7M1612 1571.6v31.7M1614 1571.6v31.7M1620 1571.6v31.7M1623 1571.6v31.7M1625 1571.6v31.7M1631 1571.6v31.7M1634 1571.6v31.7M1640 1571.6v31.7M1659 1571.6v31.7M1666 1571.6v31.7M1667 1571.6v31.7M1683 1571.6v31.7M1688 1571.6v31.7M1691 1571.6v31.7M1697 1571.6v31.7M1698 1571.6v31.7M1703 1571.6v31.7M1708 1571.6v31.7M1709 1571.6v31.7M1711 1571.6v31.7M1715 1571.6v31.7M1716 1571.6v31.7M1719 1571.6v31.7M1720 1571.6v31.7M1907 1571.6v31.7M1943 1571.6v31.7M1896 1634.4v31.7M1906 1634.4v31.7M1911 1634.4v31.7M1914 1634.4v31.7M1928 1634.4v31.7M1894 1665.7v31.7M1902 1665.7v31.7M1927 1665.7v31.7M1933 1665.7v31.7M1934 1665.7v31.7M1528 1759.9v31.7M1532 1759.9v31.7M1544 1759.9v31.7M1583 1759.9v31.7M1632 1759.9v31.7M1639 1759.9v31.7M1643 1759.9v31.7M1645 1759.9v31.7M1699 1759.9v31.7M1781 1759.9v31.7M1896 1759.9v31.7M1900 1759.9v31.7M1907 1759.9v31.7M1917 1759.9v31.7M1935 1759.9v31.7M1937 1759.9v31.7M1938 1759.9v31.7M1730 1791.2v31.7M1745 1791.2v31.7M1773 1791.2v31.7M1775 1791.2v31.7M1777 1791.2v31.7M1782 1791.2v31.7M1801 1791.2v31.7M1802 1791.2v31.7M1825 1791.2v31.7M1831 1791.2v31.7M1843 1791.2v31.7M1854 1791.2v31.7M1856 1791.2v31.7M1860 1791.2v31.7M1869 1791.2v31.7M1883 1791.2v31.7M1891 1791.2v31.7M1725 1822.6v31.7M1749 1822.6v31.7M1757 1822.6v31.7M1762 1822.6v31.7M1780 1822.6v31.7M1807 1822.6v31.7M1814 1822.6v31.7M1827 1822.6v31.7M1836 1822.6v31.7M1837 1822.6v31.7M1847 1822.6v31.7M1868 1822.6v31.7M1875 1822.6v31.7M1880 1822.6v31.7M1886 1822.6v31.7" stroke="#ebebff" stroke-width="1" fill="none"/>
<path d="M1823.5 1069.6v31.7M1857.5 1069.6v31.7M1895.5 1069.6v31.7M1936.5 1069.6v31.7M1741.5 1101v31.7M1769.5 1101v31.7M1830.5 1101v31.7M1848.5 1101v31.7M1815.5 1132.4v31.7M1940.5 1132.4v31.7M1943.5 1132.4v31.7M1728.5 1163.7v31.7M1747.5 1163.7v31.7M1804.5 1163.7v31.7M1845.5 1163.7v31.7M1872.5 1163.7v31.7M1906.5 1163.7v31.7M1916.5 1163.7v31.7M1950.5 1163.7v31.7M1956.5 1163.7v31.7M1960.5 1163.7v31.7M1656.5 1195.1v31.7M1876.5 1195.1v31.7M1937.5 1195.1v31.7M1941.5 1195.1v31.7M1958.5 1195.1v31.7M1531.5 1226.5v31.7M1549.5 1226.5v31.7M1591.5 1226.5v31.7M1926.5 1226.5v31.7M1936.5 1226.5v31.7M1939.5 1226.5v31.7M1947.5 1226.5v31.7M1952.5 1226.5v31.7M1562.5 1257.9v31.7M1597.5 1257.9v31.7M1664.5 1257.9v31.7M1701.5 1257.9v31.7M1912.5 1257.9v31.7M1537.5 1289.2v31.7M1620.5 1289.2v31.7M1720.5 1289.2v31.7M1934.5 1289.2v31.7M1944.5 1289.2v31.7M1950.5 1289.2v31.7M1509.5 1320.6v31.7M1518.5 1320.6v31.7M1698.5 1320.6v31.7M1926.5 1320.6v31.7M1955.5 1320.6v31.7M1629.5 1352v31.7M1715.5 1352v31.7M1918.5 1352v31.7M1949.5 1352v31.7M1955.5 1352v31.7M1510.5 1477.5v31.7M1550.5 1477.5v31.7M1583.5 1477.5v31.7M1603.5 1477.5v31.7M1708.5 1477.5v31.7M1774.5 1477.5v31.7M1784.5 1477.5v31.7M1874.5 1477.5v31.7M1896.5 1477.5v31.7M1961.5 1477.5v31.7M1906.5 1540.2v31.7M1943.5 1540.2v31.7M1513.5 1571.6v31.7M1525.5 1571.6v31.7M1552.5 1571.6v31.7M1558.5 1571.6v31.7M1626.5 1571.6v31.7M1629.5 1571.6v31.7M1647.5 1571.6v31.7M1685.5 1571.6v31.7M1695.5 1571.6v31.7M1699.5 1571.6v31.7M1701.5 1571.6v31.7M1713.5 1571.6v31.7M1722.5 1571.6v31.7M1905.5 1571.6v31.7M1967.5 1603v31.7M1900.5 1634.4v31.7M1921.5 1634.4v31.7M1903.5 1665.7v31.7M1913.5 1665.7v31.7M1928.5 1665.7v31.7M1930.5 1665.7v31.7M1950.5 1665.7v31.7M1637.5 1759.9v31.7M1719.5 1759.9v31.7M1742.5 1759.9v31.7M1831.5 1759.9v31.7M1866.5 1759.9v31.7M1909.5 1759.9v31.7M1918.5 1759.9v31.7M1728.5 1791.2v31.7M1731.5 1791.2v31.7M1760.5 1791.2v31.7M1771.5 1791.2v31.7M1783.5 1791.2v31.7M1821.5 1791.2v31.7M1823.5 1791.2v31.7M1836.5 1791.2v31.7M1846.5 1791.2v31.7M1727.5 1822.6v31.7M1739.5 1822.6v31.7M1764.5 1822.6v31.7M1782.5 1822.6v31.7M1799.5 1822.6v31.7M1848.5 1822.6v31.7M1859.5 1822.6v31.7M1888.5 1822.6v31.7" stroke="#ebebff" stroke-width="2" fill="none"/>
<path d="M1926 1069.6v31.7M1820 1101v31.7M1912 1101v31.7M1737 1163.7v31.7M1813 1163.7v31.7M1824 1163.7v31.7M1548 1195.1v31.7M1885 1195.1v31.7M1916 1195.1v31.7M1926 1195.1v31.7M1580 1226.5v31.7M1944 1226.5v31.7M1957 1226.5v31.7M1656 1257.9v31.7M1900 1257.9v31.7M1925 1257.9v31.7M1566 1320.6v31.7M1509 1352v31.7M1545 1352v31.7M1698 1352v31.7M1946 1352v31.7M1804 1477.5v31.7M1835 1477.5v31.7M1918 1540.2v31.7M1540 1571.6v31.7M1574 1571.6v31.7M1636 1571.6v31.7M1693 1571.6v31.7M1800 1759.9v31.7M1940 1759.9v31.7M1743 1791.2v31.7M1827 1791.2v31.7M1873 1791.2v31.7M1753 1822.6v31.7M1832 1822.6v31.7" stroke="#ebebff" stroke-width="3" fill="none"/>
<path d="M1697 1069.6v31.7M1922 1069.6v31.7M1954 1069.6v31.7M1963 1069.6v31.7M1964 1069.6v31.7M1816 1101v31.7M1907 1101v31.7M1959 1101v31.7M1971 1101v31.7M1972 1101v31.7M1686 1132.4v31.7M1926 1132.4v31.7M1953 1132.4v31.7M1954 1132.4v31.7M1958 1132.4v31.7M1962 1132.4v31.7M1965 1132.4v31.7M1971 1132.4v31.7M1694 1163.7v31.7M1551 1195.1v31.7M1624 1195.1v31.7M1649 1195.1v31.7M1667 1195.1v31.7M1673 1195.1v31.7M1700 1195.1v31.7M1898 1195.1v31.7M1904 1195.1v31.7M1920 1195.1v31.7M1952 1195.1v31.7M1956 1195.1v31.7M1616 1226.5v31.7M1897 1226.5v31.7M1613 1257.9v31.7M1764 1257.9v31.7M1903 1257.9v31.7M1934 1257.9v31.7M1935 1257.9v31.7M1959 1257.9v31.7M1543 1289.2v31.7M1633 1289.2v31.7M1699 1289.2v31.7M1947 1289.2v31.7M1949 1289.2v31.7M1957 1289.2v31.7M1563 1320.6v31.7M1618 1320.6v31.7M1658 1320.6v31.7M1688 1320.6v31.7M1785 1320.6v31.7M1913 1320.6v31.7M1921 1320.6v31.7M1967 1320.6v31.7M1511 1352v31.7M1608 1352v31.7M1625 1352v31.7M1700 1352v31.7M1709 1352v31.7M1925 1352v31.7M1508 1383.4v31.7M1512 1383.4v31.7M1554 1383.4v31.7M1561 1383.4v31.7M1569 1383.4v31.7M1595 1383.4v31.7M1610 1383.4v31.7M1615 1383.4v31.7M1623 1383.4v31.7M1630 1383.4v31.7M1658 1383.4v31.7M1660 1383.4v31.7M1661 1383.4v31.7M1691 1383.4v31.7M1697 1383.4v31.7M1711 1383.4v31.7M1756 1383.4v31.7M1757 1383.4v31.7M1785 1383.4v31.7M1791 1383.4v31.7M1792 1383.4v31.7M1799 1383.4v31.7M1808 1383.4v31.7M1811 1383.4v31.7M1824 1383.4v31.7M1838 1383.4v31.7M1850 1383.4v31.7M1875 1383.4v31.7M1883 1383.4v31.7M1888 1383.4v31.7M1947 1383.4v31.7M1948 1383.4v31.7M1952 1383.4v31.7M1960 1383.4v31.7M1965 1383.4v31.7M1968 1383.4v31.7M1969 1383.4v31.7M1527 1414.7v31.7M1545 1414.7v31.7M1564 1414.7v31.7M1603 1414.7v31.7M1626 1414.7v31.7M1657 1414.7v31.7M1658 1414.7v31.7M1672 1414.7v31.7M1718 1414.7v31.7M1739 1414.7v31.7M1749 1414.7v31.7M1759 1414.7v31.7M1763 1414.7v31.7M1764 1414.7v31.7M1789 1414.7v31.7M1792 1414.7v31.7M1805 1414.7v31.7M1824 1414.7v31.7M1847 1414.7v31.7M1860 1414.7v31.7M1861 1414.7v31.7M1869 1414.7v31.7M1951 1414.7v31.7M1964 1414.7v31.7M1544 1446.1v31.7M1569 1446.1v31.7M1603 1446.1v31.7M1663 1446.1v31.7M1664 1446.1v31.7M1683 1446.1v31.7M1706 1446.1v31.7M1740 1446.1v31.7M1752 1446.1v31.7M1753 1446.1v31.7M1772 1446.1v31.7M1784 1446.1v31.7M1785 1446.1v31.7M1797 1446.1v31.7M1802 1446.1v31.7M1803 1446.1v31.7M1808 1446.1v31.7M1816 1446.1v31.7M1834 1446.1v31.7M1841 1446.1v31.7M1842 1446.1v31.7M1843 1446.1v31.7M1850 1446.1v31.7M1879 1446.1v31.7M1887 1446.1v31.7M1913 1446.1v31.7M1945 1446.1v31.7M1956 1446.1v31.7M1967 1446.1v31.7M1508 1477.5v31.7M1549 1477.5v31.7M1560 1477.5v31.7M1576 1477.5v31.7M1643 1477.5v31.7M1674 1477.5v31.7M1715 1477.5v31.7M1717 1477.5v31.7M1722 1477.5v31.7M1918 1477.5v31.7M1951 1477.5v31.7M1953 1477.5v31.7M1517 1508.9v31.7M1531 1508.9v31.7M1538 1508.9v31.7M1543 1508.9v31.7M1553 1508.9v31.7M1554 1508.9v31.7M1555 1508.9v31.7M1570 1508.9v31.7M1595 1508.9v31.7M1644 1508.9v31.7M1647 1508.9v31.7M1662 1508.9v31.7M1694 1508.9v31.7M1702 1508.9v31.7M1703 1508.9v31.7M1706 1508.9v31.7M1735 1508.9v31.7M1772 1508.9v31.7M1789 1508.9v31.7M1797 1508.9v31.7M1815 1508.9v31.7M1828 1508.9v31.7M1836 1508.9v31.7M1844 1508.9v31.7M1847 1508.9v31.7M1854 1508.9v31.7M1871 1508.9v31.7M1877 1508.9v31.7M1884 1508.9v31.7M1885 1508.9v31.7M1946 1508.9v31.7M1947 1508.9v31.7M1972 1508.9v31.7M1508 1540.2v31.7M1511 1540.2v31.7M1527 1540.2v31.7M1529 1540.2v31.7M1540 1540.2v31.7M1541 1540.2v31.7M1551 1540.2v31.7M1566 1540.2v31.7M1567 1540.2v31.7M1580 1540.2v31.7M1583 1540.2v31.7M1601 1540.2v31.7M1605 1540.2v31.7M1613 1540.2v31.7M1621 1540.2v31.7M1622 1540.2v31.7M1623 1540.2v31.7M1624 1540.2v31.7M1628 1540.2v31.7M1629 1540.2v31.7M1630 1540.2v31.7M1643 1540.2v31.7M1645 1540.2v31.7M1647 1540.2v31.7M1652 1540.2v31.7M1653 1540.2v31.7M1661 1540.2v31.7M1666 1540.2v31.7M1667 1540.2v31.7M1670 1540.2v31.7M1695 1540.2v31.7M1698 1540.2v31.7M1699 1540.2v31.7M1701 1540.2v31.7M1706 1540.2v31.7M1720 1540.2v31.7M1961 1540.2v31.7M1957 1571.6v31.7M1960 1571.6v31.7M1962 1571.6v31.7M1963 1571.6v31.7M1523 1603v31.7M1534 1603v31.7M1559 1603v31.7M1560 1603v31.7M1583 1603v31.7M1597 1603v31.7M1646 1603v31.7M1689 1603v31.7M1690 1603v31.7M1693 1603v31.7M1706 1603v31.7M1725 1603v31.7M1750 1603v31.7M1774 1603v31.7M1775 1603v31.7M1783 1603v31.7M1801 1603v31.7M1808 1603v31.7M1823 1603v31.7M1851 1603v31.7M1852 1603v31.7M1862 1603v31.7M1900 1603v31.7M1905 1603v31.7M1912 1603v31.7M1913 1603v31.7M1914 1603v31.7M1557 1634.4v31.7M1561 1634.4v31.7M1582 1634.4v31.7M1607 1634.4v31.7M1635 1634.4v31.7M1652 1634.4v31.7M1660 1634.4v31.7M1673 1634.4v31.7M1700 1634.4v31.7M1720 1634.4v31.7M1948 1634.4v31.7M1960 1634.4v31.7M1963 1634.4v31.7M1545 1665.7v31.7M1560 1665.7v31.7M1570 1665.7v31.7M1628 1665.7v31.7M1633 1665.7v31.7M1691 1665.7v31.7M1692 1665.7v31.7M1700 1665.7v31.7M1707 1665.7v31.7M1719 1665.7v31.7M1957 1665.7v31.7M1958 1665.7v31.7M1965 1665.7v31.7M1511 1697.1v31.7M1531 1697.1v31.7M1562 1697.1v31.7M1569 1697.1v31.7M1570 1697.1v31.7M1582 1697.1v31.7M1592 1697.1v31.7M1611 1697.1v31.7M1618 1697.1v31.7M1626 1697.1v31.7M1641 1697.1v31.7M1653 1697.1v31.7M1673 1697.1v31.7M1682 1697.1v31.7M1715 1697.1v31.7M1720 1697.1v31.7M1724 1697.1v31.7M1725 1697.1v31.7M1735 1697.1v31.7M1746 1697.1v31.7M1748 1697.1v31.7M1749 1697.1v31.7M1750 1697.1v31.7M1753 1697.1v31.7M1754 1697.1v31.7M1756 1697.1v31.7M1758 1697.1v31.7M1759 1697.1v31.7M1761 1697.1v31.7M1762 1697.1v31.7M1766 1697.1v31.7M1773 1697.1v31.7M1785 1697.1v31.7M1792 1697.1v31.7M1796 1697.1v31.7M1818 1697.1v31.7M1824 1697.1v31.7M1848 1697.1v31.7M1853 1697.1v31.7M1855 1697.1v31.7M1864 1697.1v31.7M1865 1697.1v31.7M1869 1697.1v31.7M1873 1697.1v31.7M1879 1697.1v31.7M1881 1697.1v31.7M1882 1697.1v31.7M1892 1697.1v31.7M1900 1697.1v31.7M1903 1697.1v31.7M1904 1697.1v31.7M1928 1697.1v31.7M1937 1697.1v31.7M1508 1728.5v31.7M1513 1728.5v31.7M1540 1728.5v31.7M1546 1728.5v31.7M1550 1728.5v31.7M1557 1728.5v31.7M1564 1728.5v31.7M1574 1728.5v31.7M1587 1728.5v31.7M1590 1728.5v31.7M1591 1728.5v31.7M1595 1728.5v31.7M1608 1728.5v31.7M1614 1728.5v31.7M1615 1728.5v31.7M1624 1728.5v31.7M1626 1728.5v31.7M1648 1728.5v31.7M1666 1728.5v31.7M1676 1728.5v31.7M1692 1728.5v31.7M1713 1728.5v31.7M1727 1728.5v31.7M1734 1728.5v31.7M1739 1728.5v31.7M1748 1728.5v31.7M1753 1728.5v31.7M1757 1728.5v31.7M1761 1728.5v31.7M1763 1728.5v31.7M1764 1728.5v31.7M1805 1728.5v31.7M1809 1728.5v31.7M1827 1728.5v31.7M1831 1728.5v31.7M1832 1728.5v31.7M1836 1728.5v31.7M1842 1728.5v31.7M1843 1728.5v31.7M1844 1728.5v31.7M1850 1728.5v31.7M1853 1728.5v31.7M1854 1728.5v31.7M1862 1728.5v31.7M1868 1728.5v31.7M1872 1728.5v31.7M1878 1728.5v31.7M1882 1728.5v31.7M1883 1728.5v31.7M1886 1728.5v31.7M1887 1728.5v31.7M1893 1728.5v31.7M1895 1728.5v31.7M1896 1728.5v31.7M1910 1728.5v31.7M1916 1728.5v31.7M1917 1728.5v31.7M1923 1728.5v31.7M1928 1728.5v31.7M1929 1728.5v31.7M1938 1728.5v31.7M1955 1728.5v31.7M1566 1759.9v31.7M1677 1759.9v31.7M1508 1791.2v31.7M1512 1791.2v31.7M1532 1791.2v31.7M1586 1791.2v31.7M1590 1791.2v31.7M1605 1791.2v31.7M1623 1791.2v31.7M1624 1791.2v31.7M1641 1791.2v31.7M1647 1791.2v31.7M1652 1791.2v31.7M1655 1791.2v31.7M1663 1791.2v31.7M1670 1791.2v31.7M1674 1791.2v31.7M1681 1791.2v31.7M1897 1791.2v31.7M1898 1791.2v31.7M1899 1791.2v31.7M1909 1791.2v31.7M1913 1791.2v31.7M1929 1791.2v31.7M1933 1791.2v31.7M1934 1791.2v31.7M1935 1791.2v31.7M1951 1791.2v31.7M1956 1791.2v31.7M1556 1822.6v31.7M1592 1822.6v31.7M1597 1822.6v31.7M1598 1822.6v31.7M1602 1822.6v31.7M1605 1822.6v31.7M1635 1822.6v31.7M1643 1822.6v31.7M1644 1822.6v31.7M1681 1822.6v31.7M1682 1822.6v31.7M1690 1822.6v31.7M1692 1822.6v31.7M1709 1822.6v31.7" stroke="#ffffff" stroke-width="1" fill="none"/>
<path d="M1916.5 1069.6v31.7M1968.5 1069.6v31.7M1900.5 1101v31.7M1902.5 1101v31.7M1947.5 1132.4v31.7M1963.5 1132.4v31.7M1969.5 1132.4v31.7M1663.5 1163.7v31.7M1700.5 1163.7v31.7M1577.5 1195.1v31.7M1901.5 1195.1v31.7M1909.5 1195.1v31.7M1922.5 1226.5v31.7M1924.5 1226.5v31.7M1950.5 1226.5v31.7M1965.5 1257.9v31.7M1967.5 1257.9v31.7M1555.5 1289.2v31.7M1656.5 1289.2v31.7M1970.5 1289.2v31.7M1523.5 1320.6v31.7M1721.5 1320.6v31.7M1932.5 1320.6v31.7M1949.5 1320.6v31.7M1957.5 1320.6v31.7M1965.5 1320.6v31.7M1542.5 1383.4v31.7M1564.5 1383.4v31.7M1581.5 1383.4v31.7M1651.5 1383.4v31.7M1671.5 1383.4v31.7M1704.5 1383.4v31.7M1709.5 1383.4v31.7M1725.5 1383.4v31.7M1731.5 1383.4v31.7M1745.5 1383.4v31.7M1747.5 1383.4v31.7M1771.5 1383.4v31.7M1809.5 1383.4v31.7M1826.5 1383.4v31.7M1839.5 1383.4v31.7M1846.5 1383.4v31.7M1945.5 1383.4v31.7M1525.5 1414.7v31.7M1566.5 1414.7v31.7M1591.5 1414.7v31.7M1634.5 1414.7v31.7M1640.5 1414.7v31.7M1683.5 1414.7v31.7M1733.5 1414.7v31.7M1757.5 1414.7v31.7M1798.5 1414.7v31.7M1808.5 1414.7v31.7M1811.5 1414.7v31.7M1825.5 1414.7v31.7M1827.5 1414.7v31.7M1962.5 1414.7v31.7M1556.5 1446.1v31.7M1570.5 1446.1v31.7M1575.5 1446.1v31.7M1604.5 1446.1v31.7M1630.5 1446.1v31.7M1644.5 1446.1v31.7M1652.5 1446.1v31.7M1654.5 1446.1v31.7M1681.5 1446.1v31.7M1733.5 1446.1v31.7M1735.5 1446.1v31.7M1741.5 1446.1v31.7M1748.5 1446.1v31.7M1760.5 1446.1v31.7M1764.5 1446.1v31.7M1780.5 1446.1v31.7M1811.5 1446.1v31.7M1825.5 1446.1v31.7M1855.5 1446.1v31.7M1857.5 1446.1v31.7M1865.5 1446.1v31.7M1880.5 1446.1v31.7M1959.5 1446.1v31.7M1514.5 1477.5v31.7M1533.5 1477.5v31.7M1594.5 1477.5v31.7M1596.5 1477.5v31.7M1608.5 1477.5v31.7M1618.5 1477.5v31.7M1640.5 1477.5v31.7M1665.5 1477.5v31.7M1926.5 1477.5v31.7M1949.5 1477.5v31.7M1508.5 1508.9v31.7M1556.5 1508.9v31.7M1583.5 1508.9v31.7M1645.5 1508.9v31.7M1652.5 1508.9v31.7M1695.5 1508.9v31.7M1728.5 1508.9v31.7M1737.5 1508.9v31.7M1747.5 1508.9v31.7M1756.5 1508.9v31.7M1763.5 1508.9v31.7M1773.5 1508.9v31.7M1793.5 1508.9v31.7M1826.5 1508.9v31.7M1833.5 1508.9v31.7M1837.5 1508.9v31.7M1953.5 1508.9v31.7M1964.5 1508.9v31.7M1518.5 1540.2v31.7M1531.5 1540.2v31.7M1533.5 1540.2v31.7M1552.5 1540.2v31.7M1554.5 1540.2v31.7M1591.5 1540.2v31.7M1639.5 1540.2v31.7M1654.5 1540.2v31.7M1673.5 1540.2v31.7M1680.5 1540.2v31.7M1682.5 1540.2v31.7M1685.5 1540.2v31.7M1696.5 1540.2v31.7M1702.5 1540.2v31.7M1721.5 1540.2v31.7M1958.5 1540.2v31.7M1966.5 1571.6v31.7M1598.5 1603v31.7M1622.5 1603v31.7M1656.5 1603v31.7M1710.5 1603v31.7M1719.5 1603v31.7M1733.5 1603v31.7M1736.5 1603v31.7M1751.5 1603v31.7M1764.5 1603v31.7M1799.5 1603v31.7M1802.5 1603v31.7M1805.5 1603v31.7M1810.5 1603v31.7M1821.5 1603v31.7M1865.5 1603v31.7M1882.5 1603v31.7M1559.5 1634.4v31.7M1574.5 1634.4v31.7M1576.5 1634.4v31.7M1631.5 1634.4v31.7M1644.5 1634.4v31.7M1967.5 1634.4v31.7M1593.5 1665.7v31.7M1615.5 1665.7v31.7M1629.5 1665.7v31.7M1631.5 1665.7v31.7M1642.5 1665.7v31.7M1697.5 1665.7v31.7M1701.5 1665.7v31.7M1722.5 1665.7v31.7M1959.5 1665.7v31.7M1966.5 1665.7v31.7M1513.5 1697.1v31.7M1619.5 1697.1v31.7M1639.5 1697.1v31.7M1671.5 1697.1v31.7M1685.5 1697.1v31.7M1728.5 1697.1v31.7M1730.5 1697.1v31.7M1768.5 1697.1v31.7M1803.5 1697.1v31.7M1874.5 1697.1v31.7M1883.5 1697.1v31.7M1895.5 1697.1v31.7M1908.5 1697.1v31.7M1910.5 1697.1v31.7M1919.5 1697.1v31.7M1938.5 1697.1v31.7M1947.5 1697.1v31.7M1536.5 1728.5v31.7M1547.5 1728.5v31.7M1552.5 1728.5v31.7M1609.5 1728.5v31.7M1677.5 1728.5v31.7M1693.5 1728.5v31.7M1718.5 1728.5v31.7M1735.5 1728.5v31.7M1755.5 1728.5v31.7M1778.5 1728.5v31.7M1817.5 1728.5v31.7M1819.5 1728.5v31.7M1823.5 1728.5v31.7M1848.5 1728.5v31.7M1851.5 1728.5v31.7M1866.5 1728.5v31.7M1891.5 1728.5v31.7M1945.5 1728.5v31.7M1589.5 1759.9v31.7M1674.5 1759.9v31.7M1965.5 1759.9v31.7M1546.5 1791.2v31.7M1561.5 1791.2v31.7M1569.5 1791.2v31.7M1600.5 1791.2v31.7M1628.5 1791.2v31.7M1639.5 1791.2v31.7M1653.5 1791.2v31.7M1657.5 1791.2v31.7M1675.5 1791.2v31.7M1710.5 1791.2v31.7M1894.5 1791.2v31.7M1907.5 1791.2v31.7M1911.5 1791.2v31.7M1921.5 1791.2v31.7M1936.5 1791.2v31.7M1942.5 1791.2v31.7M1575.5 1822.6v31.7M1577.5 1822.6v31.7M1588.5 1822.6v31.7M1613.5 1822.6v31.7M1621.5 1822.6v31.7M1639.5 1822.6v31.7M1670.5 1822.6v31.7" stroke="#ffffff" stroke-width="2" fill="none"/>
<path d="M1551 1069.6v31.7M1616 1069.6v31.7M1961 1069.6v31.7M1535 1132.4v31.7M1911 1132.4v31.7M1956 1132.4v31.7M1542 1163.7v31.7M1932 1163.7v31.7M1712 1195.1v31.7M1962 1226.5v31.7M1514 1320.6v31.7M1830 1320.6v31.7M1510 1383.4v31.7M1524 1383.4v31.7M1527 1383.4v31.7M1546 1383.4v31.7M1577 1383.4v31.7M1605 1383.4v31.7M1640 1383.4v31.7M1728 1383.4v31.7M1743 1383.4v31.7M1813 1383.4v31.7M1818 1383.4v31.7M1511 1414.7v31.7M1582 1414.7v31.7M1612 1414.7v31.7M1687 1414.7v31.7M1726 1414.7v31.7M1796 1414.7v31.7M1817 1414.7v31.7M1831 1414.7v31.7M1856 1414.7v31.7M1864 1414.7v31.7M1887 1414.7v31.7M1893 1414.7v31.7M1934 1414.7v31.7M1694 1446.1v31.7M1724 1446.1v31.7M1805 1446.1v31.7M1819 1446.1v31.7M1860 1446.1v31.7M1566 1477.5v31.7M1704 1477.5v31.7M1711 1477.5v31.7M1817 1508.9v31.7M1840 1508.9v31.7M1852 1508.9v31.7M1951 1508.9v31.7M1969 1508.9v31.7M1515 1540.2v31.7M1563 1540.2v31.7M1574 1540.2v31.7M1589 1540.2v31.7M1594 1540.2v31.7M1608 1540.2v31.7M1615 1540.2v31.7M1658 1540.2v31.7M1677 1540.2v31.7M1709 1540.2v31.7M1716 1540.2v31.7M1963 1540.2v31.7M1785 1603v31.7M1910 1603v31.7M1931 1603v31.7M1654 1634.4v31.7M1574 1665.7v31.7M1608 1665.7v31.7M1620 1665.7v31.7M1640 1665.7v31.7M1713 1665.7v31.7M1971 1665.7v31.7M1587 1697.1v31.7M1643 1697.1v31.7M1701 1697.1v31.7M1707 1697.1v31.7M1740 1697.1v31.7M1775 1697.1v31.7M1778 1697.1v31.7M1816 1697.1v31.7M1831 1697.1v31.7M1867 1697.1v31.7M1886 1697.1v31.7M1898 1697.1v31.7M1923 1697.1v31.7M1569 1728.5v31.7M1583 1728.5v31.7M1593 1728.5v31.7M1606 1728.5v31.7M1637 1728.5v31.7M1650 1728.5v31.7M1674 1728.5v31.7M1772 1728.5v31.7M1776 1728.5v31.7M1796 1728.5v31.7M1813 1728.5v31.7M1864 1728.5v31.7M1870 1728.5v31.7M1876 1728.5v31.7M1880 1728.5v31.7M1902 1728.5v31.7M1905 1728.5v31.7M1908 1728.5v31.7M1926 1728.5v31.7M1931 1728.5v31.7M1943 1728.5v31.7M1620 1759.9v31.7M1518 1791.2v31.7M1521 1791.2v31.7M1542 1791.2v31.7M1566 1791.2v31.7M1626 1791.2v31.7M1697 1791.2v31.7M1904 1791.2v31.7M1931 1791.2v31.7M1953 1791.2v31.7M1540 1822.6v31.7M1629 1822.6v31.7M1701 1822.6v31.7" stroke="#ffffff" stroke-width="3" fill="none"/>
<path d="M1562 1069.6v31.7M1696 1069.6v31.7M1517 1132.4v31.7M1530 1132.4v31.7M1556 1132.4v31.7M1632 1132.4v31.7M1635 1132.4v31.7M1523 1163.7v31.7M1528 1163.7v31.7M1555 1163.7v31.7M1611 1163.7v31.7M1637 1163.7v31.7M1641 1163.7v31.7M1660 1163.7v31.7M1667 1163.7v31.7M1897 1163.7v31.7M1514 1195.1v31.7M1531 1195.1v31.7M1557 1195.1v31.7M1648 1195.1v31.7M1911 1195.1v31.7M1765 1257.9v31.7M1961 1257.9v31.7M1792 1289.2v31.7M1743 1320.6v31.7M1745 1320.6v31.7M1735 1352v31.7M1632 1383.4v31.7M1686 1383.4v31.7M1734 1383.4v31.7M1758 1383.4v31.7M1806 1383.4v31.7M1871 1383.4v31.7M1895 1383.4v31.7M1896 1383.4v31.7M1639 1414.7v31.7M1663 1414.7v31.7M1685 1414.7v31.7M1820 1414.7v31.7M1913 1414.7v31.7M1949 1414.7v31.7M1950 1414.7v31.7M1899 1477.5v31.7M1902 1477.5v31.7M1907 1477.5v31.7M1959 1477.5v31.7M1585 1508.9v31.7M1643 1508.9v31.7M1719 1508.9v31.7M1945 1508.9v31.7M1948 1508.9v31.7M1646 1540.2v31.7M1693 1540.2v31.7M1694 1540.2v31.7M1707 1540.2v31.7M1579 1571.6v31.7M1610 1571.6v31.7M1615 1571.6v31.7M1551 1603v31.7M1554 1603v31.7M1568 1603v31.7M1572 1603v31.7M1593 1603v31.7M1610 1603v31.7M1615 1603v31.7M1660 1603v31.7M1670 1603v31.7M1672 1603v31.7M1677 1603v31.7M1679 1603v31.7M1685 1603v31.7M1714 1603v31.7M1735 1603v31.7M1749 1603v31.7M1792 1603v31.7M1857 1603v31.7M1871 1603v31.7M1875 1603v31.7M1877 1603v31.7M1908 1603v31.7M1929 1603v31.7M1556 1634.4v31.7M1599 1634.4v31.7M1935 1634.4v31.7M1936 1634.4v31.7M1581 1665.7v31.7M1625 1665.7v31.7M1626 1665.7v31.7M1661 1665.7v31.7M1916 1665.7v31.7M1935 1665.7v31.7M1941 1665.7v31.7M1542 1697.1v31.7M1610 1697.1v31.7M1670 1697.1v31.7M1747 1697.1v31.7M1839 1697.1v31.7M1927 1697.1v31.7M1961 1697.1v31.7M1528 1728.5v31.7M1562 1728.5v31.7M1575 1728.5v31.7M1585 1728.5v31.7M1596 1728.5v31.7M1667 1728.5v31.7M1668 1728.5v31.7M1679 1728.5v31.7M1686 1728.5v31.7M1695 1728.5v31.7M1833 1728.5v31.7M1584 1759.9v31.7M1628 1759.9v31.7M1678 1759.9v31.7M1683 1759.9v31.7M1684 1759.9v31.7M1695 1759.9v31.7M1713 1759.9v31.7M1511 1791.2v31.7M1781 1791.2v31.7M1865 1791.2v31.7M1517 1822.6v31.7" stroke="#ffebeb" stroke-width="1" fill="none"/>
<path d="M1548.5 1069.6v31.7M1574.5 1132.4v31.7M1683.5 1132.4v31.7M1707.5 1132.4v31.7M1537.5 1163.7v31.7M1588.5 1163.7v31.7M1515.5 1195.1v31.7M1635.5 1195.1v31.7M1646.5 1195.1v31.7M1660.5 1195.1v31.7M1668.5 1195.1v31.7M1695.5 1195.1v31.7M1856.5 1257.9v31.7M1768.5 1320.6v31.7M1641.5 1352v31.7M1737.5 1383.4v31.7M1966.5 1383.4v31.7M1608.5 1414.7v31.7M1620.5 1414.7v31.7M1646.5 1414.7v31.7M1947.5 1414.7v31.7M1547.5 1508.9v31.7M1770.5 1508.9v31.7M1548.5 1540.2v31.7M1660.5 1571.6v31.7M1704.5 1571.6v31.7M1508.5 1603v31.7M1525.5 1603v31.7M1552.5 1603v31.7M1642.5 1603v31.7M1667.5 1603v31.7M1771.5 1603v31.7M1826.5 1603v31.7M1878.5 1603v31.7M1891.5 1603v31.7M1933.5 1603v31.7M1942.5 1603v31.7M1687.5 1634.4v31.7M1912.5 1634.4v31.7M1924.5 1634.4v31.7M1926.5 1634.4v31.7M1630.5 1697.1v31.7M1665.5 1697.1v31.7M1942.5 1697.1v31.7M1950.5 1697.1v31.7M1555.5 1728.5v31.7M1560.5 1728.5v31.7M1566.5 1728.5v31.7M1597.5 1728.5v31.7M1620.5 1728.5v31.7M1628.5 1728.5v31.7M1722.5 1728.5v31.7M1509.5 1759.9v31.7M1557.5 1759.9v31.7M1707.5 1759.9v31.7M1717.5 1759.9v31.7M1877.5 1791.2v31.7M1586.5 1822.6v31.7M1603.5 1822.6v31.7M1712.5 1822.6v31.7" stroke="#ffebeb" stroke-width="2" fill="none"/>
<path d="M1716 1069.6v31.7M1563 1195.1v31.7M1643 1195.1v31.7M1703 1195.1v31.7M1930 1195.1v31.7M1748 1320.6v31.7M1819 1320.6v31.7M1967 1352v31.7M1971 1383.4v31.7M1896 1414.7v31.7M1953 1414.7v31.7M1969 1446.1v31.7M1745 1508.9v31.7M1570 1603v31.7M1761 1603v31.7M1768 1603v31.7M1797 1603v31.7M1836 1603v31.7M1854 1603v31.7M1637 1634.4v31.7M1933 1634.4v31.7M1695 1697.1v31.7M1522 1728.5v31.7M1640 1728.5v31.7M1711 1728.5v31.7M1569 1759.9v31.7M1651 1759.9v31.7M1670 1759.9v31.7M1867 1791.2v31.7M1637 1822.6v31.7M1960 1822.6v31.7" stroke="#ffebeb" stroke-width="3" fill="none"/>
<path d="M1532 1069.6v31.7M1534 1069.6v31.7M1535 1069.6v31.7M1567 1069.6v31.7M1576 1069.6v31.7M1624 1069.6v31.7M1630 1069.6v31.7M1514 1101v31.7M1586 1101v31.7M1597 1101v31.7M1613 1101v31.7M1619 1101v31.7M1625 1101v31.7M1696 1101v31.7M1703 1101v31.7M1533 1132.4v31.7M1552 1132.4v31.7M1565 1132.4v31.7M1573 1132.4v31.7M1576 1132.4v31.7M1648 1132.4v31.7M1654 1132.4v31.7M1680 1132.4v31.7M1692 1132.4v31.7M1701 1132.4v31.7M1517 1163.7v31.7M1524 1163.7v31.7M1551 1163.7v31.7M1587 1163.7v31.7M1612 1163.7v31.7M1613 1163.7v31.7M1614 1163.7v31.7M1634 1163.7v31.7M1638 1163.7v31.7M1675 1163.7v31.7M1676 1163.7v31.7M1699 1163.7v31.7M1709 1163.7v31.7M1713 1163.7v31.7M1719 1163.7v31.7M1508 1195.1v31.7M1519 1195.1v31.7M1574 1195.1v31.7M1590 1195.1v31.7M1598 1195.1v31.7M1600 1195.1v31.7M1608 1195.1v31.7M1614 1195.1v31.7M1706 1195.1v31.7M1710 1195.1v31.7M1939 1195.1v31.7M1756 1257.9v31.7M1769 1257.9v31.7M1812 1257.9v31.7M1834 1257.9v31.7M1835 1257.9v31.7M1855 1257.9v31.7M1905 1257.9v31.7M1971 1257.9v31.7M1806 1289.2v31.7M1869 1289.2v31.7M1859 1320.6v31.7M1882 1320.6v31.7M1733 1352v31.7M1607 1414.7v31.7M1902 1414.7v31.7M1946 1414.7v31.7M1972 1414.7v31.7M1916 1446.1v31.7M1509 1477.5v31.7M1512 1477.5v31.7M1555 1477.5v31.7M1626 1477.5v31.7M1664 1477.5v31.7M1670 1477.5v31.7M1716 1477.5v31.7M1900 1477.5v31.7M1903 1477.5v31.7M1905 1477.5v31.7M1915 1477.5v31.7M1922 1477.5v31.7M1952 1477.5v31.7M1960 1477.5v31.7M1972 1477.5v31.7M1782 1508.9v31.7M1535 1540.2v31.7M1665 1540.2v31.7M1748 1540.2v31.7M1573 1603v31.7M1579 1603v31.7M1587 1603v31.7M1600 1603v31.7M1674 1603v31.7M1773 1603v31.7M1906 1603v31.7M1922 1603v31.7M1670 1665.7v31.7M1595 1697.1v31.7M1541 1728.5v31.7M1627 1728.5v31.7M1547 1822.6v31.7M1571 1822.6v31.7M1645 1822.6v31.7" stroke="#ffd7d7" stroke-width="1" fill="none"/>
<path d="M1538.5 1069.6v31.7M1543.5 1069.6v31.7M1628.5 1069.6v31.7M1654.5 1101v31.7M1554.5 1132.4v31.7M1591.5 1132.4v31.7M1611.5 1132.4v31.7M1710.5 1132.4v31.7M1712.5 1132.4v31.7M1509.5 1163.7v31.7M1539.5 1163.7v31.7M1562.5 1163.7v31.7M1590.5 1163.7v31.7M1665.5 1163.7v31.7M1542.5 1195.1v31.7M1567.5 1195.1v31.7M1664.5 1195.1v31.7M1723.5 1195.1v31.7M1760.5 1226.5v31.7M1826.5 1226.5v31.7M1878.5 1226.5v31.7M1810.5 1257.9v31.7M1868.5 1257.9v31.7M1769.5 1289.2v31.7M1842.5 1289.2v31.7M1941.5 1289.2v31.7M1872.5 1320.6v31.7M1874.5 1320.6v31.7M1752.5 1352v31.7M1786.5 1352v31.7M1614.5 1414.7v31.7M1937.5 1414.7v31.7M1968.5 1414.7v31.7M1901.5 1446.1v31.7M1529.5 1477.5v31.7M1577.5 1477.5v31.7M1580.5 1477.5v31.7M1610.5 1477.5v31.7M1635.5 1477.5v31.7M1650.5 1477.5v31.7M1676.5 1477.5v31.7M1686.5 1477.5v31.7M1698.5 1477.5v31.7M1911.5 1477.5v31.7M1920.5 1477.5v31.7M1574.5 1603v31.7M1577.5 1603v31.7M1602.5 1603v31.7M1620.5 1603v31.7M1686.5 1603v31.7M1726.5 1603v31.7M1950.5 1634.4v31.7M1633.5 1728.5v31.7M1738.5 1791.2v31.7M1646.5 1822.6v31.7" stroke="#ffd7d7" stroke-width="2" fill="none"/>
<path d="M1605 1069.6v31.7M1626 1069.6v31.7M1659 1069.6v31.7M1719 1069.6v31.7M1548 1101v31.7M1651 1101v31.7M1709 1101v31.7M1558 1132.4v31.7M1588 1132.4v31.7M1620 1163.7v31.7M1711 1163.7v31.7M1553 1195.1v31.7M1570 1195.1v31.7M1587 1195.1v31.7M1602 1195.1v31.7M1678 1195.1v31.7M1823 1320.6v31.7M1906 1383.4v31.7M1960 1414.7v31.7M1547 1477.5v31.7M1569 1477.5v31.7M1572 1477.5v31.7M1588 1477.5v31.7M1514 1603v31.7M1841 1603v31.7M1699 1728.5v31.7M1716 1728.5v31.7M1667 1822.6v31.7" stroke="#ffd7d7" stroke-width="3" fill="none"/>
<path d="M1513 1069.6v31.7M1514 1069.6v31.7M1517 1069.6v31.7M1521 1069.6v31.7M1526 1069.6v31.7M1528 1069.6v31.7M1537 1069.6v31.7M1560 1069.6v31.7M1563 1069.6v31.7M1568 1069.6v31.7M1578 1069.6v31.7M1590 1069.6v31.7M1596 1069.6v31.7M1597 1069.6v31.7M1600 1069.6v31.7M1618 1069.6v31.7M1622 1069.6v31.7M1636 1069.6v31.7M1654 1069.6v31.7M1667 1069.6v31.7M1682 1069.6v31.7M1688 1069.6v31.7M1689 1069.6v31.7M1706 1069.6v31.7M1707 1069.6v31.7M1711 1069.6v31.7M1526 1101v31.7M1534 1101v31.7M1553 1101v31.7M1558 1101v31.7M1567 1101v31.7M1598 1101v31.7M1609 1101v31.7M1621 1101v31.7M1628 1101v31.7M1657 1101v31.7M1665 1101v31.7M1666 1101v31.7M1679 1101v31.7M1680 1101v31.7M1685 1101v31.7M1711 1101v31.7M1716 1101v31.7M1718 1101v31.7M1561 1132.4v31.7M1579 1132.4v31.7M1616 1132.4v31.7M1641 1132.4v31.7M1645 1132.4v31.7M1656 1132.4v31.7M1659 1132.4v31.7M1676 1132.4v31.7M1705 1132.4v31.7M1706 1132.4v31.7M1722 1132.4v31.7M1516 1163.7v31.7M1534 1163.7v31.7M1552 1163.7v31.7M1575 1163.7v31.7M1585 1163.7v31.7M1593 1163.7v31.7M1672 1163.7v31.7M1674 1163.7v31.7M1678 1163.7v31.7M1686 1163.7v31.7M1705 1163.7v31.7M1722 1163.7v31.7M1523 1195.1v31.7M1545 1195.1v31.7M1546 1195.1v31.7M1556 1195.1v31.7M1558 1195.1v31.7M1559 1195.1v31.7M1572 1195.1v31.7M1573 1195.1v31.7M1575 1195.1v31.7M1576 1195.1v31.7M1589 1195.1v31.7M1592 1195.1v31.7M1604 1195.1v31.7M1621 1195.1v31.7M1628 1195.1v31.7M1632 1195.1v31.7M1634 1195.1v31.7M1641 1195.1v31.7M1645 1195.1v31.7M1654 1195.1v31.7M1705 1195.1v31.7M1718 1195.1v31.7M1726 1226.5v31.7M1738 1226.5v31.7M1749 1226.5v31.7M1750 1226.5v31.7M1808 1226.5v31.7M1885 1226.5v31.7M1757 1257.9v31.7M1767 1257.9v31.7M1768 1257.9v31.7M1775 1257.9v31.7M1801 1257.9v31.7M1819 1257.9v31.7M1828 1257.9v31.7M1836 1257.9v31.7M1840 1257.9v31.7M1841 1257.9v31.7M1858 1257.9v31.7M1887 1257.9v31.7M1788 1289.2v31.7M1804 1289.2v31.7M1828 1289.2v31.7M1829 1289.2v31.7M1865 1289.2v31.7M1907 1289.2v31.7M1742 1320.6v31.7M1773 1320.6v31.7M1776 1320.6v31.7M1781 1320.6v31.7M1846 1320.6v31.7M1865 1320.6v31.7M1871 1320.6v31.7M1876 1320.6v31.7M1765 1352v31.7M1775 1352v31.7M1802 1352v31.7M1713 1383.4v31.7M1698 1414.7v31.7M1898 1414.7v31.7M1905 1414.7v31.7M1912 1414.7v31.7M1928 1414.7v31.7M1955 1414.7v31.7M1914 1446.1v31.7M1923 1446.1v31.7M1929 1446.1v31.7M1531 1477.5v31.7M1537 1477.5v31.7M1562 1477.5v31.7M1617 1477.5v31.7M1627 1477.5v31.7M1631 1477.5v31.7M1648 1477.5v31.7M1682 1477.5v31.7M1688 1477.5v31.7M1697 1477.5v31.7M1718 1477.5v31.7M1901 1477.5v31.7M1904 1477.5v31.7M1906 1477.5v31.7M1919 1477.5v31.7M1923 1477.5v31.7M1931 1477.5v31.7M1954 1477.5v31.7M1762 1508.9v31.7M1780 1508.9v31.7M1809 1540.2v31.7M1562 1603v31.7M1580 1603v31.7M1632 1603v31.7M1650 1603v31.7M1664 1603v31.7M1691 1603v31.7M1630 1634.4v31.7M1869 1634.4v31.7M1645 1665.7v31.7M1677 1665.7v31.7M1594 1697.1v31.7M1699 1697.1v31.7M1571 1728.5v31.7M1531 1759.9v31.7M1562 1759.9v31.7M1575 1759.9v31.7M1605 1759.9v31.7M1682 1759.9v31.7M1712 1759.9v31.7M1611 1791.2v31.7" stroke="#ffc4c4" stroke-width="1" fill="none"/>
<path d="M1524.5 1069.6v31.7M1546.5 1069.6v31.7M1571.5 1069.6v31.7M1613.5 1069.6v31.7M1680.5 1069.6v31.7M1683.5 1069.6v31.7M1701.5 1069.6v31.7M1723.5 1069.6v31.7M1550.5 1101v31.7M1607.5 1101v31.7M1610.5 1101v31.7M1623.5 1101v31.7M1667.5 1101v31.7M1694.5 1101v31.7M1521.5 1132.4v31.7M1525.5 1132.4v31.7M1544.5 1132.4v31.7M1549.5 1132.4v31.7M1566.5 1132.4v31.7M1600.5 1132.4v31.7M1617.5 1132.4v31.7M1664.5 1132.4v31.7M1670.5 1132.4v31.7M1673.5 1132.4v31.7M1696.5 1132.4v31.7M1513.5 1163.7v31.7M1547.5 1163.7v31.7M1595.5 1163.7v31.7M1624.5 1163.7v31.7M1645.5 1163.7v31.7M1647.5 1163.7v31.7M1649.5 1163.7v31.7M1653.5 1163.7v31.7M1658.5 1163.7v31.7M1689.5 1163.7v31.7M1692.5 1163.7v31.7M1594.5 1195.1v31.7M1596.5 1195.1v31.7M1616.5 1195.1v31.7M1714.5 1195.1v31.7M1821.5 1226.5v31.7M1724.5 1257.9v31.7M1760.5 1257.9v31.7M1783.5 1257.9v31.7M1822.5 1257.9v31.7M1870.5 1257.9v31.7M1876.5 1257.9v31.7M1885.5 1257.9v31.7M1727.5 1289.2v31.7M1733.5 1289.2v31.7M1813.5 1289.2v31.7M1911.5 1289.2v31.7M1724.5 1320.6v31.7M1729.5 1320.6v31.7M1756.5 1320.6v31.7M1888.5 1320.6v31.7M1736.5 1352v31.7M1911.5 1383.4v31.7M1664.5 1414.7v31.7M1939.5 1414.7v31.7M1544.5 1477.5v31.7M1563.5 1477.5v31.7M1585.5 1477.5v31.7M1680.5 1477.5v31.7M1913.5 1477.5v31.7M1939.5 1477.5v31.7M1945.5 1477.5v31.7M1955.5 1477.5v31.7M1525.5 1540.2v31.7M1619.5 1540.2v31.7M1516.5 1603v31.7M1527.5 1603v31.7M1548.5 1603v31.7M1644.5 1603v31.7M1682.5 1603v31.7M1684.5 1728.5v31.7M1529.5 1759.9v31.7M1542.5 1759.9v31.7M1648.5 1759.9v31.7M1672.5 1759.9v31.7M1659.5 1791.2v31.7M1678.5 1791.2v31.7M1715.5 1791.2v31.7M1844.5 1791.2v31.7" stroke="#ffc4c4" stroke-width="2" fill="none"/>
<path d="M1541 1069.6v31.7M1602 1069.6v31.7M1620 1069.6v31.7M1648 1069.6v31.7M1511 1101v31.7M1593 1101v31.7M1724 1101v31.7M1509 1132.4v31.7M1519 1132.4v31.7M1528 1132.4v31.7M1538 1132.4v31.7M1678 1132.4v31.7M1703 1132.4v31.7M1719 1132.4v31.7M1565 1163.7v31.7M1598 1163.7v31.7M1643 1163.7v31.7M1656 1163.7v31.7M1638 1195.1v31.7M1708 1195.1v31.7M1769 1226.5v31.7M1851 1226.5v31.7M1853 1257.9v31.7M1819 1289.2v31.7M1857 1289.2v31.7M1909 1383.4v31.7M1942 1446.1v31.7M1615 1477.5v31.7M1629 1477.5v31.7M1661 1477.5v31.7M1947 1571.6v31.7M1695 1603v31.7M1707 1728.5v31.7M1662 1759.9v31.7" stroke="#ffc4c4" stroke-width="3" fill="none"/>
<path d="M1724 1226.5v31.7M1725 1226.5v31.7M1729 1226.5v31.7M1748 1226.5v31.7M1751 1226.5v31.7M1752 1226.5v31.7M1753 1226.5v31.7M1784 1226.5v31.7M1813 1226.5v31.7M1814 1226.5v31.7M1823 1226.5v31.7M1838 1226.5v31.7M1847 1226.5v31.7M1874 1226.5v31.7M1887 1226.5v31.7M1736 1257.9v31.7M1739 1257.9v31.7M1742 1257.9v31.7M1754 1257.9v31.7M1776 1257.9v31.7M1782 1257.9v31.7M1842 1257.9v31.7M1864 1257.9v31.7M1867 1257.9v31.7M1898 1257.9v31.7M1732 1289.2v31.7M1744 1289.2v31.7M1768 1289.2v31.7M1781 1289.2v31.7M1805 1289.2v31.7M1835 1289.2v31.7M1847 1289.2v31.7M1863 1289.2v31.7M1874 1289.2v31.7M1731 1320.6v31.7M1740 1320.6v31.7M1755 1320.6v31.7M1760 1320.6v31.7M1817 1320.6v31.7M1839 1320.6v31.7M1849 1320.6v31.7M1860 1320.6v31.7M1879 1320.6v31.7M1741 1352v31.7M1747 1352v31.7M1760 1352v31.7M1779 1352v31.7M1819 1352v31.7M1851 1352v31.7M1862 1352v31.7M1874 1352v31.7M1916 1383.4v31.7M1517 1414.7v31.7M1524 1414.7v31.7M1597 1414.7v31.7M1921 1414.7v31.7M1899 1446.1v31.7M1579 1477.5v31.7M1620 1477.5v31.7M1639 1477.5v31.7M1696 1477.5v31.7M1944 1477.5v31.7M1864 1508.9v31.7M1941 1508.9v31.7M1572 1540.2v31.7M1675 1540.2v31.7M1723 1540.2v31.7M1687 1571.6v31.7M1949 1571.6v31.7M1601 1603v31.7M1614 1603v31.7M1945 1603v31.7M1956 1603v31.7M1626 1634.4v31.7M1641 1634.4v31.7M1709 1634.4v31.7M1748 1634.4v31.7M1846 1634.4v31.7M1945 1634.4v31.7M1666 1665.7v31.7M1547 1697.1v31.7M1558 1697.1v31.7M1586 1728.5v31.7M1513 1759.9v31.7M1574 1759.9v31.7M1586 1759.9v31.7M1587 1759.9v31.7M1596 1759.9v31.7M1602 1759.9v31.7M1606 1759.9v31.7M1961 1759.9v31.7M1510 1822.6v31.7" stroke="#ffb0b0" stroke-width="1" fill="none"/>
<path d="M1727.5 1226.5v31.7M1731.5 1226.5v31.7M1733.5 1226.5v31.7M1742.5 1226.5v31.7M1800.5 1226.5v31.7M1819.5 1226.5v31.7M1730.5 1257.9v31.7M1743.5 1257.9v31.7M1805.5 1257.9v31.7M1807.5 1257.9v31.7M1832.5 1257.9v31.7M1865.5 1257.9v31.7M1878.5 1257.9v31.7M1771.5 1289.2v31.7M1778.5 1289.2v31.7M1822.5 1289.2v31.7M1826.5 1289.2v31.7M1882.5 1289.2v31.7M1884.5 1289.2v31.7M1886.5 1289.2v31.7M1888.5 1289.2v31.7M1765.5 1320.6v31.7M1778.5 1320.6v31.7M1787.5 1320.6v31.7M1832.5 1320.6v31.7M1886.5 1320.6v31.7M1755.5 1352v31.7M1798.5 1352v31.7M1811.5 1352v31.7M1839.5 1352v31.7M1881.5 1352v31.7M1602.5 1383.4v31.7M1562.5 1414.7v31.7M1589.5 1414.7v31.7M1668.5 1414.7v31.7M1920.5 1446.1v31.7M1927.5 1446.1v31.7M1525.5 1477.5v31.7M1553.5 1477.5v31.7M1632.5 1477.5v31.7M1646.5 1477.5v31.7M1538.5 1540.2v31.7M1881.5 1571.6v31.7M1585.5 1603v31.7M1591.5 1603v31.7M1626.5 1603v31.7M1680.5 1603v31.7M1707.5 1603v31.7M1583.5 1634.4v31.7M1677.5 1634.4v31.7M1586.5 1665.7v31.7M1524.5 1697.1v31.7M1631.5 1728.5v31.7M1548.5 1759.9v31.7M1599.5 1759.9v31.7M1607.5 1759.9v31.7M1615.5 1759.9v31.7M1617.5 1759.9v31.7M1622.5 1759.9v31.7M1679.5 1759.9v31.7M1691.5 1759.9v31.7M1705.5 1759.9v31.7M1686.5 1791.2v31.7M1512.5 1822.6v31.7M1563.5 1822.6v31.7M1608.5 1822.6v31.7M1617.5 1822.6v31.7M1697.5 1822.6v31.7" stroke="#ffb0b0" stroke-width="2" fill="none"/>
<path d="M1810 1226.5v31.7M1840 1226.5v31.7M1797 1257.9v31.7M1803 1257.9v31.7M1794 1289.2v31.7M1811 1289.2v31.7M1792 1320.6v31.7M1837 1320.6v31.7M1867 1320.6v31.7M1773 1352v31.7M1890 1352v31.7M1693 1477.5v31.7M1904 1508.9v31.7M1515 1759.9v31.7M1540 1759.9v31.7" stroke="#ffb0b0" stroke-width="3" fill="none"/>
<path d="M1512 1069.6v31.7M1520 1069.6v31.7M1533 1069.6v31.7M1536 1069.6v31.7M1545 1069.6v31.7M1558 1069.6v31.7M1561 1069.6v31.7M1564 1069.6v31.7M1587 1069.6v31.7M1588 1069.6v31.7M1599 1069.6v31.7M1623 1069.6v31.7M1638 1069.6v31.7M1639 1069.6v31.7M1653 1069.6v31.7M1657 1069.6v31.7M1687 1069.6v31.7M1517 1101v31.7M1522 1101v31.7M1541 1101v31.7M1554 1101v31.7M1557 1101v31.7M1575 1101v31.7M1582 1101v31.7M1585 1101v31.7M1606 1101v31.7M1641 1101v31.7M1643 1101v31.7M1661 1101v31.7M1673 1101v31.7M1674 1101v31.7M1677 1101v31.7M1706 1101v31.7M1514 1132.4v31.7M1553 1132.4v31.7M1590 1132.4v31.7M1593 1132.4v31.7M1619 1132.4v31.7M1621 1132.4v31.7M1622 1132.4v31.7M1631 1132.4v31.7M1636 1132.4v31.7M1646 1132.4v31.7M1657 1132.4v31.7M1658 1132.4v31.7M1687 1132.4v31.7M1691 1132.4v31.7M1717 1132.4v31.7M1512 1163.7v31.7M1525 1163.7v31.7M1567 1163.7v31.7M1574 1163.7v31.7M1576 1163.7v31.7M1604 1163.7v31.7M1628 1163.7v31.7M1629 1163.7v31.7M1632 1163.7v31.7M1651 1163.7v31.7M1652 1163.7v31.7M1673 1163.7v31.7M1716 1163.7v31.7M1550 1195.1v31.7M1580 1195.1v31.7M1584 1195.1v31.7M1591 1195.1v31.7M1599 1195.1v31.7M1609 1195.1v31.7M1613 1195.1v31.7M1630 1195.1v31.7M1631 1195.1v31.7M1633 1195.1v31.7M1651 1195.1v31.7M1662 1195.1v31.7M1663 1195.1v31.7M1689 1195.1v31.7M1909 1226.5v31.7M1935 1226.5v31.7M1903 1383.4v31.7M1904 1383.4v31.7M1565 1414.7v31.7M1586 1414.7v31.7M1604 1414.7v31.7M1610 1414.7v31.7M1930 1414.7v31.7M1932 1414.7v31.7M1922 1446.1v31.7M1894 1477.5v31.7M1935 1477.5v31.7M1829 1508.9v31.7M1624 1571.6v31.7M1558 1603v31.7M1619 1603v31.7M1928 1603v31.7M1944 1603v31.7M1946 1603v31.7M1592 1634.4v31.7M1824 1634.4v31.7M1579 1665.7v31.7M1571 1697.1v31.7M1854 1697.1v31.7M1971 1697.1v31.7M1527 1728.5v31.7M1602 1728.5v31.7M1618 1728.5v31.7M1625 1728.5v31.7M1658 1728.5v31.7M1508 1759.9v31.7M1517 1759.9v31.7M1524 1759.9v31.7M1545 1759.9v31.7M1601 1759.9v31.7M1629 1759.9v31.7M1641 1759.9v31.7M1658 1759.9v31.7M1664 1759.9v31.7M1665 1759.9v31.7M1702 1759.9v31.7M1970 1759.9v31.7M1511 1822.6v31.7M1518 1822.6v31.7M1525 1822.6v31.7M1526 1822.6v31.7M1537 1822.6v31.7M1572 1822.6v31.7M1573 1822.6v31.7M1580 1822.6v31.7M1584 1822.6v31.7M1590 1822.6v31.7M1962 1822.6v31.7" stroke="#ff9c9c" stroke-width="1" fill="none"/>
<path d="M1661.5 1069.6v31.7M1670.5 1069.6v31.7M1721.5 1069.6v31.7M1515.5 1101v31.7M1518.5 1101v31.7M1520.5 1101v31.7M1524.5 1101v31.7M1527.5 1101v31.7M1572.5 1101v31.7M1600.5 1101v31.7M1634.5 1101v31.7M1671.5 1101v31.7M1691.5 1101v31.7M1701.5 1101v31.7M1719.5 1101v31.7M1721.5 1101v31.7M1542.5 1132.4v31.7M1568.5 1132.4v31.7M1667.5 1132.4v31.7M1689.5 1132.4v31.7M1693.5 1132.4v31.7M1723.5 1132.4v31.7M1535.5 1163.7v31.7M1608.5 1163.7v31.7M1635.5 1163.7v31.7M1639.5 1163.7v31.7M1681.5 1163.7v31.7M1695.5 1163.7v31.7M1720.5 1163.7v31.7M1540.5 1195.1v31.7M1610.5 1195.1v31.7M1622.5 1195.1v31.7M1674.5 1383.4v31.7M1899.5 1414.7v31.7M1903.5 1414.7v31.7M1910.5 1414.7v31.7M1523.5 1477.5v31.7M1542.5 1477.5v31.7M1574.5 1477.5v31.7M1603.5 1571.6v31.7M1706.5 1571.6v31.7M1667.5 1634.4v31.7M1952.5 1634.4v31.7M1599.5 1697.1v31.7M1967.5 1697.1v31.7M1538.5 1728.5v31.7M1603.5 1728.5v31.7M1799.5 1728.5v31.7M1958.5 1728.5v31.7M1551.5 1759.9v31.7M1659.5 1759.9v31.7M1693.5 1759.9v31.7M1543.5 1822.6v31.7M1595.5 1822.6v31.7M1623.5 1822.6v31.7M1683.5 1822.6v31.7M1720.5 1822.6v31.7M1965.5 1822.6v31.7" stroke="#ff9c9c" stroke-width="2" fill="none"/>
<path d="M1592 1069.6v31.7M1611 1069.6v31.7M1632 1069.6v31.7M1664 1069.6v31.7M1615 1101v31.7M1630 1101v31.7M1689 1101v31.7M1699 1101v31.7M1571 1132.4v31.7M1585 1132.4v31.7M1595 1132.4v31.7M1598 1132.4v31.7M1604 1132.4v31.7M1608 1132.4v31.7M1626 1132.4v31.7M1511 1195.1v31.7M1687 1195.1v31.7M1908 1446.1v31.7M1624 1477.5v31.7M1929 1477.5v31.7M1952 1571.6v31.7M1635 1759.9v31.7M1959 1759.9v31.7" stroke="#ff9c9c" stroke-width="3" fill="none"/>
<path d="M1598 1069.6v31.7M1635 1069.6v31.7M1640 1069.6v31.7M1690 1069.6v31.7M1704 1069.6v31.7M1513 1101v31.7M1535 1101v31.7M1536 1101v31.7M1539 1101v31.7M1545 1101v31.7M1559 1101v31.7M1584 1101v31.7M1622 1101v31.7M1632 1101v31.7M1656 1101v31.7M1658 1101v31.7M1670 1101v31.7M1675 1101v31.7M1717 1101v31.7M1551 1132.4v31.7M1560 1132.4v31.7M1562 1132.4v31.7M1563 1132.4v31.7M1606 1132.4v31.7M1610 1132.4v31.7M1630 1132.4v31.7M1639 1132.4v31.7M1640 1132.4v31.7M1672 1132.4v31.7M1508 1163.7v31.7M1515 1163.7v31.7M1579 1163.7v31.7M1594 1163.7v31.7M1600 1163.7v31.7M1605 1163.7v31.7M1671 1163.7v31.7M1677 1163.7v31.7M1698 1163.7v31.7M1509 1195.1v31.7M1517 1195.1v31.7M1520 1195.1v31.7M1535 1195.1v31.7M1544 1195.1v31.7M1560 1195.1v31.7M1561 1195.1v31.7M1565 1195.1v31.7M1585 1195.1v31.7M1593 1195.1v31.7M1615 1195.1v31.7M1629 1195.1v31.7M1655 1195.1v31.7M1722 1195.1v31.7M1745 1226.5v31.7M1762 1226.5v31.7M1787 1226.5v31.7M1794 1226.5v31.7M1825 1226.5v31.7M1837 1226.5v31.7M1844 1226.5v31.7M1853 1226.5v31.7M1863 1226.5v31.7M1864 1226.5v31.7M1886 1226.5v31.7M1732 1257.9v31.7M1751 1257.9v31.7M1759 1257.9v31.7M1771 1257.9v31.7M1780 1257.9v31.7M1799 1257.9v31.7M1813 1257.9v31.7M1826 1257.9v31.7M1880 1257.9v31.7M1799 1289.2v31.7M1803 1289.2v31.7M1815 1289.2v31.7M1825 1289.2v31.7M1830 1289.2v31.7M1840 1289.2v31.7M1851 1289.2v31.7M1866 1289.2v31.7M1752 1320.6v31.7M1761 1320.6v31.7M1790 1320.6v31.7M1799 1320.6v31.7M1800 1320.6v31.7M1821 1320.6v31.7M1863 1320.6v31.7M1881 1320.6v31.7M1883 1320.6v31.7M1885 1320.6v31.7M1890 1320.6v31.7M1727 1352v31.7M1728 1352v31.7M1757 1352v31.7M1758 1352v31.7M1759 1352v31.7M1782 1352v31.7M1790 1352v31.7M1820 1352v31.7M1826 1352v31.7M1833 1352v31.7M1842 1352v31.7M1843 1352v31.7M1858 1352v31.7M1870 1352v31.7M1892 1352v31.7M1659 1383.4v31.7M1665 1383.4v31.7M1902 1383.4v31.7M1934 1383.4v31.7M1942 1383.4v31.7M1645 1414.7v31.7M1674 1414.7v31.7M1642 1477.5v31.7M1656 1477.5v31.7M1615 1508.9v31.7M1902 1508.9v31.7M1934 1508.9v31.7M1521 1571.6v31.7M1815 1571.6v31.7M1663 1603v31.7M1673 1603v31.7M1907 1603v31.7M1915 1603v31.7M1947 1603v31.7M1948 1603v31.7M1954 1603v31.7M1905 1665.7v31.7M1516 1697.1v31.7M1966 1697.1v31.7M1524 1728.5v31.7M1588 1728.5v31.7M1635 1728.5v31.7M1672 1728.5v31.7M1709 1728.5v31.7M1964 1728.5v31.7M1965 1728.5v31.7M1966 1728.5v31.7M1512 1759.9v31.7M1520 1759.9v31.7M1526 1759.9v31.7M1536 1759.9v31.7M1588 1759.9v31.7M1640 1759.9v31.7M1657 1759.9v31.7M1963 1791.2v31.7M1519 1822.6v31.7M1545 1822.6v31.7M1574 1822.6v31.7M1585 1822.6v31.7M1641 1822.6v31.7M1694 1822.6v31.7M1699 1822.6v31.7M1967 1822.6v31.7" stroke="#ff8888" stroke-width="1" fill="none"/>
<path d="M1556.5 1069.6v31.7M1569.5 1069.6v31.7M1594.5 1069.6v31.7M1668.5 1069.6v31.7M1691.5 1069.6v31.7M1693.5 1069.6v31.7M1537.5 1101v31.7M1595.5 1101v31.7M1659.5 1101v31.7M1637.5 1132.4v31.7M1532.5 1163.7v31.7M1558.5 1163.7v31.7M1560.5 1163.7v31.7M1568.5 1163.7v31.7M1577.5 1163.7v31.7M1583.5 1163.7v31.7M1626.5 1163.7v31.7M1766.5 1226.5v31.7M1780.5 1226.5v31.7M1785.5 1226.5v31.7M1789.5 1226.5v31.7M1830.5 1226.5v31.7M1854.5 1226.5v31.7M1868.5 1226.5v31.7M1880.5 1226.5v31.7M1888.5 1226.5v31.7M1734.5 1257.9v31.7M1748.5 1257.9v31.7M1862.5 1257.9v31.7M1889.5 1257.9v31.7M1735.5 1289.2v31.7M1742.5 1289.2v31.7M1745.5 1289.2v31.7M1759.5 1289.2v31.7M1764.5 1289.2v31.7M1782.5 1289.2v31.7M1733.5 1320.6v31.7M1808.5 1320.6v31.7M1861.5 1320.6v31.7M1724.5 1352v31.7M1762.5 1352v31.7M1776.5 1352v31.7M1803.5 1352v31.7M1860.5 1352v31.7M1877.5 1352v31.7M1879.5 1352v31.7M1887.5 1352v31.7M1893.5 1352v31.7M1914.5 1383.4v31.7M1803.5 1571.6v31.7M1857.5 1571.6v31.7M1584.5 1697.1v31.7M1970.5 1728.5v31.7M1630.5 1759.9v31.7M1700.5 1759.9v31.7M1714.5 1759.9v31.7M1721.5 1759.9v31.7M1520.5 1822.6v31.7M1548.5 1822.6v31.7M1615.5 1822.6v31.7M1674.5 1822.6v31.7" stroke="#ff8888" stroke-width="2" fill="none"/>
<path d="M1574 1069.6v31.7M1580 1101v31.7M1512 1132.4v31.7M1715 1132.4v31.7M1530 1163.7v31.7M1619 1195.1v31.7M1698 1195.1v31.7M1806 1226.5v31.7M1833 1226.5v31.7M1861 1226.5v31.7M1787 1257.9v31.7M1845 1257.9v31.7M1874 1257.9v31.7M1883 1257.9v31.7M1730 1289.2v31.7M1785 1289.2v31.7M1797 1289.2v31.7M1838 1289.2v31.7M1854 1289.2v31.7M1880 1289.2v31.7M1812 1320.6v31.7M1815 1320.6v31.7M1892 1320.6v31.7M1743 1352v31.7M1806 1352v31.7M1822 1352v31.7M1855 1352v31.7M1864 1352v31.7M1884 1352v31.7M1668 1477.5v31.7M1955 1634.4v31.7M1572 1759.9v31.7" stroke="#ff8888" stroke-width="3" fill="none"/>
<path d="M1565 1069.6v31.7M1634 1069.6v31.7M1695 1069.6v31.7M1639 1101v31.7M1697 1101v31.7M1715 1101v31.7M1633 1163.7v31.7M1680 1163.7v31.7M1683 1163.7v31.7M1653 1195.1v31.7M1739 1226.5v31.7M1746 1226.5v31.7M1754 1226.5v31.7M1783 1226.5v31.7M1824 1226.5v31.7M1737 1257.9v31.7M1755 1257.9v31.7M1763 1257.9v31.7M1766 1257.9v31.7M1800 1257.9v31.7M1815 1257.9v31.7M1820 1257.9v31.7M1829 1257.9v31.7M1737 1289.2v31.7M1758 1289.2v31.7M1763 1289.2v31.7M1766 1289.2v31.7M1787 1289.2v31.7M1816 1289.2v31.7M1848 1289.2v31.7M1732 1320.6v31.7M1738 1320.6v31.7M1739 1320.6v31.7M1744 1320.6v31.7M1746 1320.6v31.7M1786 1320.6v31.7M1858 1320.6v31.7M1864 1320.6v31.7M1878 1320.6v31.7M1884 1320.6v31.7M1726 1352v31.7M1730 1352v31.7M1734 1352v31.7M1745 1352v31.7M1768 1352v31.7M1794 1352v31.7M1795 1352v31.7M1824 1352v31.7M1827 1352v31.7M1937 1383.4v31.7M1941 1383.4v31.7M1929 1414.7v31.7M1895 1446.1v31.7M1912 1446.1v31.7M1915 1446.1v31.7M1933 1446.1v31.7M1938 1446.1v31.7M1675 1477.5v31.7M1908 1477.5v31.7M1941 1477.5v31.7M1943 1477.5v31.7M1715 1508.9v31.7M1897 1508.9v31.7M1907 1508.9v31.7M1914 1508.9v31.7M1926 1508.9v31.7M1935 1508.9v31.7M1638 1571.6v31.7M1744 1571.6v31.7M1780 1571.6v31.7M1728 1634.4v31.7M1656 1665.7v31.7M1527 1697.1v31.7M1632 1697.1v31.7M1669 1697.1v31.7M1551 1728.5v31.7M1765 1728.5v31.7M1960 1728.5v31.7M1511 1759.9v31.7M1594 1759.9v31.7M1716 1759.9v31.7M1741 1791.2v31.7M1508 1822.6v31.7M1542 1822.6v31.7M1579 1822.6v31.7" stroke="#ff7474" stroke-width="1" fill="none"/>
<path d="M1684.5 1195.1v31.7M1693.5 1195.1v31.7M1795.5 1226.5v31.7M1728.5 1257.9v31.7M1816.5 1257.9v31.7M1830.5 1257.9v31.7M1847.5 1257.9v31.7M1761.5 1289.2v31.7M1860.5 1289.2v31.7M1726.5 1320.6v31.7M1736.5 1320.6v31.7M1758.5 1320.6v31.7M1762.5 1320.6v31.7M1771.5 1320.6v31.7M1834.5 1320.6v31.7M1841.5 1320.6v31.7M1843.5 1320.6v31.7M1853.5 1320.6v31.7M1783.5 1352v31.7M1788.5 1352v31.7M1796.5 1352v31.7M1927.5 1383.4v31.7M1936.5 1446.1v31.7M1600.5 1477.5v31.7M1706.5 1477.5v31.7M1909.5 1477.5v31.7M1654.5 1508.9v31.7M1677.5 1508.9v31.7M1898.5 1508.9v31.7M1949.5 1540.2v31.7M1547.5 1571.6v31.7M1649.5 1697.1v31.7M1657.5 1697.1v31.7M1655.5 1759.9v31.7M1550.5 1822.6v31.7" stroke="#ff7474" stroke-width="2" fill="none"/>
<path d="M1603 1101v31.7M1662 1132.4v31.7M1545 1163.7v31.7M1606 1195.1v31.7M1756 1226.5v31.7M1871 1226.5v31.7M1773 1257.9v31.7M1778 1257.9v31.7M1751 1289.2v31.7M1845 1289.2v31.7M1739 1352v31.7M1809 1352v31.7M1918 1383.4v31.7M1926 1414.7v31.7" stroke="#ff7474" stroke-width="3" fill="none"/>
<path d="M1666 1195.1v31.7M1782 1226.5v31.7M1856 1226.5v31.7M1867 1226.5v31.7M1726 1257.9v31.7M1738 1257.9v31.7M1770 1257.9v31.7M1785 1257.9v31.7M1827 1257.9v31.7M1849 1257.9v31.7M1739 1289.2v31.7M1821 1289.2v31.7M1836 1289.2v31.7M1852 1289.2v31.7M1728 1320.6v31.7M1764 1320.6v31.7M1767 1320.6v31.7M1780 1320.6v31.7M1810 1320.6v31.7M1729 1352v31.7M1731 1352v31.7M1785 1352v31.7M1832 1352v31.7M1868 1352v31.7M1869 1352v31.7M1935 1383.4v31.7M1920 1414.7v31.7M1924 1414.7v31.7M1931 1414.7v31.7M1924 1446.1v31.7M1895 1477.5v31.7M1898 1477.5v31.7M1942 1477.5v31.7M1544 1508.9v31.7M1673 1508.9v31.7M1556 1571.6v31.7M1674 1571.6v31.7M1536 1603v31.7M1955 1603v31.7M1960 1697.1v31.7M1972 1728.5v31.7M1550 1759.9v31.7M1556 1759.9v31.7M1965 1791.2v31.7M1968 1791.2v31.7M1546 1822.6v31.7M1570 1822.6v31.7M1679 1822.6v31.7M1969 1822.6v31.7" stroke="#ff6060" stroke-width="1" fill="none"/>
<path d="M1565.5 1101v31.7M1623.5 1132.4v31.7M1518.5 1163.7v31.7M1526.5 1163.7v31.7M1717.5 1163.7v31.7M1690.5 1195.1v31.7M1716.5 1195.1v31.7M1740.5 1257.9v31.7M1745.5 1257.9v31.7M1850.5 1257.9v31.7M1832.5 1289.2v31.7M1849.5 1289.2v31.7M1774.5 1320.6v31.7M1875.5 1352v31.7M1922.5 1383.4v31.7M1925.5 1383.4v31.7M1910.5 1446.1v31.7M1916.5 1477.5v31.7M1948.5 1665.7v31.7M1964.5 1697.1v31.7M1564.5 1759.9v31.7M1592.5 1759.9v31.7M1966.5 1791.2v31.7M1557.5 1822.6v31.7M1581.5 1822.6v31.7" stroke="#ff6060" stroke-width="2" fill="none"/>
<path d="M1643 1132.4v31.7M1582 1195.1v31.7M1792 1257.9v31.7M1756 1289.2v31.7M1826 1320.6v31.7M1856 1320.6v31.7M1792 1352v31.7M1955 1571.6v31.7M1556 1603v31.7M1962 1728.5v31.7" stroke="#ff6060" stroke-width="3" fill="none"/>
<path d="M1679 1163.7v31.7M1762 1257.9v31.7M1767 1289.2v31.7M1800 1289.2v31.7M1750 1320.6v31.7M1753 1320.6v31.7M1754 1320.6v31.7M1801 1320.6v31.7M1845 1320.6v31.7M1877 1320.6v31.7M1818 1352v31.7M1831 1352v31.7M1914 1414.7v31.7M1666 1508.9v31.7M1717 1508.9v31.7M1906 1508.9v31.7M1915 1508.9v31.7M1945 1540.2v31.7M1949 1634.4v31.7M1724 1728.5v31.7M1958 1822.6v31.7M1968 1822.6v31.7M1972 1822.6v31.7" stroke="#ff4d4d" stroke-width="1" fill="none"/>
<path d="M1521.5 1195.1v31.7M1680.5 1195.1v31.7M1747.5 1289.2v31.7M1797.5 1320.6v31.7M1869.5 1320.6v31.7M1844.5 1352v31.7M1920.5 1383.4v31.7M1709.5 1508.9v31.7M1900.5 1508.9v31.7M1918.5 1508.9v31.7M1936.5 1508.9v31.7M1946.5 1540.2v31.7M1951.5 1540.2v31.7M1958.5 1697.1v31.7M1962.5 1697.1v31.7M1597.5 1759.9v31.7" stroke="#ff4d4d" stroke-width="2" fill="none"/>
<path d="M1808 1289.2v31.7M1872 1289.2v31.7M1783 1320.6v31.7M1806 1320.6v31.7" stroke="#ff4d4d" stroke-width="3" fill="none"/>
<path d="M1888 1257.9v31.7M1933 1383.4v31.7M1943 1383.4v31.7M1917 1446.1v31.7M1542 1508.9v31.7M1911 1508.9v31.7M1940 1508.9v31.7M1950 1603v31.7M1969 1697.1v31.7M1964 1791.2v31.7" stroke="#ff3939" stroke-width="1" fill="none"/>
<path d="M1931.5 1383.4v31.7M1924.5 1508.9v31.7M1946.5 1634.4v31.7M1689.5 1759.9v31.7M1963.5 1822.6v31.7M1970.5 1822.6v31.7" stroke="#ff3939" stroke-width="2" fill="none"/>
<path d="M1952 1603v31.7M1968 1728.5v31.7M1961 1791.2v31.7" stroke="#ff3939" stroke-width="3" fill="none"/>
<path d="M1748 1352v31.7M1924 1383.4v31.7M1936 1383.4v31.7M1915 1414.7v31.7M1929 1508.9v31.7M1931 1508.9v31.7M1939 1508.9v31.7M1950 1571.6v31.7M1609 1759.9v31.7M1644 1759.9v31.7" stroke="#ff2525" stroke-width="1" fill="none"/>
<path d="M1753.5 1289.2v31.7M1939.5 1383.4v31.7M1922.5 1414.7v31.7M1895.5 1508.9v31.7M1953.5 1540.2v31.7" stroke="#ff2525" stroke-width="2" fill="none"/>
<path d="M1897 1446.1v31.7M1921 1508.9v31.7" stroke="#ff2525" stroke-width="3" fill="none"/>
<path d="M1938 1383.4v31.7M1932 1508.9v31.7M1949 1603v31.7M1666 1759.9v31.7" stroke="#ff1111" stroke-width="1" fill="none"/>
<path d="M1925.5 1446.1v31.7M1944.5 1571.6v31.7" stroke="#ff1111" stroke-width="2" fill="none"/>
<path d="M1929.5 1383.4v31.7M1958.5 1791.2v31.7" stroke="#ff0000" stroke-width="2" fill="none"/>
<path d="M1917 1414.7v31.7" stroke="#ff0000" stroke-width="3" fill="none"/>
<text x="1984.3" y="1092.5" style="font-size:29.8px;font-style:italic;">Col1a1</text>
<text x="1984.3" y="1123.8" style="font-size:29.8px;font-style:italic;">Col3a1</text>
<text x="1984.3" y="1155.2" style="font-size:29.8px;font-style:italic;">Col1a2</text>
<text x="1984.3" y="1186.5" style="font-size:29.8px;font-style:italic;">Dcn</text>
<text x="1984.3" y="1217.9" style="font-size:29.8px;font-style:italic;">Postn</text>
<text x="1984.3" y="1249.2" style="font-size:29.8px;font-style:italic;">Ttn</text>
<text x="1984.3" y="1280.6" style="font-size:29.8px;font-style:italic;">Myh7</text>
<text x="1984.3" y="1312.0" style="font-size:29.8px;font-style:italic;">Myh6</text>
<text x="1984.3" y="1343.3" style="font-size:29.8px;font-style:italic;">Pln</text>
<text x="1984.3" y="1374.7" style="font-size:29.8px;font-style:italic;">Atp2a2</text>
<text x="1984.3" y="1406.0" style="font-size:29.8px;font-style:italic;">Fabp4</text>
<text x="1984.3" y="1437.3" style="font-size:29.8px;font-style:italic;">Cav1</text>
<text x="1984.3" y="1468.7" style="font-size:29.8px;font-style:italic;">Cdh5</text>
<text x="1984.3" y="1500.0" style="font-size:29.8px;font-style:italic;">Fabp5</text>
<text x="1984.3" y="1531.4" style="font-size:29.8px;font-style:italic;">Ctla2a</text>
<text x="1984.3" y="1562.8" style="font-size:29.8px;font-style:italic;">Tyrobp</text>
<text x="1984.3" y="1594.1" style="font-size:29.8px;font-style:italic;">Pf4</text>
<text x="1984.3" y="1625.5" style="font-size:29.8px;font-style:italic;">Apoe</text>
<text x="1984.3" y="1656.8" style="font-size:29.8px;font-style:italic;">S100a8</text>
<text x="1984.3" y="1688.2" style="font-size:29.8px;font-style:italic;">S100a9</text>
<text x="1984.3" y="1719.5" style="font-size:29.8px;font-style:italic;">Gm13889</text>
<text x="1984.3" y="1750.8" style="font-size:29.8px;font-style:italic;">Rgs5</text>
<text x="1984.3" y="1782.2" style="font-size:29.8px;font-style:italic;">Ndufa4l2</text>
<text x="1984.3" y="1813.6" style="font-size:29.8px;font-style:italic;">Higd1b</text>
<text x="1984.3" y="1844.9" style="font-size:29.8px;font-style:italic;">Cox4i2</text>
<defs><linearGradient id="cb" x1="0" y1="0" x2="0" y2="1"><stop offset="0" stop-color="#ff0000"/><stop offset="0.5" stop-color="#ffffff"/><stop offset="1" stop-color="#0000ff"/></linearGradient></defs>
<rect x="2142.1" y="1024" width="32.4" height="492.1" fill="url(#cb)"/>
<text x="2188.7" y="1059.3" style="font-size:29.8px;">4</text>
<text x="2188.7" y="1168.1" style="font-size:29.8px;">2</text>
<text x="2188.7" y="1277.4" style="font-size:29.8px;">0</text>
<text x="2188.7" y="1386.1" style="font-size:29.8px;">−2</text>
<text x="2188.7" y="1494.9" style="font-size:29.8px;">−4</text>
<text x="2139.6" y="1563.4" style="font-size:32.5px;">Cell type</text>
<rect x="2142.1" y="1584.5" width="46.8" height="47.9" fill="#ff7001"/>
<text x="2199.5" y="1619.3" style="font-size:32px;">FB</text>
<rect x="2142.1" y="1632.1" width="46.8" height="47.1" fill="#c81000"/>
<text x="2199.5" y="1667" style="font-size:32px;">CM</text>
<rect x="2142.1" y="1678.9" width="46.8" height="46.9" fill="#0090a0"/>
<text x="2199.5" y="1713.8" style="font-size:32px;">EC</text>
<rect x="2142.1" y="1725.5" width="46.8" height="47.7" fill="#88409c"/>
<text x="2199.5" y="1760.7" style="font-size:32px;">MP</text>
<rect x="2142.1" y="1772.9" width="46.8" height="48.3" fill="#ff94a8"/>
<text x="2199.5" y="1807.5" style="font-size:32px;">SMC</text>
<text x="1445" y="2013.7" style="font-size:43px;">E</text>
<g transform="translate(1916.3 2267.1) scale(1 0.9815) translate(-1916.3 -2267.1)">
<path d="M1916.3 1965.9A301.2 301.2 0 0 1 2029.1 1987.8L2040.4 1959.9A331.3 331.3 0 0 0 1916.3 1935.8Z" fill="#9cc6bf" stroke="#222" stroke-width="1.2"/>
<path d="M2034.7 1990.1A301.2 301.2 0 0 1 2129.8 2054.6L2151.1 2033.4A331.3 331.3 0 0 0 2046.5 1962.5Z" fill="#e1e1b3" stroke="#222" stroke-width="1.2"/>
<path d="M2134.0 2059.0A301.2 301.2 0 0 1 2148.0 2074.6L2171.1 2055.4A331.3 331.3 0 0 0 2155.8 2038.2Z" fill="#bab7ca" stroke="#222" stroke-width="1.2"/>
<path d="M2151.8 2079.3A301.2 301.2 0 0 1 2190.8 2143.2L2218.3 2130.8A331.3 331.3 0 0 0 2175.3 2060.5Z" fill="#de948c" stroke="#222" stroke-width="1.2"/>
<path d="M2193.3 2148.7A301.2 301.2 0 0 1 2217.4 2261.1L2247.5 2260.5A331.3 331.3 0 0 0 2220.9 2136.9Z" fill="#94b2c6" stroke="#222" stroke-width="1.2"/>
<path d="M2217.5 2267.1A301.2 301.2 0 0 1 2195.6 2379.9L2223.5 2391.2A331.3 331.3 0 0 0 2247.6 2267.1Z" fill="#dfb482" stroke="#222" stroke-width="1.2"/>
<path d="M2193.3 2385.5A301.2 301.2 0 0 1 2163.5 2439.2L2188.2 2456.4A331.3 331.3 0 0 0 2220.9 2397.3Z" fill="#b3cd87" stroke="#222" stroke-width="1.2"/>
<path d="M2160.0 2444.1A301.2 301.2 0 0 1 2087.2 2515.1L2104.3 2539.9A331.3 331.3 0 0 0 2184.3 2461.8Z" fill="#dfc3d1" stroke="#222" stroke-width="1.2"/>
<path d="M2082.2 2518.5A301.2 301.2 0 0 1 2027.8 2546.9L2038.9 2574.9A331.3 331.3 0 0 0 2098.8 2543.6Z" fill="#cacaca" stroke="#222" stroke-width="1.2"/>
<path d="M2022.1 2549.1A301.2 301.2 0 0 1 1922.3 2568.2L1922.9 2598.3A331.3 331.3 0 0 0 2032.7 2577.3Z" fill="#b894b9" stroke="#222" stroke-width="1.2"/>
<g stroke="#222" stroke-width="1.1" stroke-linejoin="round"><path d="M1916.3 1965.9Q1916.3 2267.1 1910.3 1966.0L1900.4 1966.3Q1916.3 2267.1 1929.1 1966.2Z" fill="#8dd3c7"/><path d="M1929.1 1966.2Q1916.3 2267.1 1817.5 1982.6L1805.6 1987.0Q1916.3 2267.1 1942.0 1967.0Z" fill="#8dd3c7"/><path d="M1942.0 1967.0Q1916.3 2267.1 1734.4 2027.0L1727.4 2032.5Q1916.3 2267.1 1954.7 1968.4Z" fill="#8dd3c7"/><path d="M1954.7 1968.4Q1916.3 2267.1 1669.1 2095.0L1659.4 2109.8Q1916.3 2267.1 1967.4 1970.3Z" fill="#8dd3c7"/><path d="M1967.4 1970.3Q1916.3 2267.1 1628.0 2179.8L1622.4 2201.2Q1916.3 2267.1 1980.1 1972.7Z" fill="#8dd3c7"/><path d="M1980.1 1972.7Q1916.3 2267.1 1615.2 2273.1L1616.0 2290.8Q1916.3 2267.1 1992.6 1975.7Z" fill="#8dd3c7"/><path d="M1992.6 1975.7Q1916.3 2267.1 1631.8 2365.9L1635.1 2375.1Q1916.3 2267.1 2004.9 1979.2Z" fill="#8dd3c7"/><path d="M2004.9 1979.2Q1916.3 2267.1 1676.2 2449.0L1682.3 2456.7Q1916.3 2267.1 2017.1 1983.3Z" fill="#8dd3c7"/><path d="M2017.1 1983.3Q1916.3 2267.1 1744.2 2514.3L1752.3 2519.8Q1916.3 2267.1 2029.1 1987.8Z" fill="#8dd3c7"/><path d="M2034.7 1990.1Q1916.3 2267.1 1900.4 1966.3L1890.6 1967.0Q1916.3 2267.1 2046.4 1995.4Z" fill="#ffffb3"/><path d="M2046.4 1995.4Q1916.3 2267.1 1805.6 1987.0L1794.0 1991.9Q1916.3 2267.1 2057.8 2001.2Z" fill="#ffffb3"/><path d="M2057.8 2001.2Q1916.3 2267.1 1727.4 2032.5L1720.6 2038.1Q1916.3 2267.1 2069.1 2007.5Z" fill="#ffffb3"/><path d="M2069.1 2007.5Q1916.3 2267.1 1659.4 2109.8L1650.6 2125.2Q1916.3 2267.1 2080.0 2014.3Z" fill="#ffffb3"/><path d="M2080.0 2014.3Q1916.3 2267.1 1622.4 2201.2L1618.4 2223.0Q1916.3 2267.1 2090.6 2021.5Z" fill="#ffffb3"/><path d="M2090.6 2021.5Q1916.3 2267.1 1616.0 2290.8L1617.9 2308.4Q1916.3 2267.1 2100.9 2029.1Z" fill="#ffffb3"/><path d="M2100.9 2029.1Q1916.3 2267.1 1635.1 2375.1L1638.8 2384.3Q1916.3 2267.1 2110.9 2037.2Z" fill="#ffffb3"/><path d="M2110.9 2037.2Q1916.3 2267.1 1682.3 2456.7L1688.6 2464.3Q1916.3 2267.1 2120.5 2045.7Z" fill="#ffffb3"/><path d="M2120.5 2045.7Q1916.3 2267.1 1752.3 2519.8L1760.7 2525.0Q1916.3 2267.1 2129.8 2054.6Z" fill="#ffffb3"/><path d="M2134.0 2059.0Q1916.3 2267.1 1794.0 1991.9L1782.5 1997.2Q1916.3 2267.1 2141.1 2066.7Z" fill="#bebada"/><path d="M2141.1 2066.7Q1916.3 2267.1 1720.6 2038.1L1714.0 2044.0Q1916.3 2267.1 2148.0 2074.6Z" fill="#bebada"/><path d="M2151.8 2079.3Q1916.3 2267.1 1890.6 1967.0L1880.8 1968.0Q1916.3 2267.1 2159.4 2089.2Z" fill="#fb8072"/><path d="M2159.4 2089.2Q1916.3 2267.1 1714.0 2044.0L1707.5 2050.0Q1916.3 2267.1 2166.6 2099.5Z" fill="#fb8072"/><path d="M2166.6 2099.5Q1916.3 2267.1 1618.4 2223.0L1615.9 2245.0Q1916.3 2267.1 2173.3 2110.0Z" fill="#fb8072"/><path d="M2173.3 2110.0Q1916.3 2267.1 1638.8 2384.3L1642.8 2393.3Q1916.3 2267.1 2179.6 2120.8Z" fill="#fb8072"/><path d="M2179.6 2120.8Q1916.3 2267.1 1688.6 2464.3L1695.2 2471.6Q1916.3 2267.1 2185.5 2131.9Z" fill="#fb8072"/><path d="M2185.5 2131.9Q1916.3 2267.1 1760.7 2525.0L1769.2 2529.9Q1916.3 2267.1 2190.8 2143.2Z" fill="#fb8072"/><path d="M2193.3 2148.7Q1916.3 2267.1 1880.8 1968.0L1871.1 1969.3Q1916.3 2267.1 2198.1 2160.6Z" fill="#80b1d3"/><path d="M2198.1 2160.6Q1916.3 2267.1 1782.5 1997.2L1771.3 2003.1Q1916.3 2267.1 2202.3 2172.8Z" fill="#80b1d3"/><path d="M2202.3 2172.8Q1916.3 2267.1 1707.5 2050.0L1701.2 2056.3Q1916.3 2267.1 2206.1 2185.0Z" fill="#80b1d3"/><path d="M2206.1 2185.0Q1916.3 2267.1 1650.6 2125.2L1642.7 2141.0Q1916.3 2267.1 2209.3 2197.5Z" fill="#80b1d3"/><path d="M2209.3 2197.5Q1916.3 2267.1 1617.9 2308.4L1620.9 2325.9Q1916.3 2267.1 2212.0 2210.0Z" fill="#80b1d3"/><path d="M2212.0 2210.0Q1916.3 2267.1 1642.8 2393.3L1647.1 2402.1Q1916.3 2267.1 2214.2 2222.7Z" fill="#80b1d3"/><path d="M2214.2 2222.7Q1916.3 2267.1 1695.2 2471.6L1702.0 2478.7Q1916.3 2267.1 2215.8 2235.4Z" fill="#80b1d3"/><path d="M2215.8 2235.4Q1916.3 2267.1 1769.2 2529.9L1777.9 2534.6Q1916.3 2267.1 2216.9 2248.2Z" fill="#80b1d3"/><path d="M2216.9 2248.2Q1916.3 2267.1 1829.0 2555.4L1857.6 2562.5Q1916.3 2267.1 2217.4 2261.1Z" fill="#80b1d3"/><path d="M2217.5 2267.1Q1916.3 2267.1 1871.1 1969.3L1861.4 1971.0Q1916.3 2267.1 2217.2 2279.9Z" fill="#fdb462"/><path d="M2217.2 2279.9Q1916.3 2267.1 1771.3 2003.1L1760.3 2009.4Q1916.3 2267.1 2216.4 2292.8Z" fill="#fdb462"/><path d="M2216.4 2292.8Q1916.3 2267.1 1701.2 2056.3L1695.1 2062.7Q1916.3 2267.1 2215.0 2305.5Z" fill="#fdb462"/><path d="M2215.0 2305.5Q1916.3 2267.1 1642.7 2141.0L1635.8 2157.3Q1916.3 2267.1 2213.1 2318.2Z" fill="#fdb462"/><path d="M2213.1 2318.2Q1916.3 2267.1 1620.9 2325.9L1624.9 2343.2Q1916.3 2267.1 2210.7 2330.9Z" fill="#fdb462"/><path d="M2210.7 2330.9Q1916.3 2267.1 1647.1 2402.1L1651.6 2410.9Q1916.3 2267.1 2207.7 2343.4Z" fill="#fdb462"/><path d="M2207.7 2343.4Q1916.3 2267.1 1702.0 2478.7L1709.0 2485.6Q1916.3 2267.1 2204.2 2355.7Z" fill="#fdb462"/><path d="M2204.2 2355.7Q1916.3 2267.1 1777.9 2534.6L1786.7 2539.0Q1916.3 2267.1 2200.1 2367.9Z" fill="#fdb462"/><path d="M2200.1 2367.9Q1916.3 2267.1 1857.6 2562.5L1886.8 2566.9Q1916.3 2267.1 2195.6 2379.9Z" fill="#fdb462"/><path d="M2193.3 2385.5Q1916.3 2267.1 1861.4 1971.0L1851.7 1972.9Q1916.3 2267.1 2188.2 2396.7Z" fill="#b3de69"/><path d="M2188.2 2396.7Q1916.3 2267.1 1695.1 2062.7L1689.2 2069.3Q1916.3 2267.1 2182.7 2407.7Z" fill="#b3de69"/><path d="M2182.7 2407.7Q1916.3 2267.1 1651.6 2410.9L1656.5 2419.4Q1916.3 2267.1 2176.7 2418.5Z" fill="#b3de69"/><path d="M2176.7 2418.5Q1916.3 2267.1 1709.0 2485.6L1716.3 2492.3Q1916.3 2267.1 2170.3 2429.0Z" fill="#b3de69"/><path d="M2170.3 2429.0Q1916.3 2267.1 1786.7 2539.0L1795.6 2543.1Q1916.3 2267.1 2163.5 2439.2Z" fill="#b3de69"/><path d="M2160.0 2444.1Q1916.3 2267.1 1851.7 1972.9L1842.1 1975.2Q1916.3 2267.1 2152.3 2454.3Z" fill="#fccde5"/><path d="M2152.3 2454.3Q1916.3 2267.1 1760.3 2009.4L1749.7 2016.2Q1916.3 2267.1 2144.1 2464.1Z" fill="#fccde5"/><path d="M2144.1 2464.1Q1916.3 2267.1 1689.2 2069.3L1683.5 2076.0Q1916.3 2267.1 2135.6 2473.6Z" fill="#fccde5"/><path d="M2135.6 2473.6Q1916.3 2267.1 1635.8 2157.3L1629.8 2174.0Q1916.3 2267.1 2126.6 2482.7Z" fill="#fccde5"/><path d="M2126.6 2482.7Q1916.3 2267.1 1615.9 2245.0L1615.1 2267.1Q1916.3 2267.1 2117.3 2491.4Z" fill="#fccde5"/><path d="M2117.3 2491.4Q1916.3 2267.1 1656.5 2419.4L1661.6 2427.8Q1916.3 2267.1 2107.6 2499.7Z" fill="#fccde5"/><path d="M2107.6 2499.7Q1916.3 2267.1 1716.3 2492.3L1723.7 2498.7Q1916.3 2267.1 2097.6 2507.6Z" fill="#fccde5"/><path d="M2097.6 2507.6Q1916.3 2267.1 1795.6 2543.1L1804.7 2546.9Q1916.3 2267.1 2087.2 2515.1Z" fill="#fccde5"/><path d="M2082.2 2518.5Q1916.3 2267.1 1842.1 1975.2L1832.6 1977.8Q1916.3 2267.1 2071.8 2525.0Z" fill="#d9d9d9"/><path d="M2071.8 2525.0Q1916.3 2267.1 1683.5 2076.0L1677.9 2083.0Q1916.3 2267.1 2061.1 2531.2Z" fill="#d9d9d9"/><path d="M2061.1 2531.2Q1916.3 2267.1 1661.6 2427.8L1667.0 2436.1Q1916.3 2267.1 2050.2 2536.9Z" fill="#d9d9d9"/><path d="M2050.2 2536.9Q1916.3 2267.1 1723.7 2498.7L1731.4 2504.9Q1916.3 2267.1 2039.1 2542.1Z" fill="#d9d9d9"/><path d="M2039.1 2542.1Q1916.3 2267.1 1804.7 2546.9L1813.9 2550.4Q1916.3 2267.1 2027.8 2546.9Z" fill="#d9d9d9"/><path d="M2022.1 2549.1Q1916.3 2267.1 1832.6 1977.8L1823.2 1980.6Q1916.3 2267.1 2010.1 2553.3Z" fill="#bc80bd"/><path d="M2010.1 2553.3Q1916.3 2267.1 1749.7 2016.2L1739.3 2023.4Q1916.3 2267.1 1997.9 2557.0Z" fill="#bc80bd"/><path d="M1997.9 2557.0Q1916.3 2267.1 1677.9 2083.0L1672.6 2090.1Q1916.3 2267.1 1985.5 2560.2Z" fill="#bc80bd"/><path d="M1985.5 2560.2Q1916.3 2267.1 1624.9 2343.2L1629.8 2360.2Q1916.3 2267.1 1973.0 2562.9Z" fill="#bc80bd"/><path d="M1973.0 2562.9Q1916.3 2267.1 1667.0 2436.1L1672.6 2444.1Q1916.3 2267.1 1960.5 2565.0Z" fill="#bc80bd"/><path d="M1960.5 2565.0Q1916.3 2267.1 1731.4 2504.9L1739.3 2510.8Q1916.3 2267.1 1947.8 2566.6Z" fill="#bc80bd"/><path d="M1947.8 2566.6Q1916.3 2267.1 1813.9 2550.4L1823.2 2553.6Q1916.3 2267.1 1935.1 2567.7Z" fill="#bc80bd"/><path d="M1935.1 2567.7Q1916.3 2267.1 1886.8 2566.9L1916.3 2568.3Q1916.3 2267.1 1922.3 2568.2Z" fill="#bc80bd"/></g>
<path d="M1910.0 1951.0A316.2 316.2 0 0 0 1818.6 1966.4L1813.9 1952.0A331.3 331.3 0 0 1 1909.7 1935.9Z" fill="#cb2228" stroke="#222" stroke-width="1.0"/>
<path d="M1812.6 1968.4A316.2 316.2 0 0 0 1730.4 2011.3L1721.6 1999.1A331.3 331.3 0 0 1 1807.6 1954.1Z" fill="#dd5851" stroke="#222" stroke-width="1.0"/>
<path d="M1725.4 2015.1A316.2 316.2 0 0 0 1660.5 2081.2L1648.3 2072.4A331.3 331.3 0 0 1 1716.2 2003.0Z" fill="#ea7468" stroke="#222" stroke-width="1.0"/>
<path d="M1656.8 2086.4A316.2 316.2 0 0 0 1615.6 2169.4L1601.2 2164.7A331.3 331.3 0 0 1 1644.4 2077.8Z" fill="#eb796d" stroke="#222" stroke-width="1.0"/>
<path d="M1613.7 2175.4A316.2 316.2 0 0 0 1600.1 2267.1L1585.0 2267.1A331.3 331.3 0 0 1 1599.2 2171.0Z" fill="#ec7c70" stroke="#222" stroke-width="1.0"/>
<path d="M1600.2 2273.4A316.2 316.2 0 0 0 1615.6 2364.8L1601.2 2369.5A331.3 331.3 0 0 1 1585.1 2273.7Z" fill="#ec7f73" stroke="#222" stroke-width="1.0"/>
<path d="M1617.6 2370.8A316.2 316.2 0 0 0 1660.5 2453.0L1648.3 2461.8A331.3 331.3 0 0 1 1603.3 2375.8Z" fill="#ed8275" stroke="#222" stroke-width="1.0"/>
<path d="M1664.3 2458.0A316.2 316.2 0 0 0 1730.4 2522.9L1721.6 2535.1A331.3 331.3 0 0 1 1652.2 2467.2Z" fill="#ee867a" stroke="#222" stroke-width="1.0"/>
<path d="M1735.6 2526.6A316.2 316.2 0 0 0 1818.6 2567.8L1813.9 2582.2A331.3 331.3 0 0 1 1727.0 2539.0Z" fill="#ef8a7e" stroke="#222" stroke-width="1.0"/>
<path d="M1824.6 2569.7A316.2 316.2 0 0 0 1916.3 2583.3L1916.3 2598.4A331.3 331.3 0 0 1 1820.2 2584.2Z" fill="#ef8d81" stroke="#222" stroke-width="1.0"/>
<text transform="translate(1858.8 1925.9) rotate(90)" text-anchor="end" y="2" style="font-size:33px;font-style:italic">Ttn</text>
<text transform="translate(1756.1 1960.4) rotate(70)" text-anchor="end" y="9" style="font-size:33px;font-style:italic">Myh7</text>
<text transform="translate(1669.2 2024.9) rotate(50)" text-anchor="end" y="10" style="font-size:33px;font-style:italic">Myh6</text>
<text transform="translate(1612.7 2116.2) rotate(30)" text-anchor="end" y="10" style="font-size:33px;font-style:italic">Pln</text>
<text transform="translate(1574.0 2216.4) rotate(10)" text-anchor="end" y="10" style="font-size:33px;font-style:italic">Atp2a2</text>
<text transform="translate(1575.1 2324.6) rotate(-10)" text-anchor="end" y="10" style="font-size:33px;font-style:italic">Tnni1</text>
<text transform="translate(1608.7 2427.7) rotate(-30)" text-anchor="end" y="10" style="font-size:33px;font-style:italic">Actc1</text>
<text transform="translate(1670.6 2517.8) rotate(-50)" text-anchor="end" y="10" style="font-size:33px;font-style:italic">Mybpc3</text>
<text transform="translate(1760.5 2580.5) rotate(-70)" text-anchor="end" y="10" style="font-size:33px;font-style:italic">Tnnt2</text>
<text transform="translate(1864.9 2614.3) rotate(-90)" text-anchor="end" y="8" style="font-size:33px;font-style:italic">Ankrd1</text>
</g>
<rect x="1649.2" y="2716.8" width="46.6" height="49" fill="#f2f2f2"/>
<rect x="1656.3" y="2724.5" width="32.5" height="33.6" fill="#8dd3c7" stroke="#222" stroke-width="1.2"/>
<text x="1719.2" y="2747.8" style="font-size:33px;">Muscle system process</text>
<rect x="1649.2" y="2777.2" width="46.6" height="49" fill="#f2f2f2"/>
<rect x="1656.3" y="2784.9" width="32.5" height="33.6" fill="#ffffb3" stroke="#222" stroke-width="1.2"/>
<text x="1719.2" y="2810.2" style="font-size:33px;">Muscle contraction</text>
<rect x="1650" y="2833.8" width="46.6" height="49" fill="#f2f2f2"/>
<rect x="1657.1" y="2841.5" width="32.5" height="33.6" fill="#bebada" stroke="#222" stroke-width="1.2"/>
<text x="1719.2" y="2866.8" style="font-size:33px;">ATP metabolic process</text>
<rect x="1649.2" y="2892.2" width="46.6" height="49" fill="#f2f2f2"/>
<rect x="1656.3" y="2899.9" width="32.5" height="33.6" fill="#fb8072" stroke="#222" stroke-width="1.2"/>
<text x="1719.2" y="2927.2" style="font-size:33px;">Muscle cell development</text>
<rect x="1649.2" y="2950.5" width="46.6" height="49" fill="#f2f2f2"/>
<rect x="1656.3" y="2958.2" width="32.5" height="33.6" fill="#80b1d3" stroke="#222" stroke-width="1.2"/>
<text x="1719.2" y="2985.5" style="font-size:33px;">Cardiac muscle tissue development</text>
<rect x="1649.2" y="3003.0" width="46.6" height="49" fill="#f2f2f2"/>
<rect x="1656.3" y="3010.7" width="32.5" height="33.6" fill="#fdb462" stroke="#222" stroke-width="1.2"/>
<text x="1719.2" y="3038.0" style="font-size:33px;">Striated muscle tissue development</text>
<rect x="1650" y="3058.8" width="46.6" height="49" fill="#f2f2f2"/>
<rect x="1657.1" y="3066.5" width="32.5" height="33.6" fill="#b3de69" stroke="#222" stroke-width="1.2"/>
<text x="1719.2" y="3093.8" style="font-size:33px;">Striated muscle cell differentiation</text>
<rect x="1650.4" y="3118.0" width="46.6" height="49" fill="#f2f2f2"/>
<rect x="1657.5" y="3125.7" width="32.5" height="33.6" fill="#fccde5" stroke="#222" stroke-width="1.2"/>
<text x="1719.2" y="3154.0" style="font-size:33px;">Cardiac muscle contraction</text>
<rect x="1651.3" y="3180.5" width="46.6" height="49" fill="#f2f2f2"/>
<rect x="1658.4" y="3188.2" width="32.5" height="33.6" fill="#d9d9d9" stroke="#222" stroke-width="1.2"/>
<text x="1719.2" y="3215.5" style="font-size:33px;">Myofibril assembly</text>
<rect x="1652" y="3243.8" width="46.6" height="49" fill="#f2f2f2"/>
<rect x="1659.1" y="3251.5" width="32.5" height="33.6" fill="#bc80bd" stroke="#222" stroke-width="1.2"/>
<text x="1719.2" y="3282.3" style="font-size:33px;">Muscle organ development</text>
</svg></body></html>
